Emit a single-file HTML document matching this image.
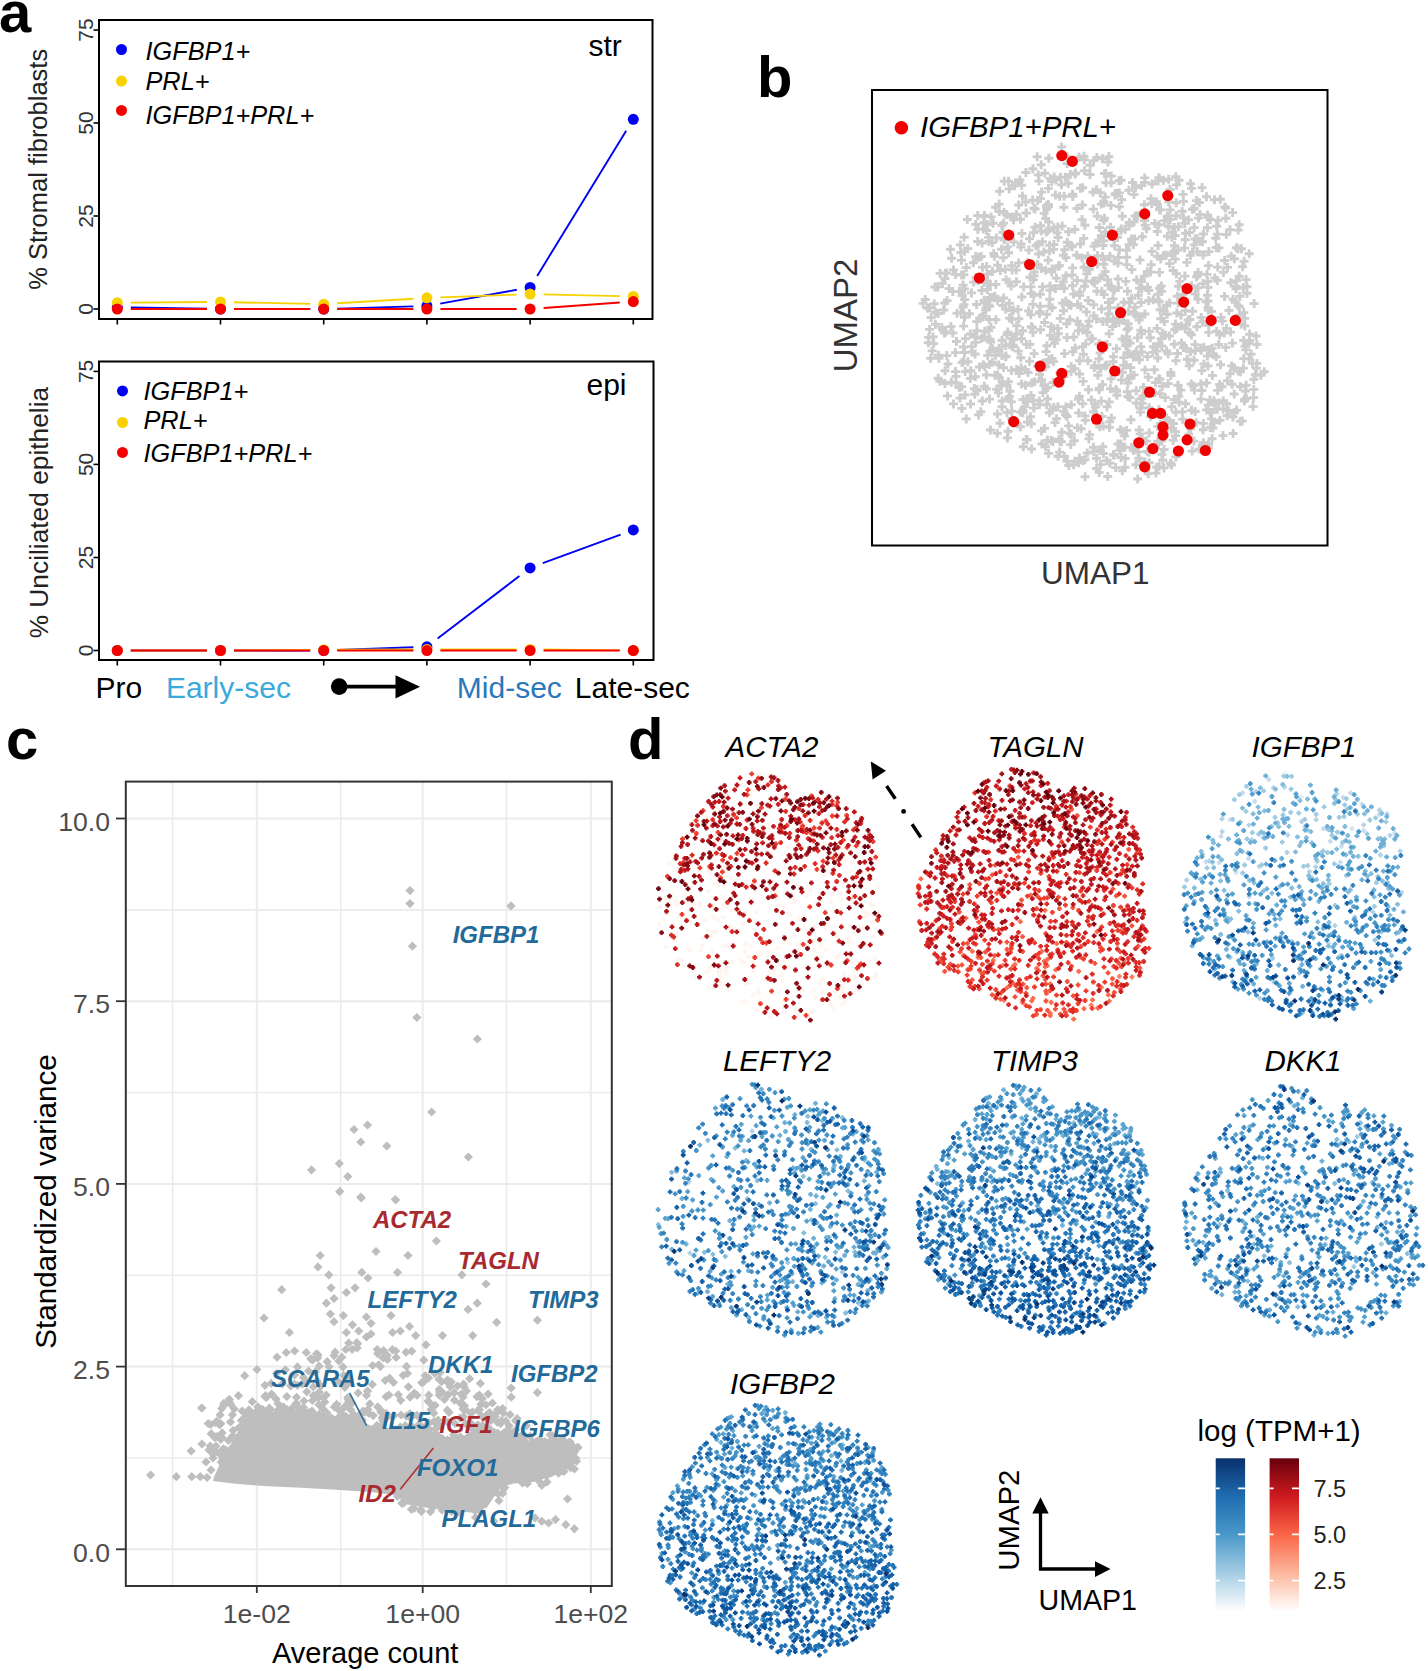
<!DOCTYPE html><html><head><meta charset="utf-8"><style>html,body{margin:0;padding:0;background:#fff;overflow:hidden;}svg{display:block;font-family:"Liberation Sans", sans-serif;}</style></head><body><svg width="1428" height="1671" viewBox="0 0 1428 1671"><rect width="1428" height="1671" fill="#fff"/><text x="-1" y="31.5" font-size="58" font-weight="bold">a</text><path d="M130.8 307.5L207 308.8M234 309L310.2 309M337.2 308.6L413.4 306.4M440.2 303.6L516.8 289.8M537.2 275.9L626.2 130.8" stroke="#0000f5" stroke-width="1.9" fill="none"/><circle cx="117.3" cy="307.3" r="5.5" fill="#0000f5"/><circle cx="220.5" cy="309" r="5.5" fill="#0000f5"/><circle cx="323.7" cy="309" r="5.5" fill="#0000f5"/><circle cx="426.9" cy="306" r="5.5" fill="#0000f5"/><circle cx="530.1" cy="287.4" r="5.5" fill="#0000f5"/><circle cx="633.3" cy="119.3" r="5.5" fill="#0000f5"/><path d="M130.8 302.6L207 302M234 302.2L310.2 303.9M337.2 303.3L413.4 298.7M440.4 297.4L516.6 294.6M543.6 294.4L619.8 296.1" stroke="#f8d200" stroke-width="1.9" fill="none"/><circle cx="117.3" cy="302.7" r="5.5" fill="#f8d200"/><circle cx="220.5" cy="301.9" r="5.5" fill="#f8d200"/><circle cx="323.7" cy="304.2" r="5.5" fill="#f8d200"/><circle cx="426.9" cy="297.8" r="5.5" fill="#f8d200"/><circle cx="530.1" cy="294.1" r="5.5" fill="#f8d200"/><circle cx="633.3" cy="296.4" r="5.5" fill="#f8d200"/><path d="M130.8 309L207 309M234 309L310.2 309M337.2 309L413.4 309M440.4 309L516.6 309M543.6 308L619.8 302.5" stroke="#f50000" stroke-width="1.9" fill="none"/><circle cx="117.3" cy="309" r="5.5" fill="#f50000"/><circle cx="220.5" cy="309" r="5.5" fill="#f50000"/><circle cx="323.7" cy="309" r="5.5" fill="#f50000"/><circle cx="426.9" cy="309" r="5.5" fill="#f50000"/><circle cx="530.1" cy="309" r="5.5" fill="#f50000"/><circle cx="633.3" cy="301.6" r="5.5" fill="#f50000"/><rect x="99" y="20" width="553.5" height="299" fill="none" stroke="#000" stroke-width="2"/><path d="M93.5 309H99" stroke="#000" stroke-width="1.6"/><text transform="translate(93 309) rotate(-90)" text-anchor="middle" font-size="21" fill="#333">0</text><path d="M93.5 216H99" stroke="#000" stroke-width="1.6"/><text transform="translate(93 216) rotate(-90)" text-anchor="middle" font-size="21" fill="#333">25</text><path d="M93.5 123H99" stroke="#000" stroke-width="1.6"/><text transform="translate(93 123) rotate(-90)" text-anchor="middle" font-size="21" fill="#333">50</text><path d="M93.5 30H99" stroke="#000" stroke-width="1.6"/><text transform="translate(93 30) rotate(-90)" text-anchor="middle" font-size="21" fill="#333">75</text><path d="M117.3 319V324.5" stroke="#000" stroke-width="1.6"/><path d="M220.5 319V324.5" stroke="#000" stroke-width="1.6"/><path d="M323.7 319V324.5" stroke="#000" stroke-width="1.6"/><path d="M426.9 319V324.5" stroke="#000" stroke-width="1.6"/><path d="M530.1 319V324.5" stroke="#000" stroke-width="1.6"/><path d="M633.3 319V324.5" stroke="#000" stroke-width="1.6"/><text transform="translate(46.8 169.3) rotate(-90)" text-anchor="middle" font-size="25.5" fill="#222">% Stromal fibroblasts</text><text x="588.5" y="55.8" font-size="30" fill="#000">str</text><circle cx="121.5" cy="49.5" r="5.5" fill="#0000f5"/><text x="145.5" y="60.3" font-size="25.3" font-style="italic" fill="#000">IGFBP1+</text><circle cx="121.5" cy="81.1" r="5.5" fill="#f8d200"/><text x="145.5" y="90.2" font-size="25.3" font-style="italic" fill="#000">PRL+</text><circle cx="121.5" cy="110.4" r="5.5" fill="#f50000"/><text x="145.5" y="123.5" font-size="25.3" font-style="italic" fill="#000">IGFBP1+PRL+</text><path d="M130.8 650.5L207 650.5M234 650.5L310.2 650.5M337.2 650L413.4 647.3M437.6 638.6L519.4 576.1M542.8 563.2L620.6 534.6" stroke="#0000f5" stroke-width="1.9" fill="none"/><circle cx="117.3" cy="650.5" r="5.5" fill="#0000f5"/><circle cx="220.5" cy="650.5" r="5.5" fill="#0000f5"/><circle cx="323.7" cy="650.5" r="5.5" fill="#0000f5"/><circle cx="426.9" cy="646.8" r="5.5" fill="#0000f5"/><circle cx="530.1" cy="567.9" r="5.5" fill="#0000f5"/><circle cx="633.3" cy="529.9" r="5.5" fill="#0000f5"/><path d="M130.8 650.5L207 650.5M234 650.4L310.2 649.9M337.2 649.7L413.4 649.4M440.4 649.4L516.6 649.4M543.6 649.5L619.8 650.4" stroke="#f8d200" stroke-width="1.9" fill="none"/><circle cx="117.3" cy="650.5" r="5.5" fill="#f8d200"/><circle cx="220.5" cy="650.5" r="5.5" fill="#f8d200"/><circle cx="323.7" cy="649.8" r="5.5" fill="#f8d200"/><circle cx="426.9" cy="649.4" r="5.5" fill="#f8d200"/><circle cx="530.1" cy="649.4" r="5.5" fill="#f8d200"/><circle cx="633.3" cy="650.5" r="5.5" fill="#f8d200"/><path d="M130.8 650.5L207 650.5M234 650.5L310.2 650.5M337.2 650.5L413.4 650.5M440.4 650.5L516.6 650.5M543.6 650.5L619.8 650.5" stroke="#f50000" stroke-width="1.9" fill="none"/><circle cx="117.3" cy="650.5" r="5.5" fill="#f50000"/><circle cx="220.5" cy="650.5" r="5.5" fill="#f50000"/><circle cx="323.7" cy="650.5" r="5.5" fill="#f50000"/><circle cx="426.9" cy="650.5" r="5.5" fill="#f50000"/><circle cx="530.1" cy="650.5" r="5.5" fill="#f50000"/><circle cx="633.3" cy="650.5" r="5.5" fill="#f50000"/><rect x="99" y="361.5" width="554.5" height="298.5" fill="none" stroke="#000" stroke-width="2"/><path d="M93.5 650.5H99" stroke="#000" stroke-width="1.6"/><text transform="translate(93 650.5) rotate(-90)" text-anchor="middle" font-size="21" fill="#333">0</text><path d="M93.5 557.5H99" stroke="#000" stroke-width="1.6"/><text transform="translate(93 557.5) rotate(-90)" text-anchor="middle" font-size="21" fill="#333">25</text><path d="M93.5 464.4H99" stroke="#000" stroke-width="1.6"/><text transform="translate(93 464.4) rotate(-90)" text-anchor="middle" font-size="21" fill="#333">50</text><path d="M93.5 371.4H99" stroke="#000" stroke-width="1.6"/><text transform="translate(93 371.4) rotate(-90)" text-anchor="middle" font-size="21" fill="#333">75</text><path d="M117.3 660V665.5" stroke="#000" stroke-width="1.6"/><path d="M220.5 660V665.5" stroke="#000" stroke-width="1.6"/><path d="M323.7 660V665.5" stroke="#000" stroke-width="1.6"/><path d="M426.9 660V665.5" stroke="#000" stroke-width="1.6"/><path d="M530.1 660V665.5" stroke="#000" stroke-width="1.6"/><path d="M633.3 660V665.5" stroke="#000" stroke-width="1.6"/><text transform="translate(47.8 512.6) rotate(-90)" text-anchor="middle" font-size="26.3" fill="#222">% Unciliated epithelia</text><text x="586.5" y="395" font-size="30" fill="#000">epi</text><circle cx="122.5" cy="390.9" r="5.5" fill="#0000f5"/><text x="143.5" y="399.5" font-size="25.3" font-style="italic" fill="#000">IGFBP1+</text><circle cx="122.5" cy="422.5" r="5.5" fill="#f8d200"/><text x="143.5" y="429.3" font-size="25.3" font-style="italic" fill="#000">PRL+</text><circle cx="122.5" cy="452.4" r="5.5" fill="#f50000"/><text x="143.5" y="462" font-size="25.3" font-style="italic" fill="#000">IGFBP1+PRL+</text><text x="95.6" y="697.8" font-size="30" fill="#000">Pro</text><text x="165.9" y="697.8" font-size="30" fill="#3aa9dc">Early-sec</text><text x="456.8" y="697.8" font-size="30" fill="#2b78bd">Mid-sec</text><text x="574.8" y="697.8" font-size="30" fill="#000">Late-sec</text><circle cx="339.2" cy="686.6" r="8.3" fill="#000"/><path d="M339 686.6H397" stroke="#000" stroke-width="3.6"/><path d="M395.5 675.2L420 686.8L395.5 698.5Z" fill="#000"/><text x="757" y="96.5" font-size="58" font-weight="bold">b</text><rect x="872" y="90" width="455.5" height="455.5" fill="none" stroke="#000" stroke-width="2"/><path d="M1073.9 330.9h9m-4.5-4.5v9M1234.9 306.9h9m-4.5-4.5v9M1094.3 344h9m-4.5-4.5v9M978.4 316.2h9m-4.5-4.5v9M1136.1 412.1h9m-4.5-4.5v9M945.8 249.2h9m-4.5-4.5v9M1148.3 352.4h9m-4.5-4.5v9M1101.3 173.5h9m-4.5-4.5v9M978.8 228.9h9m-4.5-4.5v9M929.7 303.7h9m-4.5-4.5v9M1072.9 427.7h9m-4.5-4.5v9M1094.4 359h9m-4.5-4.5v9M1089.8 367.6h9m-4.5-4.5v9M1075.9 244h9m-4.5-4.5v9M1202.2 382.9h9m-4.5-4.5v9M1030.6 227.3h9m-4.5-4.5v9M1021.4 172.5h9m-4.5-4.5v9M1180.4 276.1h9m-4.5-4.5v9M1210.3 278h9m-4.5-4.5v9M1233.6 305.8h9m-4.5-4.5v9M942.3 355.6h9m-4.5-4.5v9M1180.7 239.7h9m-4.5-4.5v9M947.1 258.3h9m-4.5-4.5v9M1249 397.6h9m-4.5-4.5v9M1194.8 202.5h9m-4.5-4.5v9M1109.8 290.3h9m-4.5-4.5v9M982 389h9m-4.5-4.5v9M959.3 361.2h9m-4.5-4.5v9M958.6 285.1h9m-4.5-4.5v9M991.9 238h9m-4.5-4.5v9M1021.8 439.4h9m-4.5-4.5v9M985.8 284.8h9m-4.5-4.5v9M1216.1 364.8h9m-4.5-4.5v9M1185.9 255.4h9m-4.5-4.5v9M952 341.5h9m-4.5-4.5v9M1001.2 345.6h9m-4.5-4.5v9M1045.3 299.2h9m-4.5-4.5v9M1249.6 303.6h9m-4.5-4.5v9M1118.7 431.4h9m-4.5-4.5v9M1228.4 417h9m-4.5-4.5v9M999.6 212.6h9m-4.5-4.5v9M1171.4 456.9h9m-4.5-4.5v9M1221.3 347.4h9m-4.5-4.5v9M1063.7 183.4h9m-4.5-4.5v9M997.8 382.2h9m-4.5-4.5v9M1007.4 418.5h9m-4.5-4.5v9M1122.2 250.2h9m-4.5-4.5v9M979.8 386.3h9m-4.5-4.5v9M1116 429.7h9m-4.5-4.5v9M1128.9 244.6h9m-4.5-4.5v9M1065.8 174.6h9m-4.5-4.5v9M978 267.3h9m-4.5-4.5v9M1112.2 193.2h9m-4.5-4.5v9M1043 440.3h9m-4.5-4.5v9M1252.3 363.4h9m-4.5-4.5v9M1154.4 343.8h9m-4.5-4.5v9M1159.5 467.9h9m-4.5-4.5v9M926.2 358.2h9m-4.5-4.5v9M1084.1 389.7h9m-4.5-4.5v9M946.4 326.5h9m-4.5-4.5v9M1168.7 440.4h9m-4.5-4.5v9M1173.7 385.4h9m-4.5-4.5v9M1187.7 451.1h9m-4.5-4.5v9M1035 374.3h9m-4.5-4.5v9M1061.4 406.9h9m-4.5-4.5v9M1215.1 335h9m-4.5-4.5v9M1132.2 280h9m-4.5-4.5v9M1121.2 345.5h9m-4.5-4.5v9M943.5 364h9m-4.5-4.5v9M1168.6 270.5h9m-4.5-4.5v9M1170.2 329.7h9m-4.5-4.5v9M943 395.9h9m-4.5-4.5v9M929.3 343.6h9m-4.5-4.5v9M1080.5 225.2h9m-4.5-4.5v9M1159 310.8h9m-4.5-4.5v9M1128.6 447.8h9m-4.5-4.5v9M1020.9 369.7h9m-4.5-4.5v9M991.1 207.2h9m-4.5-4.5v9M1229.7 367.7h9m-4.5-4.5v9M1069.8 440.8h9m-4.5-4.5v9M1033.1 366h9m-4.5-4.5v9M982.9 289.5h9m-4.5-4.5v9M1194.6 449.1h9m-4.5-4.5v9M1218.9 272.4h9m-4.5-4.5v9M1114.9 249.9h9m-4.5-4.5v9M964.9 313.8h9m-4.5-4.5v9M1205.7 427.4h9m-4.5-4.5v9M1158.3 460.3h9m-4.5-4.5v9M1014.2 205h9m-4.5-4.5v9M991.4 284.4h9m-4.5-4.5v9M1129.2 312.5h9m-4.5-4.5v9M1026.8 423.8h9m-4.5-4.5v9M1160.8 335.2h9m-4.5-4.5v9M1018.4 412.8h9m-4.5-4.5v9M1074.6 157.3h9m-4.5-4.5v9M1202.9 227.7h9m-4.5-4.5v9M1133.8 295.3h9m-4.5-4.5v9M1134.9 359.8h9m-4.5-4.5v9M1155 209.8h9m-4.5-4.5v9M1077.9 205h9m-4.5-4.5v9M918.6 303.4h9m-4.5-4.5v9M1165.6 209.9h9m-4.5-4.5v9M1014.1 262.9h9m-4.5-4.5v9M1156.6 318.6h9m-4.5-4.5v9M1125.5 397.6h9m-4.5-4.5v9M1053.4 406.8h9m-4.5-4.5v9M1235.9 386.5h9m-4.5-4.5v9M957.7 295.5h9m-4.5-4.5v9M1129.7 450h9m-4.5-4.5v9M1045.8 335.4h9m-4.5-4.5v9M1218.7 408.9h9m-4.5-4.5v9M1235.4 296.4h9m-4.5-4.5v9M1140 220.5h9m-4.5-4.5v9M1163.5 420.6h9m-4.5-4.5v9M1139 387.4h9m-4.5-4.5v9M1102.5 406.9h9m-4.5-4.5v9M1027 449h9m-4.5-4.5v9M1213.2 267.1h9m-4.5-4.5v9M948.3 291.5h9m-4.5-4.5v9M1104.7 401.9h9m-4.5-4.5v9M1085.6 165.2h9m-4.5-4.5v9M1029.3 408.1h9m-4.5-4.5v9M1094.9 388.1h9m-4.5-4.5v9M1207.9 375.5h9m-4.5-4.5v9M1239.3 312.6h9m-4.5-4.5v9M991.4 319.7h9m-4.5-4.5v9M1021 385.2h9m-4.5-4.5v9M1135.3 316.8h9m-4.5-4.5v9M1204.3 332.4h9m-4.5-4.5v9M1029.7 272h9m-4.5-4.5v9M1203.8 447.8h9m-4.5-4.5v9M985.9 430h9m-4.5-4.5v9M1117.8 216.2h9m-4.5-4.5v9M1104.3 313.7h9m-4.5-4.5v9M1113.6 307.8h9m-4.5-4.5v9M1103.7 285.4h9m-4.5-4.5v9M1007.3 310.6h9m-4.5-4.5v9M960.1 289h9m-4.5-4.5v9M1199 442.7h9m-4.5-4.5v9M1083.1 255.9h9m-4.5-4.5v9M985.2 351.2h9m-4.5-4.5v9M982.8 224.4h9m-4.5-4.5v9M1152.8 256.2h9m-4.5-4.5v9M1041.6 351.6h9m-4.5-4.5v9M954.7 387.5h9m-4.5-4.5v9M960 317.2h9m-4.5-4.5v9M1097.3 291.3h9m-4.5-4.5v9M1045.5 285.9h9m-4.5-4.5v9M1099.1 201.7h9m-4.5-4.5v9M991 355.3h9m-4.5-4.5v9M1207.6 348.3h9m-4.5-4.5v9M1212.1 226.2h9m-4.5-4.5v9M1171.4 412.2h9m-4.5-4.5v9M1226.7 256.3h9m-4.5-4.5v9M1002.4 385.4h9m-4.5-4.5v9M1004 181.3h9m-4.5-4.5v9M1203.5 287.4h9m-4.5-4.5v9M1187 188.4h9m-4.5-4.5v9M1055.9 372.6h9m-4.5-4.5v9M1154 444.1h9m-4.5-4.5v9M1090.4 403.9h9m-4.5-4.5v9M1093.4 375.2h9m-4.5-4.5v9M1108.6 319.2h9m-4.5-4.5v9M1110.5 194.9h9m-4.5-4.5v9M979.8 216.9h9m-4.5-4.5v9M1073.9 399.3h9m-4.5-4.5v9M1028.4 304.4h9m-4.5-4.5v9M1092.4 291.2h9m-4.5-4.5v9M1160.4 428.1h9m-4.5-4.5v9M979.6 302.8h9m-4.5-4.5v9M1175.3 281.4h9m-4.5-4.5v9M1092.4 157.5h9m-4.5-4.5v9M1223.8 410.4h9m-4.5-4.5v9M1159.7 430.7h9m-4.5-4.5v9M1136.9 281.6h9m-4.5-4.5v9M1124.1 311.6h9m-4.5-4.5v9M1174.6 402.3h9m-4.5-4.5v9M1198.5 283.6h9m-4.5-4.5v9M1155.9 393.7h9m-4.5-4.5v9M1035.8 306.2h9m-4.5-4.5v9M1137.3 352h9m-4.5-4.5v9M1146.7 264.7h9m-4.5-4.5v9M1145.8 337.8h9m-4.5-4.5v9M1098.4 275.8h9m-4.5-4.5v9M1131.7 390.7h9m-4.5-4.5v9M1004.9 282.2h9m-4.5-4.5v9M1047.3 181.5h9m-4.5-4.5v9M1251.6 336h9m-4.5-4.5v9M1123.5 396.5h9m-4.5-4.5v9M972.1 304.5h9m-4.5-4.5v9M975.2 317.9h9m-4.5-4.5v9M1242.5 286.7h9m-4.5-4.5v9M1101.4 344.7h9m-4.5-4.5v9M1045.1 245.2h9m-4.5-4.5v9M1017 383.9h9m-4.5-4.5v9M972.5 390.9h9m-4.5-4.5v9M1055.5 441.4h9m-4.5-4.5v9M1066.5 305.6h9m-4.5-4.5v9M1095.3 450.5h9m-4.5-4.5v9M1165.2 303.1h9m-4.5-4.5v9M1124.3 190.3h9m-4.5-4.5v9M1095.7 192.7h9m-4.5-4.5v9M1070.1 368.7h9m-4.5-4.5v9M1070.3 229.5h9m-4.5-4.5v9M1113.9 287.6h9m-4.5-4.5v9M1183.6 319.9h9m-4.5-4.5v9M1169.8 227.4h9m-4.5-4.5v9M1186 351.8h9m-4.5-4.5v9M1037.9 241.7h9m-4.5-4.5v9M1156.6 338.8h9m-4.5-4.5v9M1122.7 352.6h9m-4.5-4.5v9M1177.7 211.2h9m-4.5-4.5v9M1006.7 286h9m-4.5-4.5v9M1128 182.5h9m-4.5-4.5v9M1106.7 176h9m-4.5-4.5v9M951 371.6h9m-4.5-4.5v9M1108.9 356.7h9m-4.5-4.5v9M1047.7 307.8h9m-4.5-4.5v9M993.1 265.1h9m-4.5-4.5v9M1169 423.5h9m-4.5-4.5v9M1196.7 350.3h9m-4.5-4.5v9M1179 217.9h9m-4.5-4.5v9M1064 231.8h9m-4.5-4.5v9M1193.6 272.4h9m-4.5-4.5v9M1143.7 473.7h9m-4.5-4.5v9M1028 327.7h9m-4.5-4.5v9M1172.7 451.6h9m-4.5-4.5v9M1067.7 274.9h9m-4.5-4.5v9M1153.6 245.5h9m-4.5-4.5v9M994.2 364.9h9m-4.5-4.5v9M1166.4 375.5h9m-4.5-4.5v9M1017.9 196h9m-4.5-4.5v9M1041.5 388.1h9m-4.5-4.5v9M1043.9 188.4h9m-4.5-4.5v9M1231.6 288.8h9m-4.5-4.5v9M1192.9 251.7h9m-4.5-4.5v9M1028.7 279.7h9m-4.5-4.5v9M1007.2 265.6h9m-4.5-4.5v9M1041.2 270.3h9m-4.5-4.5v9M1051.9 278.1h9m-4.5-4.5v9M984.1 330.8h9m-4.5-4.5v9M1192.4 326.7h9m-4.5-4.5v9M977.8 401h9m-4.5-4.5v9M1221.8 234.5h9m-4.5-4.5v9M926.6 317.6h9m-4.5-4.5v9M1104.7 333.8h9m-4.5-4.5v9M1248.1 363.4h9m-4.5-4.5v9M970.3 394.3h9m-4.5-4.5v9M1142 228.8h9m-4.5-4.5v9M997.7 401h9m-4.5-4.5v9M1096.7 401.1h9m-4.5-4.5v9M1054.9 265.4h9m-4.5-4.5v9M1252 368.2h9m-4.5-4.5v9M1083.5 326.3h9m-4.5-4.5v9M1163.7 383.6h9m-4.5-4.5v9M1232.1 280.6h9m-4.5-4.5v9M1203.5 365.9h9m-4.5-4.5v9M1212.6 409.3h9m-4.5-4.5v9M1204 444.2h9m-4.5-4.5v9M1244.7 358.9h9m-4.5-4.5v9M1098.1 384.6h9m-4.5-4.5v9M1193.5 287.7h9m-4.5-4.5v9M1068.3 196.4h9m-4.5-4.5v9M1044.1 206.8h9m-4.5-4.5v9M957.5 362.6h9m-4.5-4.5v9M1187.9 209.2h9m-4.5-4.5v9M940.2 303h9m-4.5-4.5v9M1118.2 447.7h9m-4.5-4.5v9M979.4 222.8h9m-4.5-4.5v9M1124.8 222.5h9m-4.5-4.5v9M984.3 241.4h9m-4.5-4.5v9M1026.8 326.8h9m-4.5-4.5v9M1203.5 307.6h9m-4.5-4.5v9M1229.9 258.8h9m-4.5-4.5v9M1105.4 463.1h9m-4.5-4.5v9M1193.2 275.3h9m-4.5-4.5v9M1102.3 321.4h9m-4.5-4.5v9M1044.9 412.7h9m-4.5-4.5v9M1162 351h9m-4.5-4.5v9M1029.1 232.6h9m-4.5-4.5v9M1217.9 321.1h9m-4.5-4.5v9M1133.1 479h9m-4.5-4.5v9M1012.1 325.8h9m-4.5-4.5v9M966 404h9m-4.5-4.5v9M1209.6 422.9h9m-4.5-4.5v9M1159.1 180.3h9m-4.5-4.5v9M1083.7 300.5h9m-4.5-4.5v9M1245 340.5h9m-4.5-4.5v9M1211.8 247.5h9m-4.5-4.5v9M1187 285.8h9m-4.5-4.5v9M1203.5 217.3h9m-4.5-4.5v9M1102.7 319.4h9m-4.5-4.5v9M1024.4 250.1h9m-4.5-4.5v9M1078.6 381.4h9m-4.5-4.5v9M951 274.4h9m-4.5-4.5v9M1074.1 462.7h9m-4.5-4.5v9M1199.5 364h9m-4.5-4.5v9M1163.7 226.2h9m-4.5-4.5v9M1194 218.1h9m-4.5-4.5v9M1046.6 326.6h9m-4.5-4.5v9M1023.1 262.2h9m-4.5-4.5v9M1055.4 373.3h9m-4.5-4.5v9M1007.8 216.9h9m-4.5-4.5v9M1170.7 259.1h9m-4.5-4.5v9M1245.1 334.2h9m-4.5-4.5v9M1151.1 382.5h9m-4.5-4.5v9M979.3 282.5h9m-4.5-4.5v9M1204.7 349.8h9m-4.5-4.5v9M1056 177.3h9m-4.5-4.5v9M1231.3 286.5h9m-4.5-4.5v9M1178.2 419.3h9m-4.5-4.5v9M1058.6 153.9h9m-4.5-4.5v9M1056.7 379.2h9m-4.5-4.5v9M1038.3 363.2h9m-4.5-4.5v9M957.1 275h9m-4.5-4.5v9M1091 407h9m-4.5-4.5v9M1199.4 347.3h9m-4.5-4.5v9M1226.1 332.1h9m-4.5-4.5v9M1042.2 314.3h9m-4.5-4.5v9M969.9 388.6h9m-4.5-4.5v9M1160.3 422.2h9m-4.5-4.5v9M1133.2 215.7h9m-4.5-4.5v9M1116.9 379.9h9m-4.5-4.5v9M1044.4 306.1h9m-4.5-4.5v9M1109.4 239h9m-4.5-4.5v9M1196.3 348.3h9m-4.5-4.5v9M1018.8 446.7h9m-4.5-4.5v9M1002.5 334.8h9m-4.5-4.5v9M1203.1 214.9h9m-4.5-4.5v9M1147.4 251.4h9m-4.5-4.5v9M1146.6 391.9h9m-4.5-4.5v9M1050 343.4h9m-4.5-4.5v9M985.2 306.4h9m-4.5-4.5v9M971.5 277.5h9m-4.5-4.5v9M1114.8 206.8h9m-4.5-4.5v9M1096.8 235.7h9m-4.5-4.5v9M1113.8 257.5h9m-4.5-4.5v9M1146.4 198.8h9m-4.5-4.5v9M1244.5 343.3h9m-4.5-4.5v9M1080.1 286.2h9m-4.5-4.5v9M1126.3 375.8h9m-4.5-4.5v9M1174.2 396.3h9m-4.5-4.5v9M1059.7 288.4h9m-4.5-4.5v9M1113.5 444h9m-4.5-4.5v9M1066.2 444.6h9m-4.5-4.5v9M1028.4 168.7h9m-4.5-4.5v9M1169.8 344.2h9m-4.5-4.5v9M1173.4 250.1h9m-4.5-4.5v9M1090.2 281h9m-4.5-4.5v9M933.6 378.3h9m-4.5-4.5v9M1094.8 227.5h9m-4.5-4.5v9M1025.5 277.2h9m-4.5-4.5v9M1144.7 432.9h9m-4.5-4.5v9M1061.1 414.8h9m-4.5-4.5v9M994 392.9h9m-4.5-4.5v9M959.1 326.1h9m-4.5-4.5v9M1003.1 246.9h9m-4.5-4.5v9M1222.7 415.7h9m-4.5-4.5v9M1053.9 266.3h9m-4.5-4.5v9M1024.1 311h9m-4.5-4.5v9M1077.5 219.6h9m-4.5-4.5v9M1228.1 212.6h9m-4.5-4.5v9M1204 265.6h9m-4.5-4.5v9M1167.5 253.7h9m-4.5-4.5v9M1162.7 193.7h9m-4.5-4.5v9M1157.4 454.6h9m-4.5-4.5v9M1071.1 173h9m-4.5-4.5v9M997 249.2h9m-4.5-4.5v9M1162.7 216.3h9m-4.5-4.5v9M1144.6 407.7h9m-4.5-4.5v9M1042.9 362.8h9m-4.5-4.5v9M1227.9 343.1h9m-4.5-4.5v9M1233.7 370.9h9m-4.5-4.5v9M1016.3 357.7h9m-4.5-4.5v9M1072.9 321.3h9m-4.5-4.5v9M1103.4 162.1h9m-4.5-4.5v9M1002.5 412.5h9m-4.5-4.5v9M1173.9 226.8h9m-4.5-4.5v9M1018.2 330.8h9m-4.5-4.5v9M1074.9 396.3h9m-4.5-4.5v9M1053.5 456.3h9m-4.5-4.5v9M1088.8 209.1h9m-4.5-4.5v9M1108.7 361.7h9m-4.5-4.5v9M1041.2 366.7h9m-4.5-4.5v9M1185.4 319.5h9m-4.5-4.5v9M1095.2 426.7h9m-4.5-4.5v9M1156.3 318.8h9m-4.5-4.5v9M1189.7 208.5h9m-4.5-4.5v9M1129.6 221.8h9m-4.5-4.5v9M1066.8 404.8h9m-4.5-4.5v9M1181.1 403.7h9m-4.5-4.5v9M1001.3 309.2h9m-4.5-4.5v9M997.5 340.2h9m-4.5-4.5v9M1089.2 160.6h9m-4.5-4.5v9M1123.4 383h9m-4.5-4.5v9M922.9 308.2h9m-4.5-4.5v9M1069.1 294.1h9m-4.5-4.5v9M1007.2 411.1h9m-4.5-4.5v9M1111.2 321.5h9m-4.5-4.5v9M1189.6 227.6h9m-4.5-4.5v9M974.2 257.3h9m-4.5-4.5v9M1134.7 320.1h9m-4.5-4.5v9M1009.3 339.9h9m-4.5-4.5v9M973.4 229.4h9m-4.5-4.5v9M970.8 376.7h9m-4.5-4.5v9M1202.1 409.9h9m-4.5-4.5v9M937.9 283.4h9m-4.5-4.5v9M1044.2 222.1h9m-4.5-4.5v9M1086.9 399.9h9m-4.5-4.5v9M1049.1 249.4h9m-4.5-4.5v9M1060.7 177.3h9m-4.5-4.5v9M1176.4 390.1h9m-4.5-4.5v9M998.4 232.2h9m-4.5-4.5v9M1106 227.3h9m-4.5-4.5v9M1075 458.1h9m-4.5-4.5v9M1043.6 260.2h9m-4.5-4.5v9M930.4 287h9m-4.5-4.5v9M1037 379.7h9m-4.5-4.5v9M1214.3 344.5h9m-4.5-4.5v9M1220.1 296.4h9m-4.5-4.5v9M1050.5 422.6h9m-4.5-4.5v9M1047.6 410.3h9m-4.5-4.5v9M980.3 331.2h9m-4.5-4.5v9M973.3 215.6h9m-4.5-4.5v9M993.1 300.7h9m-4.5-4.5v9M1026.5 293.6h9m-4.5-4.5v9M1259.7 371.8h9m-4.5-4.5v9M1213.6 220.3h9m-4.5-4.5v9M1049.7 177h9m-4.5-4.5v9M1154.9 272.4h9m-4.5-4.5v9M982.2 230.5h9m-4.5-4.5v9M1162.8 236.2h9m-4.5-4.5v9M1041.9 205.7h9m-4.5-4.5v9M1238.1 266.7h9m-4.5-4.5v9M1028.7 400.2h9m-4.5-4.5v9M1053.3 227h9m-4.5-4.5v9M1026.4 286.9h9m-4.5-4.5v9M1110.7 193.7h9m-4.5-4.5v9M1166.3 372.5h9m-4.5-4.5v9M1106.9 418h9m-4.5-4.5v9M1144.5 452.2h9m-4.5-4.5v9M993.1 375.1h9m-4.5-4.5v9M1140.4 462h9m-4.5-4.5v9M1140.2 177.9h9m-4.5-4.5v9M1061.5 275.7h9m-4.5-4.5v9M940.9 273.2h9m-4.5-4.5v9M1035 313.4h9m-4.5-4.5v9M1057.8 303.1h9m-4.5-4.5v9M975 367h9m-4.5-4.5v9M1038 286.9h9m-4.5-4.5v9M971.1 342.4h9m-4.5-4.5v9M1158.2 333.3h9m-4.5-4.5v9M933.6 313.5h9m-4.5-4.5v9M1119.4 302.3h9m-4.5-4.5v9M1219.7 333.1h9m-4.5-4.5v9M1006.9 370.4h9m-4.5-4.5v9M984.7 304.9h9m-4.5-4.5v9M1131.4 464.8h9m-4.5-4.5v9M1048.5 339.2h9m-4.5-4.5v9M1239.9 401h9m-4.5-4.5v9M1057.1 285.5h9m-4.5-4.5v9M1008.6 422.9h9m-4.5-4.5v9M1025.7 264.9h9m-4.5-4.5v9M1150.3 223.5h9m-4.5-4.5v9M925.1 329.4h9m-4.5-4.5v9M1090.3 365.6h9m-4.5-4.5v9M1105.3 421.7h9m-4.5-4.5v9M1037.4 444h9m-4.5-4.5v9M1027.2 382.9h9m-4.5-4.5v9M1155.3 379.2h9m-4.5-4.5v9M970.6 354h9m-4.5-4.5v9M1082.6 332.5h9m-4.5-4.5v9M1181.8 325h9m-4.5-4.5v9M1029.5 208.2h9m-4.5-4.5v9M1091.9 189.8h9m-4.5-4.5v9M951.3 382.9h9m-4.5-4.5v9M960.2 299.6h9m-4.5-4.5v9M1180.9 310.7h9m-4.5-4.5v9M1005 318.1h9m-4.5-4.5v9M1168 232.2h9m-4.5-4.5v9M1161.6 255.3h9m-4.5-4.5v9M1034.8 400.9h9m-4.5-4.5v9M1108.4 289.3h9m-4.5-4.5v9M1163.6 353.8h9m-4.5-4.5v9M1205.6 412.6h9m-4.5-4.5v9M959.3 274.7h9m-4.5-4.5v9M1120.7 458.5h9m-4.5-4.5v9M1155.1 288.4h9m-4.5-4.5v9M935.3 381.3h9m-4.5-4.5v9M1032.7 156.7h9m-4.5-4.5v9M1105.3 307.9h9m-4.5-4.5v9M1045 250.7h9m-4.5-4.5v9M1191.8 422.8h9m-4.5-4.5v9M1012 281.8h9m-4.5-4.5v9M1192.1 200.6h9m-4.5-4.5v9M1088.4 192.1h9m-4.5-4.5v9M1130.1 238.9h9m-4.5-4.5v9M1041.7 232h9m-4.5-4.5v9M1088.2 281.5h9m-4.5-4.5v9M1192 276.9h9m-4.5-4.5v9M938.3 330.1h9m-4.5-4.5v9M1043.1 399h9m-4.5-4.5v9M1026.3 314.8h9m-4.5-4.5v9M1097.5 416.5h9m-4.5-4.5v9M1190 390.1h9m-4.5-4.5v9M1059.3 411.4h9m-4.5-4.5v9M1203.8 405.1h9m-4.5-4.5v9M1241.6 279.6h9m-4.5-4.5v9M1120.6 229.2h9m-4.5-4.5v9M1047.2 271.9h9m-4.5-4.5v9M1145.9 416.8h9m-4.5-4.5v9M1044.3 359.5h9m-4.5-4.5v9M1171.7 215.8h9m-4.5-4.5v9M1172.1 328.6h9m-4.5-4.5v9M1152.9 204.5h9m-4.5-4.5v9M1058.8 255.3h9m-4.5-4.5v9M1026.5 395.4h9m-4.5-4.5v9M1064.3 465.5h9m-4.5-4.5v9M1012.2 369.4h9m-4.5-4.5v9M1244.7 253.8h9m-4.5-4.5v9M982.1 266.5h9m-4.5-4.5v9M1129.9 444.5h9m-4.5-4.5v9M1211.7 356.7h9m-4.5-4.5v9M1087.9 338.6h9m-4.5-4.5v9M1153.3 294.4h9m-4.5-4.5v9M1143.1 287.1h9m-4.5-4.5v9M1049.3 227.7h9m-4.5-4.5v9M1123.3 340.6h9m-4.5-4.5v9M1098 158.8h9m-4.5-4.5v9M1123 343.4h9m-4.5-4.5v9M1168.6 252h9m-4.5-4.5v9M1057.4 432.3h9m-4.5-4.5v9M1237.7 421h9m-4.5-4.5v9M1196.7 317.5h9m-4.5-4.5v9M1215.2 384.5h9m-4.5-4.5v9M1074.7 324.6h9m-4.5-4.5v9M1188.1 311.3h9m-4.5-4.5v9M1209.5 400.7h9m-4.5-4.5v9M1109.6 455.2h9m-4.5-4.5v9M1215.4 420.3h9m-4.5-4.5v9M1217.4 386.8h9m-4.5-4.5v9M984.7 364.6h9m-4.5-4.5v9M1062.5 156.8h9m-4.5-4.5v9M1034.2 254h9m-4.5-4.5v9M1124.7 378.8h9m-4.5-4.5v9M1154.2 300.9h9m-4.5-4.5v9M1240.5 346.3h9m-4.5-4.5v9M1039.6 213.4h9m-4.5-4.5v9M1256.4 375.3h9m-4.5-4.5v9M1165.1 263.6h9m-4.5-4.5v9M967.4 351.9h9m-4.5-4.5v9M1062.6 416.5h9m-4.5-4.5v9M1061.3 300.9h9m-4.5-4.5v9M1092 458.2h9m-4.5-4.5v9M1022.6 439.7h9m-4.5-4.5v9M1015.9 426.7h9m-4.5-4.5v9M1148.7 299.7h9m-4.5-4.5v9M1234.7 276.2h9m-4.5-4.5v9M1062.8 242.3h9m-4.5-4.5v9M1069.2 464.7h9m-4.5-4.5v9M1023.6 372.5h9m-4.5-4.5v9M1152.8 231.5h9m-4.5-4.5v9M1059.6 196.3h9m-4.5-4.5v9M1225.5 229.8h9m-4.5-4.5v9M1061.6 257.6h9m-4.5-4.5v9M1198.5 429.8h9m-4.5-4.5v9M1124.2 328h9m-4.5-4.5v9M948.9 269.9h9m-4.5-4.5v9M1043.2 387.6h9m-4.5-4.5v9M1079.5 267.3h9m-4.5-4.5v9M1149 346.7h9m-4.5-4.5v9M1049.1 361.6h9m-4.5-4.5v9M987.9 271.5h9m-4.5-4.5v9M1171.3 176.8h9m-4.5-4.5v9M978.8 364.8h9m-4.5-4.5v9M1167.2 406.6h9m-4.5-4.5v9M958.6 307h9m-4.5-4.5v9M957.4 408.4h9m-4.5-4.5v9M960.9 338.7h9m-4.5-4.5v9M1091.2 243.3h9m-4.5-4.5v9M1185.2 232.6h9m-4.5-4.5v9M1062.6 163.6h9m-4.5-4.5v9M988 297.3h9m-4.5-4.5v9M1108.5 299h9m-4.5-4.5v9M1210 199.7h9m-4.5-4.5v9M1060 353.6h9m-4.5-4.5v9M974.1 414.9h9m-4.5-4.5v9M972.3 321.6h9m-4.5-4.5v9M1134.8 430h9m-4.5-4.5v9M933.3 286.9h9m-4.5-4.5v9M1141.9 441.1h9m-4.5-4.5v9M1089 447.3h9m-4.5-4.5v9M1170.6 235.5h9m-4.5-4.5v9M1045.4 290.1h9m-4.5-4.5v9M937.2 327.4h9m-4.5-4.5v9M1103 279.8h9m-4.5-4.5v9M1173.6 303.1h9m-4.5-4.5v9M1120.5 467.2h9m-4.5-4.5v9M1042.4 345.8h9m-4.5-4.5v9M1125.7 343.1h9m-4.5-4.5v9M1000.2 238.6h9m-4.5-4.5v9M1212.8 280.4h9m-4.5-4.5v9M1014.6 373.6h9m-4.5-4.5v9M1198.6 255h9m-4.5-4.5v9M1026 416.8h9m-4.5-4.5v9M1189.5 360.3h9m-4.5-4.5v9M933.8 355.2h9m-4.5-4.5v9M1108.9 454.4h9m-4.5-4.5v9M1240 399.6h9m-4.5-4.5v9M1174 286.3h9m-4.5-4.5v9M1151.4 473.1h9m-4.5-4.5v9M1190.6 294h9m-4.5-4.5v9M1171.8 273.8h9m-4.5-4.5v9M1075.4 291.9h9m-4.5-4.5v9M956.4 252.5h9m-4.5-4.5v9M1144.7 331.4h9m-4.5-4.5v9M1098.7 426.1h9m-4.5-4.5v9M1079.8 159.7h9m-4.5-4.5v9M976.9 338.2h9m-4.5-4.5v9M968.9 262.7h9m-4.5-4.5v9M1118.7 320.6h9m-4.5-4.5v9M1051.9 339.9h9m-4.5-4.5v9M1154.4 224.8h9m-4.5-4.5v9M1005.6 391.3h9m-4.5-4.5v9M1117 229.1h9m-4.5-4.5v9M1068.4 351.8h9m-4.5-4.5v9M1111.2 467.6h9m-4.5-4.5v9M1228.6 299.2h9m-4.5-4.5v9M1174.5 180.2h9m-4.5-4.5v9M1022.8 422.1h9m-4.5-4.5v9M1033.1 200.4h9m-4.5-4.5v9M1184 219.9h9m-4.5-4.5v9M986.5 327.3h9m-4.5-4.5v9M1177 343h9m-4.5-4.5v9M1241.6 385.2h9m-4.5-4.5v9M1167.4 237.3h9m-4.5-4.5v9M1100.7 231.9h9m-4.5-4.5v9M1017.4 233.5h9m-4.5-4.5v9M959.4 304.7h9m-4.5-4.5v9M1009.3 241.9h9m-4.5-4.5v9M1014.3 318.7h9m-4.5-4.5v9M1215.8 199.2h9m-4.5-4.5v9M1208.4 428h9m-4.5-4.5v9M1122.5 329.6h9m-4.5-4.5v9M1171 324.1h9m-4.5-4.5v9M1042.2 404.8h9m-4.5-4.5v9M999.1 298h9m-4.5-4.5v9M1240.1 318.4h9m-4.5-4.5v9M1113.5 263.1h9m-4.5-4.5v9M1114.9 192.9h9m-4.5-4.5v9M928.5 336.9h9m-4.5-4.5v9M1250.8 374.8h9m-4.5-4.5v9M1209.9 402.9h9m-4.5-4.5v9M1100 173.4h9m-4.5-4.5v9M1096.8 204.1h9m-4.5-4.5v9M1099.3 264.3h9m-4.5-4.5v9M1092.8 216.1h9m-4.5-4.5v9M1156.8 286h9m-4.5-4.5v9M1085.5 174.5h9m-4.5-4.5v9M963.3 248.6h9m-4.5-4.5v9M1117.9 372.4h9m-4.5-4.5v9M1129.4 354.5h9m-4.5-4.5v9M1096.1 464.6h9m-4.5-4.5v9M1095.1 343.8h9m-4.5-4.5v9M1177.9 411.7h9m-4.5-4.5v9M1203.2 281.5h9m-4.5-4.5v9M1033.4 265.1h9m-4.5-4.5v9M1098 256.4h9m-4.5-4.5v9M1004.8 303.3h9m-4.5-4.5v9M999 367.6h9m-4.5-4.5v9M1007.5 319.4h9m-4.5-4.5v9M1002.9 437.9h9m-4.5-4.5v9M1001.9 214.5h9m-4.5-4.5v9M1050.9 195.1h9m-4.5-4.5v9M1049.4 244.5h9m-4.5-4.5v9M1122.8 391.7h9m-4.5-4.5v9M1080.8 420.3h9m-4.5-4.5v9M960.7 371.6h9m-4.5-4.5v9M1036.7 164.8h9m-4.5-4.5v9M1022.1 213.1h9m-4.5-4.5v9M1176.9 325.9h9m-4.5-4.5v9M1022.2 399h9m-4.5-4.5v9M1235 315.1h9m-4.5-4.5v9M971.2 256.6h9m-4.5-4.5v9M1110.1 245.8h9m-4.5-4.5v9M1078.1 346.7h9m-4.5-4.5v9M1203.5 300.9h9m-4.5-4.5v9M971.7 389.9h9m-4.5-4.5v9M992.9 414h9m-4.5-4.5v9M1127.4 269.6h9m-4.5-4.5v9M1078.8 354.3h9m-4.5-4.5v9M1062.2 323.7h9m-4.5-4.5v9M1077.6 258h9m-4.5-4.5v9M1233.7 230.1h9m-4.5-4.5v9M1094.7 472.4h9m-4.5-4.5v9M1117.1 199.6h9m-4.5-4.5v9M951.5 376.4h9m-4.5-4.5v9M1036.1 329.7h9m-4.5-4.5v9M1089.2 451.6h9m-4.5-4.5v9M1095.3 277.9h9m-4.5-4.5v9M1008.7 345.1h9m-4.5-4.5v9M1136.6 302.5h9m-4.5-4.5v9M952.5 313.3h9m-4.5-4.5v9M1083.4 360.8h9m-4.5-4.5v9M1102.1 460.7h9m-4.5-4.5v9M1082 311.9h9m-4.5-4.5v9M1012.6 423.6h9m-4.5-4.5v9M1092.9 263.9h9m-4.5-4.5v9M986.6 216.9h9m-4.5-4.5v9M1154.5 409.8h9m-4.5-4.5v9M1162.1 418.2h9m-4.5-4.5v9M1239.3 358.6h9m-4.5-4.5v9M940.6 370.8h9m-4.5-4.5v9M1214.4 247.9h9m-4.5-4.5v9M981.9 375h9m-4.5-4.5v9M1131 187.5h9m-4.5-4.5v9M1214.3 403h9m-4.5-4.5v9M1184.3 434.1h9m-4.5-4.5v9M1116.6 457.5h9m-4.5-4.5v9M1140.4 314h9m-4.5-4.5v9M1047.7 269h9m-4.5-4.5v9M1137.7 403.3h9m-4.5-4.5v9M1025 238.7h9m-4.5-4.5v9M983.2 355.4h9m-4.5-4.5v9M1231.9 247.8h9m-4.5-4.5v9M1241.3 349.9h9m-4.5-4.5v9M1248.5 406.6h9m-4.5-4.5v9M1031.5 245.7h9m-4.5-4.5v9M1097.1 309h9m-4.5-4.5v9M1103.9 302.5h9m-4.5-4.5v9M985.4 339.3h9m-4.5-4.5v9M998.7 257.8h9m-4.5-4.5v9M1040.1 322.5h9m-4.5-4.5v9M998.1 305.5h9m-4.5-4.5v9M1066.5 371.4h9m-4.5-4.5v9M1180.8 328.7h9m-4.5-4.5v9M1134.5 458.2h9m-4.5-4.5v9M972.4 330.7h9m-4.5-4.5v9M1182.7 359.2h9m-4.5-4.5v9M1154.8 301.9h9m-4.5-4.5v9M1080.3 459.7h9m-4.5-4.5v9M1157.4 291.4h9m-4.5-4.5v9M1111.5 389.6h9m-4.5-4.5v9M1152 351.1h9m-4.5-4.5v9M1079.5 156.2h9m-4.5-4.5v9M940.4 278.6h9m-4.5-4.5v9M1078.1 187.7h9m-4.5-4.5v9M1086.3 339.2h9m-4.5-4.5v9M960.1 251.3h9m-4.5-4.5v9M992.7 433.2h9m-4.5-4.5v9M1089.9 283.1h9m-4.5-4.5v9M1054.7 439.3h9m-4.5-4.5v9M1072.2 255.3h9m-4.5-4.5v9M1023 401.5h9m-4.5-4.5v9M1076.3 306.7h9m-4.5-4.5v9M1048.4 441.6h9m-4.5-4.5v9M1169.9 245.7h9m-4.5-4.5v9M1166.1 463.2h9m-4.5-4.5v9M1140.5 369.9h9m-4.5-4.5v9M1066.7 366.4h9m-4.5-4.5v9M1103.2 476.5h9m-4.5-4.5v9M1037.1 381h9m-4.5-4.5v9M1181 233.2h9m-4.5-4.5v9M1124.7 225.7h9m-4.5-4.5v9M939.9 333.1h9m-4.5-4.5v9M1198.9 423.4h9m-4.5-4.5v9M1160.7 397.5h9m-4.5-4.5v9M1003.8 381.7h9m-4.5-4.5v9M1227.1 365.9h9m-4.5-4.5v9M1018.3 410.5h9m-4.5-4.5v9M1127.1 298.3h9m-4.5-4.5v9M1202.4 274.4h9m-4.5-4.5v9M1007.6 269.9h9m-4.5-4.5v9M1104.4 156.6h9m-4.5-4.5v9M1009.2 310.1h9m-4.5-4.5v9M990.4 375.3h9m-4.5-4.5v9M1156.2 258.9h9m-4.5-4.5v9M1221.3 218.3h9m-4.5-4.5v9M1074.2 412.9h9m-4.5-4.5v9M1112 348.8h9m-4.5-4.5v9M994.3 351.1h9m-4.5-4.5v9M1035.7 294.3h9m-4.5-4.5v9M1235.9 371.7h9m-4.5-4.5v9M1160.1 220.6h9m-4.5-4.5v9M1218.5 435.6h9m-4.5-4.5v9M995.8 270.5h9m-4.5-4.5v9M996.8 385.8h9m-4.5-4.5v9M1102.5 344.5h9m-4.5-4.5v9M1122.1 430.4h9m-4.5-4.5v9M1143.8 377.2h9m-4.5-4.5v9M1011.8 334h9m-4.5-4.5v9M1021.9 344.4h9m-4.5-4.5v9M1010.2 185.7h9m-4.5-4.5v9M1093 255.6h9m-4.5-4.5v9M1218.7 400.8h9m-4.5-4.5v9M1058.7 281.9h9m-4.5-4.5v9M1089.2 304.7h9m-4.5-4.5v9M1098.3 321.6h9m-4.5-4.5v9M1189.4 441.1h9m-4.5-4.5v9M1190.8 350.6h9m-4.5-4.5v9M1021.5 212.9h9m-4.5-4.5v9M1154.3 378.7h9m-4.5-4.5v9M1172.8 296.3h9m-4.5-4.5v9M1053.3 328.4h9m-4.5-4.5v9M1235.9 421.4h9m-4.5-4.5v9M1136.9 185.6h9m-4.5-4.5v9M1122.1 336.8h9m-4.5-4.5v9M979.6 300.2h9m-4.5-4.5v9M1225.6 373.7h9m-4.5-4.5v9M1099.8 259.5h9m-4.5-4.5v9M1119.2 357.6h9m-4.5-4.5v9M1106.6 182.8h9m-4.5-4.5v9M1137.8 236.7h9m-4.5-4.5v9M1196.3 384.1h9m-4.5-4.5v9M1113.5 279h9m-4.5-4.5v9M1198.9 234h9m-4.5-4.5v9M1092.1 468.5h9m-4.5-4.5v9M999.5 239.8h9m-4.5-4.5v9M1162.7 314.2h9m-4.5-4.5v9M981.3 310h9m-4.5-4.5v9M1116.2 230.8h9m-4.5-4.5v9M1076.6 428.8h9m-4.5-4.5v9M955.8 244.9h9m-4.5-4.5v9M1100.7 271.6h9m-4.5-4.5v9M965.8 334h9m-4.5-4.5v9M1130.6 215.9h9m-4.5-4.5v9M1049 328.8h9m-4.5-4.5v9M1048.7 382.5h9m-4.5-4.5v9M1016.3 247.1h9m-4.5-4.5v9M1159.5 449.5h9m-4.5-4.5v9M1171.1 431.6h9m-4.5-4.5v9M1116.4 443.9h9m-4.5-4.5v9M969.2 282.1h9m-4.5-4.5v9M1029.6 353.6h9m-4.5-4.5v9M985.2 297.4h9m-4.5-4.5v9M1011.7 270.1h9m-4.5-4.5v9M1156.1 209.9h9m-4.5-4.5v9M1205.7 219.5h9m-4.5-4.5v9M1109.6 261.1h9m-4.5-4.5v9M1060.2 249.8h9m-4.5-4.5v9M1151.9 201.8h9m-4.5-4.5v9M1059.3 207.3h9m-4.5-4.5v9M1152.2 467.3h9m-4.5-4.5v9M1197.3 370.6h9m-4.5-4.5v9M1104.9 427.4h9m-4.5-4.5v9M1126.4 419.8h9m-4.5-4.5v9M1037.1 192.1h9m-4.5-4.5v9M1222 328.4h9m-4.5-4.5v9M1020.2 406.8h9m-4.5-4.5v9M1005.6 344.8h9m-4.5-4.5v9M1092 318.9h9m-4.5-4.5v9M1129.6 374.9h9m-4.5-4.5v9M1017.3 297h9m-4.5-4.5v9M1089.1 411.8h9m-4.5-4.5v9M1055.1 452.1h9m-4.5-4.5v9M1081.3 281h9m-4.5-4.5v9M967 292.9h9m-4.5-4.5v9M1066.7 245.8h9m-4.5-4.5v9M1224.5 310.5h9m-4.5-4.5v9M1239.6 261.2h9m-4.5-4.5v9M1144.2 300.7h9m-4.5-4.5v9M1232.1 410.1h9m-4.5-4.5v9M987.8 362.2h9m-4.5-4.5v9M930.8 312.3h9m-4.5-4.5v9M1003.4 332.1h9m-4.5-4.5v9M1028.2 200.1h9m-4.5-4.5v9M1169.6 399.6h9m-4.5-4.5v9M1157.8 386.3h9m-4.5-4.5v9M1075.9 188.3h9m-4.5-4.5v9M1203.8 310.1h9m-4.5-4.5v9M1142.7 271.7h9m-4.5-4.5v9M1252.4 344.5h9m-4.5-4.5v9M965.8 378.4h9m-4.5-4.5v9M1124.6 353.5h9m-4.5-4.5v9M1181.9 348.6h9m-4.5-4.5v9M1036.9 268.4h9m-4.5-4.5v9M1153.3 426.4h9m-4.5-4.5v9M1047.5 358.4h9m-4.5-4.5v9M1004.2 252.7h9m-4.5-4.5v9M1233.5 248.7h9m-4.5-4.5v9M1004 398.6h9m-4.5-4.5v9M987.7 242.6h9m-4.5-4.5v9M1135.7 408.2h9m-4.5-4.5v9M1030.5 209.1h9m-4.5-4.5v9M1190.5 344.6h9m-4.5-4.5v9M920.7 299.5h9m-4.5-4.5v9M1122.1 257.3h9m-4.5-4.5v9M931.5 287.1h9m-4.5-4.5v9M1044.1 453.4h9m-4.5-4.5v9M961.8 419h9m-4.5-4.5v9M948.3 333h9m-4.5-4.5v9M1055.1 196.3h9m-4.5-4.5v9M1078.3 403.7h9m-4.5-4.5v9M1147.1 203.4h9m-4.5-4.5v9M1187 424.4h9m-4.5-4.5v9M1073 304.5h9m-4.5-4.5v9M1113 237.4h9m-4.5-4.5v9M1099.9 218.2h9m-4.5-4.5v9M1147.5 184h9m-4.5-4.5v9M961.8 267.6h9m-4.5-4.5v9M1075 374h9m-4.5-4.5v9M935.6 273.4h9m-4.5-4.5v9M1044.3 158.3h9m-4.5-4.5v9M944.5 288.6h9m-4.5-4.5v9M967.2 346.6h9m-4.5-4.5v9M989.2 253.4h9m-4.5-4.5v9M1192.7 238.8h9m-4.5-4.5v9M1197.6 187.6h9m-4.5-4.5v9M1019.2 286.9h9m-4.5-4.5v9M1239.2 340.5h9m-4.5-4.5v9M1036.1 225.7h9m-4.5-4.5v9M1053.9 333.8h9m-4.5-4.5v9M1082.3 273.9h9m-4.5-4.5v9M1016.7 243.9h9m-4.5-4.5v9M1223 267.4h9m-4.5-4.5v9M1185.6 332.8h9m-4.5-4.5v9M1172.3 313h9m-4.5-4.5v9M1223 380.7h9m-4.5-4.5v9M1173 353.5h9m-4.5-4.5v9M1120.3 447.2h9m-4.5-4.5v9M939.2 310h9m-4.5-4.5v9M970.5 336.9h9m-4.5-4.5v9M1171.1 435.6h9m-4.5-4.5v9M946.8 382.2h9m-4.5-4.5v9M1236.7 324.2h9m-4.5-4.5v9M925.1 307.8h9m-4.5-4.5v9M1034.5 181.1h9m-4.5-4.5v9M957 260.2h9m-4.5-4.5v9M1070.7 348h9m-4.5-4.5v9M1075.1 360.7h9m-4.5-4.5v9M1122.3 264.6h9m-4.5-4.5v9M992.2 389.3h9m-4.5-4.5v9M999.1 223.1h9m-4.5-4.5v9M1094.2 241.6h9m-4.5-4.5v9M1096.2 368.4h9m-4.5-4.5v9M1025 361.2h9m-4.5-4.5v9M988.6 223.2h9m-4.5-4.5v9M1166.7 428.9h9m-4.5-4.5v9M940.4 383.5h9m-4.5-4.5v9M1084.4 438.9h9m-4.5-4.5v9M1149.8 369.8h9m-4.5-4.5v9M1193.5 299.4h9m-4.5-4.5v9M990.4 296.3h9m-4.5-4.5v9M1152.5 328.4h9m-4.5-4.5v9M997.4 225.5h9m-4.5-4.5v9M1059.3 376.5h9m-4.5-4.5v9M1033.8 174.9h9m-4.5-4.5v9M1128.8 357.1h9m-4.5-4.5v9M1202.9 356.1h9m-4.5-4.5v9M1226.3 282.7h9m-4.5-4.5v9M1053.6 237.5h9m-4.5-4.5v9M1154.8 178h9m-4.5-4.5v9M959 347h9m-4.5-4.5v9M1013.5 309.6h9m-4.5-4.5v9M1033.7 244.3h9m-4.5-4.5v9M1196.5 399.1h9m-4.5-4.5v9M1157.3 345.9h9m-4.5-4.5v9M1213.1 390.4h9m-4.5-4.5v9M1131.7 351.7h9m-4.5-4.5v9M1009 219.7h9m-4.5-4.5v9M1025.4 344.4h9m-4.5-4.5v9M1159.8 321.5h9m-4.5-4.5v9M1098.9 453.5h9m-4.5-4.5v9M1099 240.8h9m-4.5-4.5v9M1035 404.5h9m-4.5-4.5v9M1101.5 182.8h9m-4.5-4.5v9M1156.1 424.5h9m-4.5-4.5v9M1041.1 446.7h9m-4.5-4.5v9M1040.4 173.2h9m-4.5-4.5v9M1140.3 182.4h9m-4.5-4.5v9M1001.6 279.8h9m-4.5-4.5v9M1108.2 326.6h9m-4.5-4.5v9M981.6 307.9h9m-4.5-4.5v9M1207.6 438.8h9m-4.5-4.5v9M1125.1 303.1h9m-4.5-4.5v9M1082.8 453.1h9m-4.5-4.5v9M1206.9 418.9h9m-4.5-4.5v9M1066.8 434.2h9m-4.5-4.5v9M1007.9 346.8h9m-4.5-4.5v9M1197.3 390.5h9m-4.5-4.5v9M1186.9 334.9h9m-4.5-4.5v9M1070.4 174h9m-4.5-4.5v9M1212.1 331.3h9m-4.5-4.5v9M973.2 241.5h9m-4.5-4.5v9M1106.8 286.1h9m-4.5-4.5v9M924.2 337.4h9m-4.5-4.5v9M1001 356.8h9m-4.5-4.5v9M1229.7 394h9m-4.5-4.5v9M1013.8 351.1h9m-4.5-4.5v9M1018.6 399.5h9m-4.5-4.5v9M1153.3 441.4h9m-4.5-4.5v9M949 403.9h9m-4.5-4.5v9M1128.7 450.2h9m-4.5-4.5v9M1132.9 337.9h9m-4.5-4.5v9M1029.7 275.9h9m-4.5-4.5v9M1137.7 438.7h9m-4.5-4.5v9M1165.7 219.4h9m-4.5-4.5v9M1017 338.7h9m-4.5-4.5v9M1099.6 294.6h9m-4.5-4.5v9M976.3 411.7h9m-4.5-4.5v9M1015.9 219.3h9m-4.5-4.5v9M1099.5 203h9m-4.5-4.5v9M1136.4 346.6h9m-4.5-4.5v9M1130.7 307.4h9m-4.5-4.5v9M1124.5 244.7h9m-4.5-4.5v9M1117.8 470.7h9m-4.5-4.5v9M1180 248.1h9m-4.5-4.5v9M1173.3 385.2h9m-4.5-4.5v9M1051.6 179.9h9m-4.5-4.5v9M923.8 342.7h9m-4.5-4.5v9M1136.4 330.3h9m-4.5-4.5v9M977.9 316.9h9m-4.5-4.5v9M1043.8 204.4h9m-4.5-4.5v9M1221.2 208.1h9m-4.5-4.5v9M1078.3 329.9h9m-4.5-4.5v9M1127 239.1h9m-4.5-4.5v9M934.4 358.4h9m-4.5-4.5v9M1089.7 246.4h9m-4.5-4.5v9M971.3 224.4h9m-4.5-4.5v9M1068 285.8h9m-4.5-4.5v9M1190.7 411.5h9m-4.5-4.5v9M1003.6 431.3h9m-4.5-4.5v9M1072.7 280.5h9m-4.5-4.5v9M1114.5 322.4h9m-4.5-4.5v9M1240.9 391h9m-4.5-4.5v9M1198 241.8h9m-4.5-4.5v9M1000.8 269.2h9m-4.5-4.5v9M1230.6 302.2h9m-4.5-4.5v9M1196 241.2h9m-4.5-4.5v9M1116.6 180.3h9m-4.5-4.5v9M984.2 237.4h9m-4.5-4.5v9M1178.2 294.8h9m-4.5-4.5v9M1186 183.8h9m-4.5-4.5v9M1176.4 314.9h9m-4.5-4.5v9M1057 184.8h9m-4.5-4.5v9M1142.9 451.5h9m-4.5-4.5v9M1049.2 407.3h9m-4.5-4.5v9M1100.7 197.1h9m-4.5-4.5v9M1052.7 232.9h9m-4.5-4.5v9M1122.9 291.2h9m-4.5-4.5v9M956.6 312.8h9m-4.5-4.5v9M1171.7 202.8h9m-4.5-4.5v9M995.2 191.3h9m-4.5-4.5v9M997.5 406.7h9m-4.5-4.5v9M1180.3 223.4h9m-4.5-4.5v9M1123.7 323.8h9m-4.5-4.5v9M984.7 319.5h9m-4.5-4.5v9M1137 333.7h9m-4.5-4.5v9M1137.3 288.7h9m-4.5-4.5v9M1204.2 325.4h9m-4.5-4.5v9M1004.8 188.9h9m-4.5-4.5v9M1157.3 440.7h9m-4.5-4.5v9M1136.7 398.8h9m-4.5-4.5v9M1167.1 465h9m-4.5-4.5v9M1190.6 239h9m-4.5-4.5v9M1238.9 368.1h9m-4.5-4.5v9M1092.2 417h9m-4.5-4.5v9M1016.7 367.8h9m-4.5-4.5v9M959.6 237.3h9m-4.5-4.5v9M1060 456.5h9m-4.5-4.5v9M1164.9 336h9m-4.5-4.5v9M1220.4 206.9h9m-4.5-4.5v9M985 399.1h9m-4.5-4.5v9M1135.5 433.9h9m-4.5-4.5v9M1105.6 236.6h9m-4.5-4.5v9M1094.6 389.8h9m-4.5-4.5v9M1056.9 441.7h9m-4.5-4.5v9M1126.2 367.6h9m-4.5-4.5v9M1036.9 430.9h9m-4.5-4.5v9M1033 264.5h9m-4.5-4.5v9M973.5 280.5h9m-4.5-4.5v9M1039.5 385.6h9m-4.5-4.5v9M1238.7 287.7h9m-4.5-4.5v9M1208.9 354.7h9m-4.5-4.5v9M966.3 370.7h9m-4.5-4.5v9M1062.5 461.3h9m-4.5-4.5v9M1036.7 231.1h9m-4.5-4.5v9M1100.8 365.9h9m-4.5-4.5v9M1030.2 381.8h9m-4.5-4.5v9M1153.6 181.1h9m-4.5-4.5v9M1017.2 185.3h9m-4.5-4.5v9M1178.9 201.4h9m-4.5-4.5v9M1052 418.7h9m-4.5-4.5v9M954.9 291.4h9m-4.5-4.5v9M1105.9 388.8h9m-4.5-4.5v9M955.4 398.1h9m-4.5-4.5v9M1240.3 325.9h9m-4.5-4.5v9M1065.4 319.7h9m-4.5-4.5v9M1164.3 201.9h9m-4.5-4.5v9M1079.3 238.4h9m-4.5-4.5v9M1112.1 391.2h9m-4.5-4.5v9M1216.5 317.4h9m-4.5-4.5v9M1154.3 177.8h9m-4.5-4.5v9M927.6 350.9h9m-4.5-4.5v9M1072.5 208.5h9m-4.5-4.5v9M1011.9 214.5h9m-4.5-4.5v9M1064.1 304.5h9m-4.5-4.5v9M1178.9 347.6h9m-4.5-4.5v9M960.6 394.9h9m-4.5-4.5v9M942 273h9m-4.5-4.5v9M1172.1 184.9h9m-4.5-4.5v9M976.8 256.5h9m-4.5-4.5v9M972.4 389.5h9m-4.5-4.5v9M1114.5 180.8h9m-4.5-4.5v9M1171.4 360.8h9m-4.5-4.5v9M1075.1 295.2h9m-4.5-4.5v9M1220.2 260.5h9m-4.5-4.5v9M1144.3 290.5h9m-4.5-4.5v9M1105.5 256.3h9m-4.5-4.5v9M1016.2 412.1h9m-4.5-4.5v9M941.3 332h9m-4.5-4.5v9M1098.5 245.5h9m-4.5-4.5v9M994.6 204.1h9m-4.5-4.5v9M1085 269.3h9m-4.5-4.5v9M1114.3 371.4h9m-4.5-4.5v9M1004.9 396.4h9m-4.5-4.5v9M986.2 342h9m-4.5-4.5v9M1098.3 446.8h9m-4.5-4.5v9M1139.8 276.1h9m-4.5-4.5v9M1230 412.5h9m-4.5-4.5v9M1035.6 370.3h9m-4.5-4.5v9M1067.7 246.7h9m-4.5-4.5v9M1178.6 194.4h9m-4.5-4.5v9M994.6 348.3h9m-4.5-4.5v9M1121.3 281.4h9m-4.5-4.5v9M1035.9 198.6h9m-4.5-4.5v9M1099.2 220.6h9m-4.5-4.5v9M1202.9 295.3h9m-4.5-4.5v9M977.6 243.1h9m-4.5-4.5v9M1234.7 224.8h9m-4.5-4.5v9M979.9 215.5h9m-4.5-4.5v9M962.8 219.5h9m-4.5-4.5v9M1207.2 412.4h9m-4.5-4.5v9M1130.9 354h9m-4.5-4.5v9M1246.6 354.1h9m-4.5-4.5v9M1039.3 252.1h9m-4.5-4.5v9M1182.4 262.4h9m-4.5-4.5v9M977.3 290.5h9m-4.5-4.5v9M957.1 386.7h9m-4.5-4.5v9M1227.6 384.3h9m-4.5-4.5v9M1150.3 392.8h9m-4.5-4.5v9M1121.8 365.1h9m-4.5-4.5v9M1236.9 248.8h9m-4.5-4.5v9M988.2 348.8h9m-4.5-4.5v9M1154.6 466.6h9m-4.5-4.5v9M950.9 352.6h9m-4.5-4.5v9M1011 182.7h9m-4.5-4.5v9M1151.4 414.2h9m-4.5-4.5v9M1035.4 311.7h9m-4.5-4.5v9M1144.7 462.7h9m-4.5-4.5v9M1133.6 451.9h9m-4.5-4.5v9M960 352.5h9m-4.5-4.5v9M1040.1 428.4h9m-4.5-4.5v9M994.6 377.5h9m-4.5-4.5v9M1165.5 189.5h9m-4.5-4.5v9M1102.2 364.9h9m-4.5-4.5v9M1041.2 218.5h9m-4.5-4.5v9M994.8 211.5h9m-4.5-4.5v9M1064.1 425.9h9m-4.5-4.5v9M1081.2 344.1h9m-4.5-4.5v9M1164.2 179.2h9m-4.5-4.5v9M989.9 256.2h9m-4.5-4.5v9M1140.7 225.2h9m-4.5-4.5v9M1085.2 434.7h9m-4.5-4.5v9M1084.5 321.2h9m-4.5-4.5v9M1057.1 146.9h9m-4.5-4.5v9M1080.1 170.8h9m-4.5-4.5v9M1006.9 401.9h9m-4.5-4.5v9M1015.4 180h9m-4.5-4.5v9M1062.4 337.6h9m-4.5-4.5v9M1112.4 395.3h9m-4.5-4.5v9M1106.4 205.4h9m-4.5-4.5v9M1197.8 445.3h9m-4.5-4.5v9M1186.8 384h9m-4.5-4.5v9M1188.9 385.9h9m-4.5-4.5v9M1078.5 460.4h9m-4.5-4.5v9M1136.6 439.6h9m-4.5-4.5v9M982.5 281h9m-4.5-4.5v9M1228.6 433.5h9m-4.5-4.5v9M1249.3 389.4h9m-4.5-4.5v9M1059 310.8h9m-4.5-4.5v9M1043.2 230.8h9m-4.5-4.5v9M1135 288.1h9m-4.5-4.5v9M1089.4 315.7h9m-4.5-4.5v9M1188 252h9m-4.5-4.5v9M1029.4 295.3h9m-4.5-4.5v9M1159 255.6h9m-4.5-4.5v9M1028.5 332.4h9m-4.5-4.5v9M930.9 324.3h9m-4.5-4.5v9M1212.9 234.1h9m-4.5-4.5v9M999.7 181.3h9m-4.5-4.5v9M1222.2 403.8h9m-4.5-4.5v9M1120.1 436.1h9m-4.5-4.5v9M1211.2 238.3h9m-4.5-4.5v9M1135.5 259.9h9m-4.5-4.5v9M997.4 355.6h9m-4.5-4.5v9M1142.9 356.6h9m-4.5-4.5v9M1080.4 415.9h9m-4.5-4.5v9M1189.7 244.9h9m-4.5-4.5v9M1155.5 309.8h9m-4.5-4.5v9M1184.8 365.7h9m-4.5-4.5v9M963.4 361.8h9m-4.5-4.5v9M1204.4 251.6h9m-4.5-4.5v9M1187 410.3h9m-4.5-4.5v9M1115.2 450.1h9m-4.5-4.5v9M1065.1 433.4h9m-4.5-4.5v9M1162.1 305.2h9m-4.5-4.5v9M1242.4 293.3h9m-4.5-4.5v9M1198.1 322h9m-4.5-4.5v9M1202 196.7h9m-4.5-4.5v9M1195.5 214.5h9m-4.5-4.5v9M1205.5 399.9h9m-4.5-4.5v9M995.4 423.2h9m-4.5-4.5v9M1057.7 226.1h9m-4.5-4.5v9M1207.2 311.4h9m-4.5-4.5v9M942.6 300.6h9m-4.5-4.5v9M1106.6 378.9h9m-4.5-4.5v9M1055.8 318.4h9m-4.5-4.5v9M1046.8 440.4h9m-4.5-4.5v9M1249.3 379.4h9m-4.5-4.5v9M1038.4 392.6h9m-4.5-4.5v9M1095.6 352.9h9m-4.5-4.5v9M1153.2 358h9m-4.5-4.5v9M979.7 337.2h9m-4.5-4.5v9M1070.3 461.3h9m-4.5-4.5v9M1186.2 428.8h9m-4.5-4.5v9M1045.8 178.7h9m-4.5-4.5v9M1080.6 476.8h9m-4.5-4.5v9M980.3 366.6h9m-4.5-4.5v9M1152.6 346.7h9m-4.5-4.5v9M1007.7 338.6h9m-4.5-4.5v9M1241.8 398.5h9m-4.5-4.5v9M1129.7 314h9m-4.5-4.5v9M983 274.3h9m-4.5-4.5v9M1119.2 365.2h9m-4.5-4.5v9M1068.1 267.9h9m-4.5-4.5v9M1021.3 202.1h9m-4.5-4.5v9M1145.9 271.9h9m-4.5-4.5v9M1140 204.7h9m-4.5-4.5v9M1138.3 396.2h9m-4.5-4.5v9M1050.9 288.6h9m-4.5-4.5v9M1042.3 208.5h9m-4.5-4.5v9M1131.7 403h9m-4.5-4.5v9M1201.5 301.8h9m-4.5-4.5v9M1001.5 356.1h9m-4.5-4.5v9M1069.2 337.1h9m-4.5-4.5v9M1117.6 339.1h9m-4.5-4.5v9M1129.5 194.5h9m-4.5-4.5v9M1068.1 194.3h9m-4.5-4.5v9M1146.1 272h9m-4.5-4.5v9" stroke="#cdcdcd" stroke-width="2.9" fill="none"/><circle cx="1061.8" cy="155.6" r="5.6" fill="#f00000"/><circle cx="1072.4" cy="161.4" r="5.6" fill="#f00000"/><circle cx="1167.8" cy="195.6" r="5.6" fill="#f00000"/><circle cx="1144.7" cy="213.9" r="5.6" fill="#f00000"/><circle cx="1008.8" cy="235.1" r="5.6" fill="#f00000"/><circle cx="1112.4" cy="235.1" r="5.6" fill="#f00000"/><circle cx="1029.6" cy="264.5" r="5.6" fill="#f00000"/><circle cx="1091.7" cy="261.6" r="5.6" fill="#f00000"/><circle cx="979.4" cy="278" r="5.6" fill="#f00000"/><circle cx="1187.1" cy="288.6" r="5.6" fill="#f00000"/><circle cx="1183.7" cy="302.1" r="5.6" fill="#f00000"/><circle cx="1120.6" cy="312.7" r="5.6" fill="#f00000"/><circle cx="1211.2" cy="320.4" r="5.6" fill="#f00000"/><circle cx="1235.3" cy="320.4" r="5.6" fill="#f00000"/><circle cx="1102.3" cy="346.9" r="5.6" fill="#f00000"/><circle cx="1040.2" cy="366.2" r="5.6" fill="#f00000"/><circle cx="1061.8" cy="373.4" r="5.6" fill="#f00000"/><circle cx="1058.9" cy="382.1" r="5.6" fill="#f00000"/><circle cx="1114.8" cy="371" r="5.6" fill="#f00000"/><circle cx="1149.5" cy="392.2" r="5.6" fill="#f00000"/><circle cx="1152.4" cy="413.4" r="5.6" fill="#f00000"/><circle cx="1160.6" cy="413.4" r="5.6" fill="#f00000"/><circle cx="1163" cy="426.9" r="5.6" fill="#f00000"/><circle cx="1190" cy="424" r="5.6" fill="#f00000"/><circle cx="1163" cy="435.1" r="5.6" fill="#f00000"/><circle cx="1013.7" cy="421.6" r="5.6" fill="#f00000"/><circle cx="1096.5" cy="419.2" r="5.6" fill="#f00000"/><circle cx="1138.9" cy="442.8" r="5.6" fill="#f00000"/><circle cx="1152.9" cy="448.6" r="5.6" fill="#f00000"/><circle cx="1187.1" cy="439.9" r="5.6" fill="#f00000"/><circle cx="1178.4" cy="451" r="5.6" fill="#f00000"/><circle cx="1205.4" cy="450.5" r="5.6" fill="#f00000"/><circle cx="1144.7" cy="466.9" r="5.6" fill="#f00000"/><circle cx="901.4" cy="127.7" r="6.8" fill="#f00000"/><text x="920" y="136.7" font-size="29.4" font-style="italic" fill="#000">IGFBP1+PRL+</text><text transform="translate(857 315.4) rotate(-90)" text-anchor="middle" font-size="33" fill="#333">UMAP2</text><text x="1095.3" y="584.4" text-anchor="middle" font-size="31.5" fill="#333">UMAP1</text><text x="6" y="759" font-size="58" font-weight="bold">c</text><path d="M172.6 781.6V1586" stroke="#ebebeb" stroke-width="1.6"/><path d="M340.7 781.6V1586" stroke="#ebebeb" stroke-width="1.6"/><path d="M506.5 781.6V1586" stroke="#ebebeb" stroke-width="1.6"/><path d="M125.8 1458H611.8" stroke="#ebebeb" stroke-width="1.6"/><path d="M125.8 1275.2H611.8" stroke="#ebebeb" stroke-width="1.6"/><path d="M125.8 1092.5H611.8" stroke="#ebebeb" stroke-width="1.6"/><path d="M125.8 909.9H611.8" stroke="#ebebeb" stroke-width="1.6"/><path d="M256.8 781.6V1586" stroke="#ebebeb" stroke-width="2"/><path d="M422.7 781.6V1586" stroke="#ebebeb" stroke-width="2"/><path d="M590.8 781.6V1586" stroke="#ebebeb" stroke-width="2"/><path d="M125.8 1549.3H611.8" stroke="#ebebeb" stroke-width="2"/><path d="M125.8 1366.6H611.8" stroke="#ebebeb" stroke-width="2"/><path d="M125.8 1183.9H611.8" stroke="#ebebeb" stroke-width="2"/><path d="M125.8 1001.2H611.8" stroke="#ebebeb" stroke-width="2"/><path d="M125.8 818.5H611.8" stroke="#ebebeb" stroke-width="2"/><path d="M213 1481L233 1483.5L267.3 1486.3L301.6 1487.7L335.9 1489.7L370.2 1492.1L397.7 1495.6L404.5 1504.1L425.1 1507.6L456 1511L473.2 1512.7L486.9 1507.6L493.8 1497.3L500.6 1487L514.4 1483.5L535 1481.8L555.5 1475L574 1466.4L575 1452.7L562.4 1447.5L541.8 1447.5L521.2 1444.1L500.6 1435.5L490.3 1432.1L466.3 1435.5L438.9 1437.2L428.6 1428.6L390.8 1428.6L370.2 1425.2L349.6 1418.3L322.2 1414.9L284.4 1411.5L255 1411L245 1420L236 1435L226 1452L218 1468L214 1477Z" fill="#bebebe"/><path d="M410 886l4.6 4.6-4.6 4.6-4.6-4.6zM410 899l4.6 4.6-4.6 4.6-4.6-4.6zM511 901.3l4.6 4.6-4.6 4.6-4.6-4.6zM412.4 941.6l4.6 4.6-4.6 4.6-4.6-4.6zM416.9 1012.9l4.6 4.6-4.6 4.6-4.6-4.6zM477.4 1034.4l4.6 4.6-4.6 4.6-4.6-4.6zM431.6 1107.4l4.6 4.6-4.6 4.6-4.6-4.6zM354 1124.9l4.6 4.6-4.6 4.6-4.6-4.6zM367.5 1120.4l4.6 4.6-4.6 4.6-4.6-4.6zM360.8 1137.4l4.6 4.6-4.6 4.6-4.6-4.6zM386.8 1141.4l4.6 4.6-4.6 4.6-4.6-4.6zM468.4 1152.4l4.6 4.6-4.6 4.6-4.6-4.6zM311.5 1165.3l4.6 4.6-4.6 4.6-4.6-4.6zM339.3 1159l4.6 4.6-4.6 4.6-4.6-4.6zM347.8 1172l4.6 4.6-4.6 4.6-4.6-4.6zM339.8 1186.8l4.6 4.6-4.6 4.6-4.6-4.6zM360.8 1192.4l4.6 4.6-4.6 4.6-4.6-4.6zM395.3 1194.9l4.6 4.6-4.6 4.6-4.6-4.6zM339.6 1187.1l4.6 4.6-4.6 4.6-4.6-4.6zM361.2 1193.3l4.6 4.6-4.6 4.6-4.6-4.6zM395.7 1195.4l4.6 4.6-4.6 4.6-4.6-4.6zM436.4 1236.4l4.6 4.6-4.6 4.6-4.6-4.6zM376 1246.9l4.6 4.6-4.6 4.6-4.6-4.6zM408 1250.9l4.6 4.6-4.6 4.6-4.6-4.6zM320.2 1250.9l4.6 4.6-4.6 4.6-4.6-4.6zM318 1262.3l4.6 4.6-4.6 4.6-4.6-4.6zM328.8 1270.3l4.6 4.6-4.6 4.6-4.6-4.6zM361.8 1267.8l4.6 4.6-4.6 4.6-4.6-4.6zM368 1273.4l4.6 4.6-4.6 4.6-4.6-4.6zM397.5 1267.8l4.6 4.6-4.6 4.6-4.6-4.6zM461.9 1270.3l4.6 4.6-4.6 4.6-4.6-4.6zM486 1279.4l4.6 4.6-4.6 4.6-4.6-4.6zM281.7 1285.1l4.6 4.6-4.6 4.6-4.6-4.6zM331 1283.2l4.6 4.6-4.6 4.6-4.6-4.6zM346.4 1287.9l4.6 4.6-4.6 4.6-4.6-4.6zM355 1283.2l4.6 4.6-4.6 4.6-4.6-4.6zM334 1294l4.6 4.6-4.6 4.6-4.6-4.6zM326.4 1298.6l4.6 4.6-4.6 4.6-4.6-4.6zM468 1304.8l4.6 4.6-4.6 4.6-4.6-4.6zM477.3 1298.6l4.6 4.6-4.6 4.6-4.6-4.6zM496.7 1317.7l4.6 4.6-4.6 4.6-4.6-4.6zM537.4 1315.6l4.6 4.6-4.6 4.6-4.6-4.6zM264 1313.4l4.6 4.6-4.6 4.6-4.6-4.6zM330.4 1309.4l4.6 4.6-4.6 4.6-4.6-4.6zM334 1317.1l4.6 4.6-4.6 4.6-4.6-4.6zM343.3 1311l4.6 4.6-4.6 4.6-4.6-4.6zM366.4 1312.4l4.6 4.6-4.6 4.6-4.6-4.6zM371 1318.7l4.6 4.6-4.6 4.6-4.6-4.6zM391 1311l4.6 4.6-4.6 4.6-4.6-4.6zM352.5 1320.2l4.6 4.6-4.6 4.6-4.6-4.6zM346.4 1327.9l4.6 4.6-4.6 4.6-4.6-4.6zM358.7 1326.4l4.6 4.6-4.6 4.6-4.6-4.6zM366.4 1332.4l4.6 4.6-4.6 4.6-4.6-4.6zM371 1329.4l4.6 4.6-4.6 4.6-4.6-4.6zM392.6 1327.9l4.6 4.6-4.6 4.6-4.6-4.6zM400.3 1326.4l4.6 4.6-4.6 4.6-4.6-4.6zM409.5 1321.8l4.6 4.6-4.6 4.6-4.6-4.6zM415.7 1331l4.6 4.6-4.6 4.6-4.6-4.6zM442.5 1331l4.6 4.6-4.6 4.6-4.6-4.6zM472.7 1331l4.6 4.6-4.6 4.6-4.6-4.6zM425.9 1340.2l4.6 4.6-4.6 4.6-4.6-4.6zM289.4 1327.9l4.6 4.6-4.6 4.6-4.6-4.6zM357.2 1343.3l4.6 4.6-4.6 4.6-4.6-4.6zM377.2 1344.9l4.6 4.6-4.6 4.6-4.6-4.6zM395.7 1346.4l4.6 4.6-4.6 4.6-4.6-4.6zM277 1352.6l4.6 4.6-4.6 4.6-4.6-4.6zM286.3 1347.9l4.6 4.6-4.6 4.6-4.6-4.6zM294.6 1346.4l4.6 4.6-4.6 4.6-4.6-4.6zM306.3 1347.9l4.6 4.6-4.6 4.6-4.6-4.6zM334 1351l4.6 4.6-4.6 4.6-4.6-4.6zM341.8 1352.6l4.6 4.6-4.6 4.6-4.6-4.6zM378.7 1360.3l4.6 4.6-4.6 4.6-4.6-4.6zM406.5 1361.8l4.6 4.6-4.6 4.6-4.6-4.6zM244.7 1371.1l4.6 4.6-4.6 4.6-4.6-4.6zM257 1364.9l4.6 4.6-4.6 4.6-4.6-4.6zM469.6 1374.1l4.6 4.6-4.6 4.6-4.6-4.6zM480.4 1378.8l4.6 4.6-4.6 4.6-4.6-4.6zM511.2 1383.4l4.6 4.6-4.6 4.6-4.6-4.6zM537.4 1388l4.6 4.6-4.6 4.6-4.6-4.6zM454.2 1388l4.6 4.6-4.6 4.6-4.6-4.6zM466.5 1386.4l4.6 4.6-4.6 4.6-4.6-4.6zM488.1 1389.5l4.6 4.6-4.6 4.6-4.6-4.6zM511.2 1392.6l4.6 4.6-4.6 4.6-4.6-4.6zM201.6 1403.4l4.6 4.6-4.6 4.6-4.6-4.6zM229.3 1397.2l4.6 4.6-4.6 4.6-4.6-4.6zM238.5 1391.1l4.6 4.6-4.6 4.6-4.6-4.6zM150.6 1470.4l4.6 4.6-4.6 4.6-4.6-4.6zM176.3 1472.1l4.6 4.6-4.6 4.6-4.6-4.6zM191.8 1472.1l4.6 4.6-4.6 4.6-4.6-4.6zM200.3 1472.1l4.6 4.6-4.6 4.6-4.6-4.6zM207 1472.9l4.6 4.6-4.6 4.6-4.6-4.6zM211 1465.4l4.6 4.6-4.6 4.6-4.6-4.6zM206 1457.4l4.6 4.6-4.6 4.6-4.6-4.6zM213 1453.4l4.6 4.6-4.6 4.6-4.6-4.6zM209 1445.4l4.6 4.6-4.6 4.6-4.6-4.6zM216 1441.4l4.6 4.6-4.6 4.6-4.6-4.6zM191.1 1446.4l4.6 4.6-4.6 4.6-4.6-4.6zM202 1439.4l4.6 4.6-4.6 4.6-4.6-4.6zM208.2 1418.9l4.6 4.6-4.6 4.6-4.6-4.6zM202 1403.4l4.6 4.6-4.6 4.6-4.6-4.6zM220 1410.4l4.6 4.6-4.6 4.6-4.6-4.6zM541.8 1480.7l4.6 4.6-4.6 4.6-4.6-4.6zM567.5 1494.4l4.6 4.6-4.6 4.6-4.6-4.6zM541.8 1516.7l4.6 4.6-4.6 4.6-4.6-4.6zM555.5 1515l4.6 4.6-4.6 4.6-4.6-4.6zM565.8 1520.1l4.6 4.6-4.6 4.6-4.6-4.6zM574.4 1524.2l4.6 4.6-4.6 4.6-4.6-4.6zM548.7 1518.4l4.6 4.6-4.6 4.6-4.6-4.6zM535 1513.3l4.6 4.6-4.6 4.6-4.6-4.6zM498.9 1496.1l4.6 4.6-4.6 4.6-4.6-4.6zM493.8 1516.7l4.6 4.6-4.6 4.6-4.6-4.6zM411.4 1504.7l4.6 4.6-4.6 4.6-4.6-4.6zM439.2 1390.5l4.6 4.6-4.6 4.6-4.6-4.6zM502.6 1403.9l4.6 4.6-4.6 4.6-4.6-4.6zM482.3 1393.9l4.6 4.6-4.6 4.6-4.6-4.6zM220.7 1434.9l4.6 4.6-4.6 4.6-4.6-4.6zM557.2 1438.2l4.6 4.6-4.6 4.6-4.6-4.6zM541.5 1444.3l4.6 4.6-4.6 4.6-4.6-4.6zM382.6 1415.5l4.6 4.6-4.6 4.6-4.6-4.6zM410.1 1392.6l4.6 4.6-4.6 4.6-4.6-4.6zM214.8 1446l4.6 4.6-4.6 4.6-4.6-4.6zM312.8 1355.3l4.6 4.6-4.6 4.6-4.6-4.6zM491.8 1428.1l4.6 4.6-4.6 4.6-4.6-4.6zM503.4 1432.7l4.6 4.6-4.6 4.6-4.6-4.6zM437.2 1430.6l4.6 4.6-4.6 4.6-4.6-4.6zM210.7 1419.9l4.6 4.6-4.6 4.6-4.6-4.6zM287.1 1404.9l4.6 4.6-4.6 4.6-4.6-4.6zM571.5 1440.2l4.6 4.6-4.6 4.6-4.6-4.6zM316.5 1349.3l4.6 4.6-4.6 4.6-4.6-4.6zM408.4 1382.2l4.6 4.6-4.6 4.6-4.6-4.6zM285.4 1365.2l4.6 4.6-4.6 4.6-4.6-4.6zM464.2 1382.3l4.6 4.6-4.6 4.6-4.6-4.6zM538.9 1441.7l4.6 4.6-4.6 4.6-4.6-4.6zM342.9 1410.5l4.6 4.6-4.6 4.6-4.6-4.6zM263.6 1408.1l4.6 4.6-4.6 4.6-4.6-4.6zM320.9 1381.5l4.6 4.6-4.6 4.6-4.6-4.6zM211.2 1429.1l4.6 4.6-4.6 4.6-4.6-4.6zM334.3 1402.3l4.6 4.6-4.6 4.6-4.6-4.6zM511.2 1428.1l4.6 4.6-4.6 4.6-4.6-4.6zM326.2 1390.5l4.6 4.6-4.6 4.6-4.6-4.6zM469.3 1432l4.6 4.6-4.6 4.6-4.6-4.6zM568.8 1447.5l4.6 4.6-4.6 4.6-4.6-4.6zM485.9 1400.2l4.6 4.6-4.6 4.6-4.6-4.6zM216.6 1416.8l4.6 4.6-4.6 4.6-4.6-4.6zM344.8 1382.7l4.6 4.6-4.6 4.6-4.6-4.6zM213.3 1449.8l4.6 4.6-4.6 4.6-4.6-4.6zM276.6 1368.7l4.6 4.6-4.6 4.6-4.6-4.6zM282.3 1379.2l4.6 4.6-4.6 4.6-4.6-4.6zM552.1 1431.1l4.6 4.6-4.6 4.6-4.6-4.6zM336.7 1399.7l4.6 4.6-4.6 4.6-4.6-4.6zM403.1 1370.7l4.6 4.6-4.6 4.6-4.6-4.6zM249.8 1406.1l4.6 4.6-4.6 4.6-4.6-4.6zM503.4 1408.4l4.6 4.6-4.6 4.6-4.6-4.6zM223.5 1401.2l4.6 4.6-4.6 4.6-4.6-4.6zM243.6 1438.2l4.6 4.6-4.6 4.6-4.6-4.6zM434.8 1368.9l4.6 4.6-4.6 4.6-4.6-4.6zM335.1 1347.6l4.6 4.6-4.6 4.6-4.6-4.6zM410.6 1413.4l4.6 4.6-4.6 4.6-4.6-4.6zM326.6 1408.3l4.6 4.6-4.6 4.6-4.6-4.6zM238.8 1447.1l4.6 4.6-4.6 4.6-4.6-4.6zM463.6 1379.5l4.6 4.6-4.6 4.6-4.6-4.6zM269.4 1408.3l4.6 4.6-4.6 4.6-4.6-4.6zM573.1 1445.5l4.6 4.6-4.6 4.6-4.6-4.6zM359.4 1410.6l4.6 4.6-4.6 4.6-4.6-4.6zM428.6 1373.3l4.6 4.6-4.6 4.6-4.6-4.6zM377.7 1402.2l4.6 4.6-4.6 4.6-4.6-4.6zM230.5 1399.5l4.6 4.6-4.6 4.6-4.6-4.6zM222 1433.1l4.6 4.6-4.6 4.6-4.6-4.6zM518.5 1439.3l4.6 4.6-4.6 4.6-4.6-4.6zM479.3 1390.5l4.6 4.6-4.6 4.6-4.6-4.6zM442 1387.5l4.6 4.6-4.6 4.6-4.6-4.6zM249.2 1431.7l4.6 4.6-4.6 4.6-4.6-4.6zM264.9 1380.7l4.6 4.6-4.6 4.6-4.6-4.6zM318.5 1392.9l4.6 4.6-4.6 4.6-4.6-4.6zM577.7 1443.3l4.6 4.6-4.6 4.6-4.6-4.6zM569.2 1444.7l4.6 4.6-4.6 4.6-4.6-4.6zM389.6 1373.6l4.6 4.6-4.6 4.6-4.6-4.6zM386.3 1413.3l4.6 4.6-4.6 4.6-4.6-4.6zM358.6 1414.9l4.6 4.6-4.6 4.6-4.6-4.6zM348.7 1338.4l4.6 4.6-4.6 4.6-4.6-4.6zM563.2 1439.9l4.6 4.6-4.6 4.6-4.6-4.6zM393.8 1410.9l4.6 4.6-4.6 4.6-4.6-4.6zM242.8 1441.8l4.6 4.6-4.6 4.6-4.6-4.6zM497.8 1405l4.6 4.6-4.6 4.6-4.6-4.6zM343 1362.4l4.6 4.6-4.6 4.6-4.6-4.6zM495.2 1411.8l4.6 4.6-4.6 4.6-4.6-4.6zM454.4 1395.6l4.6 4.6-4.6 4.6-4.6-4.6zM343.7 1370.8l4.6 4.6-4.6 4.6-4.6-4.6zM313.4 1391.1l4.6 4.6-4.6 4.6-4.6-4.6zM493.3 1411l4.6 4.6-4.6 4.6-4.6-4.6zM318.1 1350.3l4.6 4.6-4.6 4.6-4.6-4.6zM449.1 1407.8l4.6 4.6-4.6 4.6-4.6-4.6zM214.3 1432.6l4.6 4.6-4.6 4.6-4.6-4.6zM302.3 1379.3l4.6 4.6-4.6 4.6-4.6-4.6zM380.4 1362l4.6 4.6-4.6 4.6-4.6-4.6zM448.3 1390.1l4.6 4.6-4.6 4.6-4.6-4.6zM338 1376.7l4.6 4.6-4.6 4.6-4.6-4.6zM481.5 1399.4l4.6 4.6-4.6 4.6-4.6-4.6zM338.8 1356.4l4.6 4.6-4.6 4.6-4.6-4.6zM530.1 1431.7l4.6 4.6-4.6 4.6-4.6-4.6zM569.2 1437.7l4.6 4.6-4.6 4.6-4.6-4.6zM400.7 1395.7l4.6 4.6-4.6 4.6-4.6-4.6zM271.2 1378.7l4.6 4.6-4.6 4.6-4.6-4.6zM555 1440.6l4.6 4.6-4.6 4.6-4.6-4.6zM464.4 1401.5l4.6 4.6-4.6 4.6-4.6-4.6zM478.8 1428.5l4.6 4.6-4.6 4.6-4.6-4.6zM497.2 1417.5l4.6 4.6-4.6 4.6-4.6-4.6zM454.9 1418.9l4.6 4.6-4.6 4.6-4.6-4.6zM439.5 1387.4l4.6 4.6-4.6 4.6-4.6-4.6zM444.4 1394.9l4.6 4.6-4.6 4.6-4.6-4.6zM220.2 1447.4l4.6 4.6-4.6 4.6-4.6-4.6zM372.3 1379.8l4.6 4.6-4.6 4.6-4.6-4.6zM290.6 1381.2l4.6 4.6-4.6 4.6-4.6-4.6zM442.2 1434l4.6 4.6-4.6 4.6-4.6-4.6zM383.5 1416.8l4.6 4.6-4.6 4.6-4.6-4.6zM229.9 1447.8l4.6 4.6-4.6 4.6-4.6-4.6zM326.8 1408.2l4.6 4.6-4.6 4.6-4.6-4.6zM281.2 1408.6l4.6 4.6-4.6 4.6-4.6-4.6zM381.2 1406.1l4.6 4.6-4.6 4.6-4.6-4.6zM435.1 1400.7l4.6 4.6-4.6 4.6-4.6-4.6zM297.5 1362.3l4.6 4.6-4.6 4.6-4.6-4.6zM210.2 1441.4l4.6 4.6-4.6 4.6-4.6-4.6zM312.5 1395.9l4.6 4.6-4.6 4.6-4.6-4.6zM252.3 1397.1l4.6 4.6-4.6 4.6-4.6-4.6zM347.6 1415.1l4.6 4.6-4.6 4.6-4.6-4.6zM435.8 1430.4l4.6 4.6-4.6 4.6-4.6-4.6zM410.6 1411.6l4.6 4.6-4.6 4.6-4.6-4.6zM423.8 1355.5l4.6 4.6-4.6 4.6-4.6-4.6zM511.2 1429.9l4.6 4.6-4.6 4.6-4.6-4.6zM509.2 1421.3l4.6 4.6-4.6 4.6-4.6-4.6zM346 1411.8l4.6 4.6-4.6 4.6-4.6-4.6zM429.3 1398l4.6 4.6-4.6 4.6-4.6-4.6zM562.3 1434.1l4.6 4.6-4.6 4.6-4.6-4.6zM434 1417.1l4.6 4.6-4.6 4.6-4.6-4.6zM538.8 1444.4l4.6 4.6-4.6 4.6-4.6-4.6zM249.7 1422l4.6 4.6-4.6 4.6-4.6-4.6zM436.4 1429.4l4.6 4.6-4.6 4.6-4.6-4.6zM441.6 1377l4.6 4.6-4.6 4.6-4.6-4.6zM348.3 1395l4.6 4.6-4.6 4.6-4.6-4.6zM293.3 1402.3l4.6 4.6-4.6 4.6-4.6-4.6zM567.9 1444.9l4.6 4.6-4.6 4.6-4.6-4.6zM563.7 1435.8l4.6 4.6-4.6 4.6-4.6-4.6zM429.3 1418.3l4.6 4.6-4.6 4.6-4.6-4.6zM571 1445l4.6 4.6-4.6 4.6-4.6-4.6zM362.9 1406.6l4.6 4.6-4.6 4.6-4.6-4.6zM572.2 1445.6l4.6 4.6-4.6 4.6-4.6-4.6zM315.4 1391.5l4.6 4.6-4.6 4.6-4.6-4.6zM254.9 1416.2l4.6 4.6-4.6 4.6-4.6-4.6zM373.2 1411l4.6 4.6-4.6 4.6-4.6-4.6zM497.7 1406.9l4.6 4.6-4.6 4.6-4.6-4.6zM214.9 1432.8l4.6 4.6-4.6 4.6-4.6-4.6zM310.8 1354.2l4.6 4.6-4.6 4.6-4.6-4.6zM497.7 1428.4l4.6 4.6-4.6 4.6-4.6-4.6zM308.5 1407.9l4.6 4.6-4.6 4.6-4.6-4.6zM573.9 1448.2l4.6 4.6-4.6 4.6-4.6-4.6zM433.8 1408.6l4.6 4.6-4.6 4.6-4.6-4.6zM447.3 1405.6l4.6 4.6-4.6 4.6-4.6-4.6zM483.6 1429.1l4.6 4.6-4.6 4.6-4.6-4.6zM489.8 1424.3l4.6 4.6-4.6 4.6-4.6-4.6zM406.3 1411.6l4.6 4.6-4.6 4.6-4.6-4.6zM319.2 1387.4l4.6 4.6-4.6 4.6-4.6-4.6zM380.9 1407.5l4.6 4.6-4.6 4.6-4.6-4.6zM484.2 1412.9l4.6 4.6-4.6 4.6-4.6-4.6zM223.4 1444.2l4.6 4.6-4.6 4.6-4.6-4.6zM377.7 1349l4.6 4.6-4.6 4.6-4.6-4.6zM536.8 1436.7l4.6 4.6-4.6 4.6-4.6-4.6zM215.4 1418l4.6 4.6-4.6 4.6-4.6-4.6zM367.4 1386.4l4.6 4.6-4.6 4.6-4.6-4.6zM470.6 1408.5l4.6 4.6-4.6 4.6-4.6-4.6zM387.3 1350.9l4.6 4.6-4.6 4.6-4.6-4.6zM351.9 1398.6l4.6 4.6-4.6 4.6-4.6-4.6zM523.5 1440.1l4.6 4.6-4.6 4.6-4.6-4.6zM319.1 1361.6l4.6 4.6-4.6 4.6-4.6-4.6zM234.3 1404.4l4.6 4.6-4.6 4.6-4.6-4.6zM465.6 1419.1l4.6 4.6-4.6 4.6-4.6-4.6zM315.4 1367.3l4.6 4.6-4.6 4.6-4.6-4.6zM545.1 1444.1l4.6 4.6-4.6 4.6-4.6-4.6zM386.1 1392.1l4.6 4.6-4.6 4.6-4.6-4.6zM393.1 1411.4l4.6 4.6-4.6 4.6-4.6-4.6zM266.5 1392.7l4.6 4.6-4.6 4.6-4.6-4.6zM508.8 1435.9l4.6 4.6-4.6 4.6-4.6-4.6zM294.6 1370.3l4.6 4.6-4.6 4.6-4.6-4.6zM501.4 1416.1l4.6 4.6-4.6 4.6-4.6-4.6zM219.4 1420l4.6 4.6-4.6 4.6-4.6-4.6zM570.2 1437.5l4.6 4.6-4.6 4.6-4.6-4.6zM468.1 1432.2l4.6 4.6-4.6 4.6-4.6-4.6zM519.9 1438.6l4.6 4.6-4.6 4.6-4.6-4.6zM447.6 1375.2l4.6 4.6-4.6 4.6-4.6-4.6zM472.2 1430.1l4.6 4.6-4.6 4.6-4.6-4.6zM317.6 1353.3l4.6 4.6-4.6 4.6-4.6-4.6zM265.1 1392l4.6 4.6-4.6 4.6-4.6-4.6zM362.3 1415.4l4.6 4.6-4.6 4.6-4.6-4.6zM439 1434.1l4.6 4.6-4.6 4.6-4.6-4.6zM249.8 1435.3l4.6 4.6-4.6 4.6-4.6-4.6zM236.5 1449.5l4.6 4.6-4.6 4.6-4.6-4.6zM421.7 1378.1l4.6 4.6-4.6 4.6-4.6-4.6zM533.3 1442.7l4.6 4.6-4.6 4.6-4.6-4.6zM368.9 1408.7l4.6 4.6-4.6 4.6-4.6-4.6zM430.9 1405.1l4.6 4.6-4.6 4.6-4.6-4.6zM555.4 1442l4.6 4.6-4.6 4.6-4.6-4.6zM230.5 1417.4l4.6 4.6-4.6 4.6-4.6-4.6zM265.6 1390.9l4.6 4.6-4.6 4.6-4.6-4.6zM396.2 1352.9l4.6 4.6-4.6 4.6-4.6-4.6zM414.2 1388.6l4.6 4.6-4.6 4.6-4.6-4.6zM306.9 1387.2l4.6 4.6-4.6 4.6-4.6-4.6zM303.5 1372.9l4.6 4.6-4.6 4.6-4.6-4.6zM400.3 1422.6l4.6 4.6-4.6 4.6-4.6-4.6zM296.3 1398.6l4.6 4.6-4.6 4.6-4.6-4.6zM481.1 1428.1l4.6 4.6-4.6 4.6-4.6-4.6zM472.5 1407.4l4.6 4.6-4.6 4.6-4.6-4.6zM241.4 1415.8l4.6 4.6-4.6 4.6-4.6-4.6zM243.6 1447.7l4.6 4.6-4.6 4.6-4.6-4.6zM428.6 1418.8l4.6 4.6-4.6 4.6-4.6-4.6zM532.7 1437.2l4.6 4.6-4.6 4.6-4.6-4.6zM329 1362.2l4.6 4.6-4.6 4.6-4.6-4.6zM220.8 1419.2l4.6 4.6-4.6 4.6-4.6-4.6zM229.7 1447.3l4.6 4.6-4.6 4.6-4.6-4.6zM560.4 1438.2l4.6 4.6-4.6 4.6-4.6-4.6zM292.1 1407.9l4.6 4.6-4.6 4.6-4.6-4.6zM568 1441.6l4.6 4.6-4.6 4.6-4.6-4.6zM512 1436.4l4.6 4.6-4.6 4.6-4.6-4.6zM439.9 1421.1l4.6 4.6-4.6 4.6-4.6-4.6zM296.5 1400.4l4.6 4.6-4.6 4.6-4.6-4.6zM435.9 1418.8l4.6 4.6-4.6 4.6-4.6-4.6zM352 1413.2l4.6 4.6-4.6 4.6-4.6-4.6zM515.8 1425.2l4.6 4.6-4.6 4.6-4.6-4.6zM506.1 1426.8l4.6 4.6-4.6 4.6-4.6-4.6zM523.4 1433.2l4.6 4.6-4.6 4.6-4.6-4.6zM428.1 1396.5l4.6 4.6-4.6 4.6-4.6-4.6zM482.4 1421.1l4.6 4.6-4.6 4.6-4.6-4.6zM245.7 1449.8l4.6 4.6-4.6 4.6-4.6-4.6zM284.5 1408.6l4.6 4.6-4.6 4.6-4.6-4.6zM537.2 1438.2l4.6 4.6-4.6 4.6-4.6-4.6zM489.8 1429.6l4.6 4.6-4.6 4.6-4.6-4.6zM383 1353.2l4.6 4.6-4.6 4.6-4.6-4.6zM438 1415.4l4.6 4.6-4.6 4.6-4.6-4.6zM381.3 1422.3l4.6 4.6-4.6 4.6-4.6-4.6zM266.9 1406.6l4.6 4.6-4.6 4.6-4.6-4.6zM347.9 1398.4l4.6 4.6-4.6 4.6-4.6-4.6zM534 1442.6l4.6 4.6-4.6 4.6-4.6-4.6zM303.5 1402.9l4.6 4.6-4.6 4.6-4.6-4.6zM269.4 1403.4l4.6 4.6-4.6 4.6-4.6-4.6zM296.5 1392.7l4.6 4.6-4.6 4.6-4.6-4.6zM221.8 1403.9l4.6 4.6-4.6 4.6-4.6-4.6zM345.8 1344.9l4.6 4.6-4.6 4.6-4.6-4.6zM463.1 1404.3l4.6 4.6-4.6 4.6-4.6-4.6zM383.6 1346l4.6 4.6-4.6 4.6-4.6-4.6zM253.4 1412.4l4.6 4.6-4.6 4.6-4.6-4.6zM317.1 1376.2l4.6 4.6-4.6 4.6-4.6-4.6zM478.4 1428.7l4.6 4.6-4.6 4.6-4.6-4.6zM284 1408.8l4.6 4.6-4.6 4.6-4.6-4.6zM294.8 1408.9l4.6 4.6-4.6 4.6-4.6-4.6zM357.6 1339.2l4.6 4.6-4.6 4.6-4.6-4.6zM344 1403l4.6 4.6-4.6 4.6-4.6-4.6zM382.2 1413.1l4.6 4.6-4.6 4.6-4.6-4.6zM479.5 1405.2l4.6 4.6-4.6 4.6-4.6-4.6zM270.1 1404.6l4.6 4.6-4.6 4.6-4.6-4.6zM457.4 1381.4l4.6 4.6-4.6 4.6-4.6-4.6zM447.7 1417.5l4.6 4.6-4.6 4.6-4.6-4.6zM569 1447.6l4.6 4.6-4.6 4.6-4.6-4.6zM232.4 1410.2l4.6 4.6-4.6 4.6-4.6-4.6zM360.9 1418.9l4.6 4.6-4.6 4.6-4.6-4.6zM411.8 1346.6l4.6 4.6-4.6 4.6-4.6-4.6zM401 1410.4l4.6 4.6-4.6 4.6-4.6-4.6zM244.5 1449.1l4.6 4.6-4.6 4.6-4.6-4.6zM540.8 1438.7l4.6 4.6-4.6 4.6-4.6-4.6zM554.4 1444.8l4.6 4.6-4.6 4.6-4.6-4.6zM299.6 1409.8l4.6 4.6-4.6 4.6-4.6-4.6zM356.2 1417l4.6 4.6-4.6 4.6-4.6-4.6zM304 1396.4l4.6 4.6-4.6 4.6-4.6-4.6zM322.6 1411.7l4.6 4.6-4.6 4.6-4.6-4.6zM223.8 1398.8l4.6 4.6-4.6 4.6-4.6-4.6zM276 1394.3l4.6 4.6-4.6 4.6-4.6-4.6zM358.1 1388.4l4.6 4.6-4.6 4.6-4.6-4.6zM241 1439.9l4.6 4.6-4.6 4.6-4.6-4.6zM249.7 1423.9l4.6 4.6-4.6 4.6-4.6-4.6zM549 1437.8l4.6 4.6-4.6 4.6-4.6-4.6zM525.3 1440.2l4.6 4.6-4.6 4.6-4.6-4.6zM216.4 1432l4.6 4.6-4.6 4.6-4.6-4.6zM389 1390.4l4.6 4.6-4.6 4.6-4.6-4.6zM348.6 1378.5l4.6 4.6-4.6 4.6-4.6-4.6zM477 1392.1l4.6 4.6-4.6 4.6-4.6-4.6zM323.2 1393l4.6 4.6-4.6 4.6-4.6-4.6zM514.1 1435.9l4.6 4.6-4.6 4.6-4.6-4.6zM252.6 1439l4.6 4.6-4.6 4.6-4.6-4.6zM242.2 1406.5l4.6 4.6-4.6 4.6-4.6-4.6zM511.6 1432.8l4.6 4.6-4.6 4.6-4.6-4.6zM257.8 1407.9l4.6 4.6-4.6 4.6-4.6-4.6zM300.1 1409.2l4.6 4.6-4.6 4.6-4.6-4.6zM367.7 1386.4l4.6 4.6-4.6 4.6-4.6-4.6zM300.3 1409.7l4.6 4.6-4.6 4.6-4.6-4.6zM467.8 1432.3l4.6 4.6-4.6 4.6-4.6-4.6zM283.5 1402.5l4.6 4.6-4.6 4.6-4.6-4.6zM347.5 1413.5l4.6 4.6-4.6 4.6-4.6-4.6zM364.8 1407.5l4.6 4.6-4.6 4.6-4.6-4.6zM486.9 1414.9l4.6 4.6-4.6 4.6-4.6-4.6zM539.8 1435l4.6 4.6-4.6 4.6-4.6-4.6zM489.6 1414.6l4.6 4.6-4.6 4.6-4.6-4.6zM372.7 1360.9l4.6 4.6-4.6 4.6-4.6-4.6zM451.2 1377.3l4.6 4.6-4.6 4.6-4.6-4.6zM477.9 1405.8l4.6 4.6-4.6 4.6-4.6-4.6zM308.5 1366.4l4.6 4.6-4.6 4.6-4.6-4.6zM350.7 1413l4.6 4.6-4.6 4.6-4.6-4.6zM234.3 1446.6l4.6 4.6-4.6 4.6-4.6-4.6zM306.6 1378.1l4.6 4.6-4.6 4.6-4.6-4.6zM315.1 1410.9l4.6 4.6-4.6 4.6-4.6-4.6zM491.1 1415.7l4.6 4.6-4.6 4.6-4.6-4.6zM220.1 1449.7l4.6 4.6-4.6 4.6-4.6-4.6zM257.9 1402.2l4.6 4.6-4.6 4.6-4.6-4.6zM526.4 1421.4l4.6 4.6-4.6 4.6-4.6-4.6zM435.2 1424.7l4.6 4.6-4.6 4.6-4.6-4.6zM367.8 1405l4.6 4.6-4.6 4.6-4.6-4.6zM331.6 1413.4l4.6 4.6-4.6 4.6-4.6-4.6zM425.1 1371.1l4.6 4.6-4.6 4.6-4.6-4.6zM477.5 1430.3l4.6 4.6-4.6 4.6-4.6-4.6zM405.2 1421.1l4.6 4.6-4.6 4.6-4.6-4.6zM471.1 1418.7l4.6 4.6-4.6 4.6-4.6-4.6zM555.4 1435.2l4.6 4.6-4.6 4.6-4.6-4.6zM253.5 1438.7l4.6 4.6-4.6 4.6-4.6-4.6zM546.7 1440l4.6 4.6-4.6 4.6-4.6-4.6zM369.8 1399.3l4.6 4.6-4.6 4.6-4.6-4.6zM492.4 1398.4l4.6 4.6-4.6 4.6-4.6-4.6zM406 1347.6l4.6 4.6-4.6 4.6-4.6-4.6zM429.3 1424.7l4.6 4.6-4.6 4.6-4.6-4.6zM509.6 1429.1l4.6 4.6-4.6 4.6-4.6-4.6zM229.3 1394.7l4.6 4.6-4.6 4.6-4.6-4.6zM222.1 1428.3l4.6 4.6-4.6 4.6-4.6-4.6zM387.4 1354.8l4.6 4.6-4.6 4.6-4.6-4.6zM354.5 1410.4l4.6 4.6-4.6 4.6-4.6-4.6zM312 1406.4l4.6 4.6-4.6 4.6-4.6-4.6zM417 1410.7l4.6 4.6-4.6 4.6-4.6-4.6zM486.4 1426.1l4.6 4.6-4.6 4.6-4.6-4.6zM339.5 1406.2l4.6 4.6-4.6 4.6-4.6-4.6zM571.5 1440.7l4.6 4.6-4.6 4.6-4.6-4.6zM522.7 1430.1l4.6 4.6-4.6 4.6-4.6-4.6zM357.5 1414.7l4.6 4.6-4.6 4.6-4.6-4.6zM516.1 1430.4l4.6 4.6-4.6 4.6-4.6-4.6zM223.9 1447l4.6 4.6-4.6 4.6-4.6-4.6zM246.3 1410.1l4.6 4.6-4.6 4.6-4.6-4.6zM541.3 1443.4l4.6 4.6-4.6 4.6-4.6-4.6zM503.3 1428.7l4.6 4.6-4.6 4.6-4.6-4.6zM461.3 1389.6l4.6 4.6-4.6 4.6-4.6-4.6zM439.3 1384.8l4.6 4.6-4.6 4.6-4.6-4.6zM348.5 1415.5l4.6 4.6-4.6 4.6-4.6-4.6zM398.3 1390.1l4.6 4.6-4.6 4.6-4.6-4.6zM278 1399.1l4.6 4.6-4.6 4.6-4.6-4.6zM326.7 1412.6l4.6 4.6-4.6 4.6-4.6-4.6zM324.8 1397.4l4.6 4.6-4.6 4.6-4.6-4.6zM385.2 1375.9l4.6 4.6-4.6 4.6-4.6-4.6zM356.9 1338.1l4.6 4.6-4.6 4.6-4.6-4.6zM510.1 1410.1l4.6 4.6-4.6 4.6-4.6-4.6zM465 1405l4.6 4.6-4.6 4.6-4.6-4.6zM407.5 1368.8l4.6 4.6-4.6 4.6-4.6-4.6zM343.5 1381.4l4.6 4.6-4.6 4.6-4.6-4.6zM460 1413.5l4.6 4.6-4.6 4.6-4.6-4.6zM314.6 1410.5l4.6 4.6-4.6 4.6-4.6-4.6zM242.1 1437.5l4.6 4.6-4.6 4.6-4.6-4.6zM423.6 1377.3l4.6 4.6-4.6 4.6-4.6-4.6zM472.9 1424.7l4.6 4.6-4.6 4.6-4.6-4.6zM551.9 1443l4.6 4.6-4.6 4.6-4.6-4.6zM473.5 1431.2l4.6 4.6-4.6 4.6-4.6-4.6zM487.2 1409.8l4.6 4.6-4.6 4.6-4.6-4.6zM562.1 1435.3l4.6 4.6-4.6 4.6-4.6-4.6zM463.1 1392.3l4.6 4.6-4.6 4.6-4.6-4.6zM481.8 1411.5l4.6 4.6-4.6 4.6-4.6-4.6zM286.8 1392l4.6 4.6-4.6 4.6-4.6-4.6zM539.8 1442.7l4.6 4.6-4.6 4.6-4.6-4.6zM568.7 1443.4l4.6 4.6-4.6 4.6-4.6-4.6zM354.8 1417.4l4.6 4.6-4.6 4.6-4.6-4.6zM353.6 1411.9l4.6 4.6-4.6 4.6-4.6-4.6zM450.3 1382.1l4.6 4.6-4.6 4.6-4.6-4.6zM544.9 1436.9l4.6 4.6-4.6 4.6-4.6-4.6zM352.3 1414.3l4.6 4.6-4.6 4.6-4.6-4.6zM463.5 1412.1l4.6 4.6-4.6 4.6-4.6-4.6zM473.2 1422l4.6 4.6-4.6 4.6-4.6-4.6zM536.3 1442.4l4.6 4.6-4.6 4.6-4.6-4.6zM322.5 1403.9l4.6 4.6-4.6 4.6-4.6-4.6zM439 1374.6l4.6 4.6-4.6 4.6-4.6-4.6zM271.6 1389.4l4.6 4.6-4.6 4.6-4.6-4.6zM492.1 1426.8l4.6 4.6-4.6 4.6-4.6-4.6zM233.1 1426l4.6 4.6-4.6 4.6-4.6-4.6zM515.5 1416.1l4.6 4.6-4.6 4.6-4.6-4.6zM477.9 1420.2l4.6 4.6-4.6 4.6-4.6-4.6zM366.5 1390.7l4.6 4.6-4.6 4.6-4.6-4.6zM542.9 1442.2l4.6 4.6-4.6 4.6-4.6-4.6zM313.3 1382.4l4.6 4.6-4.6 4.6-4.6-4.6zM565.7 1445.5l4.6 4.6-4.6 4.6-4.6-4.6zM221.2 1448.5l4.6 4.6-4.6 4.6-4.6-4.6zM417 1390.6l4.6 4.6-4.6 4.6-4.6-4.6zM277.7 1405.7l4.6 4.6-4.6 4.6-4.6-4.6zM428.8 1390.6l4.6 4.6-4.6 4.6-4.6-4.6zM464 1400.7l4.6 4.6-4.6 4.6-4.6-4.6zM232.6 1431.4l4.6 4.6-4.6 4.6-4.6-4.6zM517.1 1414l4.6 4.6-4.6 4.6-4.6-4.6zM327.2 1357.1l4.6 4.6-4.6 4.6-4.6-4.6zM447.4 1377.6l4.6 4.6-4.6 4.6-4.6-4.6zM294.3 1379.4l4.6 4.6-4.6 4.6-4.6-4.6zM519.4 1432.5l4.6 4.6-4.6 4.6-4.6-4.6zM247.1 1445.2l4.6 4.6-4.6 4.6-4.6-4.6zM267.6 1407.8l4.6 4.6-4.6 4.6-4.6-4.6zM265.9 1391.6l4.6 4.6-4.6 4.6-4.6-4.6zM248.6 1405.6l4.6 4.6-4.6 4.6-4.6-4.6zM480.9 1399.8l4.6 4.6-4.6 4.6-4.6-4.6zM505.8 1416.4l4.6 4.6-4.6 4.6-4.6-4.6zM550.1 1430.2l4.6 4.6-4.6 4.6-4.6-4.6zM440 1368l4.6 4.6-4.6 4.6-4.6-4.6zM248 1448.3l4.6 4.6-4.6 4.6-4.6-4.6zM233.7 1445.3l4.6 4.6-4.6 4.6-4.6-4.6zM347.8 1392.9l4.6 4.6-4.6 4.6-4.6-4.6zM460.4 1398.7l4.6 4.6-4.6 4.6-4.6-4.6zM240.8 1434.9l4.6 4.6-4.6 4.6-4.6-4.6zM410 1409.1l4.6 4.6-4.6 4.6-4.6-4.6zM253.3 1418.7l4.6 4.6-4.6 4.6-4.6-4.6zM347.8 1372.8l4.6 4.6-4.6 4.6-4.6-4.6zM392.3 1345.1l4.6 4.6-4.6 4.6-4.6-4.6zM557.8 1444.7l4.6 4.6-4.6 4.6-4.6-4.6zM489.6 1408l4.6 4.6-4.6 4.6-4.6-4.6zM318.9 1409.8l4.6 4.6-4.6 4.6-4.6-4.6zM386.3 1408.8l4.6 4.6-4.6 4.6-4.6-4.6zM481.3 1393.6l4.6 4.6-4.6 4.6-4.6-4.6zM350.6 1405l4.6 4.6-4.6 4.6-4.6-4.6zM393.5 1377.9l4.6 4.6-4.6 4.6-4.6-4.6zM500.4 1419.1l4.6 4.6-4.6 4.6-4.6-4.6zM318.9 1400.1l4.6 4.6-4.6 4.6-4.6-4.6zM522.1 1432.7l4.6 4.6-4.6 4.6-4.6-4.6zM228.5 1435.9l4.6 4.6-4.6 4.6-4.6-4.6zM297.5 1380.7l4.6 4.6-4.6 4.6-4.6-4.6zM237 1442.3l4.6 4.6-4.6 4.6-4.6-4.6zM245.3 1429.4l4.6 4.6-4.6 4.6-4.6-4.6zM572.3 1445.1l4.6 4.6-4.6 4.6-4.6-4.6zM352.2 1344.7l4.6 4.6-4.6 4.6-4.6-4.6zM243.8 1437.3l4.6 4.6-4.6 4.6-4.6-4.6zM503.6 1484.5l4.6 4.6-4.6 4.6-4.6-4.6zM498.1 1489.2l4.6 4.6-4.6 4.6-4.6-4.6zM504.7 1482.8l4.6 4.6-4.6 4.6-4.6-4.6zM502.7 1488.8l4.6 4.6-4.6 4.6-4.6-4.6zM522.5 1478.3l4.6 4.6-4.6 4.6-4.6-4.6zM523.8 1477.4l4.6 4.6-4.6 4.6-4.6-4.6zM527.2 1478.9l4.6 4.6-4.6 4.6-4.6-4.6zM527.4 1478.9l4.6 4.6-4.6 4.6-4.6-4.6zM551.3 1468.3l4.6 4.6-4.6 4.6-4.6-4.6zM540 1477.6l4.6 4.6-4.6 4.6-4.6-4.6zM546.8 1471.1l4.6 4.6-4.6 4.6-4.6-4.6zM547 1477.4l4.6 4.6-4.6 4.6-4.6-4.6zM570.6 1463l4.6 4.6-4.6 4.6-4.6-4.6zM564 1466.8l4.6 4.6-4.6 4.6-4.6-4.6zM574.4 1464.4l4.6 4.6-4.6 4.6-4.6-4.6zM558.5 1468.5l4.6 4.6-4.6 4.6-4.6-4.6zM575.8 1453.7l4.6 4.6-4.6 4.6-4.6-4.6zM576.6 1456.6l4.6 4.6-4.6 4.6-4.6-4.6zM564.9 1442.3l4.6 4.6-4.6 4.6-4.6-4.6zM577.8 1442.4l4.6 4.6-4.6 4.6-4.6-4.6zM551.3 1444.3l4.6 4.6-4.6 4.6-4.6-4.6zM544 1442.7l4.6 4.6-4.6 4.6-4.6-4.6zM556.8 1443.7l4.6 4.6-4.6 4.6-4.6-4.6zM543.9 1446l4.6 4.6-4.6 4.6-4.6-4.6zM531.9 1441.6l4.6 4.6-4.6 4.6-4.6-4.6zM528.4 1441.2l4.6 4.6-4.6 4.6-4.6-4.6zM526.8 1442.4l4.6 4.6-4.6 4.6-4.6-4.6zM526.3 1438.1l4.6 4.6-4.6 4.6-4.6-4.6zM514.5 1436.6l4.6 4.6-4.6 4.6-4.6-4.6zM509.8 1433.5l4.6 4.6-4.6 4.6-4.6-4.6zM511.2 1435.1l4.6 4.6-4.6 4.6-4.6-4.6zM502.7 1434.3l4.6 4.6-4.6 4.6-4.6-4.6zM494.5 1428l4.6 4.6-4.6 4.6-4.6-4.6zM497.8 1429.8l4.6 4.6-4.6 4.6-4.6-4.6zM484.1 1429l4.6 4.6-4.6 4.6-4.6-4.6zM476.3 1424.3l4.6 4.6-4.6 4.6-4.6-4.6zM477.5 1428l4.6 4.6-4.6 4.6-4.6-4.6zM474.9 1428.4l4.6 4.6-4.6 4.6-4.6-4.6zM460.9 1436.4l4.6 4.6-4.6 4.6-4.6-4.6zM460.3 1432.3l4.6 4.6-4.6 4.6-4.6-4.6zM447.5 1435.5l4.6 4.6-4.6 4.6-4.6-4.6zM453.6 1429.9l4.6 4.6-4.6 4.6-4.6-4.6zM460.8 1433.5l4.6 4.6-4.6 4.6-4.6-4.6zM433.8 1430.4l4.6 4.6-4.6 4.6-4.6-4.6zM440.2 1433.3l4.6 4.6-4.6 4.6-4.6-4.6zM425.1 1423.6l4.6 4.6-4.6 4.6-4.6-4.6zM419 1420l4.6 4.6-4.6 4.6-4.6-4.6zM420.4 1420.9l4.6 4.6-4.6 4.6-4.6-4.6zM412.6 1422.6l4.6 4.6-4.6 4.6-4.6-4.6zM420.6 1422.1l4.6 4.6-4.6 4.6-4.6-4.6zM395.3 1425.2l4.6 4.6-4.6 4.6-4.6-4.6zM426.4 1420.8l4.6 4.6-4.6 4.6-4.6-4.6zM395.1 1425.2l4.6 4.6-4.6 4.6-4.6-4.6zM381.1 1421.8l4.6 4.6-4.6 4.6-4.6-4.6zM381.6 1424.7l4.6 4.6-4.6 4.6-4.6-4.6zM376.9 1420.8l4.6 4.6-4.6 4.6-4.6-4.6zM351.3 1414.6l4.6 4.6-4.6 4.6-4.6-4.6zM356.9 1416.4l4.6 4.6-4.6 4.6-4.6-4.6zM357.6 1413.2l4.6 4.6-4.6 4.6-4.6-4.6zM358.6 1417.1l4.6 4.6-4.6 4.6-4.6-4.6zM329.5 1413.7l4.6 4.6-4.6 4.6-4.6-4.6zM342.5 1413l4.6 4.6-4.6 4.6-4.6-4.6zM323.5 1410.6l4.6 4.6-4.6 4.6-4.6-4.6zM337.8 1413.6l4.6 4.6-4.6 4.6-4.6-4.6zM344 1412.2l4.6 4.6-4.6 4.6-4.6-4.6zM318.3 1410.8l4.6 4.6-4.6 4.6-4.6-4.6zM303.5 1406.3l4.6 4.6-4.6 4.6-4.6-4.6zM317.5 1411.9l4.6 4.6-4.6 4.6-4.6-4.6zM293.1 1409l4.6 4.6-4.6 4.6-4.6-4.6zM288.9 1408.8l4.6 4.6-4.6 4.6-4.6-4.6zM298.3 1407.4l4.6 4.6-4.6 4.6-4.6-4.6zM299.8 1406.2l4.6 4.6-4.6 4.6-4.6-4.6zM262.4 1404.7l4.6 4.6-4.6 4.6-4.6-4.6zM281.1 1409.2l4.6 4.6-4.6 4.6-4.6-4.6zM257.9 1410l4.6 4.6-4.6 4.6-4.6-4.6zM266.8 1406.2l4.6 4.6-4.6 4.6-4.6-4.6zM261.2 1407.5l4.6 4.6-4.6 4.6-4.6-4.6zM250.5 1409.3l4.6 4.6-4.6 4.6-4.6-4.6zM256.9 1406.4l4.6 4.6-4.6 4.6-4.6-4.6zM239 1423l4.6 4.6-4.6 4.6-4.6-4.6zM240.8 1422.5l4.6 4.6-4.6 4.6-4.6-4.6zM243.9 1413.9l4.6 4.6-4.6 4.6-4.6-4.6zM229.3 1446l4.6 4.6-4.6 4.6-4.6-4.6zM238.3 1431.9l4.6 4.6-4.6 4.6-4.6-4.6zM225.9 1445.6l4.6 4.6-4.6 4.6-4.6-4.6zM222.8 1454.6l4.6 4.6-4.6 4.6-4.6-4.6zM221.2 1457.6l4.6 4.6-4.6 4.6-4.6-4.6zM227.4 1453.1l4.6 4.6-4.6 4.6-4.6-4.6zM219.6 1470.2l4.6 4.6-4.6 4.6-4.6-4.6zM397.5 1491.7l4.6 4.6-4.6 4.6-4.6-4.6zM401.8 1498.7l4.6 4.6-4.6 4.6-4.6-4.6zM403.7 1498.3l4.6 4.6-4.6 4.6-4.6-4.6zM414.1 1503.9l4.6 4.6-4.6 4.6-4.6-4.6zM420.8 1505.1l4.6 4.6-4.6 4.6-4.6-4.6zM421.3 1506.8l4.6 4.6-4.6 4.6-4.6-4.6zM442 1505.4l4.6 4.6-4.6 4.6-4.6-4.6zM451.5 1506.8l4.6 4.6-4.6 4.6-4.6-4.6zM450.8 1504.8l4.6 4.6-4.6 4.6-4.6-4.6zM433.8 1502l4.6 4.6-4.6 4.6-4.6-4.6zM439.8 1501.2l4.6 4.6-4.6 4.6-4.6-4.6zM430.4 1507.1l4.6 4.6-4.6 4.6-4.6-4.6zM475.5 1512.8l4.6 4.6-4.6 4.6-4.6-4.6zM458.8 1507.6l4.6 4.6-4.6 4.6-4.6-4.6zM460.1 1503.8l4.6 4.6-4.6 4.6-4.6-4.6zM475.1 1506.1l4.6 4.6-4.6 4.6-4.6-4.6zM481.1 1507.5l4.6 4.6-4.6 4.6-4.6-4.6z" fill="#bebebe"/><path d="M349.6 1392.9L366.6 1425.6" stroke="#2a6f97" stroke-width="1.6"/><path d="M400.3 1489.3L433.4 1448" stroke="#b03030" stroke-width="1.6"/><text x="372.9" y="1228.2" font-size="24" font-weight="bold" font-style="italic" fill="#a82a30">ACTA2</text><text x="458" y="1268.6" font-size="24" font-weight="bold" font-style="italic" fill="#a82a30">TAGLN</text><text x="367.5" y="1307.6" font-size="24" font-weight="bold" font-style="italic" fill="#236a98">LEFTY2</text><text x="528" y="1307.6" font-size="24" font-weight="bold" font-style="italic" fill="#236a98">TIMP3</text><text x="428" y="1373" font-size="24" font-weight="bold" font-style="italic" fill="#236a98">DKK1</text><text x="511" y="1381.6" font-size="24" font-weight="bold" font-style="italic" fill="#236a98">IGFBP2</text><text x="271" y="1387.4" font-size="24" font-weight="bold" font-style="italic" fill="#236a98">SCARA5</text><text x="381.9" y="1429.1" font-size="24" font-weight="bold" font-style="italic" fill="#236a98">IL15</text><text x="439.3" y="1433.1" font-size="24" font-weight="bold" font-style="italic" fill="#a82a30">IGF1</text><text x="513.2" y="1436.7" font-size="24" font-weight="bold" font-style="italic" fill="#236a98">IGFBP6</text><text x="416.9" y="1475.7" font-size="24" font-weight="bold" font-style="italic" fill="#236a98">FOXO1</text><text x="358.6" y="1501.7" font-size="24" font-weight="bold" font-style="italic" fill="#a82a30">ID2</text><text x="441.5" y="1527.2" font-size="24" font-weight="bold" font-style="italic" fill="#236a98">PLAGL1</text><text x="452.7" y="943.4" font-size="24" font-weight="bold" font-style="italic" fill="#236a98">IGFBP1</text><rect x="125.8" y="781.6" width="485.99999999999994" height="804.4" fill="none" stroke="#333" stroke-width="2"/><path d="M116 1549.3H125.8" stroke="#333" stroke-width="1.8"/><text x="110" y="1561.5" text-anchor="end" font-size="26.6" fill="#4d4d4d">0.0</text><path d="M116 1366.6H125.8" stroke="#333" stroke-width="1.8"/><text x="110" y="1378.8" text-anchor="end" font-size="26.6" fill="#4d4d4d">2.5</text><path d="M116 1183.9H125.8" stroke="#333" stroke-width="1.8"/><text x="110" y="1196.1" text-anchor="end" font-size="26.6" fill="#4d4d4d">5.0</text><path d="M116 1001.2H125.8" stroke="#333" stroke-width="1.8"/><text x="110" y="1013.4" text-anchor="end" font-size="26.6" fill="#4d4d4d">7.5</text><path d="M116 818.5H125.8" stroke="#333" stroke-width="1.8"/><text x="110" y="830.7" text-anchor="end" font-size="26.6" fill="#4d4d4d">10.0</text><path d="M256.8 1586V1593" stroke="#333" stroke-width="1.8"/><text x="256.8" y="1623.4" text-anchor="middle" font-size="26.6" fill="#4d4d4d">1e-02</text><path d="M422.7 1586V1593" stroke="#333" stroke-width="1.8"/><text x="422.7" y="1623.4" text-anchor="middle" font-size="26.6" fill="#4d4d4d">1e+00</text><path d="M590.8 1586V1593" stroke="#333" stroke-width="1.8"/><text x="590.8" y="1623.4" text-anchor="middle" font-size="26.6" fill="#4d4d4d">1e+02</text><text x="365.2" y="1663.2" text-anchor="middle" font-size="29" fill="#000">Average count</text><text transform="translate(55.7 1201.5) rotate(-90)" text-anchor="middle" font-size="29.6" fill="#000">Standardized variance</text><text x="628" y="759" font-size="58" font-weight="bold">d</text><text x="772" y="756.5" text-anchor="middle" font-size="29.5" font-style="italic" fill="#000">ACTA2</text><path d="M721 945.4h4.8m-2.4-2.4v4.8M822.1 863.3h4.8m-2.4-2.4v4.8M726.2 989.6h4.8m-2.4-2.4v4.8M718.7 978.3h4.8m-2.4-2.4v4.8M781.6 906.3h4.8m-2.4-2.4v4.8M758.6 841.3h4.8m-2.4-2.4v4.8M704.5 971.3h4.8m-2.4-2.4v4.8M757.8 782.4h4.8m-2.4-2.4v4.8M819.1 1001.7h4.8m-2.4-2.4v4.8M862.5 916.6h4.8m-2.4-2.4v4.8M795.2 950.5h4.8m-2.4-2.4v4.8M720.9 905.2h4.8m-2.4-2.4v4.8M743.9 912h4.8m-2.4-2.4v4.8M866.1 961h4.8m-2.4-2.4v4.8M796.5 1016.9h4.8m-2.4-2.4v4.8M837.5 954h4.8m-2.4-2.4v4.8M828.9 901.6h4.8m-2.4-2.4v4.8M844.7 802.7h4.8m-2.4-2.4v4.8M711.2 987.8h4.8m-2.4-2.4v4.8M712.3 883.9h4.8m-2.4-2.4v4.8M811.2 990.3h4.8m-2.4-2.4v4.8M796 944.1h4.8m-2.4-2.4v4.8M852.7 977.8h4.8m-2.4-2.4v4.8M666.8 863.9h4.8m-2.4-2.4v4.8M854.5 986.5h4.8m-2.4-2.4v4.8M829 931.2h4.8m-2.4-2.4v4.8M728.3 877.6h4.8m-2.4-2.4v4.8M766.8 972.4h4.8m-2.4-2.4v4.8M750.3 899.6h4.8m-2.4-2.4v4.8M720.7 917.4h4.8m-2.4-2.4v4.8M742.6 951.2h4.8m-2.4-2.4v4.8M691.6 903.9h4.8m-2.4-2.4v4.8M812.7 926.5h4.8m-2.4-2.4v4.8M674.1 870.1h4.8m-2.4-2.4v4.8M839.5 987.7h4.8m-2.4-2.4v4.8M870 922.5h4.8m-2.4-2.4v4.8M717.2 974h4.8m-2.4-2.4v4.8M690.1 858.3h4.8m-2.4-2.4v4.8M707.9 874.3h4.8m-2.4-2.4v4.8M790.2 895.8h4.8m-2.4-2.4v4.8M670.1 895.1h4.8m-2.4-2.4v4.8M857.1 926.8h4.8m-2.4-2.4v4.8M771.6 974.4h4.8m-2.4-2.4v4.8M788 951.8h4.8m-2.4-2.4v4.8M786.2 966.7h4.8m-2.4-2.4v4.8M855 928.2h4.8m-2.4-2.4v4.8M689.1 886.7h4.8m-2.4-2.4v4.8M718.9 840.7h4.8m-2.4-2.4v4.8M793.1 1010.2h4.8m-2.4-2.4v4.8M757.3 775.3h4.8m-2.4-2.4v4.8M837.6 997.5h4.8m-2.4-2.4v4.8M769.9 891.9h4.8m-2.4-2.4v4.8M820.8 875.9h4.8m-2.4-2.4v4.8M795.6 885.2h4.8m-2.4-2.4v4.8M750.1 960.6h4.8m-2.4-2.4v4.8M819.8 956.8h4.8m-2.4-2.4v4.8M675.2 959.1h4.8m-2.4-2.4v4.8M783.3 941.9h4.8m-2.4-2.4v4.8M713.7 931.6h4.8m-2.4-2.4v4.8M758.3 1001.1h4.8m-2.4-2.4v4.8M856 945.6h4.8m-2.4-2.4v4.8M674.7 905.1h4.8m-2.4-2.4v4.8M697 903.7h4.8m-2.4-2.4v4.8M772.1 802.5h4.8m-2.4-2.4v4.8M815 964.9h4.8m-2.4-2.4v4.8M787.2 944.1h4.8m-2.4-2.4v4.8M820.1 979.1h4.8m-2.4-2.4v4.8M870.1 905.8h4.8m-2.4-2.4v4.8M792.6 954h4.8m-2.4-2.4v4.8M702.5 920.4h4.8m-2.4-2.4v4.8M710.6 906.2h4.8m-2.4-2.4v4.8M728.5 910.8h4.8m-2.4-2.4v4.8M780.9 1002.3h4.8m-2.4-2.4v4.8M833 865.2h4.8m-2.4-2.4v4.8M801.3 915.3h4.8m-2.4-2.4v4.8M698.2 950.6h4.8m-2.4-2.4v4.8M721.2 898.1h4.8m-2.4-2.4v4.8M719.3 985.1h4.8m-2.4-2.4v4.8M721.5 867.1h4.8m-2.4-2.4v4.8M715.1 919.8h4.8m-2.4-2.4v4.8M718.7 873.9h4.8m-2.4-2.4v4.8M685.4 901.6h4.8m-2.4-2.4v4.8M747.5 791.1h4.8m-2.4-2.4v4.8M802.7 946.4h4.8m-2.4-2.4v4.8M821.7 843.7h4.8m-2.4-2.4v4.8M765.8 829h4.8m-2.4-2.4v4.8M840.1 882.5h4.8m-2.4-2.4v4.8M853.2 970.9h4.8m-2.4-2.4v4.8M774 893.2h4.8m-2.4-2.4v4.8M679.3 960.1h4.8m-2.4-2.4v4.8M824.2 830.4h4.8m-2.4-2.4v4.8M782.4 1011.5h4.8m-2.4-2.4v4.8M876 913.2h4.8m-2.4-2.4v4.8M691 972h4.8m-2.4-2.4v4.8M803.3 895.8h4.8m-2.4-2.4v4.8M687.1 921.7h4.8m-2.4-2.4v4.8M851.9 816.3h4.8m-2.4-2.4v4.8M726.6 961.5h4.8m-2.4-2.4v4.8M839.6 1004.6h4.8m-2.4-2.4v4.8M875.5 886.5h4.8m-2.4-2.4v4.8M688 950.9h4.8m-2.4-2.4v4.8M823.5 849h4.8m-2.4-2.4v4.8M850.2 862.3h4.8m-2.4-2.4v4.8M764 849.3h4.8m-2.4-2.4v4.8M847.4 941.3h4.8m-2.4-2.4v4.8M657.8 907.2h4.8m-2.4-2.4v4.8M721.3 794.2h4.8m-2.4-2.4v4.8M813.8 998.2h4.8m-2.4-2.4v4.8M834.7 957.5h4.8m-2.4-2.4v4.8M663.8 947.1h4.8m-2.4-2.4v4.8M712 852.2h4.8m-2.4-2.4v4.8M725.2 907h4.8m-2.4-2.4v4.8M725.7 967.3h4.8m-2.4-2.4v4.8M833.6 932.1h4.8m-2.4-2.4v4.8M842.7 1002.3h4.8m-2.4-2.4v4.8M854.9 882.6h4.8m-2.4-2.4v4.8M756.1 992.8h4.8m-2.4-2.4v4.8M767.6 853.5h4.8m-2.4-2.4v4.8M723.7 973.7h4.8m-2.4-2.4v4.8M811.1 941.8h4.8m-2.4-2.4v4.8M745.1 978.5h4.8m-2.4-2.4v4.8M723.3 969.3h4.8m-2.4-2.4v4.8M766.5 824h4.8m-2.4-2.4v4.8M811.5 950.1h4.8m-2.4-2.4v4.8M808.3 890.3h4.8m-2.4-2.4v4.8M727.9 929.5h4.8m-2.4-2.4v4.8M817.6 983.7h4.8m-2.4-2.4v4.8M765.4 956.2h4.8m-2.4-2.4v4.8M775.9 906.2h4.8m-2.4-2.4v4.8M772.9 899.2h4.8m-2.4-2.4v4.8M776.3 964.7h4.8m-2.4-2.4v4.8M808.9 850.9h4.8m-2.4-2.4v4.8M715.8 886.3h4.8m-2.4-2.4v4.8M667.4 898.5h4.8m-2.4-2.4v4.8M827.2 918.5h4.8m-2.4-2.4v4.8M810.6 1011.7h4.8m-2.4-2.4v4.8M738.2 865.7h4.8m-2.4-2.4v4.8M740.8 962.1h4.8m-2.4-2.4v4.8M706.7 868.8h4.8m-2.4-2.4v4.8M783.1 893h4.8m-2.4-2.4v4.8M771.8 970h4.8m-2.4-2.4v4.8M707.5 967.8h4.8m-2.4-2.4v4.8M826.4 1001h4.8m-2.4-2.4v4.8M834.8 937.2h4.8m-2.4-2.4v4.8M801 928.4h4.8m-2.4-2.4v4.8M853.9 933.2h4.8m-2.4-2.4v4.8M758 953.3h4.8m-2.4-2.4v4.8M806.1 937.2h4.8m-2.4-2.4v4.8M678.9 916.7h4.8m-2.4-2.4v4.8M714.4 810h4.8m-2.4-2.4v4.8M729.2 962h4.8m-2.4-2.4v4.8M742.6 944h4.8m-2.4-2.4v4.8M841.5 974.4h4.8m-2.4-2.4v4.8M697.2 872h4.8m-2.4-2.4v4.8M715.9 971.6h4.8m-2.4-2.4v4.8M862.8 872.7h4.8m-2.4-2.4v4.8M755.1 805.6h4.8m-2.4-2.4v4.8M818.7 946h4.8m-2.4-2.4v4.8M782.4 870h4.8m-2.4-2.4v4.8M797.1 919h4.8m-2.4-2.4v4.8M849.6 898.4h4.8m-2.4-2.4v4.8M862.6 912.1h4.8m-2.4-2.4v4.8M787.1 914.6h4.8m-2.4-2.4v4.8M813.6 902.4h4.8m-2.4-2.4v4.8M872.4 958.7h4.8m-2.4-2.4v4.8M658.3 881.6h4.8m-2.4-2.4v4.8M680.7 965.2h4.8m-2.4-2.4v4.8M711.1 916.9h4.8m-2.4-2.4v4.8M839.4 899.4h4.8m-2.4-2.4v4.8M738.4 960.6h4.8m-2.4-2.4v4.8M840.4 852.4h4.8m-2.4-2.4v4.8M832.8 991.8h4.8m-2.4-2.4v4.8M719.3 969.8h4.8m-2.4-2.4v4.8M830.8 892.9h4.8m-2.4-2.4v4.8M709.9 951.2h4.8m-2.4-2.4v4.8M807.1 1012.9h4.8m-2.4-2.4v4.8M676.8 915.7h4.8m-2.4-2.4v4.8M724.9 946h4.8m-2.4-2.4v4.8M673.3 901h4.8m-2.4-2.4v4.8M755.6 952.3h4.8m-2.4-2.4v4.8M750.4 970.5h4.8m-2.4-2.4v4.8M742.6 983.7h4.8m-2.4-2.4v4.8M831.5 1009.1h4.8m-2.4-2.4v4.8M737.7 855.1h4.8m-2.4-2.4v4.8M662.8 898.7h4.8m-2.4-2.4v4.8M859.6 815.8h4.8m-2.4-2.4v4.8M746 983.2h4.8m-2.4-2.4v4.8M795 1015.2h4.8m-2.4-2.4v4.8M817.9 942.9h4.8m-2.4-2.4v4.8M743.6 1001.9h4.8m-2.4-2.4v4.8M666 902.8h4.8m-2.4-2.4v4.8M841 991.6h4.8m-2.4-2.4v4.8M774.1 965.9h4.8m-2.4-2.4v4.8M791.9 935h4.8m-2.4-2.4v4.8M825.9 855.2h4.8m-2.4-2.4v4.8M823.8 871h4.8m-2.4-2.4v4.8M779.4 974h4.8m-2.4-2.4v4.8M811.5 819.1h4.8m-2.4-2.4v4.8M792.7 812.7h4.8m-2.4-2.4v4.8M849.6 962.3h4.8m-2.4-2.4v4.8M656.9 923.8h4.8m-2.4-2.4v4.8M870.7 936.2h4.8m-2.4-2.4v4.8M674.9 933.7h4.8m-2.4-2.4v4.8M768.4 1016.8h4.8m-2.4-2.4v4.8M747.7 945.2h4.8m-2.4-2.4v4.8M664.4 913.9h4.8m-2.4-2.4v4.8M753.8 912.3h4.8m-2.4-2.4v4.8M868.1 904.4h4.8m-2.4-2.4v4.8M776.1 912.4h4.8m-2.4-2.4v4.8M873.2 974h4.8m-2.4-2.4v4.8M786.1 847.2h4.8m-2.4-2.4v4.8M803.9 931.6h4.8m-2.4-2.4v4.8M739.7 1001.6h4.8m-2.4-2.4v4.8M682.8 893.9h4.8m-2.4-2.4v4.8M710.2 932.3h4.8m-2.4-2.4v4.8M748.4 794.3h4.8m-2.4-2.4v4.8M750.5 995.1h4.8m-2.4-2.4v4.8M699.9 945.5h4.8m-2.4-2.4v4.8M791.1 902.9h4.8m-2.4-2.4v4.8M687.1 834.1h4.8m-2.4-2.4v4.8M831.1 846.8h4.8m-2.4-2.4v4.8M697.9 906.7h4.8m-2.4-2.4v4.8M847.1 977.7h4.8m-2.4-2.4v4.8M866.3 914.1h4.8m-2.4-2.4v4.8M700.6 938h4.8m-2.4-2.4v4.8M796.4 952.9h4.8m-2.4-2.4v4.8M706.9 871.2h4.8m-2.4-2.4v4.8M780.7 935.7h4.8m-2.4-2.4v4.8M853.3 840.4h4.8m-2.4-2.4v4.8M874.5 860.9h4.8m-2.4-2.4v4.8M837.9 892.8h4.8m-2.4-2.4v4.8M740.8 923.3h4.8m-2.4-2.4v4.8M685.7 948.8h4.8m-2.4-2.4v4.8M661 919.1h4.8m-2.4-2.4v4.8M705.1 930.2h4.8m-2.4-2.4v4.8M814.2 852.7h4.8m-2.4-2.4v4.8M820 992.3h4.8m-2.4-2.4v4.8M746.3 956.9h4.8m-2.4-2.4v4.8M861.1 927h4.8m-2.4-2.4v4.8M818.6 800.6h4.8m-2.4-2.4v4.8M856.3 847.5h4.8m-2.4-2.4v4.8M671.5 940.8h4.8m-2.4-2.4v4.8M766.6 951.6h4.8m-2.4-2.4v4.8M694.1 977.8h4.8m-2.4-2.4v4.8M761.9 979.9h4.8m-2.4-2.4v4.8M745.8 804.5h4.8m-2.4-2.4v4.8M775.6 948.2h4.8m-2.4-2.4v4.8M782.3 961.1h4.8m-2.4-2.4v4.8M727.7 926.3h4.8m-2.4-2.4v4.8M780.1 980.8h4.8m-2.4-2.4v4.8M793 899.7h4.8m-2.4-2.4v4.8M828.6 1004.8h4.8m-2.4-2.4v4.8M706.5 987.9h4.8m-2.4-2.4v4.8M767.2 944h4.8m-2.4-2.4v4.8M800.7 990.3h4.8m-2.4-2.4v4.8M848.7 871.7h4.8m-2.4-2.4v4.8M704 816.7h4.8m-2.4-2.4v4.8M823.3 927.2h4.8m-2.4-2.4v4.8M849.3 927.9h4.8m-2.4-2.4v4.8M823.9 950.2h4.8m-2.4-2.4v4.8M706.3 891.2h4.8m-2.4-2.4v4.8M763.7 778.3h4.8m-2.4-2.4v4.8M752.2 920.3h4.8m-2.4-2.4v4.8M781 796h4.8m-2.4-2.4v4.8M853.7 990.2h4.8m-2.4-2.4v4.8M753.5 891.3h4.8m-2.4-2.4v4.8M872.3 977h4.8m-2.4-2.4v4.8M859.9 966.5h4.8m-2.4-2.4v4.8M846.7 937.9h4.8m-2.4-2.4v4.8M716.9 982.1h4.8m-2.4-2.4v4.8M842.7 860.1h4.8m-2.4-2.4v4.8M754.5 1010.4h4.8m-2.4-2.4v4.8M756 989.9h4.8m-2.4-2.4v4.8" stroke="#fff5f0" stroke-width="2.3" fill="none"/><path d="M769.2 991.1h4.8m-2.4-2.4v4.8M715.6 832.4h4.8m-2.4-2.4v4.8M700.7 810.6h4.8m-2.4-2.4v4.8M809.1 795.8h4.8m-2.4-2.4v4.8M720 871.9h4.8m-2.4-2.4v4.8M835 988.7h4.8m-2.4-2.4v4.8M773.4 844h4.8m-2.4-2.4v4.8M752.4 957.5h4.8m-2.4-2.4v4.8M718.2 877.9h4.8m-2.4-2.4v4.8M807.4 906.8h4.8m-2.4-2.4v4.8M809.5 833.9h4.8m-2.4-2.4v4.8M803.6 1015.3h4.8m-2.4-2.4v4.8M736.4 839.9h4.8m-2.4-2.4v4.8M693.7 820.6h4.8m-2.4-2.4v4.8M755.9 778.1h4.8m-2.4-2.4v4.8M783.7 999.4h4.8m-2.4-2.4v4.8M800.8 944.4h4.8m-2.4-2.4v4.8M764 943h4.8m-2.4-2.4v4.8M776.8 828.5h4.8m-2.4-2.4v4.8M679.6 914.3h4.8m-2.4-2.4v4.8M707.3 866.5h4.8m-2.4-2.4v4.8M680.1 838.9h4.8m-2.4-2.4v4.8M720.3 860.2h4.8m-2.4-2.4v4.8M758 1003.6h4.8m-2.4-2.4v4.8M734.2 817.9h4.8m-2.4-2.4v4.8M844.3 815.5h4.8m-2.4-2.4v4.8M854.8 968.2h4.8m-2.4-2.4v4.8M728.1 857.7h4.8m-2.4-2.4v4.8M829.9 816h4.8m-2.4-2.4v4.8M823.4 820.8h4.8m-2.4-2.4v4.8M853.2 828.2h4.8m-2.4-2.4v4.8M820.7 861.2h4.8m-2.4-2.4v4.8M772.7 895.8h4.8m-2.4-2.4v4.8M873.3 857.2h4.8m-2.4-2.4v4.8M804.1 832.7h4.8m-2.4-2.4v4.8M697.5 867.8h4.8m-2.4-2.4v4.8M840.9 840.1h4.8m-2.4-2.4v4.8M875.2 920h4.8m-2.4-2.4v4.8M784.6 825.5h4.8m-2.4-2.4v4.8M749.3 773.8h4.8m-2.4-2.4v4.8M752 881h4.8m-2.4-2.4v4.8M811.7 828h4.8m-2.4-2.4v4.8M828.7 965h4.8m-2.4-2.4v4.8M744.6 794.8h4.8m-2.4-2.4v4.8M783.2 799h4.8m-2.4-2.4v4.8M745.5 789.8h4.8m-2.4-2.4v4.8M800.2 825.9h4.8m-2.4-2.4v4.8M853.8 845.9h4.8m-2.4-2.4v4.8M665 876.3h4.8m-2.4-2.4v4.8M759 807.7h4.8m-2.4-2.4v4.8M835.3 802.4h4.8m-2.4-2.4v4.8M858.4 963.9h4.8m-2.4-2.4v4.8M693.9 833.5h4.8m-2.4-2.4v4.8M870.6 841.5h4.8m-2.4-2.4v4.8M814.5 869.4h4.8m-2.4-2.4v4.8M799.5 828h4.8m-2.4-2.4v4.8M830.5 858.1h4.8m-2.4-2.4v4.8M680.9 862.7h4.8m-2.4-2.4v4.8M844.6 847.4h4.8m-2.4-2.4v4.8M822.8 912.6h4.8m-2.4-2.4v4.8M706.1 956.6h4.8m-2.4-2.4v4.8M734.6 853.4h4.8m-2.4-2.4v4.8M844.9 960.6h4.8m-2.4-2.4v4.8" stroke="#ef3b2c" stroke-width="2.3" fill="none"/><path d="M675 964.7h4.8m-2.4-2.4v4.8M729.6 931.7h4.8m-2.4-2.4v4.8M812.7 863.7h4.8m-2.4-2.4v4.8M796.4 808.7h4.8m-2.4-2.4v4.8M791.6 874h4.8m-2.4-2.4v4.8M819.5 823h4.8m-2.4-2.4v4.8M834.4 829.3h4.8m-2.4-2.4v4.8M842.2 821.8h4.8m-2.4-2.4v4.8M720.9 806.3h4.8m-2.4-2.4v4.8M761.4 929.3h4.8m-2.4-2.4v4.8M834.4 805.9h4.8m-2.4-2.4v4.8M838.4 912.9h4.8m-2.4-2.4v4.8M725.1 902.3h4.8m-2.4-2.4v4.8M728.4 866.4h4.8m-2.4-2.4v4.8M772.6 870.9h4.8m-2.4-2.4v4.8M768.2 979.5h4.8m-2.4-2.4v4.8M744.7 820h4.8m-2.4-2.4v4.8M845.8 980.2h4.8m-2.4-2.4v4.8M836.6 941.2h4.8m-2.4-2.4v4.8M830.5 873.3h4.8m-2.4-2.4v4.8M778.3 842.6h4.8m-2.4-2.4v4.8M851.2 829.8h4.8m-2.4-2.4v4.8M798.3 954.5h4.8m-2.4-2.4v4.8M783.3 811.3h4.8m-2.4-2.4v4.8M856.5 966.4h4.8m-2.4-2.4v4.8M689.7 855.1h4.8m-2.4-2.4v4.8M778.9 827.4h4.8m-2.4-2.4v4.8M852.5 896.4h4.8m-2.4-2.4v4.8M829.7 801.2h4.8m-2.4-2.4v4.8M834.3 881.5h4.8m-2.4-2.4v4.8M837 875.4h4.8m-2.4-2.4v4.8M853.9 876.8h4.8m-2.4-2.4v4.8M827.1 994.7h4.8m-2.4-2.4v4.8M797.8 821.9h4.8m-2.4-2.4v4.8M760.3 942.7h4.8m-2.4-2.4v4.8M829.3 837.6h4.8m-2.4-2.4v4.8M794 840.2h4.8m-2.4-2.4v4.8M743.8 887.1h4.8m-2.4-2.4v4.8M695.2 825.3h4.8m-2.4-2.4v4.8M802.3 866.4h4.8m-2.4-2.4v4.8M817.2 828.2h4.8m-2.4-2.4v4.8M829.8 804.4h4.8m-2.4-2.4v4.8M757.9 938.6h4.8m-2.4-2.4v4.8M800.8 831.7h4.8m-2.4-2.4v4.8M787.4 833.3h4.8m-2.4-2.4v4.8M815.6 799.4h4.8m-2.4-2.4v4.8M765.5 784.9h4.8m-2.4-2.4v4.8M731.2 814.5h4.8m-2.4-2.4v4.8M719.7 854.5h4.8m-2.4-2.4v4.8M779.5 832h4.8m-2.4-2.4v4.8M707.6 905.6h4.8m-2.4-2.4v4.8M811.2 840.8h4.8m-2.4-2.4v4.8M815.6 850.8h4.8m-2.4-2.4v4.8M858.4 823.6h4.8m-2.4-2.4v4.8M791.8 1017.4h4.8m-2.4-2.4v4.8M677.7 863.6h4.8m-2.4-2.4v4.8M802.7 815.5h4.8m-2.4-2.4v4.8M769.1 781.5h4.8m-2.4-2.4v4.8M671.3 937h4.8m-2.4-2.4v4.8M763.7 863h4.8m-2.4-2.4v4.8M714 853.2h4.8m-2.4-2.4v4.8M807.7 820.4h4.8m-2.4-2.4v4.8M825.4 824.1h4.8m-2.4-2.4v4.8M792.8 867.4h4.8m-2.4-2.4v4.8M710.3 819.7h4.8m-2.4-2.4v4.8M865 978.5h4.8m-2.4-2.4v4.8M669 935.2h4.8m-2.4-2.4v4.8M805.8 838.7h4.8m-2.4-2.4v4.8" stroke="#dd2a24" stroke-width="2.3" fill="none"/><path d="M732.2 789.8h4.8m-2.4-2.4v4.8M824.8 882.3h4.8m-2.4-2.4v4.8M806.9 933.3h4.8m-2.4-2.4v4.8M841.9 979.7h4.8m-2.4-2.4v4.8M771.9 1011.5h4.8m-2.4-2.4v4.8M820.2 999.6h4.8m-2.4-2.4v4.8M760.2 842.8h4.8m-2.4-2.4v4.8M867.4 878.5h4.8m-2.4-2.4v4.8M857.9 882.2h4.8m-2.4-2.4v4.8M672.9 948.6h4.8m-2.4-2.4v4.8M711.6 844.8h4.8m-2.4-2.4v4.8M682.3 870.3h4.8m-2.4-2.4v4.8M716.7 801.5h4.8m-2.4-2.4v4.8M820.3 866.6h4.8m-2.4-2.4v4.8M709 864.8h4.8m-2.4-2.4v4.8M737.6 777.8h4.8m-2.4-2.4v4.8M816.5 813.6h4.8m-2.4-2.4v4.8M820 837.3h4.8m-2.4-2.4v4.8M835.5 835.7h4.8m-2.4-2.4v4.8M750.7 828.4h4.8m-2.4-2.4v4.8M817 806.8h4.8m-2.4-2.4v4.8M754 934.5h4.8m-2.4-2.4v4.8M792.3 819.6h4.8m-2.4-2.4v4.8M836.3 859.8h4.8m-2.4-2.4v4.8M838.3 842.5h4.8m-2.4-2.4v4.8M838.9 926.8h4.8m-2.4-2.4v4.8M740.4 835.3h4.8m-2.4-2.4v4.8M782.5 787.2h4.8m-2.4-2.4v4.8M730.5 835.9h4.8m-2.4-2.4v4.8M844.9 818.8h4.8m-2.4-2.4v4.8M771.1 826.3h4.8m-2.4-2.4v4.8M725.7 798.2h4.8m-2.4-2.4v4.8M799.6 891.9h4.8m-2.4-2.4v4.8M798.7 848.7h4.8m-2.4-2.4v4.8M857.5 917.3h4.8m-2.4-2.4v4.8M739.9 854.9h4.8m-2.4-2.4v4.8M836.8 864.6h4.8m-2.4-2.4v4.8M710.3 825.6h4.8m-2.4-2.4v4.8M725 815.7h4.8m-2.4-2.4v4.8M779.3 819.5h4.8m-2.4-2.4v4.8M749.7 863.2h4.8m-2.4-2.4v4.8M867.3 834.8h4.8m-2.4-2.4v4.8M743.5 828.5h4.8m-2.4-2.4v4.8M750.7 966.2h4.8m-2.4-2.4v4.8M775.9 804.3h4.8m-2.4-2.4v4.8M747 920.6h4.8m-2.4-2.4v4.8M852.6 837.1h4.8m-2.4-2.4v4.8M865.5 869.1h4.8m-2.4-2.4v4.8" stroke="#cb181d" stroke-width="2.3" fill="none"/><path d="M816.9 965.8h4.8m-2.4-2.4v4.8M682.3 858.3h4.8m-2.4-2.4v4.8M739.7 884.4h4.8m-2.4-2.4v4.8M807.6 941.5h4.8m-2.4-2.4v4.8M832.4 888.8h4.8m-2.4-2.4v4.8M698.8 812.4h4.8m-2.4-2.4v4.8M765.2 805.1h4.8m-2.4-2.4v4.8M684.1 920.6h4.8m-2.4-2.4v4.8M710.4 807h4.8m-2.4-2.4v4.8M756.4 788.9h4.8m-2.4-2.4v4.8M688.5 897.5h4.8m-2.4-2.4v4.8M834.6 816h4.8m-2.4-2.4v4.8M696.8 876.3h4.8m-2.4-2.4v4.8M708.7 855.4h4.8m-2.4-2.4v4.8M786.9 837.5h4.8m-2.4-2.4v4.8M731.3 893.2h4.8m-2.4-2.4v4.8M833.4 855h4.8m-2.4-2.4v4.8M755.7 923.8h4.8m-2.4-2.4v4.8M715.5 839.1h4.8m-2.4-2.4v4.8M764.7 1008h4.8m-2.4-2.4v4.8M751.1 831.3h4.8m-2.4-2.4v4.8M774.5 1013.8h4.8m-2.4-2.4v4.8M678.7 869.4h4.8m-2.4-2.4v4.8M842 996.1h4.8m-2.4-2.4v4.8M859.3 818.5h4.8m-2.4-2.4v4.8M714.9 956.1h4.8m-2.4-2.4v4.8M810.1 797.8h4.8m-2.4-2.4v4.8M759.2 854.2h4.8m-2.4-2.4v4.8M708.4 836.5h4.8m-2.4-2.4v4.8M717.2 816.8h4.8m-2.4-2.4v4.8M827.2 983.5h4.8m-2.4-2.4v4.8M853.6 903h4.8m-2.4-2.4v4.8M709.2 868.2h4.8m-2.4-2.4v4.8M689.5 824.7h4.8m-2.4-2.4v4.8M879 933.4h4.8m-2.4-2.4v4.8M746.9 862.3h4.8m-2.4-2.4v4.8M809 882.8h4.8m-2.4-2.4v4.8M687.7 861.8h4.8m-2.4-2.4v4.8M867.3 840.7h4.8m-2.4-2.4v4.8M791 1003.1h4.8m-2.4-2.4v4.8M831.2 870.1h4.8m-2.4-2.4v4.8M753.3 781.6h4.8m-2.4-2.4v4.8M788.4 816.2h4.8m-2.4-2.4v4.8M870.3 868.8h4.8m-2.4-2.4v4.8M706.2 801.5h4.8m-2.4-2.4v4.8M721.8 855.5h4.8m-2.4-2.4v4.8M798.8 830.5h4.8m-2.4-2.4v4.8M685.5 869.2h4.8m-2.4-2.4v4.8M717.8 821.5h4.8m-2.4-2.4v4.8M850.3 878h4.8m-2.4-2.4v4.8M859.1 975.7h4.8m-2.4-2.4v4.8M693.3 861.3h4.8m-2.4-2.4v4.8M717.2 848.7h4.8m-2.4-2.4v4.8M790.1 923.3h4.8m-2.4-2.4v4.8M846.5 898.3h4.8m-2.4-2.4v4.8M851.9 811.9h4.8m-2.4-2.4v4.8M796.3 845.1h4.8m-2.4-2.4v4.8M845.9 845.3h4.8m-2.4-2.4v4.8M754.2 854h4.8m-2.4-2.4v4.8M800.8 804.7h4.8m-2.4-2.4v4.8M771.9 847.3h4.8m-2.4-2.4v4.8M685.2 844.5h4.8m-2.4-2.4v4.8M853.8 822.6h4.8m-2.4-2.4v4.8M755.4 831.5h4.8m-2.4-2.4v4.8M737.3 913.2h4.8m-2.4-2.4v4.8M730.8 946h4.8m-2.4-2.4v4.8M806.7 805.2h4.8m-2.4-2.4v4.8M855.7 842.3h4.8m-2.4-2.4v4.8M723.6 927.1h4.8m-2.4-2.4v4.8M869.4 851.5h4.8m-2.4-2.4v4.8M727.9 823.4h4.8m-2.4-2.4v4.8M715 825.8h4.8m-2.4-2.4v4.8M847.7 993.7h4.8m-2.4-2.4v4.8M754.8 820.8h4.8m-2.4-2.4v4.8M734.4 931.8h4.8m-2.4-2.4v4.8M813.6 848.1h4.8m-2.4-2.4v4.8M862.3 862h4.8m-2.4-2.4v4.8M734.5 824h4.8m-2.4-2.4v4.8M793.1 970h4.8m-2.4-2.4v4.8M749.9 886.2h4.8m-2.4-2.4v4.8M734.6 785h4.8m-2.4-2.4v4.8M778.1 787.8h4.8m-2.4-2.4v4.8M782.1 967.4h4.8m-2.4-2.4v4.8M761 828.1h4.8m-2.4-2.4v4.8M723 791.1h4.8m-2.4-2.4v4.8M742.8 849.4h4.8m-2.4-2.4v4.8M714.4 980.4h4.8m-2.4-2.4v4.8M843 880.2h4.8m-2.4-2.4v4.8M741 915.2h4.8m-2.4-2.4v4.8M712.5 802.2h4.8m-2.4-2.4v4.8M769.4 835.6h4.8m-2.4-2.4v4.8M704.4 936.4h4.8m-2.4-2.4v4.8M761.1 833.7h4.8m-2.4-2.4v4.8M767.5 806.2h4.8m-2.4-2.4v4.8M804.3 829.5h4.8m-2.4-2.4v4.8M784.6 956.7h4.8m-2.4-2.4v4.8M830.8 933.6h4.8m-2.4-2.4v4.8M765.6 978.2h4.8m-2.4-2.4v4.8M769.6 838.6h4.8m-2.4-2.4v4.8M669.6 926.9h4.8m-2.4-2.4v4.8M768.6 798.8h4.8m-2.4-2.4v4.8M775.6 780.5h4.8m-2.4-2.4v4.8M765.5 962h4.8m-2.4-2.4v4.8M780 912.6h4.8m-2.4-2.4v4.8M824 799.2h4.8m-2.4-2.4v4.8M734.5 909.2h4.8m-2.4-2.4v4.8M678 871.9h4.8m-2.4-2.4v4.8M867.8 859.4h4.8m-2.4-2.4v4.8M694.8 924.5h4.8m-2.4-2.4v4.8M776.2 785.8h4.8m-2.4-2.4v4.8M782.1 827.4h4.8m-2.4-2.4v4.8M839.7 855h4.8m-2.4-2.4v4.8M762.5 1012.3h4.8m-2.4-2.4v4.8M704.5 821.1h4.8m-2.4-2.4v4.8M867.8 944.8h4.8m-2.4-2.4v4.8M835.6 847.3h4.8m-2.4-2.4v4.8" stroke="#b81419" stroke-width="2.3" fill="none"/><path d="M703.9 828.2h4.8m-2.4-2.4v4.8M807.9 840h4.8m-2.4-2.4v4.8M692.4 882.3h4.8m-2.4-2.4v4.8M824.8 963h4.8m-2.4-2.4v4.8M690.1 830.4h4.8m-2.4-2.4v4.8M858.4 946.3h4.8m-2.4-2.4v4.8M723.6 841.4h4.8m-2.4-2.4v4.8M726.6 843.4h4.8m-2.4-2.4v4.8M816.2 904.6h4.8m-2.4-2.4v4.8M673.6 858.3h4.8m-2.4-2.4v4.8M679.9 902.7h4.8m-2.4-2.4v4.8M759.4 803.6h4.8m-2.4-2.4v4.8M821.3 923.3h4.8m-2.4-2.4v4.8M722.2 785.7h4.8m-2.4-2.4v4.8M713.3 985.7h4.8m-2.4-2.4v4.8M765.1 853.9h4.8m-2.4-2.4v4.8M766.6 837.9h4.8m-2.4-2.4v4.8M862.3 895.6h4.8m-2.4-2.4v4.8M876.4 916.3h4.8m-2.4-2.4v4.8M737.8 804h4.8m-2.4-2.4v4.8M846.2 886.4h4.8m-2.4-2.4v4.8M824.9 862.8h4.8m-2.4-2.4v4.8M843.3 962.6h4.8m-2.4-2.4v4.8M771.7 777.7h4.8m-2.4-2.4v4.8M805.6 977.2h4.8m-2.4-2.4v4.8M817.2 898.2h4.8m-2.4-2.4v4.8M767 941.6h4.8m-2.4-2.4v4.8M732.8 884.1h4.8m-2.4-2.4v4.8M736 874.4h4.8m-2.4-2.4v4.8M762.6 814.2h4.8m-2.4-2.4v4.8M695.2 862.9h4.8m-2.4-2.4v4.8M770.9 957.3h4.8m-2.4-2.4v4.8M767.6 881.8h4.8m-2.4-2.4v4.8M777.1 831.9h4.8m-2.4-2.4v4.8M755.3 834.6h4.8m-2.4-2.4v4.8M706.1 841h4.8m-2.4-2.4v4.8M709 804.3h4.8m-2.4-2.4v4.8M817.2 939.7h4.8m-2.4-2.4v4.8M804.1 854.3h4.8m-2.4-2.4v4.8M793.4 849.3h4.8m-2.4-2.4v4.8M716 965.8h4.8m-2.4-2.4v4.8M750.7 813.8h4.8m-2.4-2.4v4.8M741.7 794.3h4.8m-2.4-2.4v4.8M778.2 824.9h4.8m-2.4-2.4v4.8M739.2 838.6h4.8m-2.4-2.4v4.8M796.4 818.8h4.8m-2.4-2.4v4.8M869.4 837.2h4.8m-2.4-2.4v4.8M723.5 962.9h4.8m-2.4-2.4v4.8M812.4 801.8h4.8m-2.4-2.4v4.8M857.8 898.6h4.8m-2.4-2.4v4.8M757.7 832.7h4.8m-2.4-2.4v4.8M742.4 979.5h4.8m-2.4-2.4v4.8M800.4 810.8h4.8m-2.4-2.4v4.8M795.3 836.7h4.8m-2.4-2.4v4.8M771.3 888.3h4.8m-2.4-2.4v4.8M811.4 849.1h4.8m-2.4-2.4v4.8M691.7 916.4h4.8m-2.4-2.4v4.8M795.4 830.5h4.8m-2.4-2.4v4.8M787.9 868.4h4.8m-2.4-2.4v4.8M867.3 876.2h4.8m-2.4-2.4v4.8M848.2 852.8h4.8m-2.4-2.4v4.8M730.1 809.1h4.8m-2.4-2.4v4.8M768.8 776.8h4.8m-2.4-2.4v4.8M843.7 953.8h4.8m-2.4-2.4v4.8M680 842.7h4.8m-2.4-2.4v4.8M819.8 810.6h4.8m-2.4-2.4v4.8M684.7 858.4h4.8m-2.4-2.4v4.8M763.9 889.6h4.8m-2.4-2.4v4.8M700.2 840.7h4.8m-2.4-2.4v4.8M786.7 855.4h4.8m-2.4-2.4v4.8M732.7 895.6h4.8m-2.4-2.4v4.8M664.1 911.3h4.8m-2.4-2.4v4.8M783.7 1006.4h4.8m-2.4-2.4v4.8M865 838.4h4.8m-2.4-2.4v4.8M784.3 794.4h4.8m-2.4-2.4v4.8M725.1 863.2h4.8m-2.4-2.4v4.8M857.4 862.5h4.8m-2.4-2.4v4.8M855.8 872.8h4.8m-2.4-2.4v4.8M770.2 896.5h4.8m-2.4-2.4v4.8M858.4 821h4.8m-2.4-2.4v4.8M820.6 893.5h4.8m-2.4-2.4v4.8M843.8 808.7h4.8m-2.4-2.4v4.8M699.1 880.1h4.8m-2.4-2.4v4.8M736.5 812.6h4.8m-2.4-2.4v4.8M701.1 854.3h4.8m-2.4-2.4v4.8M783.8 860.8h4.8m-2.4-2.4v4.8M785.2 893.8h4.8m-2.4-2.4v4.8M692.8 838.2h4.8m-2.4-2.4v4.8M749.1 851.5h4.8m-2.4-2.4v4.8M748.7 902.1h4.8m-2.4-2.4v4.8M681.1 865h4.8m-2.4-2.4v4.8M697.1 977.2h4.8m-2.4-2.4v4.8M754.3 843.8h4.8m-2.4-2.4v4.8M737.3 824.3h4.8m-2.4-2.4v4.8M689.4 909.6h4.8m-2.4-2.4v4.8M862.5 837.1h4.8m-2.4-2.4v4.8M673.9 855.9h4.8m-2.4-2.4v4.8M814.4 959h4.8m-2.4-2.4v4.8M860.8 943.5h4.8m-2.4-2.4v4.8M861.5 964.9h4.8m-2.4-2.4v4.8M774 910.4h4.8m-2.4-2.4v4.8M835.1 798.2h4.8m-2.4-2.4v4.8M713.5 898.6h4.8m-2.4-2.4v4.8M760 820.4h4.8m-2.4-2.4v4.8M730.1 844.4h4.8m-2.4-2.4v4.8M870.2 892.5h4.8m-2.4-2.4v4.8M834.5 911.5h4.8m-2.4-2.4v4.8M699.3 858.1h4.8m-2.4-2.4v4.8M685.7 898.9h4.8m-2.4-2.4v4.8M720.9 826.9h4.8m-2.4-2.4v4.8M876.5 963.2h4.8m-2.4-2.4v4.8M766.1 845.7h4.8m-2.4-2.4v4.8M793.1 854.6h4.8m-2.4-2.4v4.8M775.9 789.5h4.8m-2.4-2.4v4.8M846.3 891.6h4.8m-2.4-2.4v4.8M765.9 897.6h4.8m-2.4-2.4v4.8M773.8 885.1h4.8m-2.4-2.4v4.8M783 833.4h4.8m-2.4-2.4v4.8M825.2 886.9h4.8m-2.4-2.4v4.8M784.6 882.1h4.8m-2.4-2.4v4.8M828.5 828.2h4.8m-2.4-2.4v4.8M828.3 844.7h4.8m-2.4-2.4v4.8M848.4 954h4.8m-2.4-2.4v4.8M678.7 846.4h4.8m-2.4-2.4v4.8M721.7 802.1h4.8m-2.4-2.4v4.8M817.4 803h4.8m-2.4-2.4v4.8" stroke="#a50f15" stroke-width="2.3" fill="none"/><path d="M788.3 821.5h4.8m-2.4-2.4v4.8M857.6 871.3h4.8m-2.4-2.4v4.8M712.1 823.9h4.8m-2.4-2.4v4.8M823.6 832.9h4.8m-2.4-2.4v4.8M838.2 857.4h4.8m-2.4-2.4v4.8M822.5 809.6h4.8m-2.4-2.4v4.8M665.4 905.1h4.8m-2.4-2.4v4.8M814.8 844.2h4.8m-2.4-2.4v4.8M785 991.8h4.8m-2.4-2.4v4.8M724.8 808h4.8m-2.4-2.4v4.8M778.5 810.9h4.8m-2.4-2.4v4.8M852.8 856.6h4.8m-2.4-2.4v4.8M701.6 821.4h4.8m-2.4-2.4v4.8M779.6 800.9h4.8m-2.4-2.4v4.8M749.7 824.4h4.8m-2.4-2.4v4.8M839.5 835.7h4.8m-2.4-2.4v4.8M818.1 835.4h4.8m-2.4-2.4v4.8M840.3 943.2h4.8m-2.4-2.4v4.8M796.6 988h4.8m-2.4-2.4v4.8M761.4 787.5h4.8m-2.4-2.4v4.8M727.9 899.6h4.8m-2.4-2.4v4.8M798.7 856.4h4.8m-2.4-2.4v4.8M794.9 857.7h4.8m-2.4-2.4v4.8M806 812.9h4.8m-2.4-2.4v4.8M684.3 863.7h4.8m-2.4-2.4v4.8M679.3 928.2h4.8m-2.4-2.4v4.8M836.2 808.7h4.8m-2.4-2.4v4.8M782.1 938h4.8m-2.4-2.4v4.8M707.2 852.9h4.8m-2.4-2.4v4.8M711.8 965h4.8m-2.4-2.4v4.8M691.9 875.9h4.8m-2.4-2.4v4.8M769.1 967.2h4.8m-2.4-2.4v4.8M746.8 782.5h4.8m-2.4-2.4v4.8M672.3 880.7h4.8m-2.4-2.4v4.8M718.3 788.2h4.8m-2.4-2.4v4.8M716.5 866.7h4.8m-2.4-2.4v4.8M812 834h4.8m-2.4-2.4v4.8M798.3 799.5h4.8m-2.4-2.4v4.8M685.1 865.9h4.8m-2.4-2.4v4.8M687.3 965.8h4.8m-2.4-2.4v4.8M729.1 819.9h4.8m-2.4-2.4v4.8M798.4 1010.3h4.8m-2.4-2.4v4.8M850.6 840.6h4.8m-2.4-2.4v4.8M818.9 792.4h4.8m-2.4-2.4v4.8M832.6 844.1h4.8m-2.4-2.4v4.8M788.3 803h4.8m-2.4-2.4v4.8M759.7 885.8h4.8m-2.4-2.4v4.8M824.9 806.7h4.8m-2.4-2.4v4.8M707.1 857.4h4.8m-2.4-2.4v4.8M821.4 802.6h4.8m-2.4-2.4v4.8M657.1 899.1h4.8m-2.4-2.4v4.8M854.9 830.1h4.8m-2.4-2.4v4.8M865.8 846.7h4.8m-2.4-2.4v4.8M754.9 786.4h4.8m-2.4-2.4v4.8M695.1 815.9h4.8m-2.4-2.4v4.8M711.3 796.6h4.8m-2.4-2.4v4.8M717.8 794.6h4.8m-2.4-2.4v4.8M818.9 923.6h4.8m-2.4-2.4v4.8M795.5 929.7h4.8m-2.4-2.4v4.8M714.6 874.6h4.8m-2.4-2.4v4.8M825.7 857.9h4.8m-2.4-2.4v4.8M864.9 928h4.8m-2.4-2.4v4.8M798.3 804.9h4.8m-2.4-2.4v4.8M805.1 948.5h4.8m-2.4-2.4v4.8M725.7 985.1h4.8m-2.4-2.4v4.8M824.5 999.7h4.8m-2.4-2.4v4.8M821.1 847.8h4.8m-2.4-2.4v4.8M776.1 873.1h4.8m-2.4-2.4v4.8M798.8 888.6h4.8m-2.4-2.4v4.8M752.2 887.8h4.8m-2.4-2.4v4.8M806.5 798.6h4.8m-2.4-2.4v4.8M698.2 889.1h4.8m-2.4-2.4v4.8M682.8 884.7h4.8m-2.4-2.4v4.8M659.2 932.6h4.8m-2.4-2.4v4.8M735.7 834.8h4.8m-2.4-2.4v4.8M753.8 860.1h4.8m-2.4-2.4v4.8M712.3 814h4.8m-2.4-2.4v4.8M761.1 881.6h4.8m-2.4-2.4v4.8M754.9 868.9h4.8m-2.4-2.4v4.8M726.3 868.3h4.8m-2.4-2.4v4.8M714.4 794.9h4.8m-2.4-2.4v4.8M773.4 798.7h4.8m-2.4-2.4v4.8M722.7 820.1h4.8m-2.4-2.4v4.8M690.4 967.5h4.8m-2.4-2.4v4.8M788 873.8h4.8m-2.4-2.4v4.8M740.3 812.3h4.8m-2.4-2.4v4.8M667.1 896.1h4.8m-2.4-2.4v4.8M792.4 951.6h4.8m-2.4-2.4v4.8M768 856.6h4.8m-2.4-2.4v4.8M736.6 885.7h4.8m-2.4-2.4v4.8M787.6 857.5h4.8m-2.4-2.4v4.8M790.9 809.6h4.8m-2.4-2.4v4.8M759.2 778.3h4.8m-2.4-2.4v4.8M667.3 878.6h4.8m-2.4-2.4v4.8M718.2 834.8h4.8m-2.4-2.4v4.8M786.9 800.9h4.8m-2.4-2.4v4.8M737.6 849.7h4.8m-2.4-2.4v4.8M786.7 955.8h4.8m-2.4-2.4v4.8M835.5 985.5h4.8m-2.4-2.4v4.8M759.7 836.7h4.8m-2.4-2.4v4.8M733.7 859.7h4.8m-2.4-2.4v4.8M772 980.4h4.8m-2.4-2.4v4.8M808 1020.1h4.8m-2.4-2.4v4.8M794.8 823h4.8m-2.4-2.4v4.8M721.1 811.5h4.8m-2.4-2.4v4.8M807.6 830.2h4.8m-2.4-2.4v4.8M772.9 924.3h4.8m-2.4-2.4v4.8M832.1 849h4.8m-2.4-2.4v4.8M826.7 852.7h4.8m-2.4-2.4v4.8M846.8 907.9h4.8m-2.4-2.4v4.8M792.5 807.2h4.8m-2.4-2.4v4.8M855.4 824.4h4.8m-2.4-2.4v4.8M807.4 848.5h4.8m-2.4-2.4v4.8M755 816.7h4.8m-2.4-2.4v4.8M843.9 830.8h4.8m-2.4-2.4v4.8M806.1 851.7h4.8m-2.4-2.4v4.8M796.6 996.4h4.8m-2.4-2.4v4.8M724.2 834.3h4.8m-2.4-2.4v4.8M794.2 983.4h4.8m-2.4-2.4v4.8M734.8 903.4h4.8m-2.4-2.4v4.8M805.7 968.1h4.8m-2.4-2.4v4.8M814.7 835h4.8m-2.4-2.4v4.8M865.7 830.4h4.8m-2.4-2.4v4.8M855.9 930.7h4.8m-2.4-2.4v4.8M713.8 909.4h4.8m-2.4-2.4v4.8M756.1 811.2h4.8m-2.4-2.4v4.8M798.2 869.3h4.8m-2.4-2.4v4.8" stroke="#860811" stroke-width="2.3" fill="none"/><path d="M753.5 848.8h4.8m-2.4-2.4v4.8M656.1 888.6h4.8m-2.4-2.4v4.8M861.8 852.5h4.8m-2.4-2.4v4.8M839.6 832.4h4.8m-2.4-2.4v4.8M858.3 886h4.8m-2.4-2.4v4.8M825.1 918.5h4.8m-2.4-2.4v4.8M722.3 844.2h4.8m-2.4-2.4v4.8M679.5 881.5h4.8m-2.4-2.4v4.8M811.7 811.2h4.8m-2.4-2.4v4.8M795 801.7h4.8m-2.4-2.4v4.8M735.9 867.4h4.8m-2.4-2.4v4.8M826.6 796.6h4.8m-2.4-2.4v4.8M743.9 861h4.8m-2.4-2.4v4.8M868.8 863.1h4.8m-2.4-2.4v4.8M717.9 813.1h4.8m-2.4-2.4v4.8M789.1 819h4.8m-2.4-2.4v4.8M825.8 848.9h4.8m-2.4-2.4v4.8M802.9 798.4h4.8m-2.4-2.4v4.8M859.8 879.1h4.8m-2.4-2.4v4.8M826.7 805.6h4.8m-2.4-2.4v4.8M851.6 885.9h4.8m-2.4-2.4v4.8M820.9 870.6h4.8m-2.4-2.4v4.8M877.7 931.6h4.8m-2.4-2.4v4.8M769.7 843.2h4.8m-2.4-2.4v4.8M742.6 867h4.8m-2.4-2.4v4.8M747 819.2h4.8m-2.4-2.4v4.8M748.1 803.4h4.8m-2.4-2.4v4.8M721.5 881.9h4.8m-2.4-2.4v4.8M788 895.8h4.8m-2.4-2.4v4.8M708.7 843.5h4.8m-2.4-2.4v4.8M734.5 838.9h4.8m-2.4-2.4v4.8M794 956.2h4.8m-2.4-2.4v4.8M744.8 838.3h4.8m-2.4-2.4v4.8M773.9 960.5h4.8m-2.4-2.4v4.8M801.7 919.5h4.8m-2.4-2.4v4.8M689.4 900h4.8m-2.4-2.4v4.8M791 887.4h4.8m-2.4-2.4v4.8M725.3 826h4.8m-2.4-2.4v4.8M832 862.5h4.8m-2.4-2.4v4.8M809.8 929.8h4.8m-2.4-2.4v4.8M862.4 846.6h4.8m-2.4-2.4v4.8M872.4 913.2h4.8m-2.4-2.4v4.8M744.9 841.1h4.8m-2.4-2.4v4.8M856.9 986.9h4.8m-2.4-2.4v4.8M701.6 824.7h4.8m-2.4-2.4v4.8M858.7 905.9h4.8m-2.4-2.4v4.8M755.5 866.7h4.8m-2.4-2.4v4.8M717.8 880.3h4.8m-2.4-2.4v4.8M685.6 888.8h4.8m-2.4-2.4v4.8M851.7 927.4h4.8m-2.4-2.4v4.8M810.9 803.4h4.8m-2.4-2.4v4.8M684.7 837.1h4.8m-2.4-2.4v4.8M719.7 796.9h4.8m-2.4-2.4v4.8" stroke="#67000d" stroke-width="2.3" fill="none"/><text x="1035.5" y="756.5" text-anchor="middle" font-size="29.5" font-style="italic" fill="#000">TAGLN</text><path d="M1117 976.3h4.8m-2.4-2.4v4.8M978.6 972.4h4.8m-2.4-2.4v4.8M1088.7 1005.1h4.8m-2.4-2.4v4.8M1000.3 965.4h4.8m-2.4-2.4v4.8M1001.6 1000.4h4.8m-2.4-2.4v4.8M1122.9 962.2h4.8m-2.4-2.4v4.8M1012.8 964.5h4.8m-2.4-2.4v4.8M1129.6 977h4.8m-2.4-2.4v4.8" stroke="#fc7e5e" stroke-width="2.3" fill="none"/><path d="M1081.5 1008.6h4.8m-2.4-2.4v4.8M969.9 951.3h4.8m-2.4-2.4v4.8M1029.3 1000.8h4.8m-2.4-2.4v4.8M1098.9 987.3h4.8m-2.4-2.4v4.8M1017.9 921.6h4.8m-2.4-2.4v4.8M1054.3 943.6h4.8m-2.4-2.4v4.8M1106 994.8h4.8m-2.4-2.4v4.8M1039.3 951.3h4.8m-2.4-2.4v4.8M963.5 918.1h4.8m-2.4-2.4v4.8M1042.8 966.9h4.8m-2.4-2.4v4.8M1106.8 1001.1h4.8m-2.4-2.4v4.8M1041.9 961.1h4.8m-2.4-2.4v4.8M975.6 957.3h4.8m-2.4-2.4v4.8M1004.4 987.9h4.8m-2.4-2.4v4.8M1034.3 968.4h4.8m-2.4-2.4v4.8M1090.1 999.8h4.8m-2.4-2.4v4.8M990.9 960.3h4.8m-2.4-2.4v4.8M1048.8 1002.3h4.8m-2.4-2.4v4.8M1010.5 982.7h4.8m-2.4-2.4v4.8M1053.3 969.9h4.8m-2.4-2.4v4.8M918.4 878.9h4.8m-2.4-2.4v4.8M1011.1 965.9h4.8m-2.4-2.4v4.8M1044.9 965.7h4.8m-2.4-2.4v4.8M1047.7 1013.2h4.8m-2.4-2.4v4.8M1095.4 1008h4.8m-2.4-2.4v4.8M1071.3 1019.1h4.8m-2.4-2.4v4.8M1030.6 998.3h4.8m-2.4-2.4v4.8M1094.6 931.6h4.8m-2.4-2.4v4.8M1076.3 971.3h4.8m-2.4-2.4v4.8M1118.3 958.2h4.8m-2.4-2.4v4.8M1042.7 910.3h4.8m-2.4-2.4v4.8M1048 983.8h4.8m-2.4-2.4v4.8M931.9 938.8h4.8m-2.4-2.4v4.8M1045.1 959.4h4.8m-2.4-2.4v4.8M1047.9 1015.7h4.8m-2.4-2.4v4.8M1028.3 895.1h4.8m-2.4-2.4v4.8" stroke="#fb6a4a" stroke-width="2.3" fill="none"/><path d="M1126.3 849.4h4.8m-2.4-2.4v4.8M1070.4 907.6h4.8m-2.4-2.4v4.8M1070.8 995.9h4.8m-2.4-2.4v4.8M959.5 964.9h4.8m-2.4-2.4v4.8M938.4 960.9h4.8m-2.4-2.4v4.8M1047.8 990.5h4.8m-2.4-2.4v4.8M989.9 874.9h4.8m-2.4-2.4v4.8M1004.5 949.3h4.8m-2.4-2.4v4.8M1023.5 993.2h4.8m-2.4-2.4v4.8M1135.7 946.1h4.8m-2.4-2.4v4.8M1063 1012.4h4.8m-2.4-2.4v4.8M1069.3 809.4h4.8m-2.4-2.4v4.8M942.3 971.4h4.8m-2.4-2.4v4.8M976.3 922.1h4.8m-2.4-2.4v4.8M1110 978.7h4.8m-2.4-2.4v4.8M1019.1 900h4.8m-2.4-2.4v4.8M1036 970.7h4.8m-2.4-2.4v4.8M1043.6 1001h4.8m-2.4-2.4v4.8M1116.5 963.4h4.8m-2.4-2.4v4.8M1024.4 987.7h4.8m-2.4-2.4v4.8M1020.7 984.2h4.8m-2.4-2.4v4.8M955.4 966.1h4.8m-2.4-2.4v4.8M948 964.1h4.8m-2.4-2.4v4.8M1045.2 1010.4h4.8m-2.4-2.4v4.8M1061.5 1009.1h4.8m-2.4-2.4v4.8M1098.2 854.8h4.8m-2.4-2.4v4.8M1064 942.4h4.8m-2.4-2.4v4.8M1044 993.4h4.8m-2.4-2.4v4.8M1012.6 996.8h4.8m-2.4-2.4v4.8M1075.7 985h4.8m-2.4-2.4v4.8M1057 908.7h4.8m-2.4-2.4v4.8M1124 909.6h4.8m-2.4-2.4v4.8M965.1 943.3h4.8m-2.4-2.4v4.8M981.8 972.5h4.8m-2.4-2.4v4.8M1020.3 1002.4h4.8m-2.4-2.4v4.8M992.9 865.2h4.8m-2.4-2.4v4.8M1122.2 896.1h4.8m-2.4-2.4v4.8M1098 951.2h4.8m-2.4-2.4v4.8M978.5 957.7h4.8m-2.4-2.4v4.8M961 955.6h4.8m-2.4-2.4v4.8M1129.5 925.9h4.8m-2.4-2.4v4.8M983.1 952h4.8m-2.4-2.4v4.8M1034.3 908.6h4.8m-2.4-2.4v4.8M1035.4 896.7h4.8m-2.4-2.4v4.8M989.9 994.9h4.8m-2.4-2.4v4.8M1098.1 947.5h4.8m-2.4-2.4v4.8M1034.1 1014.4h4.8m-2.4-2.4v4.8M1008.4 969.1h4.8m-2.4-2.4v4.8M979.9 974.3h4.8m-2.4-2.4v4.8M945.6 967.2h4.8m-2.4-2.4v4.8M1009.1 945.5h4.8m-2.4-2.4v4.8M956.9 912h4.8m-2.4-2.4v4.8M1015.9 857.2h4.8m-2.4-2.4v4.8M1053 1009.1h4.8m-2.4-2.4v4.8M1118.2 931.1h4.8m-2.4-2.4v4.8M1020.3 951.5h4.8m-2.4-2.4v4.8M994.4 893.1h4.8m-2.4-2.4v4.8M1004.5 942.1h4.8m-2.4-2.4v4.8M1105.6 972.8h4.8m-2.4-2.4v4.8M1111.9 992.4h4.8m-2.4-2.4v4.8M1113.9 895.9h4.8m-2.4-2.4v4.8M976.8 988.8h4.8m-2.4-2.4v4.8M1137.4 967.9h4.8m-2.4-2.4v4.8M1064.9 981.5h4.8m-2.4-2.4v4.8M1040.6 975.7h4.8m-2.4-2.4v4.8M1020.1 936.6h4.8m-2.4-2.4v4.8M1109.8 984.2h4.8m-2.4-2.4v4.8M967.4 884.6h4.8m-2.4-2.4v4.8M1092.5 963.3h4.8m-2.4-2.4v4.8M1117.8 951.7h4.8m-2.4-2.4v4.8M957.7 951.9h4.8m-2.4-2.4v4.8M1058 1014.1h4.8m-2.4-2.4v4.8M998.5 993h4.8m-2.4-2.4v4.8M1074.9 815.7h4.8m-2.4-2.4v4.8M1077.9 957.2h4.8m-2.4-2.4v4.8M992.1 955.7h4.8m-2.4-2.4v4.8M1043.5 990.9h4.8m-2.4-2.4v4.8M1043.5 984h4.8m-2.4-2.4v4.8M994.3 995.6h4.8m-2.4-2.4v4.8M998.1 999.2h4.8m-2.4-2.4v4.8M969.8 979.9h4.8m-2.4-2.4v4.8M1042.8 979.3h4.8m-2.4-2.4v4.8M1056 897.2h4.8m-2.4-2.4v4.8M1110.5 889h4.8m-2.4-2.4v4.8M1015.3 990h4.8m-2.4-2.4v4.8M1118.1 988.8h4.8m-2.4-2.4v4.8" stroke="#f5523b" stroke-width="2.3" fill="none"/><path d="M1000.7 887.9h4.8m-2.4-2.4v4.8M991.2 929.6h4.8m-2.4-2.4v4.8M950 941.6h4.8m-2.4-2.4v4.8M982.3 940.1h4.8m-2.4-2.4v4.8M965.5 969.7h4.8m-2.4-2.4v4.8M1082.7 1000.5h4.8m-2.4-2.4v4.8M1134.5 852.8h4.8m-2.4-2.4v4.8M1085.8 941.5h4.8m-2.4-2.4v4.8M1013.4 985.5h4.8m-2.4-2.4v4.8M1034.4 1010.4h4.8m-2.4-2.4v4.8M972.4 986.4h4.8m-2.4-2.4v4.8M989.9 963.7h4.8m-2.4-2.4v4.8M1051.1 857.3h4.8m-2.4-2.4v4.8M1078.3 891h4.8m-2.4-2.4v4.8M1043.2 963.6h4.8m-2.4-2.4v4.8M952.4 901.5h4.8m-2.4-2.4v4.8M1107.5 923.5h4.8m-2.4-2.4v4.8M974.4 911.2h4.8m-2.4-2.4v4.8M1102.4 982.1h4.8m-2.4-2.4v4.8M1007.7 985.3h4.8m-2.4-2.4v4.8M949.4 926.8h4.8m-2.4-2.4v4.8M1075.7 1003.7h4.8m-2.4-2.4v4.8M1098 1006.5h4.8m-2.4-2.4v4.8M1027.1 1006.9h4.8m-2.4-2.4v4.8M1111.4 966.3h4.8m-2.4-2.4v4.8M984.7 980.1h4.8m-2.4-2.4v4.8M948.4 929.7h4.8m-2.4-2.4v4.8M975 929.5h4.8m-2.4-2.4v4.8M1008 952.3h4.8m-2.4-2.4v4.8M988.9 902.7h4.8m-2.4-2.4v4.8M1099.3 926.9h4.8m-2.4-2.4v4.8M1042 898.1h4.8m-2.4-2.4v4.8M1036.6 953.4h4.8m-2.4-2.4v4.8M1101.6 967.1h4.8m-2.4-2.4v4.8M1094.3 870.5h4.8m-2.4-2.4v4.8M959.1 948.7h4.8m-2.4-2.4v4.8M967.9 969.2h4.8m-2.4-2.4v4.8M1091 982h4.8m-2.4-2.4v4.8M1033.4 955.5h4.8m-2.4-2.4v4.8M1100.1 949.7h4.8m-2.4-2.4v4.8M1025.1 896.1h4.8m-2.4-2.4v4.8M949 923.6h4.8m-2.4-2.4v4.8M993.4 989.6h4.8m-2.4-2.4v4.8M998.3 892.7h4.8m-2.4-2.4v4.8M968.9 961.3h4.8m-2.4-2.4v4.8M1036.6 890.6h4.8m-2.4-2.4v4.8M939.9 958.3h4.8m-2.4-2.4v4.8M1087.9 827.1h4.8m-2.4-2.4v4.8M1065.8 962.6h4.8m-2.4-2.4v4.8M1022 883.1h4.8m-2.4-2.4v4.8M1054.1 995.1h4.8m-2.4-2.4v4.8M1118.2 907.2h4.8m-2.4-2.4v4.8M1026.2 871.8h4.8m-2.4-2.4v4.8M917.9 904.9h4.8m-2.4-2.4v4.8M955.8 971.8h4.8m-2.4-2.4v4.8M1061.9 827.2h4.8m-2.4-2.4v4.8M1124.8 864.7h4.8m-2.4-2.4v4.8M1018.3 991.5h4.8m-2.4-2.4v4.8M983 879.2h4.8m-2.4-2.4v4.8M1067.6 1010.3h4.8m-2.4-2.4v4.8M1032.1 987h4.8m-2.4-2.4v4.8M1119.2 966.6h4.8m-2.4-2.4v4.8M1107.8 872.5h4.8m-2.4-2.4v4.8M986.4 878.3h4.8m-2.4-2.4v4.8M947.2 968.8h4.8m-2.4-2.4v4.8M992 971.1h4.8m-2.4-2.4v4.8M1036.4 958.7h4.8m-2.4-2.4v4.8M1059.4 842h4.8m-2.4-2.4v4.8M977.1 883.7h4.8m-2.4-2.4v4.8M1110 842.1h4.8m-2.4-2.4v4.8M1074 1010.5h4.8m-2.4-2.4v4.8M937.3 928.6h4.8m-2.4-2.4v4.8M1014.4 885.2h4.8m-2.4-2.4v4.8M1002.7 960.3h4.8m-2.4-2.4v4.8M1016.4 851h4.8m-2.4-2.4v4.8M1078.4 946.6h4.8m-2.4-2.4v4.8M968.7 966.1h4.8m-2.4-2.4v4.8M1089.7 1008.4h4.8m-2.4-2.4v4.8M973.3 944.2h4.8m-2.4-2.4v4.8M1081.1 959h4.8m-2.4-2.4v4.8M939.4 914.4h4.8m-2.4-2.4v4.8M1102.3 839.3h4.8m-2.4-2.4v4.8M979.9 964.4h4.8m-2.4-2.4v4.8M1063 905.1h4.8m-2.4-2.4v4.8M977.2 970h4.8m-2.4-2.4v4.8M1125.8 958.5h4.8m-2.4-2.4v4.8M1045 897.8h4.8m-2.4-2.4v4.8M1050 912.3h4.8m-2.4-2.4v4.8M996.1 929.7h4.8m-2.4-2.4v4.8M1063.9 1015.5h4.8m-2.4-2.4v4.8M1120.2 870h4.8m-2.4-2.4v4.8M1038.1 1009.6h4.8m-2.4-2.4v4.8M1008.8 948.5h4.8m-2.4-2.4v4.8M1046.6 876.5h4.8m-2.4-2.4v4.8M1049.6 954h4.8m-2.4-2.4v4.8M958.6 919.5h4.8m-2.4-2.4v4.8M1051.2 976.9h4.8m-2.4-2.4v4.8M1076.2 910.5h4.8m-2.4-2.4v4.8M1077.1 872.7h4.8m-2.4-2.4v4.8M926.2 900.4h4.8m-2.4-2.4v4.8M1086.6 901.1h4.8m-2.4-2.4v4.8M1036.7 964.2h4.8m-2.4-2.4v4.8M1146.5 948.4h4.8m-2.4-2.4v4.8M1023.7 1005.6h4.8m-2.4-2.4v4.8M941.7 907.3h4.8m-2.4-2.4v4.8M916.9 921.6h4.8m-2.4-2.4v4.8M925.2 873.6h4.8m-2.4-2.4v4.8M1030.9 1015.8h4.8m-2.4-2.4v4.8M1111 905.5h4.8m-2.4-2.4v4.8M1032.2 942.9h4.8m-2.4-2.4v4.8M960.9 943.6h4.8m-2.4-2.4v4.8M974.8 896.1h4.8m-2.4-2.4v4.8M1141.6 938.9h4.8m-2.4-2.4v4.8M1094.9 843.7h4.8m-2.4-2.4v4.8M1048.2 921.4h4.8m-2.4-2.4v4.8M1043.4 933.6h4.8m-2.4-2.4v4.8M1117.6 837.2h4.8m-2.4-2.4v4.8M1129.6 887.9h4.8m-2.4-2.4v4.8M1069 966.4h4.8m-2.4-2.4v4.8M1083.6 990.9h4.8m-2.4-2.4v4.8M964.7 975.1h4.8m-2.4-2.4v4.8M1114.9 943.3h4.8m-2.4-2.4v4.8M960.6 894.2h4.8m-2.4-2.4v4.8M1024.2 978.4h4.8m-2.4-2.4v4.8M967.6 986.5h4.8m-2.4-2.4v4.8M973 934.6h4.8m-2.4-2.4v4.8M1038.1 899.2h4.8m-2.4-2.4v4.8M1038.4 873.4h4.8m-2.4-2.4v4.8M1115.3 930.3h4.8m-2.4-2.4v4.8M1109 958.8h4.8m-2.4-2.4v4.8" stroke="#ef3b2c" stroke-width="2.3" fill="none"/><path d="M1003.7 875.6h4.8m-2.4-2.4v4.8M916.1 886h4.8m-2.4-2.4v4.8M980.1 976.8h4.8m-2.4-2.4v4.8M973.4 820.5h4.8m-2.4-2.4v4.8M937.1 933.6h4.8m-2.4-2.4v4.8M1103.6 829.1h4.8m-2.4-2.4v4.8M1044.4 903.9h4.8m-2.4-2.4v4.8M1086.1 917h4.8m-2.4-2.4v4.8M1053.9 1004.6h4.8m-2.4-2.4v4.8M967.2 901.5h4.8m-2.4-2.4v4.8M1115 949h4.8m-2.4-2.4v4.8M1088.5 961.3h4.8m-2.4-2.4v4.8M951.9 876h4.8m-2.4-2.4v4.8M1054.6 871.3h4.8m-2.4-2.4v4.8M1118.8 985h4.8m-2.4-2.4v4.8M965.7 981.5h4.8m-2.4-2.4v4.8M1036 840.9h4.8m-2.4-2.4v4.8M1048.4 957.2h4.8m-2.4-2.4v4.8M1079.7 902.2h4.8m-2.4-2.4v4.8M1070.2 951.1h4.8m-2.4-2.4v4.8M1114.9 939.4h4.8m-2.4-2.4v4.8M1084.9 921.1h4.8m-2.4-2.4v4.8M1094.9 830h4.8m-2.4-2.4v4.8M1134.7 920.3h4.8m-2.4-2.4v4.8M981.6 782.7h4.8m-2.4-2.4v4.8M1137.3 849.9h4.8m-2.4-2.4v4.8M1121.5 924.7h4.8m-2.4-2.4v4.8M986.7 899.9h4.8m-2.4-2.4v4.8M1035.1 868.1h4.8m-2.4-2.4v4.8M973.9 917.4h4.8m-2.4-2.4v4.8M1001.2 990.4h4.8m-2.4-2.4v4.8M1066 1004.9h4.8m-2.4-2.4v4.8M1141.2 914.1h4.8m-2.4-2.4v4.8M1062.5 898.8h4.8m-2.4-2.4v4.8M1032.4 889.4h4.8m-2.4-2.4v4.8M1058.6 882.6h4.8m-2.4-2.4v4.8M1096.3 985.4h4.8m-2.4-2.4v4.8M1012.2 958.9h4.8m-2.4-2.4v4.8M939.4 907.7h4.8m-2.4-2.4v4.8M1083.4 955h4.8m-2.4-2.4v4.8M1114 968h4.8m-2.4-2.4v4.8M939.9 926.1h4.8m-2.4-2.4v4.8M935.6 957.4h4.8m-2.4-2.4v4.8M1020.6 999.9h4.8m-2.4-2.4v4.8M996.6 976.2h4.8m-2.4-2.4v4.8M1136.8 962.6h4.8m-2.4-2.4v4.8M986.1 949.3h4.8m-2.4-2.4v4.8M1080.7 895.7h4.8m-2.4-2.4v4.8M1017.9 984.9h4.8m-2.4-2.4v4.8M1100.6 939.2h4.8m-2.4-2.4v4.8M1101 913.9h4.8m-2.4-2.4v4.8M1064.5 921.7h4.8m-2.4-2.4v4.8M971.8 903.8h4.8m-2.4-2.4v4.8M997.8 871.7h4.8m-2.4-2.4v4.8M976.2 954.3h4.8m-2.4-2.4v4.8M1073.4 794.1h4.8m-2.4-2.4v4.8M1013.2 1007.9h4.8m-2.4-2.4v4.8M986.1 852.2h4.8m-2.4-2.4v4.8M941.9 958.8h4.8m-2.4-2.4v4.8M1143 948.3h4.8m-2.4-2.4v4.8M1013.7 851.3h4.8m-2.4-2.4v4.8M1061.4 952.7h4.8m-2.4-2.4v4.8M1136.2 931.4h4.8m-2.4-2.4v4.8M1114.7 981.6h4.8m-2.4-2.4v4.8M1016.8 960.4h4.8m-2.4-2.4v4.8M986.4 927.2h4.8m-2.4-2.4v4.8M1143.9 931.3h4.8m-2.4-2.4v4.8M1065.9 944.5h4.8m-2.4-2.4v4.8M1008.9 859.3h4.8m-2.4-2.4v4.8M1072.4 880.2h4.8m-2.4-2.4v4.8M1080.8 937.7h4.8m-2.4-2.4v4.8M1126.7 885.2h4.8m-2.4-2.4v4.8M1108.2 941.5h4.8m-2.4-2.4v4.8M951.8 970.4h4.8m-2.4-2.4v4.8M999.7 895.1h4.8m-2.4-2.4v4.8M1096.5 841h4.8m-2.4-2.4v4.8M967.9 983.1h4.8m-2.4-2.4v4.8M1044.3 946.2h4.8m-2.4-2.4v4.8M1131.5 936.7h4.8m-2.4-2.4v4.8M1116.8 893.9h4.8m-2.4-2.4v4.8M988 968.6h4.8m-2.4-2.4v4.8M1140.3 883.9h4.8m-2.4-2.4v4.8M948.8 949h4.8m-2.4-2.4v4.8M1115.9 883.3h4.8m-2.4-2.4v4.8M1063.8 874.3h4.8m-2.4-2.4v4.8M1136.8 894h4.8m-2.4-2.4v4.8M1095 867.2h4.8m-2.4-2.4v4.8M971.2 943.1h4.8m-2.4-2.4v4.8M1102.7 934.9h4.8m-2.4-2.4v4.8M1032.2 840h4.8m-2.4-2.4v4.8M932.3 954h4.8m-2.4-2.4v4.8M1123.1 977.3h4.8m-2.4-2.4v4.8M1118.2 874h4.8m-2.4-2.4v4.8M924 945.2h4.8m-2.4-2.4v4.8M1090.8 993.4h4.8m-2.4-2.4v4.8M1076.1 934.5h4.8m-2.4-2.4v4.8M1110.9 995.9h4.8m-2.4-2.4v4.8M997.5 966.8h4.8m-2.4-2.4v4.8M1069.9 922.1h4.8m-2.4-2.4v4.8M972.5 792.9h4.8m-2.4-2.4v4.8M995.8 954.9h4.8m-2.4-2.4v4.8M1074.5 939.8h4.8m-2.4-2.4v4.8M1007.1 977h4.8m-2.4-2.4v4.8M985 961.2h4.8m-2.4-2.4v4.8M941.4 954.1h4.8m-2.4-2.4v4.8M993.4 998.2h4.8m-2.4-2.4v4.8M1101.5 958.9h4.8m-2.4-2.4v4.8M1123.5 974.1h4.8m-2.4-2.4v4.8M1102.3 899.9h4.8m-2.4-2.4v4.8M1053 921.1h4.8m-2.4-2.4v4.8M933.3 849.9h4.8m-2.4-2.4v4.8M1057.1 954.4h4.8m-2.4-2.4v4.8M1012.8 825.1h4.8m-2.4-2.4v4.8M1068.4 946.6h4.8m-2.4-2.4v4.8M1133.5 962.3h4.8m-2.4-2.4v4.8M945 875.8h4.8m-2.4-2.4v4.8M1016 983.5h4.8m-2.4-2.4v4.8M1138.8 940.9h4.8m-2.4-2.4v4.8M1091 916.2h4.8m-2.4-2.4v4.8M1016.1 932.4h4.8m-2.4-2.4v4.8M988.3 799.6h4.8m-2.4-2.4v4.8M933.6 920.6h4.8m-2.4-2.4v4.8M1017.1 980h4.8m-2.4-2.4v4.8M1124.3 984.3h4.8m-2.4-2.4v4.8M950.2 897.5h4.8m-2.4-2.4v4.8M1049.6 852.4h4.8m-2.4-2.4v4.8M924.3 909h4.8m-2.4-2.4v4.8M984.2 816.7h4.8m-2.4-2.4v4.8M1077.1 900h4.8m-2.4-2.4v4.8M1055.4 949.8h4.8m-2.4-2.4v4.8M941.3 963.6h4.8m-2.4-2.4v4.8M1009.7 924.5h4.8m-2.4-2.4v4.8M1114.3 986.2h4.8m-2.4-2.4v4.8M965.8 959.2h4.8m-2.4-2.4v4.8M1056.2 968.4h4.8m-2.4-2.4v4.8M1053.9 806.1h4.8m-2.4-2.4v4.8M1074.5 995.1h4.8m-2.4-2.4v4.8M1122.3 872h4.8m-2.4-2.4v4.8M1120.5 933.2h4.8m-2.4-2.4v4.8M1070.4 1011.8h4.8m-2.4-2.4v4.8M1125.2 905.8h4.8m-2.4-2.4v4.8M986.4 944.1h4.8m-2.4-2.4v4.8M997.7 942h4.8m-2.4-2.4v4.8M1046.6 857.9h4.8m-2.4-2.4v4.8M1123.3 932.6h4.8m-2.4-2.4v4.8M1022 833.5h4.8m-2.4-2.4v4.8M1012.5 968.9h4.8m-2.4-2.4v4.8M1048 891.2h4.8m-2.4-2.4v4.8M957.9 923.7h4.8m-2.4-2.4v4.8M1007.5 786h4.8m-2.4-2.4v4.8M1031.3 915h4.8m-2.4-2.4v4.8M1109.9 930.9h4.8m-2.4-2.4v4.8M1034.6 978.9h4.8m-2.4-2.4v4.8M1025.8 965.4h4.8m-2.4-2.4v4.8M992.9 811h4.8m-2.4-2.4v4.8M950.1 907.2h4.8m-2.4-2.4v4.8M916.6 888.3h4.8m-2.4-2.4v4.8M1113.9 960.5h4.8m-2.4-2.4v4.8M1009.7 943.3h4.8m-2.4-2.4v4.8M1123.2 953.9h4.8m-2.4-2.4v4.8M1133.1 948.7h4.8m-2.4-2.4v4.8M1042.4 1015.2h4.8m-2.4-2.4v4.8M1133.8 966.9h4.8m-2.4-2.4v4.8M1125.3 941.6h4.8m-2.4-2.4v4.8M1015.9 910h4.8m-2.4-2.4v4.8M1126 963.2h4.8m-2.4-2.4v4.8M1047.5 954.9h4.8m-2.4-2.4v4.8M988.4 892.1h4.8m-2.4-2.4v4.8M994.4 900.4h4.8m-2.4-2.4v4.8M1028 976.6h4.8m-2.4-2.4v4.8M954.8 830.2h4.8m-2.4-2.4v4.8M1068 806.7h4.8m-2.4-2.4v4.8M925.4 941.9h4.8m-2.4-2.4v4.8M1089.9 974.2h4.8m-2.4-2.4v4.8M1011.8 860.3h4.8m-2.4-2.4v4.8M1022.3 817h4.8m-2.4-2.4v4.8M1019.1 905.2h4.8m-2.4-2.4v4.8M1140 925.9h4.8m-2.4-2.4v4.8M1101.8 890.3h4.8m-2.4-2.4v4.8M1134.9 889.9h4.8m-2.4-2.4v4.8M1098.4 909.1h4.8m-2.4-2.4v4.8M1122.5 929.2h4.8m-2.4-2.4v4.8M915.7 893.7h4.8m-2.4-2.4v4.8M1026.1 860.1h4.8m-2.4-2.4v4.8M934.1 955.3h4.8m-2.4-2.4v4.8M1089.7 905.7h4.8m-2.4-2.4v4.8M1141.3 961.5h4.8m-2.4-2.4v4.8M975.3 850.1h4.8m-2.4-2.4v4.8M1070.7 1008.9h4.8m-2.4-2.4v4.8M1130.3 827.1h4.8m-2.4-2.4v4.8M1038.2 946.3h4.8m-2.4-2.4v4.8M1060.3 1003h4.8m-2.4-2.4v4.8M1035 919.7h4.8m-2.4-2.4v4.8M1089.1 820.7h4.8m-2.4-2.4v4.8M1116 925.2h4.8m-2.4-2.4v4.8M1063.9 988.9h4.8m-2.4-2.4v4.8M939 856h4.8m-2.4-2.4v4.8M1087 925.1h4.8m-2.4-2.4v4.8M1113.6 925.7h4.8m-2.4-2.4v4.8M1091.3 942.6h4.8m-2.4-2.4v4.8M1123.5 855.6h4.8m-2.4-2.4v4.8M967.4 888.6h4.8m-2.4-2.4v4.8M1070.5 924.9h4.8m-2.4-2.4v4.8M1137.1 975.4h4.8m-2.4-2.4v4.8M1064.1 935.3h4.8m-2.4-2.4v4.8M1106.8 857.1h4.8m-2.4-2.4v4.8M1006.2 1004.7h4.8m-2.4-2.4v4.8" stroke="#dd2a24" stroke-width="2.3" fill="none"/><path d="M935.5 963h4.8m-2.4-2.4v4.8M1009.5 821.5h4.8m-2.4-2.4v4.8M1009.7 937.6h4.8m-2.4-2.4v4.8M1085.7 860.4h4.8m-2.4-2.4v4.8M987.8 988.2h4.8m-2.4-2.4v4.8M993.9 786h4.8m-2.4-2.4v4.8M1076.1 860.8h4.8m-2.4-2.4v4.8M944.6 906.6h4.8m-2.4-2.4v4.8M989.4 939.3h4.8m-2.4-2.4v4.8M929.1 943.4h4.8m-2.4-2.4v4.8M1102.1 854.4h4.8m-2.4-2.4v4.8M1127 914.4h4.8m-2.4-2.4v4.8M1005.9 909.7h4.8m-2.4-2.4v4.8M961.7 807.1h4.8m-2.4-2.4v4.8M944.8 918.4h4.8m-2.4-2.4v4.8M1070.2 931.3h4.8m-2.4-2.4v4.8M1059.6 1015.9h4.8m-2.4-2.4v4.8M925.6 902.7h4.8m-2.4-2.4v4.8M937.5 905.4h4.8m-2.4-2.4v4.8M986.3 804.4h4.8m-2.4-2.4v4.8M973.5 937.5h4.8m-2.4-2.4v4.8M1122.8 944.3h4.8m-2.4-2.4v4.8M989.6 913.5h4.8m-2.4-2.4v4.8M1059.1 942.1h4.8m-2.4-2.4v4.8M923.7 929.8h4.8m-2.4-2.4v4.8M1100.7 887h4.8m-2.4-2.4v4.8M1098.6 915.5h4.8m-2.4-2.4v4.8M988.2 840.2h4.8m-2.4-2.4v4.8M1098.3 826h4.8m-2.4-2.4v4.8M982.1 915.2h4.8m-2.4-2.4v4.8M993.5 873.7h4.8m-2.4-2.4v4.8M940.5 900.2h4.8m-2.4-2.4v4.8M1117.1 853.7h4.8m-2.4-2.4v4.8M934.5 867.3h4.8m-2.4-2.4v4.8M1030.8 909.5h4.8m-2.4-2.4v4.8M1082.9 932.8h4.8m-2.4-2.4v4.8M1097.2 852h4.8m-2.4-2.4v4.8M1098.6 815h4.8m-2.4-2.4v4.8M1022.5 839.7h4.8m-2.4-2.4v4.8M969.1 871.5h4.8m-2.4-2.4v4.8M1044.3 950.4h4.8m-2.4-2.4v4.8M976.9 835.9h4.8m-2.4-2.4v4.8M979.3 914.8h4.8m-2.4-2.4v4.8M1130.5 918.5h4.8m-2.4-2.4v4.8M981.5 810.9h4.8m-2.4-2.4v4.8M1027.1 943.2h4.8m-2.4-2.4v4.8M1119.3 926h4.8m-2.4-2.4v4.8M980.3 837.5h4.8m-2.4-2.4v4.8M1029.1 834.7h4.8m-2.4-2.4v4.8M1058 854.7h4.8m-2.4-2.4v4.8M1079 881.5h4.8m-2.4-2.4v4.8M924.3 923.3h4.8m-2.4-2.4v4.8M939.2 866.5h4.8m-2.4-2.4v4.8M1107.4 960.9h4.8m-2.4-2.4v4.8M971 848.4h4.8m-2.4-2.4v4.8M1003.9 965.1h4.8m-2.4-2.4v4.8M984.4 885.9h4.8m-2.4-2.4v4.8M973.1 963.3h4.8m-2.4-2.4v4.8M971.1 988.8h4.8m-2.4-2.4v4.8M926.3 887h4.8m-2.4-2.4v4.8M1070.5 943.4h4.8m-2.4-2.4v4.8M1118.5 991.7h4.8m-2.4-2.4v4.8M932.7 878h4.8m-2.4-2.4v4.8M1050.1 942.1h4.8m-2.4-2.4v4.8M1134.7 903.4h4.8m-2.4-2.4v4.8M1029.4 939.7h4.8m-2.4-2.4v4.8M1055.6 952.2h4.8m-2.4-2.4v4.8M990.2 908.4h4.8m-2.4-2.4v4.8M951.9 898.9h4.8m-2.4-2.4v4.8M1083.9 863.7h4.8m-2.4-2.4v4.8M1040.9 839.4h4.8m-2.4-2.4v4.8M982.7 895.6h4.8m-2.4-2.4v4.8M1074.2 865.5h4.8m-2.4-2.4v4.8M977.8 863.8h4.8m-2.4-2.4v4.8M980.7 983.6h4.8m-2.4-2.4v4.8M1021.5 851.1h4.8m-2.4-2.4v4.8M999.9 929.2h4.8m-2.4-2.4v4.8M956.1 860h4.8m-2.4-2.4v4.8M1091.4 878.3h4.8m-2.4-2.4v4.8M946.1 899.1h4.8m-2.4-2.4v4.8M1028.2 825.6h4.8m-2.4-2.4v4.8M1066.1 794.7h4.8m-2.4-2.4v4.8M967.3 837.8h4.8m-2.4-2.4v4.8M1093.7 808.8h4.8m-2.4-2.4v4.8M990.7 816.4h4.8m-2.4-2.4v4.8M1074 896h4.8m-2.4-2.4v4.8M954.6 817.2h4.8m-2.4-2.4v4.8M947.8 919.5h4.8m-2.4-2.4v4.8M997.3 789h4.8m-2.4-2.4v4.8M1107 949.1h4.8m-2.4-2.4v4.8M1121.3 951.9h4.8m-2.4-2.4v4.8M1080.3 887.9h4.8m-2.4-2.4v4.8M1048.5 884.5h4.8m-2.4-2.4v4.8M1114.4 859.4h4.8m-2.4-2.4v4.8M1040 984.7h4.8m-2.4-2.4v4.8M1026.4 941h4.8m-2.4-2.4v4.8M962.9 956.9h4.8m-2.4-2.4v4.8M1012.8 810.3h4.8m-2.4-2.4v4.8M1142.6 929.5h4.8m-2.4-2.4v4.8M1096.4 943.6h4.8m-2.4-2.4v4.8M1101 872.7h4.8m-2.4-2.4v4.8M1052 927.6h4.8m-2.4-2.4v4.8M1004.5 864.1h4.8m-2.4-2.4v4.8M997.2 889.8h4.8m-2.4-2.4v4.8M1119.3 826.7h4.8m-2.4-2.4v4.8M968.5 863.6h4.8m-2.4-2.4v4.8M1060.9 818.5h4.8m-2.4-2.4v4.8M1083.6 834.1h4.8m-2.4-2.4v4.8M1097.5 930h4.8m-2.4-2.4v4.8M1133.7 970.3h4.8m-2.4-2.4v4.8M986.8 922.3h4.8m-2.4-2.4v4.8M985.2 972.1h4.8m-2.4-2.4v4.8M1121.6 837.4h4.8m-2.4-2.4v4.8M1050.9 893.3h4.8m-2.4-2.4v4.8M1075.9 798.2h4.8m-2.4-2.4v4.8M988 954.8h4.8m-2.4-2.4v4.8M1089.4 854.9h4.8m-2.4-2.4v4.8M1108.4 812h4.8m-2.4-2.4v4.8M1065.1 991.7h4.8m-2.4-2.4v4.8M1003.3 928.1h4.8m-2.4-2.4v4.8M1004.3 978h4.8m-2.4-2.4v4.8M1067.9 969.3h4.8m-2.4-2.4v4.8M951.7 861.3h4.8m-2.4-2.4v4.8M1073.4 872.4h4.8m-2.4-2.4v4.8M1090.2 918.7h4.8m-2.4-2.4v4.8M927.6 896h4.8m-2.4-2.4v4.8M1106.8 880.4h4.8m-2.4-2.4v4.8M1038.8 870.3h4.8m-2.4-2.4v4.8M1117.5 824.9h4.8m-2.4-2.4v4.8M1084.3 858.2h4.8m-2.4-2.4v4.8M952.6 914.1h4.8m-2.4-2.4v4.8M1023.9 995.6h4.8m-2.4-2.4v4.8M1064 801.1h4.8m-2.4-2.4v4.8M1079.9 857.3h4.8m-2.4-2.4v4.8M1034.4 844.2h4.8m-2.4-2.4v4.8M1050.8 865.5h4.8m-2.4-2.4v4.8M1138.1 854.2h4.8m-2.4-2.4v4.8M1112.4 849.7h4.8m-2.4-2.4v4.8M1045.9 890.4h4.8m-2.4-2.4v4.8M1057.1 837h4.8m-2.4-2.4v4.8M1014.3 936.9h4.8m-2.4-2.4v4.8M919.3 930.5h4.8m-2.4-2.4v4.8M1055.3 816.2h4.8m-2.4-2.4v4.8M996.9 933.7h4.8m-2.4-2.4v4.8M1005.8 884.5h4.8m-2.4-2.4v4.8M999.1 910.9h4.8m-2.4-2.4v4.8M1026.3 887h4.8m-2.4-2.4v4.8M966.3 948.1h4.8m-2.4-2.4v4.8M1074.4 998.8h4.8m-2.4-2.4v4.8M1054 884.8h4.8m-2.4-2.4v4.8M1022.2 788.9h4.8m-2.4-2.4v4.8M1069.4 935.2h4.8m-2.4-2.4v4.8M975.7 806.4h4.8m-2.4-2.4v4.8M971.9 838.9h4.8m-2.4-2.4v4.8M949.7 876h4.8m-2.4-2.4v4.8M956.7 889.3h4.8m-2.4-2.4v4.8M1053.1 809.5h4.8m-2.4-2.4v4.8M987.9 865.4h4.8m-2.4-2.4v4.8M985.1 925h4.8m-2.4-2.4v4.8M951.2 965.9h4.8m-2.4-2.4v4.8M1104.9 836.9h4.8m-2.4-2.4v4.8M1108.3 892.4h4.8m-2.4-2.4v4.8M1082.2 944.1h4.8m-2.4-2.4v4.8M1060.2 916.7h4.8m-2.4-2.4v4.8M1045.3 783.4h4.8m-2.4-2.4v4.8M1017 817.4h4.8m-2.4-2.4v4.8M1127.1 909.7h4.8m-2.4-2.4v4.8M927.4 893.5h4.8m-2.4-2.4v4.8M918.4 923.8h4.8m-2.4-2.4v4.8M1030.4 853.6h4.8m-2.4-2.4v4.8M996.3 820.6h4.8m-2.4-2.4v4.8M1103.4 896.9h4.8m-2.4-2.4v4.8M986.6 860.3h4.8m-2.4-2.4v4.8M1033.6 822.9h4.8m-2.4-2.4v4.8M1001.5 896.5h4.8m-2.4-2.4v4.8M1012 883.6h4.8m-2.4-2.4v4.8M1005.3 954.1h4.8m-2.4-2.4v4.8M941.1 916.2h4.8m-2.4-2.4v4.8M1122.8 817.5h4.8m-2.4-2.4v4.8M927.6 875.9h4.8m-2.4-2.4v4.8M926.3 939.1h4.8m-2.4-2.4v4.8M1009.7 975.5h4.8m-2.4-2.4v4.8M1094.6 890.4h4.8m-2.4-2.4v4.8M962.1 851.3h4.8m-2.4-2.4v4.8M1050.3 830h4.8m-2.4-2.4v4.8M1095.8 859.5h4.8m-2.4-2.4v4.8M984.5 787.3h4.8m-2.4-2.4v4.8M999.5 852.1h4.8m-2.4-2.4v4.8M923 896.2h4.8m-2.4-2.4v4.8M1008 981.7h4.8m-2.4-2.4v4.8M953.6 835h4.8m-2.4-2.4v4.8M1058.1 956.6h4.8m-2.4-2.4v4.8M1011.2 848.5h4.8m-2.4-2.4v4.8M985.9 806.7h4.8m-2.4-2.4v4.8M1100.8 861.7h4.8m-2.4-2.4v4.8M1057.9 819.6h4.8m-2.4-2.4v4.8M1056.2 883.1h4.8m-2.4-2.4v4.8M941.7 862.1h4.8m-2.4-2.4v4.8M1086.3 888.7h4.8m-2.4-2.4v4.8M981.2 851.4h4.8m-2.4-2.4v4.8M1031.9 832.4h4.8m-2.4-2.4v4.8M934.3 852.9h4.8m-2.4-2.4v4.8M1036.7 915.9h4.8m-2.4-2.4v4.8M1005.8 892.1h4.8m-2.4-2.4v4.8M1030 802.6h4.8m-2.4-2.4v4.8M947.3 936.9h4.8m-2.4-2.4v4.8M1142.5 952.3h4.8m-2.4-2.4v4.8M948.3 902.4h4.8m-2.4-2.4v4.8M1086.6 851h4.8m-2.4-2.4v4.8M1138 972.4h4.8m-2.4-2.4v4.8M1048.9 844.1h4.8m-2.4-2.4v4.8M1047.4 927.7h4.8m-2.4-2.4v4.8M996.9 839.9h4.8m-2.4-2.4v4.8M971.5 930.2h4.8m-2.4-2.4v4.8M930 924.8h4.8m-2.4-2.4v4.8M926.5 946.9h4.8m-2.4-2.4v4.8M975.8 986.1h4.8m-2.4-2.4v4.8M1077.5 1000.3h4.8m-2.4-2.4v4.8M947.8 830.9h4.8m-2.4-2.4v4.8M1108 827.5h4.8m-2.4-2.4v4.8M1130.9 911.8h4.8m-2.4-2.4v4.8M1050.4 988.5h4.8m-2.4-2.4v4.8M1121.3 985.5h4.8m-2.4-2.4v4.8M1103.8 888h4.8m-2.4-2.4v4.8M1059.7 860.6h4.8m-2.4-2.4v4.8M1135.3 838.3h4.8m-2.4-2.4v4.8M938.2 860.6h4.8m-2.4-2.4v4.8M1065.9 812h4.8m-2.4-2.4v4.8M1057 886.9h4.8m-2.4-2.4v4.8M1028 960.2h4.8m-2.4-2.4v4.8M966.2 928.1h4.8m-2.4-2.4v4.8M1017.7 863.8h4.8m-2.4-2.4v4.8M1087.6 795.5h4.8m-2.4-2.4v4.8M1090 867h4.8m-2.4-2.4v4.8M1104 875.1h4.8m-2.4-2.4v4.8M955.9 908.8h4.8m-2.4-2.4v4.8M1131.9 831.6h4.8m-2.4-2.4v4.8M1140.6 950.1h4.8m-2.4-2.4v4.8M1074 957.4h4.8m-2.4-2.4v4.8M1120.7 844.4h4.8m-2.4-2.4v4.8M982.8 888.2h4.8m-2.4-2.4v4.8M1028.5 842.5h4.8m-2.4-2.4v4.8M1038.6 785.7h4.8m-2.4-2.4v4.8M1094.4 855.1h4.8m-2.4-2.4v4.8M1048.3 937.2h4.8m-2.4-2.4v4.8M941.5 859.8h4.8m-2.4-2.4v4.8M1086.5 910.3h4.8m-2.4-2.4v4.8M967.6 939.6h4.8m-2.4-2.4v4.8M1008.9 769.3h4.8m-2.4-2.4v4.8M1131 908.4h4.8m-2.4-2.4v4.8M1085.8 811.9h4.8m-2.4-2.4v4.8M970.1 937.9h4.8m-2.4-2.4v4.8M1133.1 845.7h4.8m-2.4-2.4v4.8M1014.3 918.1h4.8m-2.4-2.4v4.8M1047.4 879.4h4.8m-2.4-2.4v4.8M1130 866.2h4.8m-2.4-2.4v4.8M978.4 927.1h4.8m-2.4-2.4v4.8M1110.9 935.8h4.8m-2.4-2.4v4.8M929.3 933.1h4.8m-2.4-2.4v4.8M979.9 919.1h4.8m-2.4-2.4v4.8M1018.2 988.5h4.8m-2.4-2.4v4.8" stroke="#cb181d" stroke-width="2.3" fill="none"/><path d="M1040.3 856.1h4.8m-2.4-2.4v4.8M1067.9 888.7h4.8m-2.4-2.4v4.8M1077 941.2h4.8m-2.4-2.4v4.8M978.8 935.4h4.8m-2.4-2.4v4.8M1001.5 881.7h4.8m-2.4-2.4v4.8M1088.5 879.6h4.8m-2.4-2.4v4.8M928.3 872.8h4.8m-2.4-2.4v4.8M1059.5 805.1h4.8m-2.4-2.4v4.8M1082.3 874.1h4.8m-2.4-2.4v4.8M976.9 829.1h4.8m-2.4-2.4v4.8M959.1 899.2h4.8m-2.4-2.4v4.8M1130.7 959.3h4.8m-2.4-2.4v4.8M1125.6 887.3h4.8m-2.4-2.4v4.8M953.2 879.6h4.8m-2.4-2.4v4.8M981.5 869.1h4.8m-2.4-2.4v4.8M1092.7 899.1h4.8m-2.4-2.4v4.8M1061.6 926.1h4.8m-2.4-2.4v4.8M1082.9 902.3h4.8m-2.4-2.4v4.8M949.2 895h4.8m-2.4-2.4v4.8M940 878.8h4.8m-2.4-2.4v4.8M939.2 873.6h4.8m-2.4-2.4v4.8M1083.1 819.6h4.8m-2.4-2.4v4.8M955.2 894h4.8m-2.4-2.4v4.8M985.1 838.2h4.8m-2.4-2.4v4.8M1076.1 924.3h4.8m-2.4-2.4v4.8M1081.7 839.1h4.8m-2.4-2.4v4.8M943.4 927.7h4.8m-2.4-2.4v4.8M1103.5 832.5h4.8m-2.4-2.4v4.8M1132 875.8h4.8m-2.4-2.4v4.8M1070.8 904.4h4.8m-2.4-2.4v4.8M982.4 802.7h4.8m-2.4-2.4v4.8M1010.5 910.7h4.8m-2.4-2.4v4.8M1034.1 972.8h4.8m-2.4-2.4v4.8M1098.3 802.3h4.8m-2.4-2.4v4.8M1023.7 783.7h4.8m-2.4-2.4v4.8M1087 870.7h4.8m-2.4-2.4v4.8M1013.2 828h4.8m-2.4-2.4v4.8M949.9 884.1h4.8m-2.4-2.4v4.8M999.6 800.4h4.8m-2.4-2.4v4.8M1084.4 873.2h4.8m-2.4-2.4v4.8M997.7 864.6h4.8m-2.4-2.4v4.8M1046.1 940h4.8m-2.4-2.4v4.8M942.9 867.5h4.8m-2.4-2.4v4.8M935.1 902.7h4.8m-2.4-2.4v4.8M1034.6 798.8h4.8m-2.4-2.4v4.8M1025.6 787.3h4.8m-2.4-2.4v4.8M1083.7 977.6h4.8m-2.4-2.4v4.8M1128.7 955.2h4.8m-2.4-2.4v4.8M960.4 921h4.8m-2.4-2.4v4.8M1092.9 906.8h4.8m-2.4-2.4v4.8M1064.5 913h4.8m-2.4-2.4v4.8M1133.5 860.2h4.8m-2.4-2.4v4.8M1049.2 986.3h4.8m-2.4-2.4v4.8M970.4 865.3h4.8m-2.4-2.4v4.8M978.4 893.1h4.8m-2.4-2.4v4.8M1120.5 959.1h4.8m-2.4-2.4v4.8M1089.6 845.8h4.8m-2.4-2.4v4.8M1088.2 907.4h4.8m-2.4-2.4v4.8M1068.6 985.8h4.8m-2.4-2.4v4.8M951.3 939.1h4.8m-2.4-2.4v4.8M1140.8 910.9h4.8m-2.4-2.4v4.8M1120.9 964.7h4.8m-2.4-2.4v4.8M1114.8 837.4h4.8m-2.4-2.4v4.8M1044.9 977.2h4.8m-2.4-2.4v4.8M1002.8 997.8h4.8m-2.4-2.4v4.8M934.3 937h4.8m-2.4-2.4v4.8M966 860.6h4.8m-2.4-2.4v4.8M1124.3 876.4h4.8m-2.4-2.4v4.8M1067.4 851.3h4.8m-2.4-2.4v4.8M1009.9 876h4.8m-2.4-2.4v4.8M1103.6 1003.4h4.8m-2.4-2.4v4.8M1131.9 837.6h4.8m-2.4-2.4v4.8M1056.4 846.2h4.8m-2.4-2.4v4.8M928.9 939.5h4.8m-2.4-2.4v4.8M1084.5 867.8h4.8m-2.4-2.4v4.8M1111.6 939.4h4.8m-2.4-2.4v4.8M1098.2 878.8h4.8m-2.4-2.4v4.8M936.3 918.8h4.8m-2.4-2.4v4.8M1085 799h4.8m-2.4-2.4v4.8M917.2 896.6h4.8m-2.4-2.4v4.8M1130.4 843.6h4.8m-2.4-2.4v4.8M983.3 852.5h4.8m-2.4-2.4v4.8M987.3 965.6h4.8m-2.4-2.4v4.8M1099.5 832.5h4.8m-2.4-2.4v4.8M940.7 835.7h4.8m-2.4-2.4v4.8M955.9 812.4h4.8m-2.4-2.4v4.8M1009 815.8h4.8m-2.4-2.4v4.8M979.1 790.9h4.8m-2.4-2.4v4.8M1044.3 870.4h4.8m-2.4-2.4v4.8M1058.6 934.6h4.8m-2.4-2.4v4.8M984.8 967.6h4.8m-2.4-2.4v4.8M1134.1 834h4.8m-2.4-2.4v4.8M975.9 871.8h4.8m-2.4-2.4v4.8M1029 820.6h4.8m-2.4-2.4v4.8M1120.2 865.1h4.8m-2.4-2.4v4.8M1074.9 948.2h4.8m-2.4-2.4v4.8M1071.7 887.7h4.8m-2.4-2.4v4.8M989.5 927.4h4.8m-2.4-2.4v4.8M1063.5 807.2h4.8m-2.4-2.4v4.8M1058.4 833.5h4.8m-2.4-2.4v4.8M1072.3 847.8h4.8m-2.4-2.4v4.8M1006.7 835.1h4.8m-2.4-2.4v4.8M922.9 902.3h4.8m-2.4-2.4v4.8M942 873.5h4.8m-2.4-2.4v4.8M1047.7 894.3h4.8m-2.4-2.4v4.8M1084.7 844.7h4.8m-2.4-2.4v4.8M1074.8 846h4.8m-2.4-2.4v4.8M1064.7 882.6h4.8m-2.4-2.4v4.8M1063.8 945.5h4.8m-2.4-2.4v4.8M1031.2 772.9h4.8m-2.4-2.4v4.8M940.5 839.5h4.8m-2.4-2.4v4.8M1029.9 898.6h4.8m-2.4-2.4v4.8M956.1 821.9h4.8m-2.4-2.4v4.8M1100.3 856.9h4.8m-2.4-2.4v4.8M958.1 869.2h4.8m-2.4-2.4v4.8M1134 848.5h4.8m-2.4-2.4v4.8M989.5 820h4.8m-2.4-2.4v4.8M1136.2 937.7h4.8m-2.4-2.4v4.8M1127.4 870h4.8m-2.4-2.4v4.8M1077 954.8h4.8m-2.4-2.4v4.8M982.6 919.4h4.8m-2.4-2.4v4.8M1067.3 829.4h4.8m-2.4-2.4v4.8M958.4 864.9h4.8m-2.4-2.4v4.8M1140 917.7h4.8m-2.4-2.4v4.8M1050.9 871h4.8m-2.4-2.4v4.8M982.5 893.2h4.8m-2.4-2.4v4.8M1002.2 808.8h4.8m-2.4-2.4v4.8M1080.7 824.9h4.8m-2.4-2.4v4.8M1125.3 929.3h4.8m-2.4-2.4v4.8M998.4 883h4.8m-2.4-2.4v4.8M1126.8 859h4.8m-2.4-2.4v4.8M1047.1 790.7h4.8m-2.4-2.4v4.8M1050.5 854.5h4.8m-2.4-2.4v4.8M1104.4 849.3h4.8m-2.4-2.4v4.8M1090.6 818.2h4.8m-2.4-2.4v4.8M996.3 781.2h4.8m-2.4-2.4v4.8M1096.6 990.5h4.8m-2.4-2.4v4.8M1084.2 890.9h4.8m-2.4-2.4v4.8M979.6 831.5h4.8m-2.4-2.4v4.8M1107.9 805.2h4.8m-2.4-2.4v4.8M960.1 877.3h4.8m-2.4-2.4v4.8M999.4 846.6h4.8m-2.4-2.4v4.8M1006.6 791h4.8m-2.4-2.4v4.8M1111.4 922.1h4.8m-2.4-2.4v4.8M937.3 913.4h4.8m-2.4-2.4v4.8M1042.6 864.4h4.8m-2.4-2.4v4.8M1047.7 827.3h4.8m-2.4-2.4v4.8M1048.2 808.3h4.8m-2.4-2.4v4.8M1017.7 950.5h4.8m-2.4-2.4v4.8M986.8 822.6h4.8m-2.4-2.4v4.8M993.1 938.8h4.8m-2.4-2.4v4.8M1095.8 907.6h4.8m-2.4-2.4v4.8M1050.9 881.4h4.8m-2.4-2.4v4.8M1124.1 812.3h4.8m-2.4-2.4v4.8M1105.1 990.3h4.8m-2.4-2.4v4.8M1121.9 915h4.8m-2.4-2.4v4.8M1026.2 866.3h4.8m-2.4-2.4v4.8M1030.1 780.8h4.8m-2.4-2.4v4.8M1089.6 852.2h4.8m-2.4-2.4v4.8M1001.8 851.9h4.8m-2.4-2.4v4.8M1103.8 868.7h4.8m-2.4-2.4v4.8M1016.4 840.7h4.8m-2.4-2.4v4.8M995 830.4h4.8m-2.4-2.4v4.8M1135.4 934.2h4.8m-2.4-2.4v4.8M1035.5 922.1h4.8m-2.4-2.4v4.8M1046.5 860.2h4.8m-2.4-2.4v4.8M1090.4 849.6h4.8m-2.4-2.4v4.8M979.4 802.3h4.8m-2.4-2.4v4.8M1030.6 791.9h4.8m-2.4-2.4v4.8M1067.6 826.2h4.8m-2.4-2.4v4.8M1021.3 804.1h4.8m-2.4-2.4v4.8M1138.8 928.3h4.8m-2.4-2.4v4.8M1023.8 864.7h4.8m-2.4-2.4v4.8M1038.7 910.1h4.8m-2.4-2.4v4.8M1112.2 816.2h4.8m-2.4-2.4v4.8M1038.1 926.2h4.8m-2.4-2.4v4.8M1133.5 932.5h4.8m-2.4-2.4v4.8M1032.7 856.2h4.8m-2.4-2.4v4.8M1103.3 821.8h4.8m-2.4-2.4v4.8M1122.8 820.2h4.8m-2.4-2.4v4.8M1054 900.4h4.8m-2.4-2.4v4.8M1017.2 813.3h4.8m-2.4-2.4v4.8M1059.7 995.1h4.8m-2.4-2.4v4.8M928.8 901.4h4.8m-2.4-2.4v4.8M946.4 946.9h4.8m-2.4-2.4v4.8M991.7 841.3h4.8m-2.4-2.4v4.8M1078 866.6h4.8m-2.4-2.4v4.8M946.3 896.4h4.8m-2.4-2.4v4.8M965.3 893h4.8m-2.4-2.4v4.8M1082.1 796.9h4.8m-2.4-2.4v4.8M1065.8 840h4.8m-2.4-2.4v4.8M971.8 910.3h4.8m-2.4-2.4v4.8M982.3 823.5h4.8m-2.4-2.4v4.8M949 888.7h4.8m-2.4-2.4v4.8M1058.6 964.4h4.8m-2.4-2.4v4.8M938.5 869.1h4.8m-2.4-2.4v4.8M975.9 951.8h4.8m-2.4-2.4v4.8M960.4 917.6h4.8m-2.4-2.4v4.8M1056.1 851.6h4.8m-2.4-2.4v4.8M1121.1 910.7h4.8m-2.4-2.4v4.8M1071 817h4.8m-2.4-2.4v4.8M989.3 924.1h4.8m-2.4-2.4v4.8M1132.4 856.4h4.8m-2.4-2.4v4.8M1055.8 864.5h4.8m-2.4-2.4v4.8M1103.8 851.9h4.8m-2.4-2.4v4.8M1116.9 833.8h4.8m-2.4-2.4v4.8M975.1 907h4.8m-2.4-2.4v4.8M1031.2 957.1h4.8m-2.4-2.4v4.8M1036.3 882.5h4.8m-2.4-2.4v4.8M1112.9 868.9h4.8m-2.4-2.4v4.8M1014.3 939.9h4.8m-2.4-2.4v4.8M1045.8 830.2h4.8m-2.4-2.4v4.8M949.9 955.3h4.8m-2.4-2.4v4.8M1089 884.3h4.8m-2.4-2.4v4.8M978.3 980.7h4.8m-2.4-2.4v4.8M1072.7 818.4h4.8m-2.4-2.4v4.8M938.7 932.1h4.8m-2.4-2.4v4.8M1061.3 866.5h4.8m-2.4-2.4v4.8M981.2 793.2h4.8m-2.4-2.4v4.8M1105.8 863.6h4.8m-2.4-2.4v4.8M1099.6 844.2h4.8m-2.4-2.4v4.8" stroke="#b81419" stroke-width="2.3" fill="none"/><path d="M1015.7 845.7h4.8m-2.4-2.4v4.8M1022.4 912.5h4.8m-2.4-2.4v4.8M1016.9 883.6h4.8m-2.4-2.4v4.8M1096.3 886.2h4.8m-2.4-2.4v4.8M1020.8 838.1h4.8m-2.4-2.4v4.8M1086.2 806h4.8m-2.4-2.4v4.8M1034.7 826.1h4.8m-2.4-2.4v4.8M971.6 803.4h4.8m-2.4-2.4v4.8M947.6 910h4.8m-2.4-2.4v4.8M1108.8 799.1h4.8m-2.4-2.4v4.8M950.9 827.1h4.8m-2.4-2.4v4.8M1098.5 812.5h4.8m-2.4-2.4v4.8M1041.2 807.3h4.8m-2.4-2.4v4.8M939.4 882.6h4.8m-2.4-2.4v4.8M983.7 781.8h4.8m-2.4-2.4v4.8M950.8 855.3h4.8m-2.4-2.4v4.8M1042.3 797.2h4.8m-2.4-2.4v4.8M1072.9 830.7h4.8m-2.4-2.4v4.8M989.5 897.1h4.8m-2.4-2.4v4.8M927 927.7h4.8m-2.4-2.4v4.8M1061.8 853.4h4.8m-2.4-2.4v4.8M1123.9 824.4h4.8m-2.4-2.4v4.8M933.3 946.7h4.8m-2.4-2.4v4.8M957 829.8h4.8m-2.4-2.4v4.8M972.8 841.7h4.8m-2.4-2.4v4.8M1044.9 936h4.8m-2.4-2.4v4.8M1081.8 853.5h4.8m-2.4-2.4v4.8M994.5 881.5h4.8m-2.4-2.4v4.8M1115.4 826.5h4.8m-2.4-2.4v4.8M1138.8 891.3h4.8m-2.4-2.4v4.8M979.2 809.6h4.8m-2.4-2.4v4.8M1052 815.5h4.8m-2.4-2.4v4.8M1019.9 817.2h4.8m-2.4-2.4v4.8M980.1 871.1h4.8m-2.4-2.4v4.8M1061.5 795.8h4.8m-2.4-2.4v4.8M945.7 863.1h4.8m-2.4-2.4v4.8M1009.6 787.3h4.8m-2.4-2.4v4.8M1046.1 807.7h4.8m-2.4-2.4v4.8M948.4 858.9h4.8m-2.4-2.4v4.8M944.7 836.4h4.8m-2.4-2.4v4.8M995.3 863.6h4.8m-2.4-2.4v4.8M1098.1 865.3h4.8m-2.4-2.4v4.8M1051.2 799.3h4.8m-2.4-2.4v4.8M964.8 864.2h4.8m-2.4-2.4v4.8M950.5 852h4.8m-2.4-2.4v4.8M981.3 931.1h4.8m-2.4-2.4v4.8M1088.6 803.1h4.8m-2.4-2.4v4.8M1026.4 846.3h4.8m-2.4-2.4v4.8M1039.4 825.1h4.8m-2.4-2.4v4.8M1010.2 887.8h4.8m-2.4-2.4v4.8M982.7 790.5h4.8m-2.4-2.4v4.8M1135 865.9h4.8m-2.4-2.4v4.8M999.4 773.9h4.8m-2.4-2.4v4.8M973.2 849.2h4.8m-2.4-2.4v4.8M1138.5 934.9h4.8m-2.4-2.4v4.8M985.8 780.9h4.8m-2.4-2.4v4.8M1005.9 794.7h4.8m-2.4-2.4v4.8M1040.9 821.5h4.8m-2.4-2.4v4.8M1003.1 826.2h4.8m-2.4-2.4v4.8M1070.6 895.6h4.8m-2.4-2.4v4.8M1059.5 815.3h4.8m-2.4-2.4v4.8M1058.6 927.6h4.8m-2.4-2.4v4.8M1114.6 875.3h4.8m-2.4-2.4v4.8M969.9 840.3h4.8m-2.4-2.4v4.8M954.2 858.3h4.8m-2.4-2.4v4.8M1057.2 866.3h4.8m-2.4-2.4v4.8M1113.1 881.6h4.8m-2.4-2.4v4.8M1038.3 865.2h4.8m-2.4-2.4v4.8M1061.4 801.3h4.8m-2.4-2.4v4.8M1093.7 812.5h4.8m-2.4-2.4v4.8M1007.4 869.7h4.8m-2.4-2.4v4.8M1069.8 794.9h4.8m-2.4-2.4v4.8M1003.1 844.8h4.8m-2.4-2.4v4.8M1017.3 825.2h4.8m-2.4-2.4v4.8M1131.9 873.5h4.8m-2.4-2.4v4.8M1017.6 828.2h4.8m-2.4-2.4v4.8M945.3 855.4h4.8m-2.4-2.4v4.8M1079 852.6h4.8m-2.4-2.4v4.8M1064.2 926.3h4.8m-2.4-2.4v4.8M973.5 810.5h4.8m-2.4-2.4v4.8M1023.5 878.9h4.8m-2.4-2.4v4.8M1070 801.6h4.8m-2.4-2.4v4.8M999.7 922.6h4.8m-2.4-2.4v4.8M923 871.8h4.8m-2.4-2.4v4.8M1065.5 863.5h4.8m-2.4-2.4v4.8M1036 795h4.8m-2.4-2.4v4.8M1136 940.4h4.8m-2.4-2.4v4.8M1017.2 802h4.8m-2.4-2.4v4.8M1045.2 867.2h4.8m-2.4-2.4v4.8M992.1 832.6h4.8m-2.4-2.4v4.8M1012.5 772.5h4.8m-2.4-2.4v4.8M1070.8 797.4h4.8m-2.4-2.4v4.8M1025.9 792.6h4.8m-2.4-2.4v4.8M1120.6 841.9h4.8m-2.4-2.4v4.8M1129.6 835.2h4.8m-2.4-2.4v4.8M1066.9 878.6h4.8m-2.4-2.4v4.8M1103.9 809h4.8m-2.4-2.4v4.8M995.6 993.6h4.8m-2.4-2.4v4.8M1109 815.4h4.8m-2.4-2.4v4.8M929.1 856.6h4.8m-2.4-2.4v4.8M1093.6 800.8h4.8m-2.4-2.4v4.8M960.2 902.1h4.8m-2.4-2.4v4.8M1011.4 769.8h4.8m-2.4-2.4v4.8M1032.8 893.9h4.8m-2.4-2.4v4.8M1014.1 878.3h4.8m-2.4-2.4v4.8M1028 781h4.8m-2.4-2.4v4.8M1087.4 868.2h4.8m-2.4-2.4v4.8M1042.2 828.7h4.8m-2.4-2.4v4.8M1042.1 972.4h4.8m-2.4-2.4v4.8M999.1 820.9h4.8m-2.4-2.4v4.8M1055.7 809.2h4.8m-2.4-2.4v4.8M934.2 891.3h4.8m-2.4-2.4v4.8M1127 833.8h4.8m-2.4-2.4v4.8M1114.1 846.8h4.8m-2.4-2.4v4.8M935.3 931.6h4.8m-2.4-2.4v4.8M1109.6 911.2h4.8m-2.4-2.4v4.8M1059.5 924.7h4.8m-2.4-2.4v4.8M1099 794.5h4.8m-2.4-2.4v4.8M1031.3 882.8h4.8m-2.4-2.4v4.8M943.4 891.3h4.8m-2.4-2.4v4.8M1073.2 927.7h4.8m-2.4-2.4v4.8M1119.8 821h4.8m-2.4-2.4v4.8M1032.1 835.3h4.8m-2.4-2.4v4.8M1127 843.5h4.8m-2.4-2.4v4.8M1070.7 845.4h4.8m-2.4-2.4v4.8M1137.1 910.9h4.8m-2.4-2.4v4.8M1042 816.1h4.8m-2.4-2.4v4.8M958.8 904.3h4.8m-2.4-2.4v4.8M1006.8 838h4.8m-2.4-2.4v4.8M1069.4 848.6h4.8m-2.4-2.4v4.8M1041.3 836.1h4.8m-2.4-2.4v4.8M1139.3 858h4.8m-2.4-2.4v4.8M1038.2 776.6h4.8m-2.4-2.4v4.8M1064.9 815.9h4.8m-2.4-2.4v4.8M962.6 821.3h4.8m-2.4-2.4v4.8M1002.7 921.1h4.8m-2.4-2.4v4.8M1077.7 849.7h4.8m-2.4-2.4v4.8M960.3 855.1h4.8m-2.4-2.4v4.8M1053 852.7h4.8m-2.4-2.4v4.8M1078.2 831.7h4.8m-2.4-2.4v4.8M1016 904.5h4.8m-2.4-2.4v4.8M979.2 877.6h4.8m-2.4-2.4v4.8M1112 914.9h4.8m-2.4-2.4v4.8M1062.7 824.7h4.8m-2.4-2.4v4.8M1007.8 800.9h4.8m-2.4-2.4v4.8M950.9 843.8h4.8m-2.4-2.4v4.8M1073 822.6h4.8m-2.4-2.4v4.8M955.7 922.3h4.8m-2.4-2.4v4.8M1108.7 844.3h4.8m-2.4-2.4v4.8M1071.8 788.1h4.8m-2.4-2.4v4.8M1074.3 799.8h4.8m-2.4-2.4v4.8M1091.7 935.8h4.8m-2.4-2.4v4.8M1018.3 807.6h4.8m-2.4-2.4v4.8M1078.5 913.4h4.8m-2.4-2.4v4.8M1015.7 888.7h4.8m-2.4-2.4v4.8M983.1 798.4h4.8m-2.4-2.4v4.8M996.3 850.3h4.8m-2.4-2.4v4.8M999.9 890.2h4.8m-2.4-2.4v4.8M1069.1 835.5h4.8m-2.4-2.4v4.8M965.6 817.7h4.8m-2.4-2.4v4.8M1067.4 834h4.8m-2.4-2.4v4.8" stroke="#a50f15" stroke-width="2.3" fill="none"/><path d="M1124.7 870h4.8m-2.4-2.4v4.8M977.1 929.8h4.8m-2.4-2.4v4.8M1072.4 792.1h4.8m-2.4-2.4v4.8M1078.2 841.1h4.8m-2.4-2.4v4.8M1018.6 785.1h4.8m-2.4-2.4v4.8M1046.8 841.4h4.8m-2.4-2.4v4.8M1100.9 812.2h4.8m-2.4-2.4v4.8M973.5 881.3h4.8m-2.4-2.4v4.8M1017.6 945.7h4.8m-2.4-2.4v4.8M957.7 873.5h4.8m-2.4-2.4v4.8M1049.8 834.3h4.8m-2.4-2.4v4.8M1014.1 864.8h4.8m-2.4-2.4v4.8M1021.7 800h4.8m-2.4-2.4v4.8M1106.3 818.3h4.8m-2.4-2.4v4.8M1081.7 832.1h4.8m-2.4-2.4v4.8M929 863.4h4.8m-2.4-2.4v4.8M1091.6 924.2h4.8m-2.4-2.4v4.8M1039.6 817.7h4.8m-2.4-2.4v4.8M1110.4 883.7h4.8m-2.4-2.4v4.8M1090.3 792.9h4.8m-2.4-2.4v4.8M955.2 944.8h4.8m-2.4-2.4v4.8M1088.6 859.9h4.8m-2.4-2.4v4.8M998.2 836.7h4.8m-2.4-2.4v4.8M1008.8 778.6h4.8m-2.4-2.4v4.8M978.1 797.8h4.8m-2.4-2.4v4.8M1096.9 862.3h4.8m-2.4-2.4v4.8M945.1 838.7h4.8m-2.4-2.4v4.8M1099.9 823.3h4.8m-2.4-2.4v4.8M1039.8 828.6h4.8m-2.4-2.4v4.8M1017.5 831.3h4.8m-2.4-2.4v4.8M1082.4 788.6h4.8m-2.4-2.4v4.8M1041.6 917h4.8m-2.4-2.4v4.8M1045.3 797.7h4.8m-2.4-2.4v4.8M1101.6 869.6h4.8m-2.4-2.4v4.8M968.2 854.4h4.8m-2.4-2.4v4.8M1093.5 797.6h4.8m-2.4-2.4v4.8M1126.8 921h4.8m-2.4-2.4v4.8M977.8 952.8h4.8m-2.4-2.4v4.8M1069.6 790.8h4.8m-2.4-2.4v4.8M1001.1 835.4h4.8m-2.4-2.4v4.8M1010.1 799.8h4.8m-2.4-2.4v4.8M1062.9 851.2h4.8m-2.4-2.4v4.8M1020 829.5h4.8m-2.4-2.4v4.8M1073.8 804.4h4.8m-2.4-2.4v4.8M1038.5 903.8h4.8m-2.4-2.4v4.8M1093.1 834.3h4.8m-2.4-2.4v4.8M1087.1 817.3h4.8m-2.4-2.4v4.8M1000 862.8h4.8m-2.4-2.4v4.8M959.2 886.5h4.8m-2.4-2.4v4.8M1080.6 803.2h4.8m-2.4-2.4v4.8M997.5 831.6h4.8m-2.4-2.4v4.8M1106.3 907.9h4.8m-2.4-2.4v4.8M1002.2 832.1h4.8m-2.4-2.4v4.8M1077 845h4.8m-2.4-2.4v4.8M1050.1 896.8h4.8m-2.4-2.4v4.8M972.4 914.7h4.8m-2.4-2.4v4.8M1049.8 797.2h4.8m-2.4-2.4v4.8M998.2 809.1h4.8m-2.4-2.4v4.8M1079.1 795.7h4.8m-2.4-2.4v4.8M987.2 794.5h4.8m-2.4-2.4v4.8M1061.8 845.6h4.8m-2.4-2.4v4.8M1063.4 822.5h4.8m-2.4-2.4v4.8M1118.1 842.8h4.8m-2.4-2.4v4.8M986.5 812.2h4.8m-2.4-2.4v4.8M1091.5 809.3h4.8m-2.4-2.4v4.8M968.1 868.4h4.8m-2.4-2.4v4.8M1031.1 795.1h4.8m-2.4-2.4v4.8M1057.2 981.9h4.8m-2.4-2.4v4.8M965.8 852.3h4.8m-2.4-2.4v4.8M1057.1 903.7h4.8m-2.4-2.4v4.8M1038.8 782h4.8m-2.4-2.4v4.8M1014.6 770.1h4.8m-2.4-2.4v4.8M1025.8 808.5h4.8m-2.4-2.4v4.8M997.6 824.8h4.8m-2.4-2.4v4.8M1092 841.6h4.8m-2.4-2.4v4.8M1081 799.3h4.8m-2.4-2.4v4.8" stroke="#860811" stroke-width="2.3" fill="none"/><path d="M965 824.9h4.8m-2.4-2.4v4.8M959.8 808.8h4.8m-2.4-2.4v4.8M1122.7 883.4h4.8m-2.4-2.4v4.8M969.9 852.4h4.8m-2.4-2.4v4.8M1011.8 821h4.8m-2.4-2.4v4.8M1058.1 798.1h4.8m-2.4-2.4v4.8M1019.6 771.4h4.8m-2.4-2.4v4.8M1034.2 773.7h4.8m-2.4-2.4v4.8M1100.2 805.2h4.8m-2.4-2.4v4.8M1006.7 816.6h4.8m-2.4-2.4v4.8M1076.5 833.5h4.8m-2.4-2.4v4.8M979.7 784.4h4.8m-2.4-2.4v4.8M1075.4 830.8h4.8m-2.4-2.4v4.8M1085.3 840.6h4.8m-2.4-2.4v4.8M1041.6 824h4.8m-2.4-2.4v4.8M1018.1 774.2h4.8m-2.4-2.4v4.8M1003.6 790.6h4.8m-2.4-2.4v4.8M1051.3 812.7h4.8m-2.4-2.4v4.8M1017.1 782.6h4.8m-2.4-2.4v4.8M1036.5 820h4.8m-2.4-2.4v4.8M1030.1 850.5h4.8m-2.4-2.4v4.8M1062.3 813.6h4.8m-2.4-2.4v4.8M944.4 847.3h4.8m-2.4-2.4v4.8M996.2 835.7h4.8m-2.4-2.4v4.8M1056.3 790.9h4.8m-2.4-2.4v4.8M945.9 841.3h4.8m-2.4-2.4v4.8M991.7 805.5h4.8m-2.4-2.4v4.8M1083.4 807.1h4.8m-2.4-2.4v4.8M1118.6 811.7h4.8m-2.4-2.4v4.8M1098.8 935.2h4.8m-2.4-2.4v4.8M975.7 791.2h4.8m-2.4-2.4v4.8M1047.4 822.2h4.8m-2.4-2.4v4.8M1040.8 784h4.8m-2.4-2.4v4.8M1050.7 802.9h4.8m-2.4-2.4v4.8M1064 828.4h4.8m-2.4-2.4v4.8M1023.4 824.8h4.8m-2.4-2.4v4.8M1045.9 795.3h4.8m-2.4-2.4v4.8M1004.7 846.3h4.8m-2.4-2.4v4.8M982.6 807.9h4.8m-2.4-2.4v4.8M1013.9 822.7h4.8m-2.4-2.4v4.8M1074.6 837.7h4.8m-2.4-2.4v4.8M971.5 822.2h4.8m-2.4-2.4v4.8M1079.1 847.7h4.8m-2.4-2.4v4.8M1010.4 790.6h4.8m-2.4-2.4v4.8M985.7 831.1h4.8m-2.4-2.4v4.8M1005.4 825.2h4.8m-2.4-2.4v4.8M946.2 886.2h4.8m-2.4-2.4v4.8M1038.5 800.7h4.8m-2.4-2.4v4.8M965 813.2h4.8m-2.4-2.4v4.8M1026 774.3h4.8m-2.4-2.4v4.8M1043.8 792.2h4.8m-2.4-2.4v4.8M939.2 843.3h4.8m-2.4-2.4v4.8" stroke="#67000d" stroke-width="2.3" fill="none"/><text x="1304" y="756.5" text-anchor="middle" font-size="29.5" font-style="italic" fill="#000">IGFBP1</text><path d="M1282.9 773.4h4.8m-2.4-2.4v4.8" stroke="#eaf3fb" stroke-width="2.3" fill="none"/><path d="M1298.9 796.8h4.8m-2.4-2.4v4.8" stroke="#deebf7" stroke-width="2.3" fill="none"/><path d="M1227.4 819.6h4.8m-2.4-2.4v4.8M1233.7 872.7h4.8m-2.4-2.4v4.8M1337.3 832.3h4.8m-2.4-2.4v4.8M1349.5 828.6h4.8m-2.4-2.4v4.8M1260.1 837.2h4.8m-2.4-2.4v4.8" stroke="#d2e3f3" stroke-width="2.3" fill="none"/><path d="M1338 862.1h4.8m-2.4-2.4v4.8M1348.1 792.8h4.8m-2.4-2.4v4.8M1359.6 804.1h4.8m-2.4-2.4v4.8M1246.9 896.6h4.8m-2.4-2.4v4.8M1361.2 830.6h4.8m-2.4-2.4v4.8M1377.1 814.5h4.8m-2.4-2.4v4.8M1326.2 943.1h4.8m-2.4-2.4v4.8M1302.2 826.7h4.8m-2.4-2.4v4.8M1246.1 858.6h4.8m-2.4-2.4v4.8M1216.8 862.6h4.8m-2.4-2.4v4.8M1320.8 828.7h4.8m-2.4-2.4v4.8M1252.4 801.4h4.8m-2.4-2.4v4.8M1240.1 793h4.8m-2.4-2.4v4.8M1338.9 846.4h4.8m-2.4-2.4v4.8M1340.9 797.5h4.8m-2.4-2.4v4.8M1266.4 779.5h4.8m-2.4-2.4v4.8M1218.6 836.4h4.8m-2.4-2.4v4.8M1203.6 861.9h4.8m-2.4-2.4v4.8M1392.4 833.1h4.8m-2.4-2.4v4.8M1327.9 841.4h4.8m-2.4-2.4v4.8" stroke="#c6dbef" stroke-width="2.3" fill="none"/><path d="M1313.7 819.7h4.8m-2.4-2.4v4.8M1334.4 793.9h4.8m-2.4-2.4v4.8M1282 787h4.8m-2.4-2.4v4.8M1249.3 839.6h4.8m-2.4-2.4v4.8M1378 855h4.8m-2.4-2.4v4.8M1397.7 851.2h4.8m-2.4-2.4v4.8M1361.2 824.9h4.8m-2.4-2.4v4.8M1399.1 892.3h4.8m-2.4-2.4v4.8M1284.7 852.5h4.8m-2.4-2.4v4.8M1219.6 818.8h4.8m-2.4-2.4v4.8M1253.7 791.3h4.8m-2.4-2.4v4.8M1324.1 828.7h4.8m-2.4-2.4v4.8M1299.3 821.5h4.8m-2.4-2.4v4.8M1307 871.6h4.8m-2.4-2.4v4.8M1257.4 998.4h4.8m-2.4-2.4v4.8M1256.9 866.4h4.8m-2.4-2.4v4.8M1377.1 810h4.8m-2.4-2.4v4.8M1313.3 866.8h4.8m-2.4-2.4v4.8M1184.3 880h4.8m-2.4-2.4v4.8M1309.2 877.6h4.8m-2.4-2.4v4.8M1285.3 835h4.8m-2.4-2.4v4.8M1384.7 814h4.8m-2.4-2.4v4.8M1271.1 787.9h4.8m-2.4-2.4v4.8M1387.6 835.3h4.8m-2.4-2.4v4.8M1370.6 912.1h4.8m-2.4-2.4v4.8M1219.7 831.7h4.8m-2.4-2.4v4.8M1246.6 825.1h4.8m-2.4-2.4v4.8M1206.8 861h4.8m-2.4-2.4v4.8M1332.5 925.7h4.8m-2.4-2.4v4.8" stroke="#b2d2e8" stroke-width="2.3" fill="none"/><path d="M1182.1 887h4.8m-2.4-2.4v4.8M1321.8 806.9h4.8m-2.4-2.4v4.8M1344 875.3h4.8m-2.4-2.4v4.8M1332 863.8h4.8m-2.4-2.4v4.8M1340.1 842.5h4.8m-2.4-2.4v4.8M1367.4 820h4.8m-2.4-2.4v4.8M1275.3 822.6h4.8m-2.4-2.4v4.8M1364.7 834h4.8m-2.4-2.4v4.8M1332.8 905.3h4.8m-2.4-2.4v4.8M1334.9 832.2h4.8m-2.4-2.4v4.8M1297 973.2h4.8m-2.4-2.4v4.8M1244.6 839h4.8m-2.4-2.4v4.8M1302.4 819.3h4.8m-2.4-2.4v4.8M1204.6 867.8h4.8m-2.4-2.4v4.8M1288.7 789.1h4.8m-2.4-2.4v4.8M1244.1 786.3h4.8m-2.4-2.4v4.8M1288.2 812.3h4.8m-2.4-2.4v4.8M1242.2 865h4.8m-2.4-2.4v4.8M1270.2 958.3h4.8m-2.4-2.4v4.8M1243.6 811.3h4.8m-2.4-2.4v4.8M1259.2 864.8h4.8m-2.4-2.4v4.8M1261.2 790.9h4.8m-2.4-2.4v4.8M1281.4 776.2h4.8m-2.4-2.4v4.8M1289.5 941.7h4.8m-2.4-2.4v4.8M1227.7 957.4h4.8m-2.4-2.4v4.8M1372.5 940h4.8m-2.4-2.4v4.8M1313.8 814.3h4.8m-2.4-2.4v4.8M1232 799.6h4.8m-2.4-2.4v4.8M1237 794.7h4.8m-2.4-2.4v4.8M1272.6 817.4h4.8m-2.4-2.4v4.8M1325.1 852.5h4.8m-2.4-2.4v4.8M1240.3 873h4.8m-2.4-2.4v4.8M1375.5 876.5h4.8m-2.4-2.4v4.8M1374 882.7h4.8m-2.4-2.4v4.8M1301.1 866.4h4.8m-2.4-2.4v4.8M1355.1 814.2h4.8m-2.4-2.4v4.8M1352.5 917.1h4.8m-2.4-2.4v4.8M1326.9 883.7h4.8m-2.4-2.4v4.8M1342.3 804.9h4.8m-2.4-2.4v4.8M1345.1 808.8h4.8m-2.4-2.4v4.8M1379 931.8h4.8m-2.4-2.4v4.8M1338.9 955.3h4.8m-2.4-2.4v4.8M1256.2 834.1h4.8m-2.4-2.4v4.8M1332.8 799.2h4.8m-2.4-2.4v4.8M1206.4 917.1h4.8m-2.4-2.4v4.8M1326.2 829.9h4.8m-2.4-2.4v4.8M1263.2 848h4.8m-2.4-2.4v4.8M1305.3 865.6h4.8m-2.4-2.4v4.8M1271.6 982h4.8m-2.4-2.4v4.8M1320.8 850.8h4.8m-2.4-2.4v4.8M1305 830.2h4.8m-2.4-2.4v4.8M1279.8 842.1h4.8m-2.4-2.4v4.8M1336.8 817.3h4.8m-2.4-2.4v4.8M1341.6 816.5h4.8m-2.4-2.4v4.8M1373.2 817.9h4.8m-2.4-2.4v4.8M1372 906.4h4.8m-2.4-2.4v4.8M1383.5 821.8h4.8m-2.4-2.4v4.8M1280.6 814.9h4.8m-2.4-2.4v4.8M1314.8 861.4h4.8m-2.4-2.4v4.8M1249.9 832.6h4.8m-2.4-2.4v4.8M1343.9 798.7h4.8m-2.4-2.4v4.8M1381.4 845.8h4.8m-2.4-2.4v4.8M1296.3 813.2h4.8m-2.4-2.4v4.8M1318.5 852.9h4.8m-2.4-2.4v4.8M1289.2 776.3h4.8m-2.4-2.4v4.8M1331.2 837h4.8m-2.4-2.4v4.8M1230.3 819.3h4.8m-2.4-2.4v4.8M1329.5 835.4h4.8m-2.4-2.4v4.8" stroke="#9ecae1" stroke-width="2.3" fill="none"/><path d="M1385 882.6h4.8m-2.4-2.4v4.8M1257.9 787.9h4.8m-2.4-2.4v4.8M1237.9 822.1h4.8m-2.4-2.4v4.8M1387.6 915.2h4.8m-2.4-2.4v4.8M1386.2 888.4h4.8m-2.4-2.4v4.8M1218.2 880.8h4.8m-2.4-2.4v4.8M1309.4 842.8h4.8m-2.4-2.4v4.8M1362.1 813.8h4.8m-2.4-2.4v4.8M1254 964.2h4.8m-2.4-2.4v4.8M1313.6 858.6h4.8m-2.4-2.4v4.8M1298.9 842.3h4.8m-2.4-2.4v4.8M1234.5 853.7h4.8m-2.4-2.4v4.8M1305.1 799h4.8m-2.4-2.4v4.8M1306.3 875.7h4.8m-2.4-2.4v4.8M1210.1 862.1h4.8m-2.4-2.4v4.8M1299.9 1012.8h4.8m-2.4-2.4v4.8M1320.9 883.7h4.8m-2.4-2.4v4.8M1192 888h4.8m-2.4-2.4v4.8M1297.6 800.6h4.8m-2.4-2.4v4.8M1198.2 879.2h4.8m-2.4-2.4v4.8M1326.6 922.5h4.8m-2.4-2.4v4.8M1343.5 854.9h4.8m-2.4-2.4v4.8M1395.1 904.3h4.8m-2.4-2.4v4.8M1389.2 955.7h4.8m-2.4-2.4v4.8M1228.3 919h4.8m-2.4-2.4v4.8M1210.3 840.1h4.8m-2.4-2.4v4.8M1396.5 932.1h4.8m-2.4-2.4v4.8M1288.2 897.1h4.8m-2.4-2.4v4.8M1273.1 789.1h4.8m-2.4-2.4v4.8M1347 842h4.8m-2.4-2.4v4.8M1375.7 838.9h4.8m-2.4-2.4v4.8M1213 920.3h4.8m-2.4-2.4v4.8M1245.6 931.8h4.8m-2.4-2.4v4.8M1362.9 870.8h4.8m-2.4-2.4v4.8M1325.9 879.8h4.8m-2.4-2.4v4.8M1339.1 997.1h4.8m-2.4-2.4v4.8M1261.1 890.9h4.8m-2.4-2.4v4.8M1280.4 784.5h4.8m-2.4-2.4v4.8M1345.3 835.5h4.8m-2.4-2.4v4.8M1211.3 867.6h4.8m-2.4-2.4v4.8M1380 881h4.8m-2.4-2.4v4.8M1247.2 880.3h4.8m-2.4-2.4v4.8M1293.1 851.9h4.8m-2.4-2.4v4.8M1382.3 838.9h4.8m-2.4-2.4v4.8M1219.2 859.6h4.8m-2.4-2.4v4.8M1315.5 921.9h4.8m-2.4-2.4v4.8M1198.8 851.3h4.8m-2.4-2.4v4.8M1368.8 873.7h4.8m-2.4-2.4v4.8M1218.3 934.5h4.8m-2.4-2.4v4.8M1371.7 896.8h4.8m-2.4-2.4v4.8M1276.3 826.7h4.8m-2.4-2.4v4.8M1334.3 849.2h4.8m-2.4-2.4v4.8M1277.8 886.2h4.8m-2.4-2.4v4.8M1297.3 845.6h4.8m-2.4-2.4v4.8M1211.1 842.8h4.8m-2.4-2.4v4.8M1326 946.1h4.8m-2.4-2.4v4.8M1255.7 807.2h4.8m-2.4-2.4v4.8M1379.4 813.4h4.8m-2.4-2.4v4.8M1261.4 833.1h4.8m-2.4-2.4v4.8M1289.4 888h4.8m-2.4-2.4v4.8M1226 839h4.8m-2.4-2.4v4.8M1240.1 808.1h4.8m-2.4-2.4v4.8M1332.1 803.3h4.8m-2.4-2.4v4.8M1221.7 890.4h4.8m-2.4-2.4v4.8M1329.4 830.9h4.8m-2.4-2.4v4.8M1342.5 826.5h4.8m-2.4-2.4v4.8M1284.7 776.3h4.8m-2.4-2.4v4.8M1345.9 891.9h4.8m-2.4-2.4v4.8M1229.8 937.4h4.8m-2.4-2.4v4.8M1385.8 906.7h4.8m-2.4-2.4v4.8M1262.1 810.8h4.8m-2.4-2.4v4.8M1286.6 826.4h4.8m-2.4-2.4v4.8M1314.1 879.6h4.8m-2.4-2.4v4.8M1347.9 889.8h4.8m-2.4-2.4v4.8M1245.5 852.8h4.8m-2.4-2.4v4.8M1199.8 854.3h4.8m-2.4-2.4v4.8M1182.9 922.4h4.8m-2.4-2.4v4.8M1258.9 831.9h4.8m-2.4-2.4v4.8M1269.5 893.1h4.8m-2.4-2.4v4.8M1295.1 836.8h4.8m-2.4-2.4v4.8M1250.7 813.9h4.8m-2.4-2.4v4.8M1232.7 869.6h4.8m-2.4-2.4v4.8M1304 837.6h4.8m-2.4-2.4v4.8M1378.4 838.7h4.8m-2.4-2.4v4.8M1365.1 876.2h4.8m-2.4-2.4v4.8M1236.3 911.1h4.8m-2.4-2.4v4.8M1239.7 851.5h4.8m-2.4-2.4v4.8M1269.1 826.7h4.8m-2.4-2.4v4.8M1225.2 918.4h4.8m-2.4-2.4v4.8M1355.8 856.4h4.8m-2.4-2.4v4.8M1251.7 882.9h4.8m-2.4-2.4v4.8M1308.4 831.7h4.8m-2.4-2.4v4.8M1277.7 918.9h4.8m-2.4-2.4v4.8M1281.6 809.3h4.8m-2.4-2.4v4.8" stroke="#84bcdc" stroke-width="2.3" fill="none"/><path d="M1264.5 888.9h4.8m-2.4-2.4v4.8M1273.1 823.1h4.8m-2.4-2.4v4.8M1336.4 937.2h4.8m-2.4-2.4v4.8M1241.5 930.6h4.8m-2.4-2.4v4.8M1347.8 807.7h4.8m-2.4-2.4v4.8M1223.9 900.1h4.8m-2.4-2.4v4.8M1290.8 803.2h4.8m-2.4-2.4v4.8M1234.5 951.8h4.8m-2.4-2.4v4.8M1248 842.4h4.8m-2.4-2.4v4.8M1230.4 981.8h4.8m-2.4-2.4v4.8M1252.3 841.7h4.8m-2.4-2.4v4.8M1304 809h4.8m-2.4-2.4v4.8M1343.4 840.6h4.8m-2.4-2.4v4.8M1274.3 905h4.8m-2.4-2.4v4.8M1215.9 856.6h4.8m-2.4-2.4v4.8M1264.9 970.5h4.8m-2.4-2.4v4.8M1320.3 856h4.8m-2.4-2.4v4.8M1361.4 806.9h4.8m-2.4-2.4v4.8M1253 903.6h4.8m-2.4-2.4v4.8M1237.6 963.7h4.8m-2.4-2.4v4.8M1217.7 874.3h4.8m-2.4-2.4v4.8M1299.5 953.9h4.8m-2.4-2.4v4.8M1262.1 838.2h4.8m-2.4-2.4v4.8M1332.5 944.1h4.8m-2.4-2.4v4.8M1384.4 816.7h4.8m-2.4-2.4v4.8M1225.3 921.8h4.8m-2.4-2.4v4.8M1346.3 945.9h4.8m-2.4-2.4v4.8M1376.3 828h4.8m-2.4-2.4v4.8M1224 949.3h4.8m-2.4-2.4v4.8M1234.2 834.8h4.8m-2.4-2.4v4.8M1283.2 818.8h4.8m-2.4-2.4v4.8M1351.1 847.2h4.8m-2.4-2.4v4.8M1302.6 830.1h4.8m-2.4-2.4v4.8M1272.5 860.6h4.8m-2.4-2.4v4.8M1299.4 891.7h4.8m-2.4-2.4v4.8M1254.8 818.1h4.8m-2.4-2.4v4.8M1401 911.8h4.8m-2.4-2.4v4.8M1199.8 937.7h4.8m-2.4-2.4v4.8M1329.5 852.6h4.8m-2.4-2.4v4.8M1300.2 986.3h4.8m-2.4-2.4v4.8M1392.4 839h4.8m-2.4-2.4v4.8M1346.2 869h4.8m-2.4-2.4v4.8M1326 875.4h4.8m-2.4-2.4v4.8M1354.9 799.4h4.8m-2.4-2.4v4.8M1359.5 879.9h4.8m-2.4-2.4v4.8M1395.4 867.2h4.8m-2.4-2.4v4.8M1263.3 775.8h4.8m-2.4-2.4v4.8M1189.8 945.8h4.8m-2.4-2.4v4.8M1237.7 850.5h4.8m-2.4-2.4v4.8M1367.9 1001.2h4.8m-2.4-2.4v4.8M1251 923.1h4.8m-2.4-2.4v4.8M1307.5 879.1h4.8m-2.4-2.4v4.8M1394.5 835.5h4.8m-2.4-2.4v4.8M1344.2 922.3h4.8m-2.4-2.4v4.8M1320.9 928.3h4.8m-2.4-2.4v4.8M1378 847.2h4.8m-2.4-2.4v4.8M1350.9 856.3h4.8m-2.4-2.4v4.8M1282.1 822.7h4.8m-2.4-2.4v4.8M1264.7 941.9h4.8m-2.4-2.4v4.8M1212.3 969.2h4.8m-2.4-2.4v4.8M1330.5 947.2h4.8m-2.4-2.4v4.8M1251.3 984h4.8m-2.4-2.4v4.8M1270.4 836.5h4.8m-2.4-2.4v4.8M1354.5 835.8h4.8m-2.4-2.4v4.8M1296.8 886.7h4.8m-2.4-2.4v4.8M1263.8 864.1h4.8m-2.4-2.4v4.8M1331.8 796.7h4.8m-2.4-2.4v4.8M1208.7 883.2h4.8m-2.4-2.4v4.8M1373.4 851.1h4.8m-2.4-2.4v4.8M1378.9 820.8h4.8m-2.4-2.4v4.8M1354 897.1h4.8m-2.4-2.4v4.8M1279.3 858.5h4.8m-2.4-2.4v4.8M1215.3 898.5h4.8m-2.4-2.4v4.8M1236.4 840.4h4.8m-2.4-2.4v4.8M1380.8 840.6h4.8m-2.4-2.4v4.8M1241.6 970.4h4.8m-2.4-2.4v4.8M1308 785.2h4.8m-2.4-2.4v4.8M1280.4 819h4.8m-2.4-2.4v4.8M1266 810.5h4.8m-2.4-2.4v4.8M1273.3 925.3h4.8m-2.4-2.4v4.8M1381.3 843.3h4.8m-2.4-2.4v4.8M1365.1 810.7h4.8m-2.4-2.4v4.8M1313.1 855.9h4.8m-2.4-2.4v4.8M1194.7 858h4.8m-2.4-2.4v4.8M1381 871.2h4.8m-2.4-2.4v4.8M1369 806.9h4.8m-2.4-2.4v4.8M1312.4 799h4.8m-2.4-2.4v4.8M1251 824.2h4.8m-2.4-2.4v4.8M1248.7 789.1h4.8m-2.4-2.4v4.8M1191.9 901.4h4.8m-2.4-2.4v4.8M1328.8 934.6h4.8m-2.4-2.4v4.8M1299.5 964.7h4.8m-2.4-2.4v4.8M1256.9 812.6h4.8m-2.4-2.4v4.8M1378.9 844.2h4.8m-2.4-2.4v4.8M1271.6 914.3h4.8m-2.4-2.4v4.8M1348.2 852.3h4.8m-2.4-2.4v4.8M1208.7 892.4h4.8m-2.4-2.4v4.8M1393.9 933.2h4.8m-2.4-2.4v4.8M1313.1 958.7h4.8m-2.4-2.4v4.8M1316.5 901.4h4.8m-2.4-2.4v4.8M1387.3 951h4.8m-2.4-2.4v4.8M1285.5 818.6h4.8m-2.4-2.4v4.8M1327.1 817.5h4.8m-2.4-2.4v4.8M1319.4 888h4.8m-2.4-2.4v4.8M1320.3 990.1h4.8m-2.4-2.4v4.8M1335.9 957.9h4.8m-2.4-2.4v4.8M1324.9 826.3h4.8m-2.4-2.4v4.8M1240.3 952.4h4.8m-2.4-2.4v4.8M1390.8 828.7h4.8m-2.4-2.4v4.8M1310.9 937.8h4.8m-2.4-2.4v4.8M1216 845.2h4.8m-2.4-2.4v4.8M1276.3 965h4.8m-2.4-2.4v4.8M1371.5 890h4.8m-2.4-2.4v4.8M1333.8 790h4.8m-2.4-2.4v4.8M1294.2 957.6h4.8m-2.4-2.4v4.8M1391.5 909.3h4.8m-2.4-2.4v4.8M1347.4 813.5h4.8m-2.4-2.4v4.8M1384.2 856.9h4.8m-2.4-2.4v4.8M1301 900.2h4.8m-2.4-2.4v4.8" stroke="#6baed6" stroke-width="2.3" fill="none"/><path d="M1347.4 861.7h4.8m-2.4-2.4v4.8M1244.4 977.1h4.8m-2.4-2.4v4.8M1333.3 838.2h4.8m-2.4-2.4v4.8M1241.3 830.6h4.8m-2.4-2.4v4.8M1246.6 903.7h4.8m-2.4-2.4v4.8M1276.9 985.7h4.8m-2.4-2.4v4.8M1391.8 924.8h4.8m-2.4-2.4v4.8M1222.6 874.7h4.8m-2.4-2.4v4.8M1199.5 856.6h4.8m-2.4-2.4v4.8M1286.7 993.4h4.8m-2.4-2.4v4.8M1243.7 915.6h4.8m-2.4-2.4v4.8M1353.1 925h4.8m-2.4-2.4v4.8M1265 990.6h4.8m-2.4-2.4v4.8M1346.1 874.4h4.8m-2.4-2.4v4.8M1351.8 794.7h4.8m-2.4-2.4v4.8M1368.5 961.4h4.8m-2.4-2.4v4.8M1204.8 908.6h4.8m-2.4-2.4v4.8M1201.1 957.9h4.8m-2.4-2.4v4.8M1235.6 989.1h4.8m-2.4-2.4v4.8M1371 979.1h4.8m-2.4-2.4v4.8M1345.6 865h4.8m-2.4-2.4v4.8M1303.7 840.9h4.8m-2.4-2.4v4.8M1336.1 866.8h4.8m-2.4-2.4v4.8M1207.2 959.3h4.8m-2.4-2.4v4.8M1263.7 929.9h4.8m-2.4-2.4v4.8M1214.1 924.4h4.8m-2.4-2.4v4.8M1234.8 863.2h4.8m-2.4-2.4v4.8M1378.3 969.7h4.8m-2.4-2.4v4.8M1387.3 886.3h4.8m-2.4-2.4v4.8M1335.1 907.5h4.8m-2.4-2.4v4.8M1304.3 917.8h4.8m-2.4-2.4v4.8M1285.3 884.2h4.8m-2.4-2.4v4.8M1384.9 877.5h4.8m-2.4-2.4v4.8M1377.6 894.9h4.8m-2.4-2.4v4.8M1352 803.7h4.8m-2.4-2.4v4.8M1273.4 877.1h4.8m-2.4-2.4v4.8M1241.7 964.6h4.8m-2.4-2.4v4.8M1348.8 847.3h4.8m-2.4-2.4v4.8M1309.1 998.3h4.8m-2.4-2.4v4.8M1194.5 940.1h4.8m-2.4-2.4v4.8M1397.1 895h4.8m-2.4-2.4v4.8M1225.7 881h4.8m-2.4-2.4v4.8M1183.8 905.8h4.8m-2.4-2.4v4.8M1362.2 873.9h4.8m-2.4-2.4v4.8M1280.3 942.8h4.8m-2.4-2.4v4.8M1269.5 796.5h4.8m-2.4-2.4v4.8M1220.9 814.1h4.8m-2.4-2.4v4.8M1264.9 836.8h4.8m-2.4-2.4v4.8M1313.4 894.3h4.8m-2.4-2.4v4.8M1234.4 841.8h4.8m-2.4-2.4v4.8M1225.8 956.1h4.8m-2.4-2.4v4.8M1209.7 848.7h4.8m-2.4-2.4v4.8M1250.6 879.5h4.8m-2.4-2.4v4.8M1301.4 904.7h4.8m-2.4-2.4v4.8M1298.4 897.7h4.8m-2.4-2.4v4.8M1351.7 919.5h4.8m-2.4-2.4v4.8M1207.3 874.7h4.8m-2.4-2.4v4.8M1399.1 941.6h4.8m-2.4-2.4v4.8M1241.5 884.8h4.8m-2.4-2.4v4.8M1324.2 887.1h4.8m-2.4-2.4v4.8M1340.2 947.2h4.8m-2.4-2.4v4.8M1308.5 891.4h4.8m-2.4-2.4v4.8M1297.3 968.8h4.8m-2.4-2.4v4.8M1272.7 946.1h4.8m-2.4-2.4v4.8M1279.6 933.1h4.8m-2.4-2.4v4.8M1351.2 1008.5h4.8m-2.4-2.4v4.8M1210.5 856.7h4.8m-2.4-2.4v4.8M1221.8 912.9h4.8m-2.4-2.4v4.8M1340.8 854h4.8m-2.4-2.4v4.8M1292.9 899.5h4.8m-2.4-2.4v4.8M1253.7 977.3h4.8m-2.4-2.4v4.8M1256.5 944.7h4.8m-2.4-2.4v4.8M1316.4 885.9h4.8m-2.4-2.4v4.8M1258.3 894.1h4.8m-2.4-2.4v4.8M1188.8 873h4.8m-2.4-2.4v4.8M1366.1 838.4h4.8m-2.4-2.4v4.8M1200.2 882.2h4.8m-2.4-2.4v4.8M1193.1 894.5h4.8m-2.4-2.4v4.8M1309.7 792.5h4.8m-2.4-2.4v4.8M1250.8 861.6h4.8m-2.4-2.4v4.8M1269 954.6h4.8m-2.4-2.4v4.8M1307.6 966.2h4.8m-2.4-2.4v4.8M1236.3 960.6h4.8m-2.4-2.4v4.8M1223.5 920.4h4.8m-2.4-2.4v4.8M1310.3 1013.3h4.8m-2.4-2.4v4.8M1199.2 899.5h4.8m-2.4-2.4v4.8M1310.8 809.9h4.8m-2.4-2.4v4.8M1302.2 933.8h4.8m-2.4-2.4v4.8M1348.2 902h4.8m-2.4-2.4v4.8M1287 983.4h4.8m-2.4-2.4v4.8M1266.7 913.8h4.8m-2.4-2.4v4.8M1320.9 892.3h4.8m-2.4-2.4v4.8M1199.7 892.3h4.8m-2.4-2.4v4.8M1190.9 874.8h4.8m-2.4-2.4v4.8M1293 804.4h4.8m-2.4-2.4v4.8M1293.6 793.8h4.8m-2.4-2.4v4.8M1329.7 827.7h4.8m-2.4-2.4v4.8M1252.6 893.1h4.8m-2.4-2.4v4.8M1295.2 943.5h4.8m-2.4-2.4v4.8M1339.3 1000.4h4.8m-2.4-2.4v4.8M1309.4 932.9h4.8m-2.4-2.4v4.8M1294.1 796.9h4.8m-2.4-2.4v4.8M1249.9 794h4.8m-2.4-2.4v4.8M1390.1 889h4.8m-2.4-2.4v4.8M1315.4 854.1h4.8m-2.4-2.4v4.8M1386.2 925.6h4.8m-2.4-2.4v4.8M1230 894h4.8m-2.4-2.4v4.8M1351.2 906.6h4.8m-2.4-2.4v4.8M1197.4 939.5h4.8m-2.4-2.4v4.8M1301.1 946.9h4.8m-2.4-2.4v4.8M1392.8 857.7h4.8m-2.4-2.4v4.8M1272.6 919.2h4.8m-2.4-2.4v4.8M1296.3 958.4h4.8m-2.4-2.4v4.8M1352.7 943.2h4.8m-2.4-2.4v4.8M1215 955.8h4.8m-2.4-2.4v4.8M1390.5 867.5h4.8m-2.4-2.4v4.8M1326.3 935.9h4.8m-2.4-2.4v4.8M1367.9 858.4h4.8m-2.4-2.4v4.8" stroke="#56a0ce" stroke-width="2.3" fill="none"/><path d="M1246.7 944.1h4.8m-2.4-2.4v4.8M1273.2 938.2h4.8m-2.4-2.4v4.8M1280.2 884.7h4.8m-2.4-2.4v4.8M1193.9 874h4.8m-2.4-2.4v4.8M1332.8 996.1h4.8m-2.4-2.4v4.8M1344.4 1000.6h4.8m-2.4-2.4v4.8M1347.4 942.1h4.8m-2.4-2.4v4.8M1354.2 900.1h4.8m-2.4-2.4v4.8M1377.8 976.6h4.8m-2.4-2.4v4.8M1185.3 893.2h4.8m-2.4-2.4v4.8M1277.6 866.1h4.8m-2.4-2.4v4.8M1208.7 928.4h4.8m-2.4-2.4v4.8M1356.3 831.6h4.8m-2.4-2.4v4.8M1247.9 783.7h4.8m-2.4-2.4v4.8M1243 972.8h4.8m-2.4-2.4v4.8M1316.8 944.2h4.8m-2.4-2.4v4.8M1246.7 804.4h4.8m-2.4-2.4v4.8M1363.6 911.4h4.8m-2.4-2.4v4.8M1194.6 864.6h4.8m-2.4-2.4v4.8M1239 984.5h4.8m-2.4-2.4v4.8M1380.1 926.8h4.8m-2.4-2.4v4.8M1237.3 843.1h4.8m-2.4-2.4v4.8M1205.2 926.8h4.8m-2.4-2.4v4.8M1397.2 963.1h4.8m-2.4-2.4v4.8M1282.5 901h4.8m-2.4-2.4v4.8M1236.4 904.7h4.8m-2.4-2.4v4.8M1261.7 872.8h4.8m-2.4-2.4v4.8M1254.2 909.3h4.8m-2.4-2.4v4.8M1217 899.9h4.8m-2.4-2.4v4.8M1298.9 971.1h4.8m-2.4-2.4v4.8M1240.7 954.8h4.8m-2.4-2.4v4.8M1354.4 907.7h4.8m-2.4-2.4v4.8M1202.5 877h4.8m-2.4-2.4v4.8M1220.3 966.6h4.8m-2.4-2.4v4.8M1250.6 927.9h4.8m-2.4-2.4v4.8M1293.1 880.2h4.8m-2.4-2.4v4.8M1327.9 963h4.8m-2.4-2.4v4.8M1359.4 866.6h4.8m-2.4-2.4v4.8M1313.7 801.1h4.8m-2.4-2.4v4.8M1252.3 960.3h4.8m-2.4-2.4v4.8M1316.5 995.3h4.8m-2.4-2.4v4.8M1356.4 868.4h4.8m-2.4-2.4v4.8M1363.8 935.6h4.8m-2.4-2.4v4.8M1251.4 966.1h4.8m-2.4-2.4v4.8M1206 837.2h4.8m-2.4-2.4v4.8M1266.9 827.8h4.8m-2.4-2.4v4.8M1358.9 930.8h4.8m-2.4-2.4v4.8M1259.8 955.4h4.8m-2.4-2.4v4.8M1385.4 865.9h4.8m-2.4-2.4v4.8M1246.6 993.1h4.8m-2.4-2.4v4.8M1363.5 900.9h4.8m-2.4-2.4v4.8M1333.6 888.8h4.8m-2.4-2.4v4.8M1301.6 971.1h4.8m-2.4-2.4v4.8M1342.9 982.6h4.8m-2.4-2.4v4.8M1247.4 952.5h4.8m-2.4-2.4v4.8M1211.4 961.5h4.8m-2.4-2.4v4.8M1348.5 992.3h4.8m-2.4-2.4v4.8M1254 995.1h4.8m-2.4-2.4v4.8M1304.7 961.6h4.8m-2.4-2.4v4.8M1184.5 918.3h4.8m-2.4-2.4v4.8M1359.4 948h4.8m-2.4-2.4v4.8M1202.8 929.3h4.8m-2.4-2.4v4.8M1349.8 998.6h4.8m-2.4-2.4v4.8M1298.2 894.3h4.8m-2.4-2.4v4.8M1392.4 874.6h4.8m-2.4-2.4v4.8M1277.8 937.6h4.8m-2.4-2.4v4.8M1231 948.7h4.8m-2.4-2.4v4.8M1204.8 915.3h4.8m-2.4-2.4v4.8M1364.1 925.4h4.8m-2.4-2.4v4.8M1387.9 871.2h4.8m-2.4-2.4v4.8M1326.9 977.2h4.8m-2.4-2.4v4.8M1322.4 917.5h4.8m-2.4-2.4v4.8M1307.6 898.7h4.8m-2.4-2.4v4.8M1353.7 953h4.8m-2.4-2.4v4.8M1241.2 989.1h4.8m-2.4-2.4v4.8M1318.5 968.8h4.8m-2.4-2.4v4.8M1265.3 897.5h4.8m-2.4-2.4v4.8M1358 990.7h4.8m-2.4-2.4v4.8M1367.9 918.7h4.8m-2.4-2.4v4.8M1224.9 878.5h4.8m-2.4-2.4v4.8M1354 963.8h4.8m-2.4-2.4v4.8M1372.4 922.9h4.8m-2.4-2.4v4.8M1378.6 952.2h4.8m-2.4-2.4v4.8M1202.7 914.3h4.8m-2.4-2.4v4.8M1250.6 944.7h4.8m-2.4-2.4v4.8M1343.2 941.6h4.8m-2.4-2.4v4.8M1317.3 933.6h4.8m-2.4-2.4v4.8M1262.3 993.2h4.8m-2.4-2.4v4.8M1406.6 949h4.8m-2.4-2.4v4.8M1324 966.4h4.8m-2.4-2.4v4.8M1349 869.4h4.8m-2.4-2.4v4.8M1236.1 823.8h4.8m-2.4-2.4v4.8M1279.3 910.8h4.8m-2.4-2.4v4.8M1399.1 929h4.8m-2.4-2.4v4.8M1386.6 963.7h4.8m-2.4-2.4v4.8M1311.5 845.5h4.8m-2.4-2.4v4.8M1328.2 1000.2h4.8m-2.4-2.4v4.8M1356 932.3h4.8m-2.4-2.4v4.8M1383.6 962.7h4.8m-2.4-2.4v4.8M1225.7 944.2h4.8m-2.4-2.4v4.8M1304.2 921.2h4.8m-2.4-2.4v4.8M1226.4 936.6h4.8m-2.4-2.4v4.8M1353.4 921.7h4.8m-2.4-2.4v4.8M1282.4 906.1h4.8m-2.4-2.4v4.8M1339.8 867.8h4.8m-2.4-2.4v4.8M1340 833.2h4.8m-2.4-2.4v4.8M1220.9 909.7h4.8m-2.4-2.4v4.8M1289.2 861.4h4.8m-2.4-2.4v4.8M1386.1 919.6h4.8m-2.4-2.4v4.8M1214.1 889.8h4.8m-2.4-2.4v4.8M1225.4 895.2h4.8m-2.4-2.4v4.8M1232.3 940.2h4.8m-2.4-2.4v4.8M1390.1 977.3h4.8m-2.4-2.4v4.8M1336.2 801.6h4.8m-2.4-2.4v4.8M1310 880.5h4.8m-2.4-2.4v4.8M1376.2 931h4.8m-2.4-2.4v4.8M1194.9 933.8h4.8m-2.4-2.4v4.8M1244.3 919.9h4.8m-2.4-2.4v4.8" stroke="#4292c6" stroke-width="2.3" fill="none"/><path d="M1363.4 855.7h4.8m-2.4-2.4v4.8M1269.5 910.6h4.8m-2.4-2.4v4.8M1332.2 932h4.8m-2.4-2.4v4.8M1321.9 1015.9h4.8m-2.4-2.4v4.8M1362.7 952.7h4.8m-2.4-2.4v4.8M1191.3 903.6h4.8m-2.4-2.4v4.8M1383.4 884.4h4.8m-2.4-2.4v4.8M1212.7 910.9h4.8m-2.4-2.4v4.8M1192.8 862.2h4.8m-2.4-2.4v4.8M1379.6 985.3h4.8m-2.4-2.4v4.8M1354.3 929.9h4.8m-2.4-2.4v4.8M1311 957.7h4.8m-2.4-2.4v4.8M1216.6 958.9h4.8m-2.4-2.4v4.8M1244 876.4h4.8m-2.4-2.4v4.8M1196.1 893.6h4.8m-2.4-2.4v4.8M1382.2 925.4h4.8m-2.4-2.4v4.8M1294.4 923.2h4.8m-2.4-2.4v4.8M1360.6 927.6h4.8m-2.4-2.4v4.8M1307.5 936.6h4.8m-2.4-2.4v4.8M1302.1 951.8h4.8m-2.4-2.4v4.8M1235 866.6h4.8m-2.4-2.4v4.8M1296.4 956.1h4.8m-2.4-2.4v4.8M1381.2 959.6h4.8m-2.4-2.4v4.8M1279.2 900.8h4.8m-2.4-2.4v4.8M1280.9 832.8h4.8m-2.4-2.4v4.8M1205.2 958.8h4.8m-2.4-2.4v4.8M1376.2 878.6h4.8m-2.4-2.4v4.8M1328.7 894.3h4.8m-2.4-2.4v4.8M1229.6 865.4h4.8m-2.4-2.4v4.8M1307 946.7h4.8m-2.4-2.4v4.8M1304.4 825.6h4.8m-2.4-2.4v4.8M1351 967.7h4.8m-2.4-2.4v4.8M1342.1 889h4.8m-2.4-2.4v4.8M1289.4 873h4.8m-2.4-2.4v4.8M1365.2 983.9h4.8m-2.4-2.4v4.8M1357.8 944.3h4.8m-2.4-2.4v4.8M1337.6 985.3h4.8m-2.4-2.4v4.8M1314.5 928.3h4.8m-2.4-2.4v4.8M1233.1 864.9h4.8m-2.4-2.4v4.8M1221.7 915.4h4.8m-2.4-2.4v4.8M1341.8 811.7h4.8m-2.4-2.4v4.8M1275.9 894.2h4.8m-2.4-2.4v4.8M1249.2 961.6h4.8m-2.4-2.4v4.8M1382.9 897.1h4.8m-2.4-2.4v4.8M1319.5 867.5h4.8m-2.4-2.4v4.8M1276.7 914.1h4.8m-2.4-2.4v4.8M1210.2 877h4.8m-2.4-2.4v4.8M1285.8 941.4h4.8m-2.4-2.4v4.8M1299.3 959.2h4.8m-2.4-2.4v4.8M1297 1014.4h4.8m-2.4-2.4v4.8M1398.4 855.5h4.8m-2.4-2.4v4.8M1185.1 931.2h4.8m-2.4-2.4v4.8M1282.9 969.5h4.8m-2.4-2.4v4.8M1326.4 927h4.8m-2.4-2.4v4.8M1254.9 960.8h4.8m-2.4-2.4v4.8M1311.4 1002.4h4.8m-2.4-2.4v4.8M1223 870.4h4.8m-2.4-2.4v4.8M1246.8 920.2h4.8m-2.4-2.4v4.8M1274 983h4.8m-2.4-2.4v4.8M1312.5 913.2h4.8m-2.4-2.4v4.8M1246.8 894.2h4.8m-2.4-2.4v4.8M1397.7 968.4h4.8m-2.4-2.4v4.8M1327.1 981.8h4.8m-2.4-2.4v4.8M1206.6 964h4.8m-2.4-2.4v4.8M1385.9 930h4.8m-2.4-2.4v4.8M1322.1 896.9h4.8m-2.4-2.4v4.8M1193.3 877.1h4.8m-2.4-2.4v4.8M1325.7 958.3h4.8m-2.4-2.4v4.8M1192 939.8h4.8m-2.4-2.4v4.8M1370.8 984.5h4.8m-2.4-2.4v4.8M1324.5 940.2h4.8m-2.4-2.4v4.8M1217.2 978h4.8m-2.4-2.4v4.8M1376.3 937.1h4.8m-2.4-2.4v4.8M1325 890.4h4.8m-2.4-2.4v4.8M1188.8 897.2h4.8m-2.4-2.4v4.8M1269.2 1000.8h4.8m-2.4-2.4v4.8M1371 931.6h4.8m-2.4-2.4v4.8M1240.2 979.2h4.8m-2.4-2.4v4.8M1304.8 972.8h4.8m-2.4-2.4v4.8M1286.9 1005.7h4.8m-2.4-2.4v4.8M1215.2 908.1h4.8m-2.4-2.4v4.8M1339.7 957.7h4.8m-2.4-2.4v4.8M1255.2 904.3h4.8m-2.4-2.4v4.8M1212.5 937.6h4.8m-2.4-2.4v4.8M1402.7 952.8h4.8m-2.4-2.4v4.8M1378.9 915.3h4.8m-2.4-2.4v4.8M1265.4 1000.5h4.8m-2.4-2.4v4.8M1338.2 971.7h4.8m-2.4-2.4v4.8M1382 985.7h4.8m-2.4-2.4v4.8M1379.1 958.7h4.8m-2.4-2.4v4.8M1322 861.8h4.8m-2.4-2.4v4.8M1199.5 926.2h4.8m-2.4-2.4v4.8M1383.8 904.5h4.8m-2.4-2.4v4.8M1262 999.4h4.8m-2.4-2.4v4.8M1331 966.9h4.8m-2.4-2.4v4.8M1318.3 988.8h4.8m-2.4-2.4v4.8M1345.3 991.1h4.8m-2.4-2.4v4.8M1383.2 929.9h4.8m-2.4-2.4v4.8M1181.7 894.7h4.8m-2.4-2.4v4.8M1288.7 990.1h4.8m-2.4-2.4v4.8M1247 889.3h4.8m-2.4-2.4v4.8M1372.9 915.8h4.8m-2.4-2.4v4.8M1292.1 950.3h4.8m-2.4-2.4v4.8M1271.4 802.7h4.8m-2.4-2.4v4.8M1297.9 920.5h4.8m-2.4-2.4v4.8M1318.4 898.2h4.8m-2.4-2.4v4.8M1381 929.3h4.8m-2.4-2.4v4.8M1353.9 1003.8h4.8m-2.4-2.4v4.8M1326.1 989.2h4.8m-2.4-2.4v4.8M1373.8 870.1h4.8m-2.4-2.4v4.8M1348.6 925.8h4.8m-2.4-2.4v4.8M1374.5 926.5h4.8m-2.4-2.4v4.8M1349.2 948.9h4.8m-2.4-2.4v4.8M1256.4 793.2h4.8m-2.4-2.4v4.8M1350.5 885.4h4.8m-2.4-2.4v4.8M1373.5 952.7h4.8m-2.4-2.4v4.8" stroke="#3282be" stroke-width="2.3" fill="none"/><path d="M1200.9 963.5h4.8m-2.4-2.4v4.8M1342.2 964.6h4.8m-2.4-2.4v4.8M1385.4 871.2h4.8m-2.4-2.4v4.8M1230.2 970.1h4.8m-2.4-2.4v4.8M1231.9 902.4h4.8m-2.4-2.4v4.8M1223.3 942.9h4.8m-2.4-2.4v4.8M1202.9 906.3h4.8m-2.4-2.4v4.8M1297.4 1010.5h4.8m-2.4-2.4v4.8M1345.5 998.6h4.8m-2.4-2.4v4.8M1383.5 944.9h4.8m-2.4-2.4v4.8M1359.9 916.3h4.8m-2.4-2.4v4.8M1265.5 977.3h4.8m-2.4-2.4v4.8M1268.2 949.9h4.8m-2.4-2.4v4.8M1305.9 964.1h4.8m-2.4-2.4v4.8M1245.2 958.3h4.8m-2.4-2.4v4.8M1293.8 910.4h4.8m-2.4-2.4v4.8M1395.1 921.1h4.8m-2.4-2.4v4.8M1363.6 982.4h4.8m-2.4-2.4v4.8M1290.4 909.9h4.8m-2.4-2.4v4.8M1313.4 950.5h4.8m-2.4-2.4v4.8M1391 919.3h4.8m-2.4-2.4v4.8M1325.2 1012.5h4.8m-2.4-2.4v4.8M1290.2 943.8h4.8m-2.4-2.4v4.8M1192.7 928.4h4.8m-2.4-2.4v4.8M1387.4 894.1h4.8m-2.4-2.4v4.8M1190 924.1h4.8m-2.4-2.4v4.8M1345.1 955.6h4.8m-2.4-2.4v4.8M1329 1014.3h4.8m-2.4-2.4v4.8M1269.5 859.3h4.8m-2.4-2.4v4.8M1239.4 930.2h4.8m-2.4-2.4v4.8M1288.6 1004h4.8m-2.4-2.4v4.8M1381.1 944.3h4.8m-2.4-2.4v4.8M1342.5 896.7h4.8m-2.4-2.4v4.8M1362.8 967.5h4.8m-2.4-2.4v4.8M1362.3 914.7h4.8m-2.4-2.4v4.8M1258.4 882.6h4.8m-2.4-2.4v4.8M1298.7 999h4.8m-2.4-2.4v4.8M1306.3 1001.2h4.8m-2.4-2.4v4.8M1287.6 988h4.8m-2.4-2.4v4.8M1311.8 986.6h4.8m-2.4-2.4v4.8M1378.8 901.5h4.8m-2.4-2.4v4.8M1365.3 880.9h4.8m-2.4-2.4v4.8M1266.5 998h4.8m-2.4-2.4v4.8M1252.1 969h4.8m-2.4-2.4v4.8M1389.8 980.6h4.8m-2.4-2.4v4.8M1316.4 1002h4.8m-2.4-2.4v4.8M1273.7 888.8h4.8m-2.4-2.4v4.8M1383.8 977.6h4.8m-2.4-2.4v4.8M1384.7 910.5h4.8m-2.4-2.4v4.8M1247.5 853.9h4.8m-2.4-2.4v4.8M1350.2 1005.3h4.8m-2.4-2.4v4.8M1320.9 935.2h4.8m-2.4-2.4v4.8M1336.4 940.4h4.8m-2.4-2.4v4.8M1327.3 991.9h4.8m-2.4-2.4v4.8M1327.4 907.6h4.8m-2.4-2.4v4.8M1268 978.3h4.8m-2.4-2.4v4.8M1330 969.7h4.8m-2.4-2.4v4.8M1297.2 909.5h4.8m-2.4-2.4v4.8M1264.1 946.4h4.8m-2.4-2.4v4.8M1217.6 914.9h4.8m-2.4-2.4v4.8M1256.1 885.5h4.8m-2.4-2.4v4.8M1210.8 967.7h4.8m-2.4-2.4v4.8M1368.9 952.6h4.8m-2.4-2.4v4.8M1199.1 921.4h4.8m-2.4-2.4v4.8M1315.4 1009.2h4.8m-2.4-2.4v4.8M1356.4 962.1h4.8m-2.4-2.4v4.8M1331.4 935.9h4.8m-2.4-2.4v4.8M1268.2 942.7h4.8m-2.4-2.4v4.8M1216.3 966.3h4.8m-2.4-2.4v4.8M1396.3 941.1h4.8m-2.4-2.4v4.8M1223.3 866.1h4.8m-2.4-2.4v4.8M1367.4 908.8h4.8m-2.4-2.4v4.8M1369.4 893.4h4.8m-2.4-2.4v4.8M1313.4 872.2h4.8m-2.4-2.4v4.8M1266 833.6h4.8m-2.4-2.4v4.8M1225 903h4.8m-2.4-2.4v4.8M1283.4 937.3h4.8m-2.4-2.4v4.8M1301 1009.7h4.8m-2.4-2.4v4.8M1235.6 949.9h4.8m-2.4-2.4v4.8M1261.6 942.7h4.8m-2.4-2.4v4.8M1212.4 975.2h4.8m-2.4-2.4v4.8M1299.6 916.7h4.8m-2.4-2.4v4.8M1321.8 925.4h4.8m-2.4-2.4v4.8M1385 950.2h4.8m-2.4-2.4v4.8M1353 811h4.8m-2.4-2.4v4.8M1401.8 939.5h4.8m-2.4-2.4v4.8M1312.9 988.8h4.8m-2.4-2.4v4.8M1317.2 1016.4h4.8m-2.4-2.4v4.8M1266.5 921.9h4.8m-2.4-2.4v4.8M1281.1 865.1h4.8m-2.4-2.4v4.8M1375.8 943.9h4.8m-2.4-2.4v4.8M1278.8 990.2h4.8m-2.4-2.4v4.8M1291.4 896.1h4.8m-2.4-2.4v4.8M1277.7 940.5h4.8m-2.4-2.4v4.8M1288 1011.2h4.8m-2.4-2.4v4.8M1181.9 909.3h4.8m-2.4-2.4v4.8M1242.6 981h4.8m-2.4-2.4v4.8M1366.9 864.9h4.8m-2.4-2.4v4.8" stroke="#2171b5" stroke-width="2.3" fill="none"/><path d="M1320.6 949.2h4.8m-2.4-2.4v4.8M1323.9 926.8h4.8m-2.4-2.4v4.8M1367.1 978.6h4.8m-2.4-2.4v4.8M1344.6 903.3h4.8m-2.4-2.4v4.8M1215.1 973.4h4.8m-2.4-2.4v4.8M1281 946.3h4.8m-2.4-2.4v4.8M1332.2 951.6h4.8m-2.4-2.4v4.8M1337.6 1003.8h4.8m-2.4-2.4v4.8M1248.9 980.4h4.8m-2.4-2.4v4.8M1328.1 1005h4.8m-2.4-2.4v4.8M1283.9 1000.1h4.8m-2.4-2.4v4.8M1267.6 965.5h4.8m-2.4-2.4v4.8M1345.4 977.9h4.8m-2.4-2.4v4.8M1318 952.8h4.8m-2.4-2.4v4.8M1377.3 963.9h4.8m-2.4-2.4v4.8M1326.7 913.9h4.8m-2.4-2.4v4.8M1276.7 1008h4.8m-2.4-2.4v4.8M1245 983.9h4.8m-2.4-2.4v4.8M1352.5 982.3h4.8m-2.4-2.4v4.8M1375.5 981.9h4.8m-2.4-2.4v4.8M1257.4 989.8h4.8m-2.4-2.4v4.8M1213.2 964.6h4.8m-2.4-2.4v4.8M1345.5 1005.4h4.8m-2.4-2.4v4.8M1197.8 954.5h4.8m-2.4-2.4v4.8M1268.2 865.4h4.8m-2.4-2.4v4.8M1252.4 991.2h4.8m-2.4-2.4v4.8M1249 968h4.8m-2.4-2.4v4.8M1252.2 955.4h4.8m-2.4-2.4v4.8M1359.3 951.8h4.8m-2.4-2.4v4.8M1266.4 960.8h4.8m-2.4-2.4v4.8M1237.8 944.8h4.8m-2.4-2.4v4.8M1317.8 950.4h4.8m-2.4-2.4v4.8M1184.3 924.6h4.8m-2.4-2.4v4.8M1303.4 976.1h4.8m-2.4-2.4v4.8M1295.7 895h4.8m-2.4-2.4v4.8M1222.9 976.1h4.8m-2.4-2.4v4.8M1388.1 971.8h4.8m-2.4-2.4v4.8M1298.4 922.9h4.8m-2.4-2.4v4.8M1293.9 1015.8h4.8m-2.4-2.4v4.8M1233.3 904.2h4.8m-2.4-2.4v4.8M1236 930.9h4.8m-2.4-2.4v4.8M1291.1 977h4.8m-2.4-2.4v4.8M1306.2 984.3h4.8m-2.4-2.4v4.8M1240.3 986.4h4.8m-2.4-2.4v4.8M1191.1 942.5h4.8m-2.4-2.4v4.8M1400.2 926.7h4.8m-2.4-2.4v4.8M1395.2 891h4.8m-2.4-2.4v4.8M1199.6 955.9h4.8m-2.4-2.4v4.8M1260.2 907.7h4.8m-2.4-2.4v4.8M1322.6 1003.2h4.8m-2.4-2.4v4.8M1232.3 986.8h4.8m-2.4-2.4v4.8M1348.1 911.2h4.8m-2.4-2.4v4.8M1269.9 1004.8h4.8m-2.4-2.4v4.8" stroke="#1461a8" stroke-width="2.3" fill="none"/><path d="M1215.1 942.2h4.8m-2.4-2.4v4.8M1253.5 940h4.8m-2.4-2.4v4.8M1214.4 896h4.8m-2.4-2.4v4.8M1362.8 996.4h4.8m-2.4-2.4v4.8M1207.6 971.7h4.8m-2.4-2.4v4.8M1344.7 974.7h4.8m-2.4-2.4v4.8M1232.5 983.4h4.8m-2.4-2.4v4.8M1205.5 912.9h4.8m-2.4-2.4v4.8M1285.3 978h4.8m-2.4-2.4v4.8M1281.6 991.7h4.8m-2.4-2.4v4.8M1283.6 1002.5h4.8m-2.4-2.4v4.8M1206.7 954.7h4.8m-2.4-2.4v4.8M1336 1010.6h4.8m-2.4-2.4v4.8M1240 957.8h4.8m-2.4-2.4v4.8M1263.5 923.4h4.8m-2.4-2.4v4.8M1309.1 1005.4h4.8m-2.4-2.4v4.8M1326.1 1015.5h4.8m-2.4-2.4v4.8M1330.2 997.6h4.8m-2.4-2.4v4.8M1290.8 948h4.8m-2.4-2.4v4.8M1273.3 975.8h4.8m-2.4-2.4v4.8M1320.4 1014.1h4.8m-2.4-2.4v4.8M1294.3 915.9h4.8m-2.4-2.4v4.8M1230.1 935.1h4.8m-2.4-2.4v4.8M1393.5 949.3h4.8m-2.4-2.4v4.8M1394.2 967.3h4.8m-2.4-2.4v4.8M1310.4 1015.7h4.8m-2.4-2.4v4.8M1242.8 927.8h4.8m-2.4-2.4v4.8M1280.1 1009.4h4.8m-2.4-2.4v4.8" stroke="#08519c" stroke-width="2.3" fill="none"/><path d="M1310.4 990.7h4.8m-2.4-2.4v4.8M1379.3 992h4.8m-2.4-2.4v4.8M1307.8 1010.5h4.8m-2.4-2.4v4.8M1312.6 999.7h4.8m-2.4-2.4v4.8M1402.8 930.2h4.8m-2.4-2.4v4.8M1270.7 977.3h4.8m-2.4-2.4v4.8M1290.9 955h4.8m-2.4-2.4v4.8M1393.9 962.8h4.8m-2.4-2.4v4.8M1244.2 974.7h4.8m-2.4-2.4v4.8M1351.6 999.9h4.8m-2.4-2.4v4.8M1336.3 999h4.8m-2.4-2.4v4.8M1250.8 932.8h4.8m-2.4-2.4v4.8M1245.6 955.8h4.8m-2.4-2.4v4.8M1229.4 975.5h4.8m-2.4-2.4v4.8M1220 976.7h4.8m-2.4-2.4v4.8M1307.7 959.8h4.8m-2.4-2.4v4.8" stroke="#084084" stroke-width="2.3" fill="none"/><path d="M1306.2 943.3h4.8m-2.4-2.4v4.8M1292.3 1000.9h4.8m-2.4-2.4v4.8M1216.3 939.8h4.8m-2.4-2.4v4.8M1393.3 975.3h4.8m-2.4-2.4v4.8M1355.7 989.3h4.8m-2.4-2.4v4.8M1336.4 995.3h4.8m-2.4-2.4v4.8M1332.5 1011.9h4.8m-2.4-2.4v4.8M1333.3 1019.1h4.8m-2.4-2.4v4.8M1291.1 960.7h4.8m-2.4-2.4v4.8M1320.9 964.9h4.8m-2.4-2.4v4.8" stroke="#08306b" stroke-width="2.3" fill="none"/><text x="777" y="1071.4" text-anchor="middle" font-size="29.5" font-style="italic" fill="#000">LEFTY2</text><path d="M686.4 1182.2h4.8m-2.4-2.4v4.8M749.8 1131.2h4.8m-2.4-2.4v4.8M687.6 1253.2h4.8m-2.4-2.4v4.8" stroke="#b2d2e8" stroke-width="2.3" fill="none"/><path d="M785.4 1262.6h4.8m-2.4-2.4v4.8M840.1 1272.2h4.8m-2.4-2.4v4.8" stroke="#9ecae1" stroke-width="2.3" fill="none"/><path d="M705.4 1140.3h4.8m-2.4-2.4v4.8M722.9 1256.4h4.8m-2.4-2.4v4.8M755 1180.6h4.8m-2.4-2.4v4.8M839.9 1117.6h4.8m-2.4-2.4v4.8M843.2 1313h4.8m-2.4-2.4v4.8M819.7 1120.8h4.8m-2.4-2.4v4.8M809 1220h4.8m-2.4-2.4v4.8M813 1203.7h4.8m-2.4-2.4v4.8M804.8 1122.5h4.8m-2.4-2.4v4.8M834.6 1149.9h4.8m-2.4-2.4v4.8M743.8 1160.4h4.8m-2.4-2.4v4.8M805.3 1116.4h4.8m-2.4-2.4v4.8M731.5 1276.8h4.8m-2.4-2.4v4.8M801.4 1232.9h4.8m-2.4-2.4v4.8M732.8 1148.2h4.8m-2.4-2.4v4.8M809.4 1314.3h4.8m-2.4-2.4v4.8M856 1302.9h4.8m-2.4-2.4v4.8M669.2 1172.3h4.8m-2.4-2.4v4.8M822.8 1257.3h4.8m-2.4-2.4v4.8M831.1 1167.8h4.8m-2.4-2.4v4.8M745 1198.8h4.8m-2.4-2.4v4.8M867.8 1279.7h4.8m-2.4-2.4v4.8M702 1252.3h4.8m-2.4-2.4v4.8M800.9 1176.3h4.8m-2.4-2.4v4.8M845.6 1190.9h4.8m-2.4-2.4v4.8M862.4 1160h4.8m-2.4-2.4v4.8M695.3 1293h4.8m-2.4-2.4v4.8M833.2 1252.2h4.8m-2.4-2.4v4.8M710.5 1254.3h4.8m-2.4-2.4v4.8M655.9 1224.6h4.8m-2.4-2.4v4.8M852.5 1252.2h4.8m-2.4-2.4v4.8M808.7 1149.5h4.8m-2.4-2.4v4.8" stroke="#84bcdc" stroke-width="2.3" fill="none"/><path d="M824.1 1317.3h4.8m-2.4-2.4v4.8M834.2 1215.1h4.8m-2.4-2.4v4.8M724.4 1156.6h4.8m-2.4-2.4v4.8M840 1127.8h4.8m-2.4-2.4v4.8M782.3 1122.6h4.8m-2.4-2.4v4.8M679.6 1198.5h4.8m-2.4-2.4v4.8M826.4 1237.3h4.8m-2.4-2.4v4.8M683.7 1244h4.8m-2.4-2.4v4.8M751.4 1226.8h4.8m-2.4-2.4v4.8M864.1 1195.3h4.8m-2.4-2.4v4.8M790.2 1281.6h4.8m-2.4-2.4v4.8M697.4 1145.2h4.8m-2.4-2.4v4.8M855.7 1284.5h4.8m-2.4-2.4v4.8M842.2 1255.5h4.8m-2.4-2.4v4.8M720.3 1099.5h4.8m-2.4-2.4v4.8M832.5 1298.7h4.8m-2.4-2.4v4.8M813.7 1196h4.8m-2.4-2.4v4.8M783.9 1283.4h4.8m-2.4-2.4v4.8M807.9 1209.3h4.8m-2.4-2.4v4.8M814.5 1222.7h4.8m-2.4-2.4v4.8M839.7 1181.1h4.8m-2.4-2.4v4.8M838 1156.5h4.8m-2.4-2.4v4.8M792.4 1114.6h4.8m-2.4-2.4v4.8M873.3 1253h4.8m-2.4-2.4v4.8M795.3 1311.9h4.8m-2.4-2.4v4.8M759 1089.3h4.8m-2.4-2.4v4.8M708.9 1179.4h4.8m-2.4-2.4v4.8M850.4 1134.1h4.8m-2.4-2.4v4.8M727.4 1220.7h4.8m-2.4-2.4v4.8M811.2 1238.3h4.8m-2.4-2.4v4.8M741.8 1150.9h4.8m-2.4-2.4v4.8M777.5 1135.4h4.8m-2.4-2.4v4.8M821.3 1266h4.8m-2.4-2.4v4.8M725.4 1284.2h4.8m-2.4-2.4v4.8M823.9 1237.7h4.8m-2.4-2.4v4.8M728.7 1271.3h4.8m-2.4-2.4v4.8M865.3 1290.7h4.8m-2.4-2.4v4.8M861.9 1180.9h4.8m-2.4-2.4v4.8M813.6 1163.4h4.8m-2.4-2.4v4.8M880.7 1257.3h4.8m-2.4-2.4v4.8M767.2 1202.9h4.8m-2.4-2.4v4.8M866.1 1301h4.8m-2.4-2.4v4.8M815.7 1315.6h4.8m-2.4-2.4v4.8M790.7 1168h4.8m-2.4-2.4v4.8M862.4 1157.5h4.8m-2.4-2.4v4.8M808.2 1194.4h4.8m-2.4-2.4v4.8M746 1270.6h4.8m-2.4-2.4v4.8M834 1279.9h4.8m-2.4-2.4v4.8M819.5 1282.9h4.8m-2.4-2.4v4.8M746.3 1317.5h4.8m-2.4-2.4v4.8M851.6 1247.2h4.8m-2.4-2.4v4.8M739.2 1309.7h4.8m-2.4-2.4v4.8M751.5 1215.7h4.8m-2.4-2.4v4.8M771 1117.9h4.8m-2.4-2.4v4.8M831.9 1165.3h4.8m-2.4-2.4v4.8M871 1252.8h4.8m-2.4-2.4v4.8M836.1 1247.8h4.8m-2.4-2.4v4.8M716.3 1302.8h4.8m-2.4-2.4v4.8M783.1 1131.5h4.8m-2.4-2.4v4.8M881.9 1242.2h4.8m-2.4-2.4v4.8M705.1 1291.7h4.8m-2.4-2.4v4.8M797.3 1167.2h4.8m-2.4-2.4v4.8M874.2 1172.1h4.8m-2.4-2.4v4.8M813.1 1103.3h4.8m-2.4-2.4v4.8M828 1226.4h4.8m-2.4-2.4v4.8M815.7 1115.1h4.8m-2.4-2.4v4.8M669.4 1249.4h4.8m-2.4-2.4v4.8" stroke="#6baed6" stroke-width="2.3" fill="none"/><path d="M744.5 1191.4h4.8m-2.4-2.4v4.8M750.5 1253.9h4.8m-2.4-2.4v4.8M656.8 1227.4h4.8m-2.4-2.4v4.8M784.6 1259.1h4.8m-2.4-2.4v4.8M866.5 1185.8h4.8m-2.4-2.4v4.8M811.5 1247.6h4.8m-2.4-2.4v4.8M665.7 1218.7h4.8m-2.4-2.4v4.8M847.6 1294.9h4.8m-2.4-2.4v4.8M775.4 1327.3h4.8m-2.4-2.4v4.8M842.5 1127.5h4.8m-2.4-2.4v4.8M792.3 1173h4.8m-2.4-2.4v4.8M714.1 1197.2h4.8m-2.4-2.4v4.8M770.2 1287.4h4.8m-2.4-2.4v4.8M789.5 1273.7h4.8m-2.4-2.4v4.8M674.2 1171h4.8m-2.4-2.4v4.8M784.3 1280.2h4.8m-2.4-2.4v4.8M751.6 1220.2h4.8m-2.4-2.4v4.8M856.6 1255.7h4.8m-2.4-2.4v4.8M844 1298.8h4.8m-2.4-2.4v4.8M720.2 1191h4.8m-2.4-2.4v4.8M792 1266.4h4.8m-2.4-2.4v4.8M690.2 1200h4.8m-2.4-2.4v4.8M865.7 1139.8h4.8m-2.4-2.4v4.8M820.4 1197.4h4.8m-2.4-2.4v4.8M851.6 1295.4h4.8m-2.4-2.4v4.8M791.3 1258.5h4.8m-2.4-2.4v4.8M826.1 1261.7h4.8m-2.4-2.4v4.8M815.6 1181.3h4.8m-2.4-2.4v4.8M754.5 1167h4.8m-2.4-2.4v4.8M696.4 1175.7h4.8m-2.4-2.4v4.8M790.4 1303h4.8m-2.4-2.4v4.8M832.9 1194.2h4.8m-2.4-2.4v4.8M885.8 1247.6h4.8m-2.4-2.4v4.8M807.4 1109.9h4.8m-2.4-2.4v4.8M787.2 1123h4.8m-2.4-2.4v4.8M691.6 1255.5h4.8m-2.4-2.4v4.8M874.1 1214.9h4.8m-2.4-2.4v4.8M753.7 1125.6h4.8m-2.4-2.4v4.8M884.5 1245.7h4.8m-2.4-2.4v4.8M868.7 1237.2h4.8m-2.4-2.4v4.8M853.2 1255.7h4.8m-2.4-2.4v4.8M793.2 1243.8h4.8m-2.4-2.4v4.8M825.1 1149.6h4.8m-2.4-2.4v4.8M727.9 1282.2h4.8m-2.4-2.4v4.8M713 1108.1h4.8m-2.4-2.4v4.8M727.4 1238.5h4.8m-2.4-2.4v4.8M728.9 1307.7h4.8m-2.4-2.4v4.8M815.9 1256.1h4.8m-2.4-2.4v4.8M875.9 1149.5h4.8m-2.4-2.4v4.8M761.2 1319.2h4.8m-2.4-2.4v4.8M681.6 1270.6h4.8m-2.4-2.4v4.8M734.1 1315h4.8m-2.4-2.4v4.8M817.2 1113.4h4.8m-2.4-2.4v4.8M719 1274.2h4.8m-2.4-2.4v4.8M860.9 1283.1h4.8m-2.4-2.4v4.8M710.3 1155.9h4.8m-2.4-2.4v4.8M759.6 1136.5h4.8m-2.4-2.4v4.8M693.6 1250.1h4.8m-2.4-2.4v4.8M809.7 1263h4.8m-2.4-2.4v4.8M780 1279.6h4.8m-2.4-2.4v4.8M685.2 1191.7h4.8m-2.4-2.4v4.8M662.9 1218.3h4.8m-2.4-2.4v4.8M800.6 1157.6h4.8m-2.4-2.4v4.8M815.4 1327.5h4.8m-2.4-2.4v4.8M825.8 1173.9h4.8m-2.4-2.4v4.8M821.3 1173h4.8m-2.4-2.4v4.8M713.8 1260.6h4.8m-2.4-2.4v4.8M810.7 1251.5h4.8m-2.4-2.4v4.8M804.3 1221.2h4.8m-2.4-2.4v4.8M806.8 1179.2h4.8m-2.4-2.4v4.8M730.1 1135.4h4.8m-2.4-2.4v4.8M850 1208.4h4.8m-2.4-2.4v4.8M786.1 1213.8h4.8m-2.4-2.4v4.8M833.8 1268.9h4.8m-2.4-2.4v4.8M791.1 1228.5h4.8m-2.4-2.4v4.8M736.8 1246h4.8m-2.4-2.4v4.8M753.4 1087.5h4.8m-2.4-2.4v4.8M822.1 1140.3h4.8m-2.4-2.4v4.8M825.7 1206.9h4.8m-2.4-2.4v4.8M805.2 1143.8h4.8m-2.4-2.4v4.8M738.9 1124.4h4.8m-2.4-2.4v4.8M788.8 1330.1h4.8m-2.4-2.4v4.8M820.5 1111h4.8m-2.4-2.4v4.8M745.5 1161.9h4.8m-2.4-2.4v4.8M752 1164.1h4.8m-2.4-2.4v4.8M764.8 1299.8h4.8m-2.4-2.4v4.8M777.7 1280.8h4.8m-2.4-2.4v4.8M845.4 1184.5h4.8m-2.4-2.4v4.8M682 1177.9h4.8m-2.4-2.4v4.8M848.7 1193.3h4.8m-2.4-2.4v4.8M827.8 1204.7h4.8m-2.4-2.4v4.8M731.5 1186.6h4.8m-2.4-2.4v4.8M748.8 1229.6h4.8m-2.4-2.4v4.8M855.6 1277.1h4.8m-2.4-2.4v4.8M884.4 1268.7h4.8m-2.4-2.4v4.8M756.8 1226.1h4.8m-2.4-2.4v4.8M784.5 1307.6h4.8m-2.4-2.4v4.8M764.7 1180.4h4.8m-2.4-2.4v4.8M859.8 1230.6h4.8m-2.4-2.4v4.8M807.4 1316.9h4.8m-2.4-2.4v4.8M853.9 1131.6h4.8m-2.4-2.4v4.8M875.4 1248.8h4.8m-2.4-2.4v4.8M814.5 1244h4.8m-2.4-2.4v4.8M773.1 1150.9h4.8m-2.4-2.4v4.8M831.4 1290.8h4.8m-2.4-2.4v4.8M800.7 1267.5h4.8m-2.4-2.4v4.8M791.5 1305.3h4.8m-2.4-2.4v4.8M796 1333.3h4.8m-2.4-2.4v4.8M807.2 1127.3h4.8m-2.4-2.4v4.8M743.5 1237.3h4.8m-2.4-2.4v4.8M783.8 1226.4h4.8m-2.4-2.4v4.8M794.1 1168.4h4.8m-2.4-2.4v4.8M655.7 1209.7h4.8m-2.4-2.4v4.8M774.4 1126.8h4.8m-2.4-2.4v4.8M710.2 1296.5h4.8m-2.4-2.4v4.8M746.2 1140.6h4.8m-2.4-2.4v4.8M765.1 1295.1h4.8m-2.4-2.4v4.8M748.5 1116.2h4.8m-2.4-2.4v4.8M786 1139.5h4.8m-2.4-2.4v4.8M855.3 1242h4.8m-2.4-2.4v4.8M865.3 1171.3h4.8m-2.4-2.4v4.8M707.7 1271.3h4.8m-2.4-2.4v4.8M784.9 1107.4h4.8m-2.4-2.4v4.8M738.3 1140.3h4.8m-2.4-2.4v4.8M756.5 1204.7h4.8m-2.4-2.4v4.8M879 1292.1h4.8m-2.4-2.4v4.8" stroke="#56a0ce" stroke-width="2.3" fill="none"/><path d="M821.9 1280.7h4.8m-2.4-2.4v4.8M737.6 1098.6h4.8m-2.4-2.4v4.8M713.9 1135.9h4.8m-2.4-2.4v4.8M868.1 1165.1h4.8m-2.4-2.4v4.8M845.2 1144.6h4.8m-2.4-2.4v4.8M719.4 1251.7h4.8m-2.4-2.4v4.8M812.6 1152.3h4.8m-2.4-2.4v4.8M818.4 1332.1h4.8m-2.4-2.4v4.8M775.8 1141.6h4.8m-2.4-2.4v4.8M867.4 1203.2h4.8m-2.4-2.4v4.8M864.5 1199.3h4.8m-2.4-2.4v4.8M689.5 1211h4.8m-2.4-2.4v4.8M824.5 1135h4.8m-2.4-2.4v4.8M695.5 1210h4.8m-2.4-2.4v4.8M834.3 1245.4h4.8m-2.4-2.4v4.8M842.3 1202.9h4.8m-2.4-2.4v4.8M680.7 1216.3h4.8m-2.4-2.4v4.8M764.4 1309.9h4.8m-2.4-2.4v4.8M799.6 1246.7h4.8m-2.4-2.4v4.8M872.4 1234.7h4.8m-2.4-2.4v4.8M828.5 1186.5h4.8m-2.4-2.4v4.8M799.2 1170.4h4.8m-2.4-2.4v4.8M868.6 1209.1h4.8m-2.4-2.4v4.8M680.9 1206.3h4.8m-2.4-2.4v4.8M664.4 1239.5h4.8m-2.4-2.4v4.8M824.9 1275.8h4.8m-2.4-2.4v4.8M680.1 1242.3h4.8m-2.4-2.4v4.8M761.5 1316.7h4.8m-2.4-2.4v4.8M716.9 1238.4h4.8m-2.4-2.4v4.8M708.8 1165.5h4.8m-2.4-2.4v4.8M780.3 1267.7h4.8m-2.4-2.4v4.8M777.7 1269.8h4.8m-2.4-2.4v4.8M672.8 1193.9h4.8m-2.4-2.4v4.8M823.2 1169.2h4.8m-2.4-2.4v4.8M738.5 1187.5h4.8m-2.4-2.4v4.8M730.8 1224.5h4.8m-2.4-2.4v4.8M784.7 1317.9h4.8m-2.4-2.4v4.8M858.2 1280h4.8m-2.4-2.4v4.8M814.8 1109.3h4.8m-2.4-2.4v4.8M708.4 1285.8h4.8m-2.4-2.4v4.8M793.2 1130.9h4.8m-2.4-2.4v4.8M710.9 1181.1h4.8m-2.4-2.4v4.8M760.8 1132.6h4.8m-2.4-2.4v4.8M716.9 1233.8h4.8m-2.4-2.4v4.8M802.7 1111h4.8m-2.4-2.4v4.8M686 1178.8h4.8m-2.4-2.4v4.8M709.4 1277.8h4.8m-2.4-2.4v4.8M736 1179.3h4.8m-2.4-2.4v4.8M823.9 1103.8h4.8m-2.4-2.4v4.8M858.5 1209.9h4.8m-2.4-2.4v4.8M808.7 1166.9h4.8m-2.4-2.4v4.8M831 1283.8h4.8m-2.4-2.4v4.8M728.6 1285.2h4.8m-2.4-2.4v4.8M863 1268.4h4.8m-2.4-2.4v4.8M778.4 1302.7h4.8m-2.4-2.4v4.8M882.3 1199.8h4.8m-2.4-2.4v4.8M830 1118.4h4.8m-2.4-2.4v4.8M844.3 1251.2h4.8m-2.4-2.4v4.8M838 1260h4.8m-2.4-2.4v4.8M696.1 1288.4h4.8m-2.4-2.4v4.8M792.4 1128h4.8m-2.4-2.4v4.8M784.8 1286.8h4.8m-2.4-2.4v4.8M872.2 1159.2h4.8m-2.4-2.4v4.8M852.6 1312.7h4.8m-2.4-2.4v4.8M753.3 1209.2h4.8m-2.4-2.4v4.8M839.1 1246.3h4.8m-2.4-2.4v4.8M719.7 1106h4.8m-2.4-2.4v4.8M799.8 1250.9h4.8m-2.4-2.4v4.8M786 1193.8h4.8m-2.4-2.4v4.8M759.2 1308.3h4.8m-2.4-2.4v4.8M771.1 1166.2h4.8m-2.4-2.4v4.8M716.4 1187.6h4.8m-2.4-2.4v4.8M769.9 1136h4.8m-2.4-2.4v4.8M830.9 1170.6h4.8m-2.4-2.4v4.8M806.4 1308.4h4.8m-2.4-2.4v4.8M782.2 1335h4.8m-2.4-2.4v4.8M779.8 1287.3h4.8m-2.4-2.4v4.8M809.2 1285.9h4.8m-2.4-2.4v4.8M730.3 1170.4h4.8m-2.4-2.4v4.8M799.6 1149h4.8m-2.4-2.4v4.8M814.7 1188.2h4.8m-2.4-2.4v4.8M875.3 1278.8h4.8m-2.4-2.4v4.8M741 1262.2h4.8m-2.4-2.4v4.8M658.6 1233.7h4.8m-2.4-2.4v4.8M777.5 1275.2h4.8m-2.4-2.4v4.8M859.2 1140.4h4.8m-2.4-2.4v4.8M799.7 1142.6h4.8m-2.4-2.4v4.8M787 1206.4h4.8m-2.4-2.4v4.8M859.8 1134.6h4.8m-2.4-2.4v4.8M822 1118.5h4.8m-2.4-2.4v4.8M831.6 1316.6h4.8m-2.4-2.4v4.8M818.4 1271.3h4.8m-2.4-2.4v4.8M758.1 1117.3h4.8m-2.4-2.4v4.8M794.5 1286.5h4.8m-2.4-2.4v4.8M786.4 1098.5h4.8m-2.4-2.4v4.8M818.4 1216h4.8m-2.4-2.4v4.8M879 1273.4h4.8m-2.4-2.4v4.8M871.4 1150.8h4.8m-2.4-2.4v4.8M788.2 1105.8h4.8m-2.4-2.4v4.8M712.8 1230.8h4.8m-2.4-2.4v4.8M768.7 1263.8h4.8m-2.4-2.4v4.8M781.7 1292.4h4.8m-2.4-2.4v4.8M846 1165h4.8m-2.4-2.4v4.8M771.3 1301.4h4.8m-2.4-2.4v4.8M781.9 1099.1h4.8m-2.4-2.4v4.8M791.9 1118.2h4.8m-2.4-2.4v4.8M786 1282.3h4.8m-2.4-2.4v4.8M720.1 1147h4.8m-2.4-2.4v4.8M816.5 1140.1h4.8m-2.4-2.4v4.8M787.7 1192.3h4.8m-2.4-2.4v4.8M753.3 1285.5h4.8m-2.4-2.4v4.8M789.2 1207.2h4.8m-2.4-2.4v4.8M881.4 1214h4.8m-2.4-2.4v4.8M817.6 1226.6h4.8m-2.4-2.4v4.8M693.9 1150.5h4.8m-2.4-2.4v4.8M796.1 1249.2h4.8m-2.4-2.4v4.8M742.5 1167.5h4.8m-2.4-2.4v4.8M799.1 1135h4.8m-2.4-2.4v4.8M828.9 1184h4.8m-2.4-2.4v4.8M705.9 1250.7h4.8m-2.4-2.4v4.8M739.9 1136.3h4.8m-2.4-2.4v4.8M735.6 1145.9h4.8m-2.4-2.4v4.8M877.3 1250.5h4.8m-2.4-2.4v4.8M837.5 1161.5h4.8m-2.4-2.4v4.8M874.9 1265.2h4.8m-2.4-2.4v4.8M777.6 1224.1h4.8m-2.4-2.4v4.8M788.5 1244h4.8m-2.4-2.4v4.8M866 1163.1h4.8m-2.4-2.4v4.8M841.2 1288h4.8m-2.4-2.4v4.8M773.2 1259.3h4.8m-2.4-2.4v4.8M666.6 1263.3h4.8m-2.4-2.4v4.8M864.6 1135.6h4.8m-2.4-2.4v4.8M701.3 1260h4.8m-2.4-2.4v4.8M863 1302.2h4.8m-2.4-2.4v4.8M845.4 1203.9h4.8m-2.4-2.4v4.8M784.5 1249.9h4.8m-2.4-2.4v4.8M772 1110.3h4.8m-2.4-2.4v4.8M763.2 1132.3h4.8m-2.4-2.4v4.8M877.2 1153.9h4.8m-2.4-2.4v4.8M833.4 1237.1h4.8m-2.4-2.4v4.8M800.9 1311.9h4.8m-2.4-2.4v4.8M726.3 1107.4h4.8m-2.4-2.4v4.8M806.2 1131.2h4.8m-2.4-2.4v4.8M772.6 1092.7h4.8m-2.4-2.4v4.8M839.9 1225.2h4.8m-2.4-2.4v4.8M706.2 1168h4.8m-2.4-2.4v4.8M831.5 1182.8h4.8m-2.4-2.4v4.8M749.1 1271.6h4.8m-2.4-2.4v4.8M864.3 1245.5h4.8m-2.4-2.4v4.8M674.2 1271.8h4.8m-2.4-2.4v4.8M867.3 1234.9h4.8m-2.4-2.4v4.8M700.9 1210.2h4.8m-2.4-2.4v4.8M779.3 1262.7h4.8m-2.4-2.4v4.8M753.6 1281.1h4.8m-2.4-2.4v4.8M862 1244.8h4.8m-2.4-2.4v4.8M779.6 1116h4.8m-2.4-2.4v4.8M845.4 1167.6h4.8m-2.4-2.4v4.8M769.3 1211.1h4.8m-2.4-2.4v4.8M749.7 1084.3h4.8m-2.4-2.4v4.8M829.1 1264.8h4.8m-2.4-2.4v4.8M707.9 1204.6h4.8m-2.4-2.4v4.8M875 1161.3h4.8m-2.4-2.4v4.8M767 1089.4h4.8m-2.4-2.4v4.8M819.9 1229.5h4.8m-2.4-2.4v4.8M857 1246.6h4.8m-2.4-2.4v4.8M848.5 1172.8h4.8m-2.4-2.4v4.8M810.4 1151.1h4.8m-2.4-2.4v4.8" stroke="#4292c6" stroke-width="2.3" fill="none"/><path d="M731.9 1245.9h4.8m-2.4-2.4v4.8M720.6 1293.4h4.8m-2.4-2.4v4.8M763.3 1228.6h4.8m-2.4-2.4v4.8M683.1 1171h4.8m-2.4-2.4v4.8M706 1286.3h4.8m-2.4-2.4v4.8M700.2 1124.1h4.8m-2.4-2.4v4.8M760.9 1093.6h4.8m-2.4-2.4v4.8M868.8 1230.5h4.8m-2.4-2.4v4.8M799.5 1265h4.8m-2.4-2.4v4.8M746.7 1225.8h4.8m-2.4-2.4v4.8M829.9 1277.8h4.8m-2.4-2.4v4.8M824.3 1218.4h4.8m-2.4-2.4v4.8M825.2 1315.2h4.8m-2.4-2.4v4.8M864.9 1305.9h4.8m-2.4-2.4v4.8M725.7 1153.7h4.8m-2.4-2.4v4.8M821.1 1218.3h4.8m-2.4-2.4v4.8M858.8 1169.3h4.8m-2.4-2.4v4.8M703 1133.3h4.8m-2.4-2.4v4.8M838.8 1167.6h4.8m-2.4-2.4v4.8M755.4 1272.2h4.8m-2.4-2.4v4.8M848 1133.7h4.8m-2.4-2.4v4.8M794.3 1209.2h4.8m-2.4-2.4v4.8M845.1 1148h4.8m-2.4-2.4v4.8M873.9 1191.6h4.8m-2.4-2.4v4.8M839.6 1323.4h4.8m-2.4-2.4v4.8M784.7 1190.4h4.8m-2.4-2.4v4.8M764.7 1098.8h4.8m-2.4-2.4v4.8M738.4 1180.3h4.8m-2.4-2.4v4.8M673.4 1263.2h4.8m-2.4-2.4v4.8M679.6 1223.8h4.8m-2.4-2.4v4.8M808.2 1331.2h4.8m-2.4-2.4v4.8M841.8 1120.4h4.8m-2.4-2.4v4.8M683.1 1183.3h4.8m-2.4-2.4v4.8M725 1201.9h4.8m-2.4-2.4v4.8M713.6 1279.8h4.8m-2.4-2.4v4.8M847.7 1311.6h4.8m-2.4-2.4v4.8M783.1 1214.1h4.8m-2.4-2.4v4.8M758.8 1301.6h4.8m-2.4-2.4v4.8M766.5 1102.4h4.8m-2.4-2.4v4.8M760 1216.1h4.8m-2.4-2.4v4.8M834.4 1222.9h4.8m-2.4-2.4v4.8M841.5 1138.8h4.8m-2.4-2.4v4.8M726.8 1167.9h4.8m-2.4-2.4v4.8M880.7 1207.3h4.8m-2.4-2.4v4.8M802.6 1269.2h4.8m-2.4-2.4v4.8M829.6 1223.5h4.8m-2.4-2.4v4.8M826.8 1156.1h4.8m-2.4-2.4v4.8M739 1208.7h4.8m-2.4-2.4v4.8M758.4 1146.8h4.8m-2.4-2.4v4.8M688.3 1280.7h4.8m-2.4-2.4v4.8M859.2 1285.9h4.8m-2.4-2.4v4.8M680.1 1274.8h4.8m-2.4-2.4v4.8M829.4 1142.6h4.8m-2.4-2.4v4.8M731.4 1131.8h4.8m-2.4-2.4v4.8M825.2 1322.1h4.8m-2.4-2.4v4.8M866.1 1192.3h4.8m-2.4-2.4v4.8M842.1 1296.5h4.8m-2.4-2.4v4.8M873.8 1153.1h4.8m-2.4-2.4v4.8M805.2 1258.8h4.8m-2.4-2.4v4.8M753.5 1313.6h4.8m-2.4-2.4v4.8M711.7 1259.5h4.8m-2.4-2.4v4.8M744.3 1105.8h4.8m-2.4-2.4v4.8M750.4 1307.4h4.8m-2.4-2.4v4.8M876.9 1181.7h4.8m-2.4-2.4v4.8M745.3 1179.9h4.8m-2.4-2.4v4.8M861 1142.2h4.8m-2.4-2.4v4.8M830.2 1322h4.8m-2.4-2.4v4.8M803.1 1142.6h4.8m-2.4-2.4v4.8M680.9 1151.3h4.8m-2.4-2.4v4.8M696.3 1127.8h4.8m-2.4-2.4v4.8M875.6 1286.9h4.8m-2.4-2.4v4.8M736.5 1271.3h4.8m-2.4-2.4v4.8M725.6 1277.7h4.8m-2.4-2.4v4.8M760.9 1144.9h4.8m-2.4-2.4v4.8M744 1244.4h4.8m-2.4-2.4v4.8M816.3 1264.7h4.8m-2.4-2.4v4.8M802 1328.5h4.8m-2.4-2.4v4.8M779.6 1219.9h4.8m-2.4-2.4v4.8M727.8 1300.4h4.8m-2.4-2.4v4.8M783 1277.6h4.8m-2.4-2.4v4.8M748.2 1185.5h4.8m-2.4-2.4v4.8M774.8 1201.6h4.8m-2.4-2.4v4.8M788.8 1210.3h4.8m-2.4-2.4v4.8M829.7 1315.3h4.8m-2.4-2.4v4.8M811.1 1110.1h4.8m-2.4-2.4v4.8M816.2 1161.6h4.8m-2.4-2.4v4.8M683.7 1198h4.8m-2.4-2.4v4.8M775.4 1159.8h4.8m-2.4-2.4v4.8M732.8 1200.4h4.8m-2.4-2.4v4.8M745.2 1304.7h4.8m-2.4-2.4v4.8M659.3 1246.8h4.8m-2.4-2.4v4.8M737.6 1250h4.8m-2.4-2.4v4.8M760.5 1285.7h4.8m-2.4-2.4v4.8M820.4 1168.3h4.8m-2.4-2.4v4.8M805.5 1242.5h4.8m-2.4-2.4v4.8M764.4 1194.8h4.8m-2.4-2.4v4.8M770.9 1214.6h4.8m-2.4-2.4v4.8M758 1296.7h4.8m-2.4-2.4v4.8M730.3 1293.6h4.8m-2.4-2.4v4.8M859.9 1247.4h4.8m-2.4-2.4v4.8M735 1209h4.8m-2.4-2.4v4.8M875.9 1164.1h4.8m-2.4-2.4v4.8M724.8 1132.1h4.8m-2.4-2.4v4.8M847.9 1224h4.8m-2.4-2.4v4.8M881.9 1233.9h4.8m-2.4-2.4v4.8M853.6 1309.2h4.8m-2.4-2.4v4.8M717.3 1305.6h4.8m-2.4-2.4v4.8M868.6 1174.7h4.8m-2.4-2.4v4.8M736.9 1136h4.8m-2.4-2.4v4.8M801.1 1211.9h4.8m-2.4-2.4v4.8M727.2 1176h4.8m-2.4-2.4v4.8M742.3 1212.6h4.8m-2.4-2.4v4.8M700.6 1218.2h4.8m-2.4-2.4v4.8M752.2 1084.9h4.8m-2.4-2.4v4.8M804.7 1274.3h4.8m-2.4-2.4v4.8M836.1 1206.4h4.8m-2.4-2.4v4.8M740.1 1162.2h4.8m-2.4-2.4v4.8M853.1 1238.4h4.8m-2.4-2.4v4.8M788.9 1142.7h4.8m-2.4-2.4v4.8M841 1300.7h4.8m-2.4-2.4v4.8M762.9 1149h4.8m-2.4-2.4v4.8M687.5 1291.4h4.8m-2.4-2.4v4.8M799.3 1273.1h4.8m-2.4-2.4v4.8M772.3 1231.2h4.8m-2.4-2.4v4.8M803.1 1161.2h4.8m-2.4-2.4v4.8M736 1299h4.8m-2.4-2.4v4.8M816.3 1131h4.8m-2.4-2.4v4.8M859.9 1158.4h4.8m-2.4-2.4v4.8M777.7 1232.1h4.8m-2.4-2.4v4.8M731.8 1219.5h4.8m-2.4-2.4v4.8M851.2 1227.4h4.8m-2.4-2.4v4.8M790.1 1159.7h4.8m-2.4-2.4v4.8M852.7 1221.6h4.8m-2.4-2.4v4.8M844.9 1137.2h4.8m-2.4-2.4v4.8M784.6 1300.7h4.8m-2.4-2.4v4.8M836.4 1159.3h4.8m-2.4-2.4v4.8M782.4 1151.6h4.8m-2.4-2.4v4.8M752.6 1176h4.8m-2.4-2.4v4.8M881.2 1173.7h4.8m-2.4-2.4v4.8M852.8 1142.2h4.8m-2.4-2.4v4.8M737.2 1217h4.8m-2.4-2.4v4.8M864.9 1219.6h4.8m-2.4-2.4v4.8M661.2 1233.1h4.8m-2.4-2.4v4.8M768.9 1276.7h4.8m-2.4-2.4v4.8M871.4 1203.9h4.8m-2.4-2.4v4.8M819.4 1182.3h4.8m-2.4-2.4v4.8M758.6 1179.6h4.8m-2.4-2.4v4.8M810.3 1283h4.8m-2.4-2.4v4.8M797.1 1305.3h4.8m-2.4-2.4v4.8M766.5 1306.6h4.8m-2.4-2.4v4.8M722.9 1138.9h4.8m-2.4-2.4v4.8M803.9 1140.1h4.8m-2.4-2.4v4.8M799.8 1281h4.8m-2.4-2.4v4.8M770 1266.2h4.8m-2.4-2.4v4.8M872.1 1142.6h4.8m-2.4-2.4v4.8M708.1 1303.2h4.8m-2.4-2.4v4.8M770.6 1258.4h4.8m-2.4-2.4v4.8M749.8 1234.6h4.8m-2.4-2.4v4.8M797 1180.3h4.8m-2.4-2.4v4.8M857.7 1241.5h4.8m-2.4-2.4v4.8M772.2 1273.6h4.8m-2.4-2.4v4.8M805.2 1305.7h4.8m-2.4-2.4v4.8M755.1 1256.2h4.8m-2.4-2.4v4.8M786.9 1145.6h4.8m-2.4-2.4v4.8M859.8 1305.6h4.8m-2.4-2.4v4.8M719 1243.3h4.8m-2.4-2.4v4.8M866.2 1281.4h4.8m-2.4-2.4v4.8M779.4 1189.2h4.8m-2.4-2.4v4.8M805.4 1251.6h4.8m-2.4-2.4v4.8M850.7 1275.3h4.8m-2.4-2.4v4.8M747 1321.5h4.8m-2.4-2.4v4.8M721.7 1108.4h4.8m-2.4-2.4v4.8M757.5 1326.2h4.8m-2.4-2.4v4.8" stroke="#3282be" stroke-width="2.3" fill="none"/><path d="M792.3 1133.5h4.8m-2.4-2.4v4.8M765.3 1252.5h4.8m-2.4-2.4v4.8M750.3 1136.9h4.8m-2.4-2.4v4.8M809.2 1204.7h4.8m-2.4-2.4v4.8M804.6 1301.6h4.8m-2.4-2.4v4.8M817.5 1176.5h4.8m-2.4-2.4v4.8M831.7 1301.9h4.8m-2.4-2.4v4.8M872.5 1275.8h4.8m-2.4-2.4v4.8M876.4 1168.5h4.8m-2.4-2.4v4.8M800.9 1332.8h4.8m-2.4-2.4v4.8M843.1 1268.6h4.8m-2.4-2.4v4.8M759.5 1100.2h4.8m-2.4-2.4v4.8M690.3 1289.6h4.8m-2.4-2.4v4.8M692.8 1217.6h4.8m-2.4-2.4v4.8M876.6 1236.5h4.8m-2.4-2.4v4.8M824.3 1241.4h4.8m-2.4-2.4v4.8M763.4 1155.2h4.8m-2.4-2.4v4.8M795.5 1260h4.8m-2.4-2.4v4.8M799.3 1113.3h4.8m-2.4-2.4v4.8M803.1 1169.1h4.8m-2.4-2.4v4.8M883.1 1230.2h4.8m-2.4-2.4v4.8M740.4 1115.6h4.8m-2.4-2.4v4.8M804.7 1291.3h4.8m-2.4-2.4v4.8M675.8 1273.9h4.8m-2.4-2.4v4.8M766.4 1320.7h4.8m-2.4-2.4v4.8M840.9 1243.1h4.8m-2.4-2.4v4.8M860.6 1255.4h4.8m-2.4-2.4v4.8M822.1 1211.7h4.8m-2.4-2.4v4.8M772.6 1282.1h4.8m-2.4-2.4v4.8M811.9 1259.8h4.8m-2.4-2.4v4.8M718.6 1113.1h4.8m-2.4-2.4v4.8M865.6 1130.4h4.8m-2.4-2.4v4.8M712.3 1219.8h4.8m-2.4-2.4v4.8M735.2 1197.3h4.8m-2.4-2.4v4.8M776.8 1315.6h4.8m-2.4-2.4v4.8M782 1155h4.8m-2.4-2.4v4.8M875.4 1175.9h4.8m-2.4-2.4v4.8M719.8 1124.9h4.8m-2.4-2.4v4.8M677.3 1191.7h4.8m-2.4-2.4v4.8M766 1212.1h4.8m-2.4-2.4v4.8M831.1 1161.4h4.8m-2.4-2.4v4.8M688.7 1174.6h4.8m-2.4-2.4v4.8M862.7 1281.3h4.8m-2.4-2.4v4.8M856.5 1153h4.8m-2.4-2.4v4.8M786 1293.8h4.8m-2.4-2.4v4.8M782.6 1233.1h4.8m-2.4-2.4v4.8M708.4 1299.8h4.8m-2.4-2.4v4.8M750.7 1191.8h4.8m-2.4-2.4v4.8M845.2 1320.2h4.8m-2.4-2.4v4.8M871.1 1297h4.8m-2.4-2.4v4.8M843.2 1185.4h4.8m-2.4-2.4v4.8M781.1 1301.4h4.8m-2.4-2.4v4.8M795.1 1318.7h4.8m-2.4-2.4v4.8M730.2 1104.6h4.8m-2.4-2.4v4.8M857.6 1199.2h4.8m-2.4-2.4v4.8M878.7 1210h4.8m-2.4-2.4v4.8M836.5 1183h4.8m-2.4-2.4v4.8M756.3 1092.8h4.8m-2.4-2.4v4.8M723.3 1105.7h4.8m-2.4-2.4v4.8M818.6 1313.8h4.8m-2.4-2.4v4.8M680.3 1228.1h4.8m-2.4-2.4v4.8M864.9 1293.9h4.8m-2.4-2.4v4.8M865.8 1225.7h4.8m-2.4-2.4v4.8M832.3 1310.2h4.8m-2.4-2.4v4.8M723.9 1168.2h4.8m-2.4-2.4v4.8M757.9 1097.7h4.8m-2.4-2.4v4.8M821.4 1125.4h4.8m-2.4-2.4v4.8M841 1148h4.8m-2.4-2.4v4.8M785.4 1186.2h4.8m-2.4-2.4v4.8M808.9 1327.2h4.8m-2.4-2.4v4.8M736.6 1129.8h4.8m-2.4-2.4v4.8M773.1 1303.7h4.8m-2.4-2.4v4.8M839.5 1267.7h4.8m-2.4-2.4v4.8M850.1 1127.4h4.8m-2.4-2.4v4.8M798.4 1182h4.8m-2.4-2.4v4.8M779.4 1181h4.8m-2.4-2.4v4.8M857.8 1222.4h4.8m-2.4-2.4v4.8M852.3 1211.8h4.8m-2.4-2.4v4.8M857.9 1123.7h4.8m-2.4-2.4v4.8M747.5 1150.6h4.8m-2.4-2.4v4.8M831.7 1234.9h4.8m-2.4-2.4v4.8M851.7 1157.7h4.8m-2.4-2.4v4.8M775.1 1331.3h4.8m-2.4-2.4v4.8M848.4 1196.2h4.8m-2.4-2.4v4.8M699.6 1202.4h4.8m-2.4-2.4v4.8M757.2 1166.7h4.8m-2.4-2.4v4.8M854.1 1165.4h4.8m-2.4-2.4v4.8M728.9 1114.9h4.8m-2.4-2.4v4.8M746.5 1200.4h4.8m-2.4-2.4v4.8M756.8 1172.9h4.8m-2.4-2.4v4.8M841.9 1172.6h4.8m-2.4-2.4v4.8M847.2 1289.4h4.8m-2.4-2.4v4.8M786.3 1183h4.8m-2.4-2.4v4.8M855.6 1211.9h4.8m-2.4-2.4v4.8M787.6 1322.1h4.8m-2.4-2.4v4.8M771.4 1169.3h4.8m-2.4-2.4v4.8M791.2 1212.8h4.8m-2.4-2.4v4.8M736.3 1310.4h4.8m-2.4-2.4v4.8M863.6 1175.3h4.8m-2.4-2.4v4.8M835.1 1116.1h4.8m-2.4-2.4v4.8M761 1252.9h4.8m-2.4-2.4v4.8M815.9 1311.9h4.8m-2.4-2.4v4.8M667.7 1191.8h4.8m-2.4-2.4v4.8M851.4 1300.9h4.8m-2.4-2.4v4.8M862.2 1249.5h4.8m-2.4-2.4v4.8M849.5 1120.5h4.8m-2.4-2.4v4.8M764.3 1140.3h4.8m-2.4-2.4v4.8M787.7 1173.6h4.8m-2.4-2.4v4.8M698.1 1268.4h4.8m-2.4-2.4v4.8M692.5 1294.4h4.8m-2.4-2.4v4.8M857.1 1252.8h4.8m-2.4-2.4v4.8M837.4 1175.2h4.8m-2.4-2.4v4.8M804 1205.3h4.8m-2.4-2.4v4.8M836.9 1324.9h4.8m-2.4-2.4v4.8M740.3 1167.8h4.8m-2.4-2.4v4.8M792.1 1197.3h4.8m-2.4-2.4v4.8M748.8 1298.4h4.8m-2.4-2.4v4.8M698.3 1240h4.8m-2.4-2.4v4.8M818.5 1188.5h4.8m-2.4-2.4v4.8M736.1 1172.5h4.8m-2.4-2.4v4.8M733.5 1126.3h4.8m-2.4-2.4v4.8M797.4 1199h4.8m-2.4-2.4v4.8M743.7 1229.1h4.8m-2.4-2.4v4.8M714.2 1113.8h4.8m-2.4-2.4v4.8M674.5 1168.6h4.8m-2.4-2.4v4.8M776.5 1238.3h4.8m-2.4-2.4v4.8M709.2 1219.3h4.8m-2.4-2.4v4.8M783.5 1332.2h4.8m-2.4-2.4v4.8M875.6 1283.4h4.8m-2.4-2.4v4.8M808.9 1141.6h4.8m-2.4-2.4v4.8M761.9 1124.6h4.8m-2.4-2.4v4.8M821.2 1130.2h4.8m-2.4-2.4v4.8M779.8 1226.2h4.8m-2.4-2.4v4.8M879.9 1289h4.8m-2.4-2.4v4.8M788.6 1271.4h4.8m-2.4-2.4v4.8M729.1 1208.1h4.8m-2.4-2.4v4.8M779.1 1242.5h4.8m-2.4-2.4v4.8M769 1293.3h4.8m-2.4-2.4v4.8M751.2 1105.7h4.8m-2.4-2.4v4.8M812.1 1161h4.8m-2.4-2.4v4.8M833 1124.6h4.8m-2.4-2.4v4.8M883.5 1255.2h4.8m-2.4-2.4v4.8M665.4 1258.2h4.8m-2.4-2.4v4.8M721.9 1271.8h4.8m-2.4-2.4v4.8M674.1 1241.6h4.8m-2.4-2.4v4.8M669 1217.4h4.8m-2.4-2.4v4.8M867.4 1241.1h4.8m-2.4-2.4v4.8M807.1 1155.5h4.8m-2.4-2.4v4.8M853.6 1231.1h4.8m-2.4-2.4v4.8M700.7 1233.8h4.8m-2.4-2.4v4.8M786.2 1275.9h4.8m-2.4-2.4v4.8M789 1332.6h4.8m-2.4-2.4v4.8M852.2 1204.9h4.8m-2.4-2.4v4.8M830.6 1136.1h4.8m-2.4-2.4v4.8M858.6 1149.3h4.8m-2.4-2.4v4.8M715.6 1223.1h4.8m-2.4-2.4v4.8M854.6 1184.7h4.8m-2.4-2.4v4.8M871.4 1293.6h4.8m-2.4-2.4v4.8M828.5 1241.3h4.8m-2.4-2.4v4.8M759.2 1122.9h4.8m-2.4-2.4v4.8M779.2 1215.3h4.8m-2.4-2.4v4.8M833.5 1157.1h4.8m-2.4-2.4v4.8M854.3 1268.6h4.8m-2.4-2.4v4.8M814 1133.8h4.8m-2.4-2.4v4.8M723.7 1113.6h4.8m-2.4-2.4v4.8M800.5 1275.6h4.8m-2.4-2.4v4.8" stroke="#2171b5" stroke-width="2.3" fill="none"/><path d="M741.5 1203.8h4.8m-2.4-2.4v4.8M772.7 1306.5h4.8m-2.4-2.4v4.8M677.3 1249.9h4.8m-2.4-2.4v4.8M811.7 1223.7h4.8m-2.4-2.4v4.8M669.2 1259.8h4.8m-2.4-2.4v4.8M717.6 1246.1h4.8m-2.4-2.4v4.8M843.7 1170.1h4.8m-2.4-2.4v4.8M812.2 1312.7h4.8m-2.4-2.4v4.8M768.6 1116.7h4.8m-2.4-2.4v4.8M699.8 1281.5h4.8m-2.4-2.4v4.8M691.2 1142.5h4.8m-2.4-2.4v4.8M864.6 1260.7h4.8m-2.4-2.4v4.8M730.2 1229.6h4.8m-2.4-2.4v4.8M795.8 1187.1h4.8m-2.4-2.4v4.8M800.3 1258.5h4.8m-2.4-2.4v4.8M858.7 1292.9h4.8m-2.4-2.4v4.8M663.8 1246.1h4.8m-2.4-2.4v4.8M742.5 1293.6h4.8m-2.4-2.4v4.8M745.3 1265.7h4.8m-2.4-2.4v4.8M724.3 1097h4.8m-2.4-2.4v4.8M824.3 1249.1h4.8m-2.4-2.4v4.8M812.1 1220.5h4.8m-2.4-2.4v4.8M863.3 1240.9h4.8m-2.4-2.4v4.8M775.1 1289.4h4.8m-2.4-2.4v4.8M669.1 1179.1h4.8m-2.4-2.4v4.8M772.4 1238.6h4.8m-2.4-2.4v4.8M831.8 1108h4.8m-2.4-2.4v4.8M723.7 1243.4h4.8m-2.4-2.4v4.8M675.3 1218.7h4.8m-2.4-2.4v4.8M711.6 1305.6h4.8m-2.4-2.4v4.8M770.4 1256h4.8m-2.4-2.4v4.8M796.8 1268.7h4.8m-2.4-2.4v4.8M721.3 1300.3h4.8m-2.4-2.4v4.8M762.4 1166.8h4.8m-2.4-2.4v4.8M740.6 1245.5h4.8m-2.4-2.4v4.8M774.4 1272h4.8m-2.4-2.4v4.8M856.4 1298.3h4.8m-2.4-2.4v4.8M771 1195h4.8m-2.4-2.4v4.8M686.4 1215.1h4.8m-2.4-2.4v4.8M809.9 1302.5h4.8m-2.4-2.4v4.8M835.2 1124.1h4.8m-2.4-2.4v4.8M807.1 1279.1h4.8m-2.4-2.4v4.8M743.5 1314.7h4.8m-2.4-2.4v4.8M860 1223.3h4.8m-2.4-2.4v4.8M717.8 1280.7h4.8m-2.4-2.4v4.8M826 1183.6h4.8m-2.4-2.4v4.8M713.7 1164.8h4.8m-2.4-2.4v4.8M746.7 1109.9h4.8m-2.4-2.4v4.8M804.2 1166.8h4.8m-2.4-2.4v4.8M722.4 1289.1h4.8m-2.4-2.4v4.8M843.1 1275.4h4.8m-2.4-2.4v4.8M803.6 1128.9h4.8m-2.4-2.4v4.8M684.7 1162.9h4.8m-2.4-2.4v4.8M745.1 1294.6h4.8m-2.4-2.4v4.8M686.5 1277.5h4.8m-2.4-2.4v4.8M730.6 1311.7h4.8m-2.4-2.4v4.8M763.5 1257.2h4.8m-2.4-2.4v4.8M779.8 1186.1h4.8m-2.4-2.4v4.8M880 1169.9h4.8m-2.4-2.4v4.8M755.2 1253.3h4.8m-2.4-2.4v4.8M787.8 1169.8h4.8m-2.4-2.4v4.8M831.1 1325.3h4.8m-2.4-2.4v4.8M824.8 1122.4h4.8m-2.4-2.4v4.8M860.3 1127.1h4.8m-2.4-2.4v4.8M795.2 1200.7h4.8m-2.4-2.4v4.8M761.2 1267.9h4.8m-2.4-2.4v4.8M777 1110.2h4.8m-2.4-2.4v4.8M757.9 1132.7h4.8m-2.4-2.4v4.8M766.8 1107.8h4.8m-2.4-2.4v4.8M706.2 1275.8h4.8m-2.4-2.4v4.8M864.1 1187.9h4.8m-2.4-2.4v4.8M848.4 1234.1h4.8m-2.4-2.4v4.8M700.5 1193.2h4.8m-2.4-2.4v4.8M711.5 1265.8h4.8m-2.4-2.4v4.8M811.8 1328.7h4.8m-2.4-2.4v4.8M749.6 1264.9h4.8m-2.4-2.4v4.8M783.7 1180.1h4.8m-2.4-2.4v4.8M865.1 1248.9h4.8m-2.4-2.4v4.8M759.1 1206.3h4.8m-2.4-2.4v4.8M808 1250.2h4.8m-2.4-2.4v4.8M828.1 1217.1h4.8m-2.4-2.4v4.8M698.4 1292.4h4.8m-2.4-2.4v4.8M799.7 1165.1h4.8m-2.4-2.4v4.8M869.3 1288h4.8m-2.4-2.4v4.8M674.4 1207.3h4.8m-2.4-2.4v4.8M819.3 1273.7h4.8m-2.4-2.4v4.8M840.8 1183.1h4.8m-2.4-2.4v4.8M712 1137.6h4.8m-2.4-2.4v4.8M880.7 1244.5h4.8m-2.4-2.4v4.8M808.4 1245.8h4.8m-2.4-2.4v4.8M727.2 1248.4h4.8m-2.4-2.4v4.8M810.8 1164.3h4.8m-2.4-2.4v4.8M779.2 1091.7h4.8m-2.4-2.4v4.8M798.4 1298.6h4.8m-2.4-2.4v4.8M735 1312.4h4.8m-2.4-2.4v4.8M876.7 1205.9h4.8m-2.4-2.4v4.8M819.1 1165.3h4.8m-2.4-2.4v4.8M883.2 1278h4.8m-2.4-2.4v4.8M783.9 1296h4.8m-2.4-2.4v4.8M696.1 1238.5h4.8m-2.4-2.4v4.8M850.4 1159.9h4.8m-2.4-2.4v4.8M765.8 1328.1h4.8m-2.4-2.4v4.8M847.4 1179.4h4.8m-2.4-2.4v4.8M874.3 1259.2h4.8m-2.4-2.4v4.8" stroke="#1461a8" stroke-width="2.3" fill="none"/><path d="M756.5 1161.3h4.8m-2.4-2.4v4.8M812.2 1255.9h4.8m-2.4-2.4v4.8M827.6 1121.3h4.8m-2.4-2.4v4.8M717.4 1144.6h4.8m-2.4-2.4v4.8M860.5 1301.8h4.8m-2.4-2.4v4.8M734.1 1189.5h4.8m-2.4-2.4v4.8M814.2 1146.1h4.8m-2.4-2.4v4.8M768 1323.7h4.8m-2.4-2.4v4.8M715.1 1300.9h4.8m-2.4-2.4v4.8M861.1 1242.3h4.8m-2.4-2.4v4.8M741.8 1286.7h4.8m-2.4-2.4v4.8M695.6 1261.2h4.8m-2.4-2.4v4.8M731.4 1193.6h4.8m-2.4-2.4v4.8M819.9 1279.7h4.8m-2.4-2.4v4.8M754 1324.8h4.8m-2.4-2.4v4.8M807.2 1260.9h4.8m-2.4-2.4v4.8M689 1265.5h4.8m-2.4-2.4v4.8M785.1 1310.2h4.8m-2.4-2.4v4.8M751 1203.7h4.8m-2.4-2.4v4.8M725.8 1288.7h4.8m-2.4-2.4v4.8M799.8 1243.8h4.8m-2.4-2.4v4.8M730.2 1243.7h4.8m-2.4-2.4v4.8M798.3 1270.9h4.8m-2.4-2.4v4.8M815.1 1119.7h4.8m-2.4-2.4v4.8M775.3 1224.7h4.8m-2.4-2.4v4.8M680.8 1155h4.8m-2.4-2.4v4.8M822.5 1275.6h4.8m-2.4-2.4v4.8M811.4 1116.8h4.8m-2.4-2.4v4.8M850.7 1130.8h4.8m-2.4-2.4v4.8M727.8 1109.7h4.8m-2.4-2.4v4.8M865.9 1127.7h4.8m-2.4-2.4v4.8M863.7 1231.2h4.8m-2.4-2.4v4.8M775.6 1295.6h4.8m-2.4-2.4v4.8M842.4 1177.4h4.8m-2.4-2.4v4.8M803 1282.6h4.8m-2.4-2.4v4.8M867.1 1257.9h4.8m-2.4-2.4v4.8M874.6 1218h4.8m-2.4-2.4v4.8M800.7 1240.9h4.8m-2.4-2.4v4.8M823.5 1311h4.8m-2.4-2.4v4.8M864.6 1278.8h4.8m-2.4-2.4v4.8M795.2 1216.5h4.8m-2.4-2.4v4.8M859.3 1152.7h4.8m-2.4-2.4v4.8M799.2 1306.6h4.8m-2.4-2.4v4.8M823.6 1112.1h4.8m-2.4-2.4v4.8M872.9 1224.5h4.8m-2.4-2.4v4.8M832.8 1259h4.8m-2.4-2.4v4.8M876.5 1215h4.8m-2.4-2.4v4.8M720.5 1235.3h4.8m-2.4-2.4v4.8" stroke="#08519c" stroke-width="2.3" fill="none"/><path d="M846.4 1285.2h4.8m-2.4-2.4v4.8M823.7 1190h4.8m-2.4-2.4v4.8M710.3 1267.7h4.8m-2.4-2.4v4.8M698.8 1258.7h4.8m-2.4-2.4v4.8M754.3 1302.2h4.8m-2.4-2.4v4.8M706.2 1298.2h4.8m-2.4-2.4v4.8M753.2 1213.2h4.8m-2.4-2.4v4.8M752.6 1136.5h4.8m-2.4-2.4v4.8M842.6 1230h4.8m-2.4-2.4v4.8M777 1287.3h4.8m-2.4-2.4v4.8M885 1264.7h4.8m-2.4-2.4v4.8M878.1 1247.7h4.8m-2.4-2.4v4.8M756.6 1215.9h4.8m-2.4-2.4v4.8M740.4 1211.1h4.8m-2.4-2.4v4.8M728.8 1276.3h4.8m-2.4-2.4v4.8M845.6 1300.3h4.8m-2.4-2.4v4.8M773.2 1155.6h4.8m-2.4-2.4v4.8M871.3 1242.2h4.8m-2.4-2.4v4.8M741.6 1257.6h4.8m-2.4-2.4v4.8M797.5 1106.1h4.8m-2.4-2.4v4.8M796.6 1266.2h4.8m-2.4-2.4v4.8M879.3 1284.5h4.8m-2.4-2.4v4.8M792.8 1194.3h4.8m-2.4-2.4v4.8M812.2 1142.3h4.8m-2.4-2.4v4.8M861.5 1136.4h4.8m-2.4-2.4v4.8M793.5 1175.9h4.8m-2.4-2.4v4.8M755.4 1085.1h4.8m-2.4-2.4v4.8" stroke="#084084" stroke-width="2.3" fill="none"/><path d="M837.9 1202.2h4.8m-2.4-2.4v4.8M823.1 1147.6h4.8m-2.4-2.4v4.8M878.7 1279.1h4.8m-2.4-2.4v4.8M734.1 1306.3h4.8m-2.4-2.4v4.8M806 1293.5h4.8m-2.4-2.4v4.8M771.5 1315.1h4.8m-2.4-2.4v4.8M688.1 1146.4h4.8m-2.4-2.4v4.8M671.8 1251.3h4.8m-2.4-2.4v4.8M779.6 1100.8h4.8m-2.4-2.4v4.8M718.8 1297.3h4.8m-2.4-2.4v4.8" stroke="#08306b" stroke-width="2.3" fill="none"/><text x="1034.5" y="1071.4" text-anchor="middle" font-size="29.5" font-style="italic" fill="#000">TIMP3</text><path d="M935 1183.7h4.8m-2.4-2.4v4.8M1019.7 1147.6h4.8m-2.4-2.4v4.8M946.5 1157.6h4.8m-2.4-2.4v4.8M1113.2 1131.6h4.8m-2.4-2.4v4.8M1097.4 1116.9h4.8m-2.4-2.4v4.8M1036.1 1139.2h4.8m-2.4-2.4v4.8M1094.4 1134.4h4.8m-2.4-2.4v4.8M1103.2 1183.7h4.8m-2.4-2.4v4.8M1071.2 1122.8h4.8m-2.4-2.4v4.8M1008.8 1154.2h4.8m-2.4-2.4v4.8" stroke="#84bcdc" stroke-width="2.3" fill="none"/><path d="M966.1 1141.1h4.8m-2.4-2.4v4.8M974.6 1136.7h4.8m-2.4-2.4v4.8M972.8 1119.5h4.8m-2.4-2.4v4.8M1078.6 1123.8h4.8m-2.4-2.4v4.8M1034.9 1205.8h4.8m-2.4-2.4v4.8M1128.2 1131.2h4.8m-2.4-2.4v4.8M1076.8 1110.2h4.8m-2.4-2.4v4.8M987.7 1168.6h4.8m-2.4-2.4v4.8M1030.6 1141.9h4.8m-2.4-2.4v4.8M997 1179.9h4.8m-2.4-2.4v4.8M1120.5 1129h4.8m-2.4-2.4v4.8M1094.2 1118.1h4.8m-2.4-2.4v4.8M1070.6 1167.6h4.8m-2.4-2.4v4.8M1098.8 1183.6h4.8m-2.4-2.4v4.8M1001.2 1089.9h4.8m-2.4-2.4v4.8M1060 1225.3h4.8m-2.4-2.4v4.8M1019.2 1098.6h4.8m-2.4-2.4v4.8M1039.1 1136.2h4.8m-2.4-2.4v4.8M1106.3 1216.5h4.8m-2.4-2.4v4.8M933.7 1166.3h4.8m-2.4-2.4v4.8M1097.5 1128.7h4.8m-2.4-2.4v4.8M1114.2 1158.4h4.8m-2.4-2.4v4.8M1122.4 1135.4h4.8m-2.4-2.4v4.8M946 1171.8h4.8m-2.4-2.4v4.8M989.5 1181.8h4.8m-2.4-2.4v4.8M1019.4 1118.2h4.8m-2.4-2.4v4.8M1028.2 1108.7h4.8m-2.4-2.4v4.8M1032.9 1169.9h4.8m-2.4-2.4v4.8M1013.4 1085.9h4.8m-2.4-2.4v4.8M1127.3 1133.7h4.8m-2.4-2.4v4.8M1053.6 1119.1h4.8m-2.4-2.4v4.8M986 1103.4h4.8m-2.4-2.4v4.8M1060.9 1135.8h4.8m-2.4-2.4v4.8M1034.4 1148.6h4.8m-2.4-2.4v4.8M934.8 1169.3h4.8m-2.4-2.4v4.8M1112.1 1143.7h4.8m-2.4-2.4v4.8M1121.9 1153.5h4.8m-2.4-2.4v4.8M987.2 1108.3h4.8m-2.4-2.4v4.8M1034.1 1093.6h4.8m-2.4-2.4v4.8M1048.6 1146.4h4.8m-2.4-2.4v4.8" stroke="#6baed6" stroke-width="2.3" fill="none"/><path d="M935.9 1279.8h4.8m-2.4-2.4v4.8M1011.5 1137.7h4.8m-2.4-2.4v4.8M998.7 1099.5h4.8m-2.4-2.4v4.8M1024.7 1229.1h4.8m-2.4-2.4v4.8M1107.6 1145.3h4.8m-2.4-2.4v4.8M943.5 1171.7h4.8m-2.4-2.4v4.8M1003.4 1198.2h4.8m-2.4-2.4v4.8M1073.7 1224.1h4.8m-2.4-2.4v4.8M1037.3 1142.4h4.8m-2.4-2.4v4.8M1131.5 1231h4.8m-2.4-2.4v4.8M1130.1 1203.8h4.8m-2.4-2.4v4.8M1020.8 1101.2h4.8m-2.4-2.4v4.8M1049.6 1157.7h4.8m-2.4-2.4v4.8M1113 1115.2h4.8m-2.4-2.4v4.8M1104.8 1128.3h4.8m-2.4-2.4v4.8M1096.6 1245.8h4.8m-2.4-2.4v4.8M1104.7 1203.5h4.8m-2.4-2.4v4.8M989.8 1156.5h4.8m-2.4-2.4v4.8M1024 1116.1h4.8m-2.4-2.4v4.8M994.7 1207.1h4.8m-2.4-2.4v4.8M985.1 1097.9h4.8m-2.4-2.4v4.8M983 1098.7h4.8m-2.4-2.4v4.8M1101.1 1168.3h4.8m-2.4-2.4v4.8M1110.4 1134.5h4.8m-2.4-2.4v4.8M1074.1 1220.9h4.8m-2.4-2.4v4.8M983.8 1118.8h4.8m-2.4-2.4v4.8M1026.1 1099.8h4.8m-2.4-2.4v4.8M1042.3 1133.8h4.8m-2.4-2.4v4.8M1021.8 1087.4h4.8m-2.4-2.4v4.8M1092.3 1176.2h4.8m-2.4-2.4v4.8M1007.8 1174.4h4.8m-2.4-2.4v4.8M1008.6 1132.8h4.8m-2.4-2.4v4.8M1000 1153h4.8m-2.4-2.4v4.8M979.4 1113.9h4.8m-2.4-2.4v4.8M977.5 1271.1h4.8m-2.4-2.4v4.8M1143.6 1207.8h4.8m-2.4-2.4v4.8M970.7 1149.5h4.8m-2.4-2.4v4.8M981.5 1187.5h4.8m-2.4-2.4v4.8M1011.6 1103.4h4.8m-2.4-2.4v4.8M1091.6 1143.3h4.8m-2.4-2.4v4.8M982.8 1247.7h4.8m-2.4-2.4v4.8M1020.3 1090.2h4.8m-2.4-2.4v4.8M1092.3 1119.3h4.8m-2.4-2.4v4.8M1017.6 1093.7h4.8m-2.4-2.4v4.8M987.3 1096.9h4.8m-2.4-2.4v4.8M1065 1143.4h4.8m-2.4-2.4v4.8M1043.5 1137.7h4.8m-2.4-2.4v4.8M1011 1132h4.8m-2.4-2.4v4.8M1138.7 1150.3h4.8m-2.4-2.4v4.8M1126 1153.7h4.8m-2.4-2.4v4.8M1065.5 1129.8h4.8m-2.4-2.4v4.8M997.6 1130.6h4.8m-2.4-2.4v4.8M1093.1 1171.3h4.8m-2.4-2.4v4.8M1005.2 1244.7h4.8m-2.4-2.4v4.8M1124.6 1181.5h4.8m-2.4-2.4v4.8M945.1 1163.6h4.8m-2.4-2.4v4.8M1060.2 1182.7h4.8m-2.4-2.4v4.8M991.2 1171.1h4.8m-2.4-2.4v4.8M1120.5 1124.5h4.8m-2.4-2.4v4.8M1090.8 1133.5h4.8m-2.4-2.4v4.8M960.1 1203h4.8m-2.4-2.4v4.8M1083.4 1173.7h4.8m-2.4-2.4v4.8M1037 1160.5h4.8m-2.4-2.4v4.8M993.8 1200.9h4.8m-2.4-2.4v4.8M1116.6 1166h4.8m-2.4-2.4v4.8M946.2 1284h4.8m-2.4-2.4v4.8M1049.5 1170.4h4.8m-2.4-2.4v4.8M1122.9 1127.9h4.8m-2.4-2.4v4.8M962.2 1153.8h4.8m-2.4-2.4v4.8M1006.4 1258.7h4.8m-2.4-2.4v4.8M959 1185.6h4.8m-2.4-2.4v4.8M1131.9 1186.4h4.8m-2.4-2.4v4.8M1004.1 1148.3h4.8m-2.4-2.4v4.8M1014.6 1088.5h4.8m-2.4-2.4v4.8M1052.9 1213.3h4.8m-2.4-2.4v4.8M1134.2 1151.5h4.8m-2.4-2.4v4.8M998 1136.8h4.8m-2.4-2.4v4.8M1049.9 1106.8h4.8m-2.4-2.4v4.8M1050.3 1138.4h4.8m-2.4-2.4v4.8M1126.2 1175.9h4.8m-2.4-2.4v4.8M941.6 1232.8h4.8m-2.4-2.4v4.8M1043.5 1100.1h4.8m-2.4-2.4v4.8M1112 1121.3h4.8m-2.4-2.4v4.8M1010.9 1265.2h4.8m-2.4-2.4v4.8M988.7 1110.6h4.8m-2.4-2.4v4.8M958.6 1268.6h4.8m-2.4-2.4v4.8M1128.5 1128.5h4.8m-2.4-2.4v4.8M977 1295.7h4.8m-2.4-2.4v4.8M1074.2 1143.1h4.8m-2.4-2.4v4.8M1018.6 1156.9h4.8m-2.4-2.4v4.8M1007.7 1208.5h4.8m-2.4-2.4v4.8M1094.2 1166h4.8m-2.4-2.4v4.8M1103.1 1114.9h4.8m-2.4-2.4v4.8M1116.4 1132.4h4.8m-2.4-2.4v4.8M1058.5 1119.7h4.8m-2.4-2.4v4.8M998.6 1156.2h4.8m-2.4-2.4v4.8M1019.4 1129.5h4.8m-2.4-2.4v4.8M976.1 1212.6h4.8m-2.4-2.4v4.8M1098.8 1160h4.8m-2.4-2.4v4.8M969.2 1184.8h4.8m-2.4-2.4v4.8M1107.8 1204.5h4.8m-2.4-2.4v4.8M1033.5 1111.2h4.8m-2.4-2.4v4.8M1024.6 1133.2h4.8m-2.4-2.4v4.8M1140 1154.6h4.8m-2.4-2.4v4.8M1021.3 1221.8h4.8m-2.4-2.4v4.8M1060 1203.4h4.8m-2.4-2.4v4.8M1081.7 1148h4.8m-2.4-2.4v4.8M1085.7 1113h4.8m-2.4-2.4v4.8M1093.4 1222.2h4.8m-2.4-2.4v4.8M983.7 1139.7h4.8m-2.4-2.4v4.8M961.5 1210.7h4.8m-2.4-2.4v4.8M1009.7 1117h4.8m-2.4-2.4v4.8M1041.2 1101.7h4.8m-2.4-2.4v4.8M951.7 1160.1h4.8m-2.4-2.4v4.8M1117.8 1242.4h4.8m-2.4-2.4v4.8M1095 1259.3h4.8m-2.4-2.4v4.8M1128 1171.9h4.8m-2.4-2.4v4.8M994 1107.5h4.8m-2.4-2.4v4.8M1020.5 1123.8h4.8m-2.4-2.4v4.8M1134.6 1182.6h4.8m-2.4-2.4v4.8M1041 1189.8h4.8m-2.4-2.4v4.8M984.6 1114.5h4.8m-2.4-2.4v4.8M1084.5 1115.5h4.8m-2.4-2.4v4.8" stroke="#56a0ce" stroke-width="2.3" fill="none"/><path d="M1054.1 1134.3h4.8m-2.4-2.4v4.8M995.6 1102.1h4.8m-2.4-2.4v4.8M1074.6 1153.1h4.8m-2.4-2.4v4.8M929.4 1260.1h4.8m-2.4-2.4v4.8M960.7 1125h4.8m-2.4-2.4v4.8M1139.2 1169.1h4.8m-2.4-2.4v4.8M962.7 1123.2h4.8m-2.4-2.4v4.8M954 1196.1h4.8m-2.4-2.4v4.8M968.4 1218h4.8m-2.4-2.4v4.8M1073.3 1178.9h4.8m-2.4-2.4v4.8M1081.7 1157.4h4.8m-2.4-2.4v4.8M1064.8 1242.7h4.8m-2.4-2.4v4.8M938 1221.9h4.8m-2.4-2.4v4.8M1119.3 1265.7h4.8m-2.4-2.4v4.8M1090.1 1107.1h4.8m-2.4-2.4v4.8M1043.9 1123.5h4.8m-2.4-2.4v4.8M1083.2 1218.7h4.8m-2.4-2.4v4.8M1052.7 1150.6h4.8m-2.4-2.4v4.8M1121.4 1170h4.8m-2.4-2.4v4.8M952.4 1275.2h4.8m-2.4-2.4v4.8M1114.8 1267.6h4.8m-2.4-2.4v4.8M1142.1 1166.2h4.8m-2.4-2.4v4.8M1102.5 1131.2h4.8m-2.4-2.4v4.8M1045.1 1113.4h4.8m-2.4-2.4v4.8M1102.2 1118.5h4.8m-2.4-2.4v4.8M981.7 1153.8h4.8m-2.4-2.4v4.8M1146 1230.6h4.8m-2.4-2.4v4.8M945.6 1177.2h4.8m-2.4-2.4v4.8M941.2 1206.8h4.8m-2.4-2.4v4.8M1094 1108.9h4.8m-2.4-2.4v4.8M939.8 1182.9h4.8m-2.4-2.4v4.8M1036.8 1089.7h4.8m-2.4-2.4v4.8M1010 1269h4.8m-2.4-2.4v4.8M958.8 1217.8h4.8m-2.4-2.4v4.8M926.5 1203.4h4.8m-2.4-2.4v4.8M953.5 1189.5h4.8m-2.4-2.4v4.8M1037.2 1115h4.8m-2.4-2.4v4.8M1081.8 1121.7h4.8m-2.4-2.4v4.8M1010.8 1094.6h4.8m-2.4-2.4v4.8M1027.9 1103.3h4.8m-2.4-2.4v4.8M1067.6 1238.3h4.8m-2.4-2.4v4.8M1085.4 1169.9h4.8m-2.4-2.4v4.8M964.6 1234.7h4.8m-2.4-2.4v4.8M1038.5 1287.5h4.8m-2.4-2.4v4.8M1043.6 1155.7h4.8m-2.4-2.4v4.8M1119.7 1142.7h4.8m-2.4-2.4v4.8M979.2 1180.2h4.8m-2.4-2.4v4.8M1078.9 1147h4.8m-2.4-2.4v4.8M979.9 1129.5h4.8m-2.4-2.4v4.8M1015.8 1167.7h4.8m-2.4-2.4v4.8M1054.9 1131.7h4.8m-2.4-2.4v4.8M1095.1 1194.7h4.8m-2.4-2.4v4.8M1064.6 1111.9h4.8m-2.4-2.4v4.8M946.8 1215.6h4.8m-2.4-2.4v4.8M1042.5 1144.8h4.8m-2.4-2.4v4.8M1069.3 1110.8h4.8m-2.4-2.4v4.8M968.4 1154.1h4.8m-2.4-2.4v4.8M1010.9 1175.7h4.8m-2.4-2.4v4.8M949.1 1175.2h4.8m-2.4-2.4v4.8M1069.8 1209.8h4.8m-2.4-2.4v4.8M955.4 1133.4h4.8m-2.4-2.4v4.8M948.5 1236.1h4.8m-2.4-2.4v4.8M1054.1 1115.4h4.8m-2.4-2.4v4.8M1024.3 1199.6h4.8m-2.4-2.4v4.8M967.1 1176.9h4.8m-2.4-2.4v4.8M1128.7 1192.8h4.8m-2.4-2.4v4.8M1044.3 1140.2h4.8m-2.4-2.4v4.8M1093.2 1284h4.8m-2.4-2.4v4.8M1136.6 1153.8h4.8m-2.4-2.4v4.8M1145.1 1200.4h4.8m-2.4-2.4v4.8M1118.7 1175.8h4.8m-2.4-2.4v4.8M1120.2 1199.7h4.8m-2.4-2.4v4.8M1097.3 1113.7h4.8m-2.4-2.4v4.8M1034.7 1156.3h4.8m-2.4-2.4v4.8M936.5 1257.7h4.8m-2.4-2.4v4.8M1123.6 1143h4.8m-2.4-2.4v4.8M969.6 1180h4.8m-2.4-2.4v4.8M1064 1134.6h4.8m-2.4-2.4v4.8M1143.2 1251.6h4.8m-2.4-2.4v4.8M1087.2 1150.3h4.8m-2.4-2.4v4.8M1011.4 1251h4.8m-2.4-2.4v4.8M1005 1142.5h4.8m-2.4-2.4v4.8M973.8 1109h4.8m-2.4-2.4v4.8M1073.9 1212.1h4.8m-2.4-2.4v4.8M980.5 1106.9h4.8m-2.4-2.4v4.8M1079.3 1114.3h4.8m-2.4-2.4v4.8M971 1156.6h4.8m-2.4-2.4v4.8M1020.9 1137.3h4.8m-2.4-2.4v4.8M980 1161.9h4.8m-2.4-2.4v4.8M1111.9 1189h4.8m-2.4-2.4v4.8M1040.9 1181.6h4.8m-2.4-2.4v4.8M952.5 1177.7h4.8m-2.4-2.4v4.8M1064.5 1117.4h4.8m-2.4-2.4v4.8M1066.7 1123.4h4.8m-2.4-2.4v4.8M1075.7 1164.1h4.8m-2.4-2.4v4.8M1008.7 1151.3h4.8m-2.4-2.4v4.8M923 1218.8h4.8m-2.4-2.4v4.8M1050.5 1210.8h4.8m-2.4-2.4v4.8M1094.7 1232.8h4.8m-2.4-2.4v4.8M1088.3 1161h4.8m-2.4-2.4v4.8M1073.1 1111h4.8m-2.4-2.4v4.8M1004.6 1277.1h4.8m-2.4-2.4v4.8M1078.2 1162.3h4.8m-2.4-2.4v4.8M953.4 1230.7h4.8m-2.4-2.4v4.8M1067.2 1117.2h4.8m-2.4-2.4v4.8M1037.8 1209.7h4.8m-2.4-2.4v4.8M1019.5 1141.4h4.8m-2.4-2.4v4.8M1067.9 1199.1h4.8m-2.4-2.4v4.8M1018.3 1249.1h4.8m-2.4-2.4v4.8M941.1 1155.8h4.8m-2.4-2.4v4.8M1058.3 1132.4h4.8m-2.4-2.4v4.8M967.4 1264.8h4.8m-2.4-2.4v4.8M974.8 1126.7h4.8m-2.4-2.4v4.8M957 1138.2h4.8m-2.4-2.4v4.8M1019.2 1182.4h4.8m-2.4-2.4v4.8M1024.5 1105h4.8m-2.4-2.4v4.8M1073.4 1117.7h4.8m-2.4-2.4v4.8M1106.3 1155.6h4.8m-2.4-2.4v4.8M981.2 1281.2h4.8m-2.4-2.4v4.8M1124.4 1155.4h4.8m-2.4-2.4v4.8M1068.7 1179.9h4.8m-2.4-2.4v4.8M977.7 1138.7h4.8m-2.4-2.4v4.8M1048 1183.6h4.8m-2.4-2.4v4.8M1053.8 1187.4h4.8m-2.4-2.4v4.8M1004.1 1125h4.8m-2.4-2.4v4.8M1080.5 1161.3h4.8m-2.4-2.4v4.8M1084.2 1141.1h4.8m-2.4-2.4v4.8M1000.2 1199.5h4.8m-2.4-2.4v4.8M1071.4 1314.4h4.8m-2.4-2.4v4.8M1062.9 1212.4h4.8m-2.4-2.4v4.8M1107.4 1213.4h4.8m-2.4-2.4v4.8M988.2 1176.6h4.8m-2.4-2.4v4.8M929.4 1173h4.8m-2.4-2.4v4.8M1022.4 1253.3h4.8m-2.4-2.4v4.8M998.1 1097.2h4.8m-2.4-2.4v4.8M927.9 1192.3h4.8m-2.4-2.4v4.8M1066.6 1274.6h4.8m-2.4-2.4v4.8M1047.7 1282.5h4.8m-2.4-2.4v4.8M1067.1 1144.6h4.8m-2.4-2.4v4.8M1049.4 1192.9h4.8m-2.4-2.4v4.8M1051 1124.4h4.8m-2.4-2.4v4.8M1053.2 1146.3h4.8m-2.4-2.4v4.8M1082.6 1111.8h4.8m-2.4-2.4v4.8M1001.4 1168.5h4.8m-2.4-2.4v4.8M1004.5 1093.6h4.8m-2.4-2.4v4.8M923.1 1212.7h4.8m-2.4-2.4v4.8M1081.6 1283.1h4.8m-2.4-2.4v4.8M1054.5 1194.9h4.8m-2.4-2.4v4.8M954.4 1151.2h4.8m-2.4-2.4v4.8M1013.3 1164.8h4.8m-2.4-2.4v4.8M1032.6 1096.8h4.8m-2.4-2.4v4.8M1104.8 1178h4.8m-2.4-2.4v4.8M1004.8 1229.5h4.8m-2.4-2.4v4.8M1061.6 1165.8h4.8m-2.4-2.4v4.8M1066.6 1138.7h4.8m-2.4-2.4v4.8M1122.5 1159.1h4.8m-2.4-2.4v4.8M916.6 1204.8h4.8m-2.4-2.4v4.8M1009.9 1230h4.8m-2.4-2.4v4.8M996.7 1146.7h4.8m-2.4-2.4v4.8M1038.1 1238.7h4.8m-2.4-2.4v4.8M1016 1138.9h4.8m-2.4-2.4v4.8M1137.7 1265.5h4.8m-2.4-2.4v4.8M1033.1 1108h4.8m-2.4-2.4v4.8M1039.2 1224.6h4.8m-2.4-2.4v4.8M1133.7 1253.2h4.8m-2.4-2.4v4.8M944 1207.8h4.8m-2.4-2.4v4.8M1115.2 1222h4.8m-2.4-2.4v4.8M988.1 1248.7h4.8m-2.4-2.4v4.8M1012.5 1106.6h4.8m-2.4-2.4v4.8M1107.3 1138h4.8m-2.4-2.4v4.8M1127.3 1136.4h4.8m-2.4-2.4v4.8M1074.1 1161.7h4.8m-2.4-2.4v4.8M1044.1 1237h4.8m-2.4-2.4v4.8M948.5 1147.1h4.8m-2.4-2.4v4.8M959.8 1220.9h4.8m-2.4-2.4v4.8M1051.1 1238h4.8m-2.4-2.4v4.8M1044 1152.4h4.8m-2.4-2.4v4.8M1070.7 1187.2h4.8m-2.4-2.4v4.8M1144.1 1174.3h4.8m-2.4-2.4v4.8M1115.3 1143h4.8m-2.4-2.4v4.8M921.3 1233.5h4.8m-2.4-2.4v4.8M1019.9 1180.2h4.8m-2.4-2.4v4.8M947 1212.9h4.8m-2.4-2.4v4.8M1091.3 1111.6h4.8m-2.4-2.4v4.8M1093.7 1183.4h4.8m-2.4-2.4v4.8M932.2 1255.5h4.8m-2.4-2.4v4.8M946.9 1202.7h4.8m-2.4-2.4v4.8M1114.7 1205.5h4.8m-2.4-2.4v4.8M1041.5 1098h4.8m-2.4-2.4v4.8M1121.2 1150.1h4.8m-2.4-2.4v4.8M976.4 1223.6h4.8m-2.4-2.4v4.8M1030.7 1211.6h4.8m-2.4-2.4v4.8M967.6 1145.6h4.8m-2.4-2.4v4.8M972.7 1132.4h4.8m-2.4-2.4v4.8M1089.4 1128h4.8m-2.4-2.4v4.8M966.1 1129.4h4.8m-2.4-2.4v4.8M1077.7 1115.9h4.8m-2.4-2.4v4.8M971.2 1254.6h4.8m-2.4-2.4v4.8M1137.8 1162h4.8m-2.4-2.4v4.8M1076 1134.6h4.8m-2.4-2.4v4.8M998 1166.7h4.8m-2.4-2.4v4.8M1064.5 1182.9h4.8m-2.4-2.4v4.8M981.3 1235.7h4.8m-2.4-2.4v4.8" stroke="#4292c6" stroke-width="2.3" fill="none"/><path d="M1017.8 1162h4.8m-2.4-2.4v4.8M1126.4 1184.8h4.8m-2.4-2.4v4.8M1043 1172.4h4.8m-2.4-2.4v4.8M1130.9 1165.7h4.8m-2.4-2.4v4.8M991 1256h4.8m-2.4-2.4v4.8M978.4 1246.5h4.8m-2.4-2.4v4.8M1089.8 1122.1h4.8m-2.4-2.4v4.8M1085.9 1190.5h4.8m-2.4-2.4v4.8M983.8 1219.3h4.8m-2.4-2.4v4.8M1135.2 1276h4.8m-2.4-2.4v4.8M1062.7 1332.9h4.8m-2.4-2.4v4.8M1075.8 1108.1h4.8m-2.4-2.4v4.8M1105.5 1268.9h4.8m-2.4-2.4v4.8M1096.5 1215.6h4.8m-2.4-2.4v4.8M973.7 1303.2h4.8m-2.4-2.4v4.8M991.5 1280.5h4.8m-2.4-2.4v4.8M991.2 1230.1h4.8m-2.4-2.4v4.8M985.3 1157.3h4.8m-2.4-2.4v4.8M940.6 1195.3h4.8m-2.4-2.4v4.8M974.8 1197.7h4.8m-2.4-2.4v4.8M927.4 1177.3h4.8m-2.4-2.4v4.8M991.5 1191.3h4.8m-2.4-2.4v4.8M986.6 1154.5h4.8m-2.4-2.4v4.8M1102.6 1232.1h4.8m-2.4-2.4v4.8M983.6 1231.7h4.8m-2.4-2.4v4.8M1006.4 1266h4.8m-2.4-2.4v4.8M941 1216.7h4.8m-2.4-2.4v4.8M1025.8 1310h4.8m-2.4-2.4v4.8M1079.6 1240.9h4.8m-2.4-2.4v4.8M1111.6 1240.1h4.8m-2.4-2.4v4.8M944.1 1244.3h4.8m-2.4-2.4v4.8M1061.4 1247.1h4.8m-2.4-2.4v4.8M979.9 1289.2h4.8m-2.4-2.4v4.8M981 1191.6h4.8m-2.4-2.4v4.8M1056 1209.7h4.8m-2.4-2.4v4.8M1101.9 1323.4h4.8m-2.4-2.4v4.8M978.2 1152.1h4.8m-2.4-2.4v4.8M1125.9 1241.3h4.8m-2.4-2.4v4.8M1076.3 1146.9h4.8m-2.4-2.4v4.8M991.6 1179.9h4.8m-2.4-2.4v4.8M982.9 1127.1h4.8m-2.4-2.4v4.8M1037.7 1184.5h4.8m-2.4-2.4v4.8M1090.7 1187.1h4.8m-2.4-2.4v4.8M1015.3 1144.2h4.8m-2.4-2.4v4.8M1031.5 1151h4.8m-2.4-2.4v4.8M1131.4 1209.6h4.8m-2.4-2.4v4.8M1072.5 1125.5h4.8m-2.4-2.4v4.8M1128.4 1140.6h4.8m-2.4-2.4v4.8M1061.7 1199h4.8m-2.4-2.4v4.8M1114.5 1200.2h4.8m-2.4-2.4v4.8M924.5 1239.9h4.8m-2.4-2.4v4.8M942.9 1288.2h4.8m-2.4-2.4v4.8M957.9 1146h4.8m-2.4-2.4v4.8M1104.1 1121.3h4.8m-2.4-2.4v4.8M1047.6 1252.6h4.8m-2.4-2.4v4.8M969.5 1166.2h4.8m-2.4-2.4v4.8M943.5 1183.9h4.8m-2.4-2.4v4.8M1084.3 1212.2h4.8m-2.4-2.4v4.8M1034.1 1282.3h4.8m-2.4-2.4v4.8M1105.6 1283.9h4.8m-2.4-2.4v4.8M1104.5 1255.9h4.8m-2.4-2.4v4.8M1122.9 1308.6h4.8m-2.4-2.4v4.8M933 1194.5h4.8m-2.4-2.4v4.8M973.1 1220.3h4.8m-2.4-2.4v4.8M999.6 1188.1h4.8m-2.4-2.4v4.8M991.8 1225h4.8m-2.4-2.4v4.8M1027.3 1126.8h4.8m-2.4-2.4v4.8M1103.8 1139.6h4.8m-2.4-2.4v4.8M1077.6 1181.9h4.8m-2.4-2.4v4.8M1026.8 1304.6h4.8m-2.4-2.4v4.8M1023.7 1167.5h4.8m-2.4-2.4v4.8M980.6 1125.7h4.8m-2.4-2.4v4.8M942.5 1275.5h4.8m-2.4-2.4v4.8M969.1 1286h4.8m-2.4-2.4v4.8M1052.1 1303.1h4.8m-2.4-2.4v4.8M984.5 1180.6h4.8m-2.4-2.4v4.8M949.7 1240.2h4.8m-2.4-2.4v4.8M988 1243.8h4.8m-2.4-2.4v4.8M1124.9 1275.8h4.8m-2.4-2.4v4.8M972.6 1160.1h4.8m-2.4-2.4v4.8M1089 1156.9h4.8m-2.4-2.4v4.8M1048.9 1123.9h4.8m-2.4-2.4v4.8M1097.5 1124.9h4.8m-2.4-2.4v4.8M940.4 1275.1h4.8m-2.4-2.4v4.8M992.4 1132.6h4.8m-2.4-2.4v4.8M1084.3 1254.4h4.8m-2.4-2.4v4.8M1125.3 1281.5h4.8m-2.4-2.4v4.8M1131.3 1201.7h4.8m-2.4-2.4v4.8M1119.6 1193.9h4.8m-2.4-2.4v4.8M1001.5 1211.6h4.8m-2.4-2.4v4.8M1119.1 1153.7h4.8m-2.4-2.4v4.8M1102.1 1171.1h4.8m-2.4-2.4v4.8M965.9 1180.5h4.8m-2.4-2.4v4.8M999.1 1105.1h4.8m-2.4-2.4v4.8M1121.1 1210.4h4.8m-2.4-2.4v4.8M989.7 1276.5h4.8m-2.4-2.4v4.8M1011.9 1192.4h4.8m-2.4-2.4v4.8M1048 1113.9h4.8m-2.4-2.4v4.8M949.5 1265.7h4.8m-2.4-2.4v4.8M1090.9 1162.3h4.8m-2.4-2.4v4.8M969.3 1170.7h4.8m-2.4-2.4v4.8M1028.7 1162.6h4.8m-2.4-2.4v4.8M1014.9 1126.4h4.8m-2.4-2.4v4.8M917.9 1221.4h4.8m-2.4-2.4v4.8M1054.2 1128.9h4.8m-2.4-2.4v4.8M1088.6 1115.1h4.8m-2.4-2.4v4.8M1054.9 1244.2h4.8m-2.4-2.4v4.8M1102.5 1272.5h4.8m-2.4-2.4v4.8M1046.4 1287h4.8m-2.4-2.4v4.8M1135 1159.9h4.8m-2.4-2.4v4.8M974.5 1165.5h4.8m-2.4-2.4v4.8M1112.9 1134.9h4.8m-2.4-2.4v4.8M1083.5 1126.2h4.8m-2.4-2.4v4.8M946.8 1182.8h4.8m-2.4-2.4v4.8M1103.4 1148.7h4.8m-2.4-2.4v4.8M1014.5 1209.7h4.8m-2.4-2.4v4.8M1002.9 1151.6h4.8m-2.4-2.4v4.8M1012.1 1115.9h4.8m-2.4-2.4v4.8M983.2 1173.6h4.8m-2.4-2.4v4.8M997.6 1271.6h4.8m-2.4-2.4v4.8M1024.4 1294.5h4.8m-2.4-2.4v4.8M1061.6 1251.2h4.8m-2.4-2.4v4.8M1047.6 1194.4h4.8m-2.4-2.4v4.8M1062.6 1131.5h4.8m-2.4-2.4v4.8M980.6 1134.3h4.8m-2.4-2.4v4.8M984.4 1195.6h4.8m-2.4-2.4v4.8M1032.5 1166.8h4.8m-2.4-2.4v4.8M1077.9 1256.5h4.8m-2.4-2.4v4.8M977.2 1188.2h4.8m-2.4-2.4v4.8M1126.6 1212.6h4.8m-2.4-2.4v4.8M1022.2 1145.7h4.8m-2.4-2.4v4.8M1112.5 1128.2h4.8m-2.4-2.4v4.8M979.8 1274.4h4.8m-2.4-2.4v4.8M998 1152h4.8m-2.4-2.4v4.8M1068.4 1223.3h4.8m-2.4-2.4v4.8M1075 1204.2h4.8m-2.4-2.4v4.8M1117.3 1198h4.8m-2.4-2.4v4.8M1120.4 1222.8h4.8m-2.4-2.4v4.8M946.9 1277.8h4.8m-2.4-2.4v4.8M1077.2 1120.5h4.8m-2.4-2.4v4.8M1061.4 1149.7h4.8m-2.4-2.4v4.8M945.6 1192.2h4.8m-2.4-2.4v4.8M1018.2 1300.4h4.8m-2.4-2.4v4.8M1009.4 1186.1h4.8m-2.4-2.4v4.8M1118.3 1216.7h4.8m-2.4-2.4v4.8M942.6 1189.9h4.8m-2.4-2.4v4.8M1096.9 1150.6h4.8m-2.4-2.4v4.8M1062.5 1158.3h4.8m-2.4-2.4v4.8M927.9 1212.5h4.8m-2.4-2.4v4.8M1068.1 1233.8h4.8m-2.4-2.4v4.8M1001.8 1179.2h4.8m-2.4-2.4v4.8M1041.4 1186.7h4.8m-2.4-2.4v4.8M1016.5 1201.6h4.8m-2.4-2.4v4.8M944 1198.5h4.8m-2.4-2.4v4.8M1053.7 1181.9h4.8m-2.4-2.4v4.8M1136.6 1189.9h4.8m-2.4-2.4v4.8M1142.8 1170.5h4.8m-2.4-2.4v4.8M968.9 1182.3h4.8m-2.4-2.4v4.8M1060.1 1153.3h4.8m-2.4-2.4v4.8M1019.8 1144.5h4.8m-2.4-2.4v4.8M1066.9 1262.2h4.8m-2.4-2.4v4.8M969.8 1282.9h4.8m-2.4-2.4v4.8M949.2 1229.2h4.8m-2.4-2.4v4.8M989.8 1115.7h4.8m-2.4-2.4v4.8M999.2 1147.8h4.8m-2.4-2.4v4.8M1028.6 1203.4h4.8m-2.4-2.4v4.8M1067.4 1242.9h4.8m-2.4-2.4v4.8M1057 1201.3h4.8m-2.4-2.4v4.8M939.9 1231h4.8m-2.4-2.4v4.8M1104.2 1173.2h4.8m-2.4-2.4v4.8M1052.5 1168.7h4.8m-2.4-2.4v4.8M973.1 1155.2h4.8m-2.4-2.4v4.8M977 1107.3h4.8m-2.4-2.4v4.8M986.6 1241.6h4.8m-2.4-2.4v4.8M1138.7 1164.8h4.8m-2.4-2.4v4.8M985.7 1132.9h4.8m-2.4-2.4v4.8M959.4 1181.3h4.8m-2.4-2.4v4.8M979.7 1177.5h4.8m-2.4-2.4v4.8M1019.2 1133.5h4.8m-2.4-2.4v4.8M917.7 1215.3h4.8m-2.4-2.4v4.8M978.1 1305.7h4.8m-2.4-2.4v4.8M918.4 1195.3h4.8m-2.4-2.4v4.8M1142.2 1284.7h4.8m-2.4-2.4v4.8M1011.7 1241.1h4.8m-2.4-2.4v4.8M1125 1158.2h4.8m-2.4-2.4v4.8M1131.3 1175.4h4.8m-2.4-2.4v4.8M997.3 1310.5h4.8m-2.4-2.4v4.8M973.6 1231.3h4.8m-2.4-2.4v4.8M1059.2 1285.2h4.8m-2.4-2.4v4.8M1056.9 1122.2h4.8m-2.4-2.4v4.8M961.1 1218.6h4.8m-2.4-2.4v4.8M1124.6 1186.4h4.8m-2.4-2.4v4.8M1013.2 1282.7h4.8m-2.4-2.4v4.8M1077.9 1312h4.8m-2.4-2.4v4.8M1011.7 1292.3h4.8m-2.4-2.4v4.8M1098.4 1206.9h4.8m-2.4-2.4v4.8M1124.9 1249.9h4.8m-2.4-2.4v4.8M968.6 1201h4.8m-2.4-2.4v4.8M1008.5 1107.1h4.8m-2.4-2.4v4.8M987.9 1260.8h4.8m-2.4-2.4v4.8M999.5 1258.7h4.8m-2.4-2.4v4.8M1054.1 1293.7h4.8m-2.4-2.4v4.8M1024.3 1149.7h4.8m-2.4-2.4v4.8M1050.9 1207.7h4.8m-2.4-2.4v4.8M1030.4 1097.1h4.8m-2.4-2.4v4.8M1079.6 1227.1h4.8m-2.4-2.4v4.8M1009.5 1102.1h4.8m-2.4-2.4v4.8M1080.6 1189.1h4.8m-2.4-2.4v4.8M926.5 1216.9h4.8m-2.4-2.4v4.8M1126.3 1231.6h4.8m-2.4-2.4v4.8M1114.1 1247.6h4.8m-2.4-2.4v4.8M1039.2 1281h4.8m-2.4-2.4v4.8M997 1299.2h4.8m-2.4-2.4v4.8M1003.6 1168.2h4.8m-2.4-2.4v4.8M942.3 1178.5h4.8m-2.4-2.4v4.8M975 1114.7h4.8m-2.4-2.4v4.8M1090 1205.2h4.8m-2.4-2.4v4.8M1000.9 1137.1h4.8m-2.4-2.4v4.8M992.5 1187.2h4.8m-2.4-2.4v4.8M1061.7 1207.8h4.8m-2.4-2.4v4.8M942.2 1223.8h4.8m-2.4-2.4v4.8M1033 1315.2h4.8m-2.4-2.4v4.8M1118.3 1163.1h4.8m-2.4-2.4v4.8M1039.3 1232.5h4.8m-2.4-2.4v4.8M992.7 1219.9h4.8m-2.4-2.4v4.8M1032.5 1118.8h4.8m-2.4-2.4v4.8M1006.1 1199.4h4.8m-2.4-2.4v4.8M1099.8 1162.2h4.8m-2.4-2.4v4.8M948 1253.6h4.8m-2.4-2.4v4.8M1078 1153.9h4.8m-2.4-2.4v4.8M980.8 1118.4h4.8m-2.4-2.4v4.8M1023.5 1120.2h4.8m-2.4-2.4v4.8M1082.5 1164h4.8m-2.4-2.4v4.8M990 1208.6h4.8m-2.4-2.4v4.8M1128.9 1266.4h4.8m-2.4-2.4v4.8M1138.2 1249.1h4.8m-2.4-2.4v4.8M1005 1250.9h4.8m-2.4-2.4v4.8M1128.7 1163.8h4.8m-2.4-2.4v4.8M1035.3 1172.6h4.8m-2.4-2.4v4.8M1124.1 1137.2h4.8m-2.4-2.4v4.8M988 1128.4h4.8m-2.4-2.4v4.8M977.1 1303h4.8m-2.4-2.4v4.8M961.9 1260.3h4.8m-2.4-2.4v4.8M1057 1216.9h4.8m-2.4-2.4v4.8M925.6 1258.5h4.8m-2.4-2.4v4.8M1013.8 1176.7h4.8m-2.4-2.4v4.8M938.7 1177h4.8m-2.4-2.4v4.8M987.2 1147.3h4.8m-2.4-2.4v4.8M996 1312.5h4.8m-2.4-2.4v4.8M934.4 1242h4.8m-2.4-2.4v4.8M998.2 1217.5h4.8m-2.4-2.4v4.8M1004.6 1237.7h4.8m-2.4-2.4v4.8M993.4 1157.6h4.8m-2.4-2.4v4.8M965.8 1291.9h4.8m-2.4-2.4v4.8M956.8 1225.3h4.8m-2.4-2.4v4.8M1028.4 1176.4h4.8m-2.4-2.4v4.8M1125 1160.7h4.8m-2.4-2.4v4.8M1116.2 1231.5h4.8m-2.4-2.4v4.8M961.3 1234.2h4.8m-2.4-2.4v4.8M1134.9 1143.4h4.8m-2.4-2.4v4.8M1051.2 1253.8h4.8m-2.4-2.4v4.8M942.1 1176.1h4.8m-2.4-2.4v4.8M1075.1 1104.2h4.8m-2.4-2.4v4.8M1092.8 1136.9h4.8m-2.4-2.4v4.8M1011 1235h4.8m-2.4-2.4v4.8M1047.6 1140.3h4.8m-2.4-2.4v4.8M1120.3 1241.9h4.8m-2.4-2.4v4.8M1016.7 1086.1h4.8m-2.4-2.4v4.8M968.8 1256.3h4.8m-2.4-2.4v4.8M939.6 1172.3h4.8m-2.4-2.4v4.8M1090.7 1241.7h4.8m-2.4-2.4v4.8M994 1233.8h4.8m-2.4-2.4v4.8M946 1150.2h4.8m-2.4-2.4v4.8M1028.4 1090.4h4.8m-2.4-2.4v4.8M1046.5 1108.3h4.8m-2.4-2.4v4.8M1082 1230h4.8m-2.4-2.4v4.8M915.9 1225h4.8m-2.4-2.4v4.8M1050.3 1195.8h4.8m-2.4-2.4v4.8M1017.8 1205.2h4.8m-2.4-2.4v4.8M1141.8 1292.2h4.8m-2.4-2.4v4.8M979.8 1243.7h4.8m-2.4-2.4v4.8M1095.8 1157.8h4.8m-2.4-2.4v4.8M1139.3 1215.5h4.8m-2.4-2.4v4.8M939.7 1159.6h4.8m-2.4-2.4v4.8M1113.2 1275.6h4.8m-2.4-2.4v4.8M1001.8 1206.7h4.8m-2.4-2.4v4.8M1072.4 1151.8h4.8m-2.4-2.4v4.8M1109.8 1180h4.8m-2.4-2.4v4.8M1103.5 1160.5h4.8m-2.4-2.4v4.8" stroke="#3282be" stroke-width="2.3" fill="none"/><path d="M1002.6 1204.3h4.8m-2.4-2.4v4.8M916.9 1227.8h4.8m-2.4-2.4v4.8M1108.8 1285.4h4.8m-2.4-2.4v4.8M1128.8 1198h4.8m-2.4-2.4v4.8M1046.2 1259.4h4.8m-2.4-2.4v4.8M1074.2 1256.2h4.8m-2.4-2.4v4.8M1079.5 1177.2h4.8m-2.4-2.4v4.8M1023.1 1154.4h4.8m-2.4-2.4v4.8M1062.5 1121.3h4.8m-2.4-2.4v4.8M1106.1 1170.8h4.8m-2.4-2.4v4.8M1074.2 1312.8h4.8m-2.4-2.4v4.8M1096.5 1276.3h4.8m-2.4-2.4v4.8M1073.5 1247.9h4.8m-2.4-2.4v4.8M1127.1 1199.8h4.8m-2.4-2.4v4.8M1102.8 1304.2h4.8m-2.4-2.4v4.8M1092.5 1232.8h4.8m-2.4-2.4v4.8M1086.4 1218.9h4.8m-2.4-2.4v4.8M948.3 1226.5h4.8m-2.4-2.4v4.8M950 1211.5h4.8m-2.4-2.4v4.8M987.8 1120.6h4.8m-2.4-2.4v4.8M952.7 1192.4h4.8m-2.4-2.4v4.8M951.7 1143.3h4.8m-2.4-2.4v4.8M1127.6 1306h4.8m-2.4-2.4v4.8M1078 1305.8h4.8m-2.4-2.4v4.8M1057.6 1187.7h4.8m-2.4-2.4v4.8M1121.3 1293.1h4.8m-2.4-2.4v4.8M1102.4 1128.6h4.8m-2.4-2.4v4.8M1086.7 1135.8h4.8m-2.4-2.4v4.8M956 1210.5h4.8m-2.4-2.4v4.8M923.9 1246.5h4.8m-2.4-2.4v4.8M1038.6 1157.1h4.8m-2.4-2.4v4.8M958.7 1189.9h4.8m-2.4-2.4v4.8M1014.4 1213.7h4.8m-2.4-2.4v4.8M971.1 1168.7h4.8m-2.4-2.4v4.8M995.1 1190.1h4.8m-2.4-2.4v4.8M1085.2 1155.4h4.8m-2.4-2.4v4.8M1073.5 1267.8h4.8m-2.4-2.4v4.8M1016.2 1181.2h4.8m-2.4-2.4v4.8M1012.8 1220.6h4.8m-2.4-2.4v4.8M939.9 1199.1h4.8m-2.4-2.4v4.8M1033.2 1226h4.8m-2.4-2.4v4.8M1098.8 1146.3h4.8m-2.4-2.4v4.8M1009.6 1302.2h4.8m-2.4-2.4v4.8M1086.4 1249.5h4.8m-2.4-2.4v4.8M1020.1 1238.2h4.8m-2.4-2.4v4.8M1029.7 1225.6h4.8m-2.4-2.4v4.8M970.2 1187.9h4.8m-2.4-2.4v4.8M1107.5 1148.7h4.8m-2.4-2.4v4.8M1026 1243.9h4.8m-2.4-2.4v4.8M980.7 1231.4h4.8m-2.4-2.4v4.8M1106.4 1227.1h4.8m-2.4-2.4v4.8M1062.8 1303.5h4.8m-2.4-2.4v4.8M1095.4 1240.9h4.8m-2.4-2.4v4.8M1029.5 1259.9h4.8m-2.4-2.4v4.8M1123.7 1242.7h4.8m-2.4-2.4v4.8M1115.6 1283.1h4.8m-2.4-2.4v4.8M950.6 1200.5h4.8m-2.4-2.4v4.8M986.2 1296.9h4.8m-2.4-2.4v4.8M927.3 1244.3h4.8m-2.4-2.4v4.8M1061 1171h4.8m-2.4-2.4v4.8M1065.7 1215.3h4.8m-2.4-2.4v4.8M1001.4 1116.5h4.8m-2.4-2.4v4.8M1088 1189.6h4.8m-2.4-2.4v4.8M999.4 1181h4.8m-2.4-2.4v4.8M1082.5 1197.9h4.8m-2.4-2.4v4.8M1111.5 1277.7h4.8m-2.4-2.4v4.8M1066.6 1291.4h4.8m-2.4-2.4v4.8M974 1157.9h4.8m-2.4-2.4v4.8M990.5 1219.2h4.8m-2.4-2.4v4.8M1114.1 1295.6h4.8m-2.4-2.4v4.8M1039.2 1270.1h4.8m-2.4-2.4v4.8M1105 1230.4h4.8m-2.4-2.4v4.8M1082 1280h4.8m-2.4-2.4v4.8M1031.9 1256.3h4.8m-2.4-2.4v4.8M981.1 1100.5h4.8m-2.4-2.4v4.8M1046.4 1317.9h4.8m-2.4-2.4v4.8M1087.5 1180.1h4.8m-2.4-2.4v4.8M1100.8 1178.7h4.8m-2.4-2.4v4.8M1067.7 1229.6h4.8m-2.4-2.4v4.8M1098.2 1186.9h4.8m-2.4-2.4v4.8M945.8 1154.9h4.8m-2.4-2.4v4.8M960.1 1265.4h4.8m-2.4-2.4v4.8M1138.1 1176.6h4.8m-2.4-2.4v4.8M984.1 1212.1h4.8m-2.4-2.4v4.8M1147.9 1265h4.8m-2.4-2.4v4.8M937.6 1192.2h4.8m-2.4-2.4v4.8M971.6 1181.7h4.8m-2.4-2.4v4.8M1019 1277.2h4.8m-2.4-2.4v4.8M1022.2 1133.4h4.8m-2.4-2.4v4.8M956.2 1282.9h4.8m-2.4-2.4v4.8M979.7 1209.6h4.8m-2.4-2.4v4.8M1017.9 1216.4h4.8m-2.4-2.4v4.8M971.4 1178.3h4.8m-2.4-2.4v4.8M1075.8 1196.6h4.8m-2.4-2.4v4.8M952 1255.8h4.8m-2.4-2.4v4.8M1077.4 1212.5h4.8m-2.4-2.4v4.8M1048 1327.4h4.8m-2.4-2.4v4.8M1047.6 1294h4.8m-2.4-2.4v4.8M1086.6 1291.1h4.8m-2.4-2.4v4.8M1102 1181.7h4.8m-2.4-2.4v4.8M1086 1104.7h4.8m-2.4-2.4v4.8M1100.4 1157.3h4.8m-2.4-2.4v4.8M1044.3 1233.6h4.8m-2.4-2.4v4.8M1047.1 1262.9h4.8m-2.4-2.4v4.8M1136.1 1253.4h4.8m-2.4-2.4v4.8M1111 1265.8h4.8m-2.4-2.4v4.8M1125.7 1268.7h4.8m-2.4-2.4v4.8M1039.9 1302.8h4.8m-2.4-2.4v4.8M1122.6 1223.7h4.8m-2.4-2.4v4.8M978.6 1280.9h4.8m-2.4-2.4v4.8M1067.2 1259.1h4.8m-2.4-2.4v4.8M1105.6 1186h4.8m-2.4-2.4v4.8M1028.6 1188.2h4.8m-2.4-2.4v4.8M991.2 1105.5h4.8m-2.4-2.4v4.8M963.9 1273.7h4.8m-2.4-2.4v4.8M969.9 1262.8h4.8m-2.4-2.4v4.8M1088.1 1184.2h4.8m-2.4-2.4v4.8M1102.1 1195.2h4.8m-2.4-2.4v4.8M1005.5 1106.7h4.8m-2.4-2.4v4.8M1106.7 1251.6h4.8m-2.4-2.4v4.8M1100.3 1260.3h4.8m-2.4-2.4v4.8M956.6 1288.6h4.8m-2.4-2.4v4.8M936.7 1235.4h4.8m-2.4-2.4v4.8M1079.1 1301.9h4.8m-2.4-2.4v4.8M984.2 1106.6h4.8m-2.4-2.4v4.8M932.7 1270.7h4.8m-2.4-2.4v4.8M1139.7 1182.3h4.8m-2.4-2.4v4.8M1127.5 1294.1h4.8m-2.4-2.4v4.8M1128.5 1226.2h4.8m-2.4-2.4v4.8M924.2 1261.9h4.8m-2.4-2.4v4.8M957.7 1231.1h4.8m-2.4-2.4v4.8M984.7 1168.8h4.8m-2.4-2.4v4.8M1079.6 1251.2h4.8m-2.4-2.4v4.8M1115.1 1312.8h4.8m-2.4-2.4v4.8M988.3 1221.2h4.8m-2.4-2.4v4.8M1007.8 1110.8h4.8m-2.4-2.4v4.8M941.2 1152h4.8m-2.4-2.4v4.8M979.2 1269.5h4.8m-2.4-2.4v4.8M1066 1167.5h4.8m-2.4-2.4v4.8M1047.1 1186.8h4.8m-2.4-2.4v4.8M988.4 1238.9h4.8m-2.4-2.4v4.8M1129.3 1181.1h4.8m-2.4-2.4v4.8M1083.4 1266.3h4.8m-2.4-2.4v4.8M986.3 1284.4h4.8m-2.4-2.4v4.8M1071 1220.5h4.8m-2.4-2.4v4.8M986.5 1277.9h4.8m-2.4-2.4v4.8M1086 1238.1h4.8m-2.4-2.4v4.8M942 1270.9h4.8m-2.4-2.4v4.8M1053.8 1209.8h4.8m-2.4-2.4v4.8M995.1 1315.1h4.8m-2.4-2.4v4.8M1121.5 1162.1h4.8m-2.4-2.4v4.8M994.6 1181.5h4.8m-2.4-2.4v4.8M1118.8 1191.7h4.8m-2.4-2.4v4.8M1123.5 1283.3h4.8m-2.4-2.4v4.8M1128 1290.9h4.8m-2.4-2.4v4.8M955 1174.7h4.8m-2.4-2.4v4.8M1056 1237.7h4.8m-2.4-2.4v4.8M991.1 1244.1h4.8m-2.4-2.4v4.8M1002.7 1257.9h4.8m-2.4-2.4v4.8M1036.8 1225.1h4.8m-2.4-2.4v4.8M1015.3 1229.8h4.8m-2.4-2.4v4.8M954.1 1250.5h4.8m-2.4-2.4v4.8M1014.9 1141.3h4.8m-2.4-2.4v4.8M1038 1213.2h4.8m-2.4-2.4v4.8M1024.9 1257.5h4.8m-2.4-2.4v4.8M918.7 1234.1h4.8m-2.4-2.4v4.8M1102 1264.2h4.8m-2.4-2.4v4.8M1036.3 1202.1h4.8m-2.4-2.4v4.8M1143.6 1257.6h4.8m-2.4-2.4v4.8M1036.6 1331.4h4.8m-2.4-2.4v4.8M1010.4 1285.9h4.8m-2.4-2.4v4.8M1110.9 1196.8h4.8m-2.4-2.4v4.8M1065.1 1202.4h4.8m-2.4-2.4v4.8M1087.9 1174.6h4.8m-2.4-2.4v4.8M1020 1284.6h4.8m-2.4-2.4v4.8M1036.9 1285.2h4.8m-2.4-2.4v4.8M1084.1 1119.4h4.8m-2.4-2.4v4.8M1096.3 1212.6h4.8m-2.4-2.4v4.8M919.4 1247.1h4.8m-2.4-2.4v4.8M957.8 1228.6h4.8m-2.4-2.4v4.8M1002.1 1282.2h4.8m-2.4-2.4v4.8M1055.9 1326.1h4.8m-2.4-2.4v4.8M994.1 1260.8h4.8m-2.4-2.4v4.8M1072.7 1251.8h4.8m-2.4-2.4v4.8M992.5 1277.1h4.8m-2.4-2.4v4.8M924.5 1225.6h4.8m-2.4-2.4v4.8M950.4 1192.4h4.8m-2.4-2.4v4.8M957.6 1205.8h4.8m-2.4-2.4v4.8M1056 1125.7h4.8m-2.4-2.4v4.8M1109.7 1289.6h4.8m-2.4-2.4v4.8M1038.5 1111.1h4.8m-2.4-2.4v4.8M978.6 1286.7h4.8m-2.4-2.4v4.8M952 1282.7h4.8m-2.4-2.4v4.8M1140.9 1254.3h4.8m-2.4-2.4v4.8M1080.5 1271.5h4.8m-2.4-2.4v4.8M984 1236h4.8m-2.4-2.4v4.8M1067.9 1293.7h4.8m-2.4-2.4v4.8M1063.3 1233.3h4.8m-2.4-2.4v4.8M1056.2 1286.7h4.8m-2.4-2.4v4.8M1118.1 1212.4h4.8m-2.4-2.4v4.8M1047.7 1214.3h4.8m-2.4-2.4v4.8M1096 1269.2h4.8m-2.4-2.4v4.8M993.8 1148.9h4.8m-2.4-2.4v4.8M997.9 1246.3h4.8m-2.4-2.4v4.8M1049.3 1322.2h4.8m-2.4-2.4v4.8M1067.1 1332.5h4.8m-2.4-2.4v4.8M1141.8 1273.7h4.8m-2.4-2.4v4.8M1068.1 1298.3h4.8m-2.4-2.4v4.8M941.9 1280.3h4.8m-2.4-2.4v4.8M1129.8 1245.9h4.8m-2.4-2.4v4.8M1070.2 1195h4.8m-2.4-2.4v4.8M1043.3 1292.5h4.8m-2.4-2.4v4.8M1108.5 1165.6h4.8m-2.4-2.4v4.8M1014 1200h4.8m-2.4-2.4v4.8M1040.7 1326.6h4.8m-2.4-2.4v4.8M982.1 1284.9h4.8m-2.4-2.4v4.8M1110.9 1234.5h4.8m-2.4-2.4v4.8M972.3 1266.1h4.8m-2.4-2.4v4.8M972.9 1276.9h4.8m-2.4-2.4v4.8M1129.7 1222.3h4.8m-2.4-2.4v4.8M937.7 1230h4.8m-2.4-2.4v4.8M953 1294.5h4.8m-2.4-2.4v4.8M988.4 1138.8h4.8m-2.4-2.4v4.8M1020.4 1206.8h4.8m-2.4-2.4v4.8M1006.5 1299.1h4.8m-2.4-2.4v4.8M1053.8 1197.9h4.8m-2.4-2.4v4.8M1006.6 1162.6h4.8m-2.4-2.4v4.8M958.8 1240.3h4.8m-2.4-2.4v4.8M1085 1257.6h4.8m-2.4-2.4v4.8M1064.9 1161.9h4.8m-2.4-2.4v4.8M1070 1250.5h4.8m-2.4-2.4v4.8M1109.1 1307.1h4.8m-2.4-2.4v4.8M1028.5 1182.7h4.8m-2.4-2.4v4.8M1028.2 1282.2h4.8m-2.4-2.4v4.8M994.5 1127.1h4.8m-2.4-2.4v4.8M1107.8 1185.1h4.8m-2.4-2.4v4.8M984 1124.1h4.8m-2.4-2.4v4.8M1044.8 1289.2h4.8m-2.4-2.4v4.8M1025.7 1146.7h4.8m-2.4-2.4v4.8M934.6 1207.8h4.8m-2.4-2.4v4.8M1081.4 1273.9h4.8m-2.4-2.4v4.8M935.7 1248.3h4.8m-2.4-2.4v4.8M1049.3 1176.5h4.8m-2.4-2.4v4.8M1113.7 1227.8h4.8m-2.4-2.4v4.8M1127.7 1270.6h4.8m-2.4-2.4v4.8M1138.4 1283.7h4.8m-2.4-2.4v4.8M972.8 1138.4h4.8m-2.4-2.4v4.8M1046.2 1307.7h4.8m-2.4-2.4v4.8M1143.6 1244.9h4.8m-2.4-2.4v4.8M1130.5 1280h4.8m-2.4-2.4v4.8M1122.4 1231h4.8m-2.4-2.4v4.8M1102.9 1110.6h4.8m-2.4-2.4v4.8M1051.8 1160.4h4.8m-2.4-2.4v4.8M1003.4 1317.3h4.8m-2.4-2.4v4.8M1079.5 1197.3h4.8m-2.4-2.4v4.8M1085.7 1311.1h4.8m-2.4-2.4v4.8M1040.7 1242.8h4.8m-2.4-2.4v4.8M1050.2 1244.3h4.8m-2.4-2.4v4.8M1127.3 1279h4.8m-2.4-2.4v4.8M1034.7 1259.6h4.8m-2.4-2.4v4.8M1030.4 1293.4h4.8m-2.4-2.4v4.8M955.6 1146.4h4.8m-2.4-2.4v4.8M1044.7 1132.3h4.8m-2.4-2.4v4.8M1049.6 1248.9h4.8m-2.4-2.4v4.8M1055.2 1176.5h4.8m-2.4-2.4v4.8M1053.3 1305.4h4.8m-2.4-2.4v4.8M1046.1 1250.3h4.8m-2.4-2.4v4.8M1062.8 1176.9h4.8m-2.4-2.4v4.8M1068.1 1132.1h4.8m-2.4-2.4v4.8M1069.1 1128.2h4.8m-2.4-2.4v4.8M929.2 1217.9h4.8m-2.4-2.4v4.8M967.3 1244.8h4.8m-2.4-2.4v4.8M1139.5 1206.4h4.8m-2.4-2.4v4.8M1102.3 1225.7h4.8m-2.4-2.4v4.8M1081.5 1183h4.8m-2.4-2.4v4.8M1072.2 1283.2h4.8m-2.4-2.4v4.8M966.9 1168.6h4.8m-2.4-2.4v4.8M1055.9 1169.1h4.8m-2.4-2.4v4.8M1108 1191.5h4.8m-2.4-2.4v4.8M1018.2 1221.1h4.8m-2.4-2.4v4.8M966.4 1209.5h4.8m-2.4-2.4v4.8M998 1223.4h4.8m-2.4-2.4v4.8M1069 1156.3h4.8m-2.4-2.4v4.8M1077.4 1274.1h4.8m-2.4-2.4v4.8M984.2 1204.7h4.8m-2.4-2.4v4.8M1035.9 1127.7h4.8m-2.4-2.4v4.8M949.8 1205.2h4.8m-2.4-2.4v4.8M1065.8 1140.9h4.8m-2.4-2.4v4.8M955.9 1293.1h4.8m-2.4-2.4v4.8M1031 1158.8h4.8m-2.4-2.4v4.8M1098.2 1171.4h4.8m-2.4-2.4v4.8M1074.3 1133.2h4.8m-2.4-2.4v4.8M1137 1172.8h4.8m-2.4-2.4v4.8M1124.6 1245.2h4.8m-2.4-2.4v4.8M1096.2 1320.6h4.8m-2.4-2.4v4.8M1041.2 1116.8h4.8m-2.4-2.4v4.8M1060.1 1220.2h4.8m-2.4-2.4v4.8M1090.1 1226.8h4.8m-2.4-2.4v4.8M1058.8 1180.9h4.8m-2.4-2.4v4.8M1107.8 1168.3h4.8m-2.4-2.4v4.8M1067.1 1305.8h4.8m-2.4-2.4v4.8M1038.9 1198.9h4.8m-2.4-2.4v4.8M1010.9 1085.3h4.8m-2.4-2.4v4.8M1117.1 1185.3h4.8m-2.4-2.4v4.8M1016.4 1256.5h4.8m-2.4-2.4v4.8M1073.8 1241.5h4.8m-2.4-2.4v4.8M1040.8 1215.8h4.8m-2.4-2.4v4.8M1122.4 1305.7h4.8m-2.4-2.4v4.8M1067.3 1251.9h4.8m-2.4-2.4v4.8M929.6 1249.8h4.8m-2.4-2.4v4.8M1070.7 1150.2h4.8m-2.4-2.4v4.8M1018.8 1326.3h4.8m-2.4-2.4v4.8M1062.4 1275.8h4.8m-2.4-2.4v4.8" stroke="#2171b5" stroke-width="2.3" fill="none"/><path d="M1077.8 1253.2h4.8m-2.4-2.4v4.8M950.8 1258.3h4.8m-2.4-2.4v4.8M1071.2 1205.2h4.8m-2.4-2.4v4.8M1034.2 1306.6h4.8m-2.4-2.4v4.8M1104.8 1271.8h4.8m-2.4-2.4v4.8M1066.5 1301.7h4.8m-2.4-2.4v4.8M1047.2 1220.4h4.8m-2.4-2.4v4.8M1019 1200.1h4.8m-2.4-2.4v4.8M1100.2 1202.7h4.8m-2.4-2.4v4.8M1093.9 1302h4.8m-2.4-2.4v4.8M966.6 1286.5h4.8m-2.4-2.4v4.8M1089.8 1233.6h4.8m-2.4-2.4v4.8M960 1215.7h4.8m-2.4-2.4v4.8M1086.3 1317.4h4.8m-2.4-2.4v4.8M1056.8 1321.5h4.8m-2.4-2.4v4.8M971 1268h4.8m-2.4-2.4v4.8M1007.8 1226.3h4.8m-2.4-2.4v4.8M938.9 1277.7h4.8m-2.4-2.4v4.8M1037 1327.3h4.8m-2.4-2.4v4.8M1092.2 1278h4.8m-2.4-2.4v4.8M1123.1 1301.9h4.8m-2.4-2.4v4.8M1081.8 1207.5h4.8m-2.4-2.4v4.8M1002.4 1229.5h4.8m-2.4-2.4v4.8M919.5 1208.6h4.8m-2.4-2.4v4.8M975.6 1227.8h4.8m-2.4-2.4v4.8M1140.4 1262.9h4.8m-2.4-2.4v4.8M1088.5 1237.7h4.8m-2.4-2.4v4.8M1139.4 1236.9h4.8m-2.4-2.4v4.8M951.6 1171.7h4.8m-2.4-2.4v4.8M950.1 1243.4h4.8m-2.4-2.4v4.8M1136.7 1192.2h4.8m-2.4-2.4v4.8M1085.2 1148.4h4.8m-2.4-2.4v4.8M1108.3 1258h4.8m-2.4-2.4v4.8M1047 1267.1h4.8m-2.4-2.4v4.8M1036.6 1289.6h4.8m-2.4-2.4v4.8M1135.1 1235.1h4.8m-2.4-2.4v4.8M1046.4 1191h4.8m-2.4-2.4v4.8M929.3 1179.8h4.8m-2.4-2.4v4.8M991.1 1213.6h4.8m-2.4-2.4v4.8M1029.9 1167.2h4.8m-2.4-2.4v4.8M1066.1 1329.4h4.8m-2.4-2.4v4.8M1126.7 1195.9h4.8m-2.4-2.4v4.8M1051.9 1281.8h4.8m-2.4-2.4v4.8M1033.1 1294.8h4.8m-2.4-2.4v4.8M1003 1307.3h4.8m-2.4-2.4v4.8M1069.2 1321.8h4.8m-2.4-2.4v4.8M1002.9 1286.9h4.8m-2.4-2.4v4.8M1105.6 1313.1h4.8m-2.4-2.4v4.8M949.1 1246.4h4.8m-2.4-2.4v4.8M1039.7 1329.7h4.8m-2.4-2.4v4.8M933.7 1263.5h4.8m-2.4-2.4v4.8M1014.3 1275.7h4.8m-2.4-2.4v4.8M939.9 1224.3h4.8m-2.4-2.4v4.8M1118.2 1284.7h4.8m-2.4-2.4v4.8M1070.1 1331.2h4.8m-2.4-2.4v4.8M940.4 1242.7h4.8m-2.4-2.4v4.8M1005.8 1281.8h4.8m-2.4-2.4v4.8M1103.3 1243.5h4.8m-2.4-2.4v4.8M985.9 1202.4h4.8m-2.4-2.4v4.8M1123.2 1255.8h4.8m-2.4-2.4v4.8M1110.1 1311.7h4.8m-2.4-2.4v4.8M1044.7 1214.6h4.8m-2.4-2.4v4.8M1073.8 1260.1h4.8m-2.4-2.4v4.8M1139.4 1219.9h4.8m-2.4-2.4v4.8M961.4 1237.6h4.8m-2.4-2.4v4.8M952.7 1215.4h4.8m-2.4-2.4v4.8M1120.8 1280.2h4.8m-2.4-2.4v4.8M1015.3 1324.9h4.8m-2.4-2.4v4.8M1022.9 1301.1h4.8m-2.4-2.4v4.8M1008.5 1274.5h4.8m-2.4-2.4v4.8M956.9 1176.3h4.8m-2.4-2.4v4.8M1094.7 1298.8h4.8m-2.4-2.4v4.8M1122.3 1217.1h4.8m-2.4-2.4v4.8M1035.9 1272.3h4.8m-2.4-2.4v4.8M1118.9 1298.5h4.8m-2.4-2.4v4.8M977.7 1234.2h4.8m-2.4-2.4v4.8M1032.5 1195.5h4.8m-2.4-2.4v4.8M1093.3 1162.1h4.8m-2.4-2.4v4.8M995.1 1306.5h4.8m-2.4-2.4v4.8M1121.8 1286.1h4.8m-2.4-2.4v4.8M1021.5 1294.6h4.8m-2.4-2.4v4.8M1045.5 1283.6h4.8m-2.4-2.4v4.8M1145.6 1227.5h4.8m-2.4-2.4v4.8M1046 1270.5h4.8m-2.4-2.4v4.8M952.6 1287.2h4.8m-2.4-2.4v4.8M934.7 1253.7h4.8m-2.4-2.4v4.8M1104.5 1296.7h4.8m-2.4-2.4v4.8M1046.8 1310.3h4.8m-2.4-2.4v4.8M1083.8 1204.4h4.8m-2.4-2.4v4.8M1051.4 1200.9h4.8m-2.4-2.4v4.8M1042.7 1301.6h4.8m-2.4-2.4v4.8M1053 1316.4h4.8m-2.4-2.4v4.8M1056.9 1318.8h4.8m-2.4-2.4v4.8M1012.2 1204.2h4.8m-2.4-2.4v4.8M1067 1190.7h4.8m-2.4-2.4v4.8M1141.5 1210.5h4.8m-2.4-2.4v4.8M1108.1 1300.4h4.8m-2.4-2.4v4.8M972.4 1259.8h4.8m-2.4-2.4v4.8M1115.8 1256h4.8m-2.4-2.4v4.8M1104.9 1189.1h4.8m-2.4-2.4v4.8M940.7 1228.6h4.8m-2.4-2.4v4.8M1006.4 1180.5h4.8m-2.4-2.4v4.8M999 1206.3h4.8m-2.4-2.4v4.8M1094.6 1310.3h4.8m-2.4-2.4v4.8M1101.4 1246.7h4.8m-2.4-2.4v4.8M1137.5 1291.7h4.8m-2.4-2.4v4.8M1110.9 1318h4.8m-2.4-2.4v4.8M1123.6 1196.4h4.8m-2.4-2.4v4.8M989.8 1307.8h4.8m-2.4-2.4v4.8M986.7 1288.9h4.8m-2.4-2.4v4.8M989.6 1271.6h4.8m-2.4-2.4v4.8M1068.3 1308.5h4.8m-2.4-2.4v4.8M1043.8 1335h4.8m-2.4-2.4v4.8M1063.9 1328.5h4.8m-2.4-2.4v4.8M1041.4 1287.5h4.8m-2.4-2.4v4.8M1134 1242.5h4.8m-2.4-2.4v4.8M984.6 1268.7h4.8m-2.4-2.4v4.8M1060.1 1271.1h4.8m-2.4-2.4v4.8M1041.2 1220.3h4.8m-2.4-2.4v4.8M947.9 1285.6h4.8m-2.4-2.4v4.8M1114.8 1212.3h4.8m-2.4-2.4v4.8M993.6 1287.9h4.8m-2.4-2.4v4.8M1138.1 1279.1h4.8m-2.4-2.4v4.8M991.5 1311.8h4.8m-2.4-2.4v4.8M1044.6 1277.8h4.8m-2.4-2.4v4.8M937.8 1245.2h4.8m-2.4-2.4v4.8M1005 1161.1h4.8m-2.4-2.4v4.8M1026.2 1312.5h4.8m-2.4-2.4v4.8M976.9 1274h4.8m-2.4-2.4v4.8M1006.3 1304.8h4.8m-2.4-2.4v4.8M1011.1 1262.2h4.8m-2.4-2.4v4.8M1093.8 1316.7h4.8m-2.4-2.4v4.8M1087 1123.3h4.8m-2.4-2.4v4.8M998.6 1250.4h4.8m-2.4-2.4v4.8M1021.9 1285.9h4.8m-2.4-2.4v4.8M1102.7 1251.9h4.8m-2.4-2.4v4.8M1007.7 1201h4.8m-2.4-2.4v4.8M1000.9 1227.5h4.8m-2.4-2.4v4.8M1018.1 1173.5h4.8m-2.4-2.4v4.8M1025.8 1195.4h4.8m-2.4-2.4v4.8M959.3 1283.7h4.8m-2.4-2.4v4.8M1062.6 1155.9h4.8m-2.4-2.4v4.8M1128.8 1301.2h4.8m-2.4-2.4v4.8M1077.8 1315.7h4.8m-2.4-2.4v4.8M1022.5 1268.2h4.8m-2.4-2.4v4.8M1106.9 1241.3h4.8m-2.4-2.4v4.8M1130.3 1275.2h4.8m-2.4-2.4v4.8M1109 1153.2h4.8m-2.4-2.4v4.8M1012.5 1299.6h4.8m-2.4-2.4v4.8M935.2 1197.5h4.8m-2.4-2.4v4.8M1112.5 1208.9h4.8m-2.4-2.4v4.8M1131.7 1226.3h4.8m-2.4-2.4v4.8M927.7 1210h4.8m-2.4-2.4v4.8M1030.1 1264.1h4.8m-2.4-2.4v4.8M1053.4 1170.9h4.8m-2.4-2.4v4.8M1032.8 1301.5h4.8m-2.4-2.4v4.8M1035.3 1210.4h4.8m-2.4-2.4v4.8M1016.3 1194.7h4.8m-2.4-2.4v4.8M1126.7 1188.5h4.8m-2.4-2.4v4.8M1113.9 1301.1h4.8m-2.4-2.4v4.8M1001.2 1162.9h4.8m-2.4-2.4v4.8M1096.3 1280.1h4.8m-2.4-2.4v4.8M1122.1 1268.4h4.8m-2.4-2.4v4.8M1000 1125.2h4.8m-2.4-2.4v4.8M1065.4 1256.2h4.8m-2.4-2.4v4.8M1050.5 1330.2h4.8m-2.4-2.4v4.8M934.1 1215.1h4.8m-2.4-2.4v4.8M1103.4 1300.9h4.8m-2.4-2.4v4.8M1127.8 1249.2h4.8m-2.4-2.4v4.8M1042 1249.7h4.8m-2.4-2.4v4.8M947.9 1291.6h4.8m-2.4-2.4v4.8M1061.1 1273.3h4.8m-2.4-2.4v4.8M1033.8 1231.6h4.8m-2.4-2.4v4.8M1037.2 1295.8h4.8m-2.4-2.4v4.8M1090.3 1217.6h4.8m-2.4-2.4v4.8M1026.2 1300h4.8m-2.4-2.4v4.8M1057.9 1249.6h4.8m-2.4-2.4v4.8M966.5 1251h4.8m-2.4-2.4v4.8M1078.3 1131.8h4.8m-2.4-2.4v4.8M950.9 1223.8h4.8m-2.4-2.4v4.8M1140.1 1250.9h4.8m-2.4-2.4v4.8M1011.7 1260h4.8m-2.4-2.4v4.8M993.8 1272.4h4.8m-2.4-2.4v4.8M1137.4 1218.5h4.8m-2.4-2.4v4.8M1090.2 1167.3h4.8m-2.4-2.4v4.8M1142.7 1289.2h4.8m-2.4-2.4v4.8M1050.3 1271.7h4.8m-2.4-2.4v4.8M1033.8 1199.3h4.8m-2.4-2.4v4.8M1110.6 1243.6h4.8m-2.4-2.4v4.8M1103.6 1288.2h4.8m-2.4-2.4v4.8M930.3 1241.4h4.8m-2.4-2.4v4.8M926.8 1263.6h4.8m-2.4-2.4v4.8M1053.5 1275h4.8m-2.4-2.4v4.8M1080.9 1317.2h4.8m-2.4-2.4v4.8M1079.8 1288.1h4.8m-2.4-2.4v4.8M1095.3 1125.4h4.8m-2.4-2.4v4.8M1146.4 1255.6h4.8m-2.4-2.4v4.8M1093.6 1291h4.8m-2.4-2.4v4.8M1135.5 1228.4h4.8m-2.4-2.4v4.8M1072.7 1165h4.8m-2.4-2.4v4.8M1057.8 1333.3h4.8m-2.4-2.4v4.8M1131.3 1267.2h4.8m-2.4-2.4v4.8M1095.7 1237.5h4.8m-2.4-2.4v4.8M1062.8 1312h4.8m-2.4-2.4v4.8M982.7 1272h4.8m-2.4-2.4v4.8M1105.8 1206.8h4.8m-2.4-2.4v4.8M1061 1306.8h4.8m-2.4-2.4v4.8M1134.2 1204.4h4.8m-2.4-2.4v4.8M999.9 1316.2h4.8m-2.4-2.4v4.8M1058.9 1305.5h4.8m-2.4-2.4v4.8M932 1251.6h4.8m-2.4-2.4v4.8M1126.9 1245.8h4.8m-2.4-2.4v4.8M1130.1 1241.5h4.8m-2.4-2.4v4.8M915.7 1210.2h4.8m-2.4-2.4v4.8M1130 1235.3h4.8m-2.4-2.4v4.8M1050.8 1300.7h4.8m-2.4-2.4v4.8M1061.7 1281.2h4.8m-2.4-2.4v4.8M939.1 1185.5h4.8m-2.4-2.4v4.8M976.6 1166.5h4.8m-2.4-2.4v4.8M1125.5 1227.3h4.8m-2.4-2.4v4.8M1037.6 1236.3h4.8m-2.4-2.4v4.8M990.9 1240.8h4.8m-2.4-2.4v4.8M1076.4 1138.8h4.8m-2.4-2.4v4.8M1050.7 1332.6h4.8m-2.4-2.4v4.8M1017.5 1306.9h4.8m-2.4-2.4v4.8M956.6 1238.9h4.8m-2.4-2.4v4.8M1112.8 1160.6h4.8m-2.4-2.4v4.8M989.1 1198.3h4.8m-2.4-2.4v4.8M1032.1 1258.7h4.8m-2.4-2.4v4.8M1028.2 1124.7h4.8m-2.4-2.4v4.8M1027.2 1328.1h4.8m-2.4-2.4v4.8M968.6 1205.1h4.8m-2.4-2.4v4.8M1096.1 1141.1h4.8m-2.4-2.4v4.8M1128.9 1281.6h4.8m-2.4-2.4v4.8M1115 1252.5h4.8m-2.4-2.4v4.8M1116.8 1268.9h4.8m-2.4-2.4v4.8M979.6 1297.5h4.8m-2.4-2.4v4.8M966.7 1133.8h4.8m-2.4-2.4v4.8" stroke="#1461a8" stroke-width="2.3" fill="none"/><path d="M1011.7 1254.2h4.8m-2.4-2.4v4.8M916.2 1202.4h4.8m-2.4-2.4v4.8M980.2 1252.1h4.8m-2.4-2.4v4.8M1129.2 1186.4h4.8m-2.4-2.4v4.8M1085.1 1325.6h4.8m-2.4-2.4v4.8M945.4 1234.9h4.8m-2.4-2.4v4.8M959.3 1259h4.8m-2.4-2.4v4.8M1089.4 1258.1h4.8m-2.4-2.4v4.8M925.8 1219.2h4.8m-2.4-2.4v4.8M1110.1 1295.1h4.8m-2.4-2.4v4.8M1050.7 1307.4h4.8m-2.4-2.4v4.8M1087.4 1315.3h4.8m-2.4-2.4v4.8M950.7 1289.8h4.8m-2.4-2.4v4.8M1051.2 1274h4.8m-2.4-2.4v4.8M1016.7 1272.5h4.8m-2.4-2.4v4.8M1079.1 1320.6h4.8m-2.4-2.4v4.8M1057.3 1260.3h4.8m-2.4-2.4v4.8M1029.5 1323.8h4.8m-2.4-2.4v4.8M975.8 1301.1h4.8m-2.4-2.4v4.8M1087.1 1276h4.8m-2.4-2.4v4.8M936.1 1274.1h4.8m-2.4-2.4v4.8M1048.9 1256.7h4.8m-2.4-2.4v4.8M1072.2 1292.5h4.8m-2.4-2.4v4.8M1022.8 1316.8h4.8m-2.4-2.4v4.8M977.7 1238.7h4.8m-2.4-2.4v4.8M998.4 1293h4.8m-2.4-2.4v4.8M1124.7 1260.4h4.8m-2.4-2.4v4.8M974.3 1280.1h4.8m-2.4-2.4v4.8M1141.6 1279.4h4.8m-2.4-2.4v4.8M972.3 1305.7h4.8m-2.4-2.4v4.8M987.6 1266.1h4.8m-2.4-2.4v4.8M1087.3 1294.4h4.8m-2.4-2.4v4.8M1058.6 1268.9h4.8m-2.4-2.4v4.8M1096.7 1223.4h4.8m-2.4-2.4v4.8M1064.5 1269.5h4.8m-2.4-2.4v4.8M1140.9 1248h4.8m-2.4-2.4v4.8M1027.4 1212.6h4.8m-2.4-2.4v4.8M951 1137.5h4.8m-2.4-2.4v4.8M1069.1 1261.2h4.8m-2.4-2.4v4.8M970.1 1278h4.8m-2.4-2.4v4.8M1087.4 1322.2h4.8m-2.4-2.4v4.8M1069 1279.3h4.8m-2.4-2.4v4.8M969 1299.9h4.8m-2.4-2.4v4.8M1057 1312h4.8m-2.4-2.4v4.8M989.5 1285.4h4.8m-2.4-2.4v4.8M1133.9 1297.1h4.8m-2.4-2.4v4.8M1049.3 1315.1h4.8m-2.4-2.4v4.8M1147.5 1246.1h4.8m-2.4-2.4v4.8M917.2 1213.1h4.8m-2.4-2.4v4.8M999.3 1283.6h4.8m-2.4-2.4v4.8M1020.5 1308.4h4.8m-2.4-2.4v4.8M1009.1 1293.8h4.8m-2.4-2.4v4.8M1061.6 1244.2h4.8m-2.4-2.4v4.8M1031.4 1136.8h4.8m-2.4-2.4v4.8M1101.9 1267.9h4.8m-2.4-2.4v4.8M983.8 1309.7h4.8m-2.4-2.4v4.8M1078.3 1264.9h4.8m-2.4-2.4v4.8M1071.1 1286.1h4.8m-2.4-2.4v4.8M988.7 1300.5h4.8m-2.4-2.4v4.8M1041.6 1279.8h4.8m-2.4-2.4v4.8M1093.9 1235.3h4.8m-2.4-2.4v4.8M1077.4 1327.5h4.8m-2.4-2.4v4.8M1018.5 1167.3h4.8m-2.4-2.4v4.8M1081.9 1263.3h4.8m-2.4-2.4v4.8M1112 1268.7h4.8m-2.4-2.4v4.8M1084.6 1275.8h4.8m-2.4-2.4v4.8M991.2 1293.8h4.8m-2.4-2.4v4.8M1122.5 1247.7h4.8m-2.4-2.4v4.8M1098.9 1278.4h4.8m-2.4-2.4v4.8M951 1214h4.8m-2.4-2.4v4.8M1023.6 1208.2h4.8m-2.4-2.4v4.8M923.2 1188.2h4.8m-2.4-2.4v4.8M1110.4 1224.4h4.8m-2.4-2.4v4.8M1144.8 1234.3h4.8m-2.4-2.4v4.8M1080.5 1216.5h4.8m-2.4-2.4v4.8M984 1209.7h4.8m-2.4-2.4v4.8M1058.4 1266.5h4.8m-2.4-2.4v4.8M918.5 1240.5h4.8m-2.4-2.4v4.8M1002.1 1275.6h4.8m-2.4-2.4v4.8M1100.5 1307.3h4.8m-2.4-2.4v4.8M1087.8 1207.4h4.8m-2.4-2.4v4.8M966.1 1253.4h4.8m-2.4-2.4v4.8M1073.8 1328.7h4.8m-2.4-2.4v4.8M1115.6 1238.8h4.8m-2.4-2.4v4.8M1052.4 1270.8h4.8m-2.4-2.4v4.8M1014.6 1285.7h4.8m-2.4-2.4v4.8M1099.7 1224.2h4.8m-2.4-2.4v4.8M1010 1298.6h4.8m-2.4-2.4v4.8M1061.1 1331h4.8m-2.4-2.4v4.8M1093.3 1168.5h4.8m-2.4-2.4v4.8M1012.8 1216.2h4.8m-2.4-2.4v4.8M1064.9 1282.8h4.8m-2.4-2.4v4.8M1111.2 1193.9h4.8m-2.4-2.4v4.8M959 1292.5h4.8m-2.4-2.4v4.8M1026 1322.6h4.8m-2.4-2.4v4.8M1118.1 1277.3h4.8m-2.4-2.4v4.8M1131.5 1150.1h4.8m-2.4-2.4v4.8M917 1238.2h4.8m-2.4-2.4v4.8M925.4 1190h4.8m-2.4-2.4v4.8M1147.3 1269h4.8m-2.4-2.4v4.8M1045.1 1332.2h4.8m-2.4-2.4v4.8M1129.8 1258.2h4.8m-2.4-2.4v4.8M1026.1 1181.1h4.8m-2.4-2.4v4.8M1062.5 1241.3h4.8m-2.4-2.4v4.8M1069.3 1317h4.8m-2.4-2.4v4.8M1034.6 1151.6h4.8m-2.4-2.4v4.8M1014.7 1310.6h4.8m-2.4-2.4v4.8M1046.3 1300.8h4.8m-2.4-2.4v4.8M1115.5 1293h4.8m-2.4-2.4v4.8M962.6 1252.6h4.8m-2.4-2.4v4.8M1125.7 1302.3h4.8m-2.4-2.4v4.8M1122.6 1274.9h4.8m-2.4-2.4v4.8M1144.8 1242.5h4.8m-2.4-2.4v4.8M1060.2 1298.8h4.8m-2.4-2.4v4.8M1030.4 1277h4.8m-2.4-2.4v4.8M1145.4 1266.9h4.8m-2.4-2.4v4.8M1027.9 1306.7h4.8m-2.4-2.4v4.8M1146.1 1278.3h4.8m-2.4-2.4v4.8M1031.5 1266.4h4.8m-2.4-2.4v4.8M977.2 1268.5h4.8m-2.4-2.4v4.8M1074.1 1325.9h4.8m-2.4-2.4v4.8M1026.5 1295.3h4.8m-2.4-2.4v4.8M1063.4 1319.9h4.8m-2.4-2.4v4.8M1045.6 1296.2h4.8m-2.4-2.4v4.8M1046.2 1211.6h4.8m-2.4-2.4v4.8M1033.7 1273.8h4.8m-2.4-2.4v4.8M1035.8 1274.7h4.8m-2.4-2.4v4.8M968.3 1271.5h4.8m-2.4-2.4v4.8M1020.4 1305.4h4.8m-2.4-2.4v4.8" stroke="#08519c" stroke-width="2.3" fill="none"/><path d="M1089.4 1176.8h4.8m-2.4-2.4v4.8M989.3 1305.1h4.8m-2.4-2.4v4.8M981.5 1293.6h4.8m-2.4-2.4v4.8M983.8 1256.8h4.8m-2.4-2.4v4.8M1061.3 1265.3h4.8m-2.4-2.4v4.8M982.9 1185.5h4.8m-2.4-2.4v4.8M1031.7 1317.7h4.8m-2.4-2.4v4.8M1062.1 1258.8h4.8m-2.4-2.4v4.8M966.8 1298.4h4.8m-2.4-2.4v4.8M1045.9 1280.4h4.8m-2.4-2.4v4.8M982.3 1274.5h4.8m-2.4-2.4v4.8M1106.4 1298.9h4.8m-2.4-2.4v4.8M1100.1 1302.2h4.8m-2.4-2.4v4.8M1087 1271.8h4.8m-2.4-2.4v4.8M1053 1258.8h4.8m-2.4-2.4v4.8M1133.2 1271.9h4.8m-2.4-2.4v4.8M1038.3 1315.7h4.8m-2.4-2.4v4.8M1080 1236.8h4.8m-2.4-2.4v4.8M1071.9 1302.6h4.8m-2.4-2.4v4.8M1066.9 1195.1h4.8m-2.4-2.4v4.8M1080.7 1313.8h4.8m-2.4-2.4v4.8M1092.4 1322.1h4.8m-2.4-2.4v4.8M988.8 1282.4h4.8m-2.4-2.4v4.8M966.2 1260h4.8m-2.4-2.4v4.8M1050.7 1288.9h4.8m-2.4-2.4v4.8M983.3 1289.3h4.8m-2.4-2.4v4.8M962 1272.3h4.8m-2.4-2.4v4.8M1030.2 1271.2h4.8m-2.4-2.4v4.8M1039 1275.5h4.8m-2.4-2.4v4.8M1098.2 1305.9h4.8m-2.4-2.4v4.8M1091.9 1315.4h4.8m-2.4-2.4v4.8M981.3 1291.1h4.8m-2.4-2.4v4.8M1116.1 1309.3h4.8m-2.4-2.4v4.8M1052.9 1228.9h4.8m-2.4-2.4v4.8M1118.6 1303h4.8m-2.4-2.4v4.8M1007.2 1270.9h4.8m-2.4-2.4v4.8M980.9 1147.8h4.8m-2.4-2.4v4.8M1099.2 1324.9h4.8m-2.4-2.4v4.8M1007.5 1317.6h4.8m-2.4-2.4v4.8M1151.5 1265.1h4.8m-2.4-2.4v4.8M1070.4 1246.2h4.8m-2.4-2.4v4.8M972.7 1246.8h4.8m-2.4-2.4v4.8M1028.7 1267.5h4.8m-2.4-2.4v4.8M1062.6 1267.8h4.8m-2.4-2.4v4.8M1087.2 1307.8h4.8m-2.4-2.4v4.8M1010.3 1271.8h4.8m-2.4-2.4v4.8M973 1226.8h4.8m-2.4-2.4v4.8M970.9 1296.7h4.8m-2.4-2.4v4.8M1040.8 1263h4.8m-2.4-2.4v4.8M974.2 1251.3h4.8m-2.4-2.4v4.8M1091.3 1265.1h4.8m-2.4-2.4v4.8M1008.2 1321.6h4.8m-2.4-2.4v4.8M1137.1 1259.5h4.8m-2.4-2.4v4.8" stroke="#084084" stroke-width="2.3" fill="none"/><path d="M1080.5 1332.1h4.8m-2.4-2.4v4.8M1019.8 1262.4h4.8m-2.4-2.4v4.8M1148.8 1248h4.8m-2.4-2.4v4.8M948.7 1280.9h4.8m-2.4-2.4v4.8M929.2 1256.2h4.8m-2.4-2.4v4.8M1022.5 1319.3h4.8m-2.4-2.4v4.8M1034.6 1303.9h4.8m-2.4-2.4v4.8M1084.7 1299.1h4.8m-2.4-2.4v4.8M1071.7 1263.3h4.8m-2.4-2.4v4.8M1140.7 1257.1h4.8m-2.4-2.4v4.8M934.5 1272.1h4.8m-2.4-2.4v4.8M968.8 1303.4h4.8m-2.4-2.4v4.8" stroke="#08306b" stroke-width="2.3" fill="none"/><text x="1303" y="1071.4" text-anchor="middle" font-size="29.5" font-style="italic" fill="#000">DKK1</text><path d="M1354.8 1136.6h4.8m-2.4-2.4v4.8M1351.5 1266.6h4.8m-2.4-2.4v4.8M1302.1 1304h4.8m-2.4-2.4v4.8M1250.9 1236.4h4.8m-2.4-2.4v4.8M1217.4 1224.2h4.8m-2.4-2.4v4.8M1379 1244h4.8m-2.4-2.4v4.8" stroke="#9ecae1" stroke-width="2.3" fill="none"/><path d="M1358 1123h4.8m-2.4-2.4v4.8M1287.1 1262.7h4.8m-2.4-2.4v4.8M1225.2 1190.5h4.8m-2.4-2.4v4.8M1281.7 1214.2h4.8m-2.4-2.4v4.8M1251.5 1244.2h4.8m-2.4-2.4v4.8M1404.9 1253.7h4.8m-2.4-2.4v4.8M1245.4 1281.1h4.8m-2.4-2.4v4.8M1246 1269.8h4.8m-2.4-2.4v4.8M1392.1 1283.6h4.8m-2.4-2.4v4.8M1374.7 1216.9h4.8m-2.4-2.4v4.8M1300.4 1170.6h4.8m-2.4-2.4v4.8M1346.6 1141.6h4.8m-2.4-2.4v4.8M1261.8 1255.8h4.8m-2.4-2.4v4.8M1296 1183.3h4.8m-2.4-2.4v4.8M1334.5 1139.5h4.8m-2.4-2.4v4.8M1263.7 1147.4h4.8m-2.4-2.4v4.8M1277.5 1272.1h4.8m-2.4-2.4v4.8M1295.4 1306.9h4.8m-2.4-2.4v4.8M1332.3 1183.5h4.8m-2.4-2.4v4.8" stroke="#84bcdc" stroke-width="2.3" fill="none"/><path d="M1182.9 1228.2h4.8m-2.4-2.4v4.8M1357.6 1177.4h4.8m-2.4-2.4v4.8M1194.8 1189.8h4.8m-2.4-2.4v4.8M1195.6 1260.4h4.8m-2.4-2.4v4.8M1218.1 1172.3h4.8m-2.4-2.4v4.8M1374.8 1227.5h4.8m-2.4-2.4v4.8M1255.1 1216.9h4.8m-2.4-2.4v4.8M1281.5 1275.9h4.8m-2.4-2.4v4.8M1353.5 1170.5h4.8m-2.4-2.4v4.8M1247.4 1126.6h4.8m-2.4-2.4v4.8M1268.8 1246.2h4.8m-2.4-2.4v4.8M1370.3 1182.3h4.8m-2.4-2.4v4.8M1217.7 1169h4.8m-2.4-2.4v4.8M1184 1221.9h4.8m-2.4-2.4v4.8M1322.7 1244.6h4.8m-2.4-2.4v4.8M1370.8 1272.7h4.8m-2.4-2.4v4.8M1383.6 1312.9h4.8m-2.4-2.4v4.8M1289.6 1146.5h4.8m-2.4-2.4v4.8M1311.5 1335.1h4.8m-2.4-2.4v4.8M1323.7 1238.1h4.8m-2.4-2.4v4.8M1285.5 1300.5h4.8m-2.4-2.4v4.8M1365.8 1129.5h4.8m-2.4-2.4v4.8M1278.4 1262.5h4.8m-2.4-2.4v4.8M1283.7 1253.9h4.8m-2.4-2.4v4.8M1397.5 1301.3h4.8m-2.4-2.4v4.8M1324.7 1201.8h4.8m-2.4-2.4v4.8M1291.9 1105.9h4.8m-2.4-2.4v4.8M1273.5 1259.1h4.8m-2.4-2.4v4.8M1353.9 1261.1h4.8m-2.4-2.4v4.8M1342.1 1114.4h4.8m-2.4-2.4v4.8M1195.6 1173.6h4.8m-2.4-2.4v4.8M1366.7 1207.4h4.8m-2.4-2.4v4.8M1219.5 1294.7h4.8m-2.4-2.4v4.8M1353.1 1257.9h4.8m-2.4-2.4v4.8M1395 1232h4.8m-2.4-2.4v4.8M1300.1 1097.8h4.8m-2.4-2.4v4.8M1267.3 1310h4.8m-2.4-2.4v4.8M1386.9 1163.8h4.8m-2.4-2.4v4.8M1338.8 1143.2h4.8m-2.4-2.4v4.8M1319.5 1161.1h4.8m-2.4-2.4v4.8M1383.7 1222.5h4.8m-2.4-2.4v4.8M1330.6 1312.1h4.8m-2.4-2.4v4.8M1200.6 1242.4h4.8m-2.4-2.4v4.8M1260.3 1158.3h4.8m-2.4-2.4v4.8M1187.3 1233.9h4.8m-2.4-2.4v4.8M1232.4 1292.1h4.8m-2.4-2.4v4.8M1388.8 1242.2h4.8m-2.4-2.4v4.8M1287.8 1124.6h4.8m-2.4-2.4v4.8M1360.9 1201.3h4.8m-2.4-2.4v4.8" stroke="#6baed6" stroke-width="2.3" fill="none"/><path d="M1345.9 1253.5h4.8m-2.4-2.4v4.8M1397.5 1198.5h4.8m-2.4-2.4v4.8M1265.7 1100.5h4.8m-2.4-2.4v4.8M1203.8 1250.6h4.8m-2.4-2.4v4.8M1314.8 1220.9h4.8m-2.4-2.4v4.8M1397.9 1187h4.8m-2.4-2.4v4.8M1359.2 1146.7h4.8m-2.4-2.4v4.8M1330.4 1122.1h4.8m-2.4-2.4v4.8M1233.3 1286.7h4.8m-2.4-2.4v4.8M1304.8 1143.1h4.8m-2.4-2.4v4.8M1400.2 1231.4h4.8m-2.4-2.4v4.8M1220.5 1196.6h4.8m-2.4-2.4v4.8M1343.8 1109.1h4.8m-2.4-2.4v4.8M1341.3 1179.6h4.8m-2.4-2.4v4.8M1258.5 1191.9h4.8m-2.4-2.4v4.8M1256.7 1157.2h4.8m-2.4-2.4v4.8M1283.5 1181.8h4.8m-2.4-2.4v4.8M1356.7 1238.1h4.8m-2.4-2.4v4.8M1374.8 1299.1h4.8m-2.4-2.4v4.8M1354.6 1242.1h4.8m-2.4-2.4v4.8M1353.4 1149.1h4.8m-2.4-2.4v4.8M1314.7 1267.4h4.8m-2.4-2.4v4.8M1195.5 1180.4h4.8m-2.4-2.4v4.8M1300.6 1295h4.8m-2.4-2.4v4.8M1193.5 1244.7h4.8m-2.4-2.4v4.8M1302.4 1206.4h4.8m-2.4-2.4v4.8M1362.3 1109.9h4.8m-2.4-2.4v4.8M1190.6 1240.3h4.8m-2.4-2.4v4.8M1209.3 1288.4h4.8m-2.4-2.4v4.8M1316.6 1257h4.8m-2.4-2.4v4.8M1254.5 1266.3h4.8m-2.4-2.4v4.8M1374 1284.1h4.8m-2.4-2.4v4.8M1295.3 1104.3h4.8m-2.4-2.4v4.8M1288.7 1217h4.8m-2.4-2.4v4.8M1239.8 1220.8h4.8m-2.4-2.4v4.8M1388.3 1143.5h4.8m-2.4-2.4v4.8M1275.7 1274.8h4.8m-2.4-2.4v4.8M1208.9 1275.8h4.8m-2.4-2.4v4.8M1283 1168.3h4.8m-2.4-2.4v4.8M1235.8 1286.2h4.8m-2.4-2.4v4.8M1294.8 1213.1h4.8m-2.4-2.4v4.8M1206.7 1275.3h4.8m-2.4-2.4v4.8M1315.6 1327.4h4.8m-2.4-2.4v4.8M1414.5 1227.9h4.8m-2.4-2.4v4.8M1235.7 1300.1h4.8m-2.4-2.4v4.8M1312 1141h4.8m-2.4-2.4v4.8M1317 1315.2h4.8m-2.4-2.4v4.8M1320.7 1316.5h4.8m-2.4-2.4v4.8M1230.5 1273.9h4.8m-2.4-2.4v4.8M1239.1 1260.1h4.8m-2.4-2.4v4.8M1203 1235.8h4.8m-2.4-2.4v4.8M1408.5 1182.9h4.8m-2.4-2.4v4.8M1202.8 1258h4.8m-2.4-2.4v4.8M1360.6 1322.1h4.8m-2.4-2.4v4.8M1272.1 1143.2h4.8m-2.4-2.4v4.8M1314.8 1187.4h4.8m-2.4-2.4v4.8M1338.9 1221h4.8m-2.4-2.4v4.8M1208.3 1271.1h4.8m-2.4-2.4v4.8M1262.1 1315.2h4.8m-2.4-2.4v4.8M1390.1 1162.8h4.8m-2.4-2.4v4.8M1246.8 1162.6h4.8m-2.4-2.4v4.8M1251.5 1269h4.8m-2.4-2.4v4.8M1213.3 1278h4.8m-2.4-2.4v4.8M1389.1 1125.3h4.8m-2.4-2.4v4.8M1359 1134.3h4.8m-2.4-2.4v4.8M1277.6 1286.1h4.8m-2.4-2.4v4.8M1379.4 1197.4h4.8m-2.4-2.4v4.8M1351.5 1174.3h4.8m-2.4-2.4v4.8M1321.4 1182.5h4.8m-2.4-2.4v4.8M1405.3 1190.5h4.8m-2.4-2.4v4.8M1212.9 1158.3h4.8m-2.4-2.4v4.8M1380.4 1269h4.8m-2.4-2.4v4.8M1362.1 1316.8h4.8m-2.4-2.4v4.8M1293.2 1195.9h4.8m-2.4-2.4v4.8M1206.2 1231.4h4.8m-2.4-2.4v4.8M1290.9 1208.7h4.8m-2.4-2.4v4.8M1218.4 1282.9h4.8m-2.4-2.4v4.8M1409.7 1254.7h4.8m-2.4-2.4v4.8M1409.5 1257.4h4.8m-2.4-2.4v4.8M1377.4 1153.9h4.8m-2.4-2.4v4.8M1386.7 1212.9h4.8m-2.4-2.4v4.8M1348.6 1217h4.8m-2.4-2.4v4.8M1240.3 1231.7h4.8m-2.4-2.4v4.8M1233.6 1276.2h4.8m-2.4-2.4v4.8M1334.5 1274.8h4.8m-2.4-2.4v4.8M1335.1 1145.4h4.8m-2.4-2.4v4.8M1380.5 1122.2h4.8m-2.4-2.4v4.8M1318.2 1330.2h4.8m-2.4-2.4v4.8M1225.2 1268.9h4.8m-2.4-2.4v4.8M1255.3 1139.6h4.8m-2.4-2.4v4.8M1189.3 1213.2h4.8m-2.4-2.4v4.8M1349.7 1283.4h4.8m-2.4-2.4v4.8M1295.6 1282.4h4.8m-2.4-2.4v4.8M1243.8 1295.9h4.8m-2.4-2.4v4.8M1376.2 1185.7h4.8m-2.4-2.4v4.8M1241.7 1115.6h4.8m-2.4-2.4v4.8M1358.2 1205.7h4.8m-2.4-2.4v4.8M1283.3 1139.7h4.8m-2.4-2.4v4.8M1398.4 1258.6h4.8m-2.4-2.4v4.8M1371.5 1115.8h4.8m-2.4-2.4v4.8M1326.2 1120.6h4.8m-2.4-2.4v4.8M1255 1249.1h4.8m-2.4-2.4v4.8M1339.2 1123.7h4.8m-2.4-2.4v4.8M1228.4 1260.6h4.8m-2.4-2.4v4.8M1363.5 1126.3h4.8m-2.4-2.4v4.8M1415.3 1255.9h4.8m-2.4-2.4v4.8M1321 1305.5h4.8m-2.4-2.4v4.8M1325.5 1333.3h4.8m-2.4-2.4v4.8M1297.8 1277.2h4.8m-2.4-2.4v4.8M1287.2 1180.8h4.8m-2.4-2.4v4.8M1233.5 1169.3h4.8m-2.4-2.4v4.8M1359.5 1112.5h4.8m-2.4-2.4v4.8M1233 1210h4.8m-2.4-2.4v4.8M1384.7 1231.9h4.8m-2.4-2.4v4.8M1243.4 1167.1h4.8m-2.4-2.4v4.8M1344.4 1139.6h4.8m-2.4-2.4v4.8M1213.3 1203.2h4.8m-2.4-2.4v4.8M1236.4 1292.2h4.8m-2.4-2.4v4.8M1389.8 1150.8h4.8m-2.4-2.4v4.8M1243.2 1224h4.8m-2.4-2.4v4.8M1335 1305.9h4.8m-2.4-2.4v4.8M1205.9 1173h4.8m-2.4-2.4v4.8M1239.4 1133.2h4.8m-2.4-2.4v4.8M1357.6 1128.9h4.8m-2.4-2.4v4.8M1261 1234.2h4.8m-2.4-2.4v4.8M1295.8 1091.3h4.8m-2.4-2.4v4.8M1308.3 1216.2h4.8m-2.4-2.4v4.8M1408.1 1216h4.8m-2.4-2.4v4.8M1265.1 1167.3h4.8m-2.4-2.4v4.8M1233.4 1134.7h4.8m-2.4-2.4v4.8" stroke="#56a0ce" stroke-width="2.3" fill="none"/><path d="M1395 1185.5h4.8m-2.4-2.4v4.8M1272.8 1192.6h4.8m-2.4-2.4v4.8M1248.3 1293.8h4.8m-2.4-2.4v4.8M1241.4 1137.5h4.8m-2.4-2.4v4.8M1342.2 1256.5h4.8m-2.4-2.4v4.8M1290.5 1155.1h4.8m-2.4-2.4v4.8M1227.3 1125.8h4.8m-2.4-2.4v4.8M1237.8 1268.3h4.8m-2.4-2.4v4.8M1227 1281.9h4.8m-2.4-2.4v4.8M1341.5 1248.3h4.8m-2.4-2.4v4.8M1288.2 1102.1h4.8m-2.4-2.4v4.8M1378.5 1295.2h4.8m-2.4-2.4v4.8M1387.9 1266h4.8m-2.4-2.4v4.8M1321.8 1174.3h4.8m-2.4-2.4v4.8M1395.9 1261.3h4.8m-2.4-2.4v4.8M1404.7 1241.1h4.8m-2.4-2.4v4.8M1318.9 1274.2h4.8m-2.4-2.4v4.8M1262.1 1190.7h4.8m-2.4-2.4v4.8M1242.4 1228.2h4.8m-2.4-2.4v4.8M1210.4 1244.7h4.8m-2.4-2.4v4.8M1249.9 1099.7h4.8m-2.4-2.4v4.8M1347.2 1320.7h4.8m-2.4-2.4v4.8M1296.9 1323.9h4.8m-2.4-2.4v4.8M1242.6 1301.2h4.8m-2.4-2.4v4.8M1289.2 1088.4h4.8m-2.4-2.4v4.8M1360.5 1176.9h4.8m-2.4-2.4v4.8M1368.4 1302.4h4.8m-2.4-2.4v4.8M1355.2 1276.3h4.8m-2.4-2.4v4.8M1334.5 1291.6h4.8m-2.4-2.4v4.8M1277.2 1269.3h4.8m-2.4-2.4v4.8M1236.2 1166.9h4.8m-2.4-2.4v4.8M1393.3 1260.7h4.8m-2.4-2.4v4.8M1241.1 1280.3h4.8m-2.4-2.4v4.8M1410.4 1279.6h4.8m-2.4-2.4v4.8M1348 1150.5h4.8m-2.4-2.4v4.8M1239 1305.8h4.8m-2.4-2.4v4.8M1382.6 1295.7h4.8m-2.4-2.4v4.8M1378.6 1311.8h4.8m-2.4-2.4v4.8M1312.4 1215.1h4.8m-2.4-2.4v4.8M1287.4 1301.9h4.8m-2.4-2.4v4.8M1306.8 1270.4h4.8m-2.4-2.4v4.8M1372.9 1256.2h4.8m-2.4-2.4v4.8M1278 1095.6h4.8m-2.4-2.4v4.8M1259.4 1194.8h4.8m-2.4-2.4v4.8M1299.3 1256.7h4.8m-2.4-2.4v4.8M1402 1272.2h4.8m-2.4-2.4v4.8M1266.6 1188.7h4.8m-2.4-2.4v4.8M1219.2 1215.9h4.8m-2.4-2.4v4.8M1344.9 1111.1h4.8m-2.4-2.4v4.8M1335.6 1230h4.8m-2.4-2.4v4.8M1412.5 1208.3h4.8m-2.4-2.4v4.8M1348.1 1237.2h4.8m-2.4-2.4v4.8M1416.8 1265.3h4.8m-2.4-2.4v4.8M1203.9 1192.8h4.8m-2.4-2.4v4.8M1248.4 1188.1h4.8m-2.4-2.4v4.8M1393.5 1276.1h4.8m-2.4-2.4v4.8M1212.8 1180.1h4.8m-2.4-2.4v4.8M1238.1 1178.9h4.8m-2.4-2.4v4.8M1215.1 1281.1h4.8m-2.4-2.4v4.8M1278.1 1176.3h4.8m-2.4-2.4v4.8M1359.8 1144.1h4.8m-2.4-2.4v4.8M1259.3 1133.4h4.8m-2.4-2.4v4.8M1313.1 1283.9h4.8m-2.4-2.4v4.8M1345.4 1213h4.8m-2.4-2.4v4.8M1211.7 1153.4h4.8m-2.4-2.4v4.8M1201 1254h4.8m-2.4-2.4v4.8M1321.9 1116.3h4.8m-2.4-2.4v4.8M1291.7 1200.1h4.8m-2.4-2.4v4.8M1195.4 1256.5h4.8m-2.4-2.4v4.8M1324.7 1318.9h4.8m-2.4-2.4v4.8M1236.6 1263.1h4.8m-2.4-2.4v4.8M1334.8 1195.7h4.8m-2.4-2.4v4.8M1370.4 1195.8h4.8m-2.4-2.4v4.8M1327.8 1225.7h4.8m-2.4-2.4v4.8M1362.8 1310.4h4.8m-2.4-2.4v4.8M1255.2 1221.7h4.8m-2.4-2.4v4.8M1213.2 1183.4h4.8m-2.4-2.4v4.8M1281.8 1210.2h4.8m-2.4-2.4v4.8M1240.5 1109.9h4.8m-2.4-2.4v4.8M1333.9 1168.2h4.8m-2.4-2.4v4.8M1300 1167.5h4.8m-2.4-2.4v4.8M1345.9 1256.8h4.8m-2.4-2.4v4.8M1347.3 1115.2h4.8m-2.4-2.4v4.8M1395.3 1213.1h4.8m-2.4-2.4v4.8M1333.4 1130.6h4.8m-2.4-2.4v4.8M1381 1129h4.8m-2.4-2.4v4.8M1258.1 1244.4h4.8m-2.4-2.4v4.8M1402.8 1242.9h4.8m-2.4-2.4v4.8M1327.9 1271.4h4.8m-2.4-2.4v4.8M1254.9 1195.3h4.8m-2.4-2.4v4.8M1358.7 1309h4.8m-2.4-2.4v4.8M1312.3 1278.1h4.8m-2.4-2.4v4.8M1370.3 1264.5h4.8m-2.4-2.4v4.8M1412.4 1257.9h4.8m-2.4-2.4v4.8M1382.7 1159.1h4.8m-2.4-2.4v4.8M1363 1233.2h4.8m-2.4-2.4v4.8M1333 1203h4.8m-2.4-2.4v4.8M1341.1 1111.9h4.8m-2.4-2.4v4.8M1271.7 1277.3h4.8m-2.4-2.4v4.8M1260.8 1201.5h4.8m-2.4-2.4v4.8M1273.5 1304.9h4.8m-2.4-2.4v4.8M1316.3 1207.4h4.8m-2.4-2.4v4.8M1327.9 1154h4.8m-2.4-2.4v4.8M1391 1136.2h4.8m-2.4-2.4v4.8M1287.1 1145.2h4.8m-2.4-2.4v4.8M1334.8 1262.5h4.8m-2.4-2.4v4.8M1364.6 1213.1h4.8m-2.4-2.4v4.8M1285.6 1249.4h4.8m-2.4-2.4v4.8M1317.2 1171.1h4.8m-2.4-2.4v4.8M1274.9 1201.5h4.8m-2.4-2.4v4.8M1285.4 1174.2h4.8m-2.4-2.4v4.8M1241.5 1127.5h4.8m-2.4-2.4v4.8M1299.8 1215.6h4.8m-2.4-2.4v4.8M1223.5 1138.9h4.8m-2.4-2.4v4.8M1345.8 1315.8h4.8m-2.4-2.4v4.8M1340.7 1252.2h4.8m-2.4-2.4v4.8M1320.2 1169.4h4.8m-2.4-2.4v4.8M1334.1 1222.1h4.8m-2.4-2.4v4.8M1225.6 1186.2h4.8m-2.4-2.4v4.8M1380.9 1209.4h4.8m-2.4-2.4v4.8M1335.8 1293.9h4.8m-2.4-2.4v4.8M1413.6 1234.7h4.8m-2.4-2.4v4.8M1315.4 1214.8h4.8m-2.4-2.4v4.8M1364.3 1269.5h4.8m-2.4-2.4v4.8M1183.8 1215.8h4.8m-2.4-2.4v4.8M1271.2 1125.8h4.8m-2.4-2.4v4.8M1335 1332.5h4.8m-2.4-2.4v4.8M1244.9 1305.8h4.8m-2.4-2.4v4.8M1184.5 1240.8h4.8m-2.4-2.4v4.8M1411 1284.9h4.8m-2.4-2.4v4.8M1336.1 1298.5h4.8m-2.4-2.4v4.8M1402.9 1152.2h4.8m-2.4-2.4v4.8M1317.6 1107.7h4.8m-2.4-2.4v4.8M1330.8 1212.9h4.8m-2.4-2.4v4.8M1264.3 1310.6h4.8m-2.4-2.4v4.8M1255.1 1177.3h4.8m-2.4-2.4v4.8M1376.9 1166.3h4.8m-2.4-2.4v4.8M1227.7 1219.1h4.8m-2.4-2.4v4.8M1368.8 1307.5h4.8m-2.4-2.4v4.8M1379.3 1234.9h4.8m-2.4-2.4v4.8M1235.2 1201.6h4.8m-2.4-2.4v4.8M1278.1 1265.5h4.8m-2.4-2.4v4.8M1384.1 1239.1h4.8m-2.4-2.4v4.8M1390.7 1268.7h4.8m-2.4-2.4v4.8M1371.7 1301h4.8m-2.4-2.4v4.8M1287.7 1207.3h4.8m-2.4-2.4v4.8M1309.6 1250.1h4.8m-2.4-2.4v4.8M1321.5 1198.4h4.8m-2.4-2.4v4.8M1277.1 1298.7h4.8m-2.4-2.4v4.8M1192.6 1217.4h4.8m-2.4-2.4v4.8M1304.7 1295.9h4.8m-2.4-2.4v4.8M1342.7 1336.1h4.8m-2.4-2.4v4.8M1358.5 1218.1h4.8m-2.4-2.4v4.8M1373.1 1178.7h4.8m-2.4-2.4v4.8M1280 1216.6h4.8m-2.4-2.4v4.8M1250.9 1124.9h4.8m-2.4-2.4v4.8M1249.4 1168.4h4.8m-2.4-2.4v4.8M1277.1 1230.5h4.8m-2.4-2.4v4.8M1312.8 1332.2h4.8m-2.4-2.4v4.8M1407.2 1283.9h4.8m-2.4-2.4v4.8M1191 1228.6h4.8m-2.4-2.4v4.8M1215.4 1219.4h4.8m-2.4-2.4v4.8M1300.5 1108.9h4.8m-2.4-2.4v4.8M1290.9 1121.1h4.8m-2.4-2.4v4.8M1293.5 1181.7h4.8m-2.4-2.4v4.8M1338.3 1246.5h4.8m-2.4-2.4v4.8M1337.2 1317.1h4.8m-2.4-2.4v4.8M1301.3 1199.8h4.8m-2.4-2.4v4.8M1317.9 1244.7h4.8m-2.4-2.4v4.8M1397.4 1164.5h4.8m-2.4-2.4v4.8M1302.8 1173.2h4.8m-2.4-2.4v4.8M1392.8 1138h4.8m-2.4-2.4v4.8M1321.2 1275.2h4.8m-2.4-2.4v4.8M1349 1317.3h4.8m-2.4-2.4v4.8M1347.8 1288.3h4.8m-2.4-2.4v4.8M1317.3 1249.2h4.8m-2.4-2.4v4.8M1340.7 1165.6h4.8m-2.4-2.4v4.8M1328.1 1298.9h4.8m-2.4-2.4v4.8M1265.3 1218h4.8m-2.4-2.4v4.8M1408.4 1206.9h4.8m-2.4-2.4v4.8M1267 1316.2h4.8m-2.4-2.4v4.8M1340.2 1283.4h4.8m-2.4-2.4v4.8M1362 1184h4.8m-2.4-2.4v4.8M1355.4 1307.9h4.8m-2.4-2.4v4.8M1181.7 1210.7h4.8m-2.4-2.4v4.8M1251.1 1205.2h4.8m-2.4-2.4v4.8M1329.5 1281.4h4.8m-2.4-2.4v4.8M1243.9 1268.8h4.8m-2.4-2.4v4.8M1276.9 1117.9h4.8m-2.4-2.4v4.8M1308.4 1263.3h4.8m-2.4-2.4v4.8M1305.1 1236.7h4.8m-2.4-2.4v4.8M1284.8 1307h4.8m-2.4-2.4v4.8M1309 1099h4.8m-2.4-2.4v4.8M1298.2 1212.1h4.8m-2.4-2.4v4.8M1385.6 1185.9h4.8m-2.4-2.4v4.8M1386.3 1242.7h4.8m-2.4-2.4v4.8M1363.7 1252.8h4.8m-2.4-2.4v4.8M1240.9 1251.6h4.8m-2.4-2.4v4.8M1294.6 1328.1h4.8m-2.4-2.4v4.8M1235 1271.8h4.8m-2.4-2.4v4.8M1350.1 1230.4h4.8m-2.4-2.4v4.8M1391 1305.8h4.8m-2.4-2.4v4.8M1318 1196.4h4.8m-2.4-2.4v4.8M1403.4 1183.2h4.8m-2.4-2.4v4.8M1335.2 1252.3h4.8m-2.4-2.4v4.8M1275.4 1321.7h4.8m-2.4-2.4v4.8" stroke="#4292c6" stroke-width="2.3" fill="none"/><path d="M1232.7 1141.9h4.8m-2.4-2.4v4.8M1202.2 1280h4.8m-2.4-2.4v4.8M1259.8 1246.6h4.8m-2.4-2.4v4.8M1341.7 1224.6h4.8m-2.4-2.4v4.8M1211.6 1223.6h4.8m-2.4-2.4v4.8M1245.2 1246.8h4.8m-2.4-2.4v4.8M1358 1234h4.8m-2.4-2.4v4.8M1342.1 1312.9h4.8m-2.4-2.4v4.8M1275 1226.7h4.8m-2.4-2.4v4.8M1408 1169.8h4.8m-2.4-2.4v4.8M1330.6 1332.9h4.8m-2.4-2.4v4.8M1282.8 1302.5h4.8m-2.4-2.4v4.8M1318.4 1307.5h4.8m-2.4-2.4v4.8M1214.7 1227h4.8m-2.4-2.4v4.8M1381.4 1116.1h4.8m-2.4-2.4v4.8M1373.2 1129.2h4.8m-2.4-2.4v4.8M1240.4 1303.4h4.8m-2.4-2.4v4.8M1258.5 1280.7h4.8m-2.4-2.4v4.8M1258.2 1230.5h4.8m-2.4-2.4v4.8M1206.9 1195.8h4.8m-2.4-2.4v4.8M1206 1190.6h4.8m-2.4-2.4v4.8M1370.7 1129.5h4.8m-2.4-2.4v4.8M1299.1 1287.8h4.8m-2.4-2.4v4.8M1373.1 1204h4.8m-2.4-2.4v4.8M1233.5 1298.5h4.8m-2.4-2.4v4.8M1306.1 1157.9h4.8m-2.4-2.4v4.8M1207.4 1217.2h4.8m-2.4-2.4v4.8M1219.7 1218.5h4.8m-2.4-2.4v4.8M1341.5 1268.1h4.8m-2.4-2.4v4.8M1375.9 1303.3h4.8m-2.4-2.4v4.8M1280 1221.1h4.8m-2.4-2.4v4.8M1387.7 1256.4h4.8m-2.4-2.4v4.8M1284 1272.7h4.8m-2.4-2.4v4.8M1312.7 1114.2h4.8m-2.4-2.4v4.8M1405.4 1192.8h4.8m-2.4-2.4v4.8M1258.1 1214.1h4.8m-2.4-2.4v4.8M1334 1329.4h4.8m-2.4-2.4v4.8M1392.3 1243h4.8m-2.4-2.4v4.8M1329 1115.1h4.8m-2.4-2.4v4.8M1282.6 1145h4.8m-2.4-2.4v4.8M1253.1 1297.1h4.8m-2.4-2.4v4.8M1328.8 1171.7h4.8m-2.4-2.4v4.8M1340.5 1126.4h4.8m-2.4-2.4v4.8M1211.9 1177.8h4.8m-2.4-2.4v4.8M1268.5 1117.4h4.8m-2.4-2.4v4.8M1207.5 1207.3h4.8m-2.4-2.4v4.8M1355.2 1272h4.8m-2.4-2.4v4.8M1304.3 1090.7h4.8m-2.4-2.4v4.8M1274.9 1175.1h4.8m-2.4-2.4v4.8M1202.3 1274.4h4.8m-2.4-2.4v4.8M1315.3 1253h4.8m-2.4-2.4v4.8M1209.9 1184.5h4.8m-2.4-2.4v4.8M1252.7 1202.9h4.8m-2.4-2.4v4.8M1201.8 1219.7h4.8m-2.4-2.4v4.8M1301.6 1282.5h4.8m-2.4-2.4v4.8M1314 1318h4.8m-2.4-2.4v4.8M1389.3 1280.4h4.8m-2.4-2.4v4.8M1365 1223.8h4.8m-2.4-2.4v4.8M1345.6 1182.5h4.8m-2.4-2.4v4.8M1237.4 1150.3h4.8m-2.4-2.4v4.8M1246.7 1130.4h4.8m-2.4-2.4v4.8M1303.4 1272.5h4.8m-2.4-2.4v4.8M1363.4 1195.3h4.8m-2.4-2.4v4.8M1286.3 1277.4h4.8m-2.4-2.4v4.8M1222.7 1283.1h4.8m-2.4-2.4v4.8M1254.9 1244.2h4.8m-2.4-2.4v4.8M1217.5 1138.3h4.8m-2.4-2.4v4.8M1300 1196.1h4.8m-2.4-2.4v4.8M1360.1 1224.4h4.8m-2.4-2.4v4.8M1310.1 1145.6h4.8m-2.4-2.4v4.8M1236.8 1278.3h4.8m-2.4-2.4v4.8M1235.1 1154.8h4.8m-2.4-2.4v4.8M1288.8 1294.8h4.8m-2.4-2.4v4.8M1215.5 1175.9h4.8m-2.4-2.4v4.8M1387.7 1154.4h4.8m-2.4-2.4v4.8M1336.9 1279.6h4.8m-2.4-2.4v4.8M1214.9 1236.5h4.8m-2.4-2.4v4.8M1232.5 1181.2h4.8m-2.4-2.4v4.8M1256.6 1276.8h4.8m-2.4-2.4v4.8M1324.8 1312.1h4.8m-2.4-2.4v4.8M1215.9 1266h4.8m-2.4-2.4v4.8M1387.2 1176.4h4.8m-2.4-2.4v4.8M1310.3 1301.7h4.8m-2.4-2.4v4.8M1356.3 1184.8h4.8m-2.4-2.4v4.8M1279.4 1204.8h4.8m-2.4-2.4v4.8M1416.4 1246.5h4.8m-2.4-2.4v4.8M1365.5 1114.6h4.8m-2.4-2.4v4.8M1384.3 1256.4h4.8m-2.4-2.4v4.8M1228.4 1196.9h4.8m-2.4-2.4v4.8M1368.6 1260.6h4.8m-2.4-2.4v4.8M1278.8 1307.7h4.8m-2.4-2.4v4.8M1207 1229h4.8m-2.4-2.4v4.8M1396.2 1294.3h4.8m-2.4-2.4v4.8M1391.1 1191h4.8m-2.4-2.4v4.8M1273.6 1181.1h4.8m-2.4-2.4v4.8M1397.1 1226.6h4.8m-2.4-2.4v4.8M1235.1 1114.8h4.8m-2.4-2.4v4.8M1314.1 1287.2h4.8m-2.4-2.4v4.8M1332.9 1144.2h4.8m-2.4-2.4v4.8M1279.3 1116.8h4.8m-2.4-2.4v4.8M1250.1 1174.3h4.8m-2.4-2.4v4.8M1291.7 1294.7h4.8m-2.4-2.4v4.8M1247.3 1107.9h4.8m-2.4-2.4v4.8M1329.5 1251.6h4.8m-2.4-2.4v4.8M1315.3 1195h4.8m-2.4-2.4v4.8M1250.1 1289.5h4.8m-2.4-2.4v4.8M1253.2 1284.6h4.8m-2.4-2.4v4.8M1373.8 1275.9h4.8m-2.4-2.4v4.8M1261.6 1182.2h4.8m-2.4-2.4v4.8M1264.7 1131.4h4.8m-2.4-2.4v4.8M1336.3 1223.7h4.8m-2.4-2.4v4.8M1199.9 1166.9h4.8m-2.4-2.4v4.8M1380.3 1189.5h4.8m-2.4-2.4v4.8M1273.4 1295h4.8m-2.4-2.4v4.8M1388.9 1223.3h4.8m-2.4-2.4v4.8M1304.3 1225.6h4.8m-2.4-2.4v4.8M1282.6 1230.2h4.8m-2.4-2.4v4.8M1339.6 1263.6h4.8m-2.4-2.4v4.8M1343.7 1164.8h4.8m-2.4-2.4v4.8M1204.1 1245.6h4.8m-2.4-2.4v4.8M1309 1187.3h4.8m-2.4-2.4v4.8M1356.1 1175.2h4.8m-2.4-2.4v4.8M1272.1 1161.8h4.8m-2.4-2.4v4.8M1287.3 1284.8h4.8m-2.4-2.4v4.8M1210.4 1199.1h4.8m-2.4-2.4v4.8M1335.8 1199.6h4.8m-2.4-2.4v4.8M1235.6 1182.9h4.8m-2.4-2.4v4.8M1243.7 1274.3h4.8m-2.4-2.4v4.8M1304.4 1285.4h4.8m-2.4-2.4v4.8M1265.7 1250.7h4.8m-2.4-2.4v4.8M1268 1227.9h4.8m-2.4-2.4v4.8M1296.1 1204h4.8m-2.4-2.4v4.8M1350.6 1169.6h4.8m-2.4-2.4v4.8M1335.3 1243.3h4.8m-2.4-2.4v4.8M1225.8 1283.9h4.8m-2.4-2.4v4.8M1391.1 1248.1h4.8m-2.4-2.4v4.8M1341.3 1118.6h4.8m-2.4-2.4v4.8M1189.3 1188.8h4.8m-2.4-2.4v4.8M1336.6 1180.5h4.8m-2.4-2.4v4.8M1258 1137h4.8m-2.4-2.4v4.8M1348.5 1271.8h4.8m-2.4-2.4v4.8M1286.7 1119h4.8m-2.4-2.4v4.8M1260.8 1149.6h4.8m-2.4-2.4v4.8M1264.9 1246.7h4.8m-2.4-2.4v4.8M1352.4 1141.9h4.8m-2.4-2.4v4.8M1398.5 1246.3h4.8m-2.4-2.4v4.8M1375.8 1213.9h4.8m-2.4-2.4v4.8M1321.2 1171.5h4.8m-2.4-2.4v4.8M1365.7 1117.8h4.8m-2.4-2.4v4.8M1300.3 1301.7h4.8m-2.4-2.4v4.8M1270.5 1213.5h4.8m-2.4-2.4v4.8M1280.4 1282.9h4.8m-2.4-2.4v4.8M1346 1312.1h4.8m-2.4-2.4v4.8M1249 1285.1h4.8m-2.4-2.4v4.8M1315.3 1282.7h4.8m-2.4-2.4v4.8M1247.8 1148.5h4.8m-2.4-2.4v4.8M1204 1230.4h4.8m-2.4-2.4v4.8M1312.9 1181.4h4.8m-2.4-2.4v4.8M1267.1 1126.1h4.8m-2.4-2.4v4.8M1333.3 1256.5h4.8m-2.4-2.4v4.8M1229.7 1168.3h4.8m-2.4-2.4v4.8M1293.1 1141.8h4.8m-2.4-2.4v4.8M1388.2 1253.5h4.8m-2.4-2.4v4.8M1367.5 1325h4.8m-2.4-2.4v4.8M1397.2 1129.3h4.8m-2.4-2.4v4.8M1413.1 1214.9h4.8m-2.4-2.4v4.8M1276.6 1103h4.8m-2.4-2.4v4.8M1264.2 1173.8h4.8m-2.4-2.4v4.8M1264 1299.3h4.8m-2.4-2.4v4.8M1312.4 1289.4h4.8m-2.4-2.4v4.8M1400.8 1288.4h4.8m-2.4-2.4v4.8M1268 1137.9h4.8m-2.4-2.4v4.8M1386.7 1277.5h4.8m-2.4-2.4v4.8M1396.3 1270.9h4.8m-2.4-2.4v4.8M1371.6 1184.3h4.8m-2.4-2.4v4.8M1290.6 1126.3h4.8m-2.4-2.4v4.8M1412.4 1245.3h4.8m-2.4-2.4v4.8M1350.6 1164.7h4.8m-2.4-2.4v4.8M1308.3 1243.2h4.8m-2.4-2.4v4.8M1196.5 1241.8h4.8m-2.4-2.4v4.8M1400.2 1160.5h4.8m-2.4-2.4v4.8M1192.9 1263.9h4.8m-2.4-2.4v4.8M1281.9 1310.8h4.8m-2.4-2.4v4.8M1242.8 1213.1h4.8m-2.4-2.4v4.8M1311.8 1237.4h4.8m-2.4-2.4v4.8M1367.1 1160.7h4.8m-2.4-2.4v4.8M1276 1155h4.8m-2.4-2.4v4.8M1301 1112.1h4.8m-2.4-2.4v4.8M1408.9 1155.3h4.8m-2.4-2.4v4.8M1230.2 1138.3h4.8m-2.4-2.4v4.8M1402.9 1204.9h4.8m-2.4-2.4v4.8M1318.5 1300.8h4.8m-2.4-2.4v4.8M1415 1278.5h4.8m-2.4-2.4v4.8M1237.6 1296.9h4.8m-2.4-2.4v4.8M1327 1168.6h4.8m-2.4-2.4v4.8M1308.8 1102.7h4.8m-2.4-2.4v4.8M1331.2 1320h4.8m-2.4-2.4v4.8M1318.4 1332.7h4.8m-2.4-2.4v4.8M1282.1 1281.5h4.8m-2.4-2.4v4.8M1383.2 1206h4.8m-2.4-2.4v4.8M1299.6 1259.1h4.8m-2.4-2.4v4.8M1328 1220.7h4.8m-2.4-2.4v4.8M1301.2 1274.1h4.8m-2.4-2.4v4.8M1235.5 1256.6h4.8m-2.4-2.4v4.8M1363.3 1259.6h4.8m-2.4-2.4v4.8M1261 1108.4h4.8m-2.4-2.4v4.8M1283.7 1235.1h4.8m-2.4-2.4v4.8M1251.4 1115.4h4.8m-2.4-2.4v4.8M1268.8 1207.2h4.8m-2.4-2.4v4.8M1248.2 1236.1h4.8m-2.4-2.4v4.8" stroke="#3282be" stroke-width="2.3" fill="none"/><path d="M1182.2 1203h4.8m-2.4-2.4v4.8M1217.2 1258.6h4.8m-2.4-2.4v4.8M1339.1 1205.7h4.8m-2.4-2.4v4.8M1348.5 1258.2h4.8m-2.4-2.4v4.8M1399.6 1166.4h4.8m-2.4-2.4v4.8M1292.1 1229.5h4.8m-2.4-2.4v4.8M1368.5 1203.2h4.8m-2.4-2.4v4.8M1354 1191.1h4.8m-2.4-2.4v4.8M1250.6 1219.8h4.8m-2.4-2.4v4.8M1357.6 1258.5h4.8m-2.4-2.4v4.8M1354.6 1219.3h4.8m-2.4-2.4v4.8M1219.1 1193h4.8m-2.4-2.4v4.8M1396.2 1306.1h4.8m-2.4-2.4v4.8M1330 1259.1h4.8m-2.4-2.4v4.8M1193.5 1178h4.8m-2.4-2.4v4.8M1291.3 1117h4.8m-2.4-2.4v4.8M1206.2 1199.6h4.8m-2.4-2.4v4.8M1367.1 1147h4.8m-2.4-2.4v4.8M1378.9 1135.3h4.8m-2.4-2.4v4.8M1297.1 1226h4.8m-2.4-2.4v4.8M1323.8 1210.2h4.8m-2.4-2.4v4.8M1293.4 1244.2h4.8m-2.4-2.4v4.8M1403.9 1235.5h4.8m-2.4-2.4v4.8M1358.9 1187.7h4.8m-2.4-2.4v4.8M1395.4 1196.5h4.8m-2.4-2.4v4.8M1374 1313.2h4.8m-2.4-2.4v4.8M1206.3 1224.7h4.8m-2.4-2.4v4.8M1240.8 1158.7h4.8m-2.4-2.4v4.8M1206.7 1243.1h4.8m-2.4-2.4v4.8M1290.2 1316.9h4.8m-2.4-2.4v4.8M1244.4 1239.1h4.8m-2.4-2.4v4.8M1192.7 1204h4.8m-2.4-2.4v4.8M1341.8 1260.4h4.8m-2.4-2.4v4.8M1228 1238h4.8m-2.4-2.4v4.8M1258.7 1225.4h4.8m-2.4-2.4v4.8M1294.7 1127.7h4.8m-2.4-2.4v4.8M1311.2 1156.4h4.8m-2.4-2.4v4.8M1212.2 1155.7h4.8m-2.4-2.4v4.8M1249 1300.6h4.8m-2.4-2.4v4.8M1332.4 1269.7h4.8m-2.4-2.4v4.8M1409.7 1248.4h4.8m-2.4-2.4v4.8M1216.2 1240.6h4.8m-2.4-2.4v4.8M1285.2 1216.9h4.8m-2.4-2.4v4.8M1339.8 1302.8h4.8m-2.4-2.4v4.8M1390.4 1286.3h4.8m-2.4-2.4v4.8M1343.8 1197.2h4.8m-2.4-2.4v4.8M1393.9 1281.7h4.8m-2.4-2.4v4.8M1256.5 1285.6h4.8m-2.4-2.4v4.8M1394.3 1268.9h4.8m-2.4-2.4v4.8M1236 1171.4h4.8m-2.4-2.4v4.8M1258.1 1106.4h4.8m-2.4-2.4v4.8M1388.8 1200.3h4.8m-2.4-2.4v4.8M1282.2 1127.3h4.8m-2.4-2.4v4.8M1373.3 1189.7h4.8m-2.4-2.4v4.8M1371.8 1149.5h4.8m-2.4-2.4v4.8M1369.8 1247h4.8m-2.4-2.4v4.8M1379.3 1318.1h4.8m-2.4-2.4v4.8M1255.3 1239.3h4.8m-2.4-2.4v4.8M1256.8 1308h4.8m-2.4-2.4v4.8M1329.5 1244.6h4.8m-2.4-2.4v4.8M1244 1188.8h4.8m-2.4-2.4v4.8M1361.3 1171.9h4.8m-2.4-2.4v4.8M1228.6 1272.6h4.8m-2.4-2.4v4.8M1339.1 1286.3h4.8m-2.4-2.4v4.8M1297.6 1271.4h4.8m-2.4-2.4v4.8M1344.8 1189.4h4.8m-2.4-2.4v4.8M1305.6 1213.7h4.8m-2.4-2.4v4.8M1269.2 1262.8h4.8m-2.4-2.4v4.8M1306.6 1275.7h4.8m-2.4-2.4v4.8M1336 1234.2h4.8m-2.4-2.4v4.8M1268.9 1179.8h4.8m-2.4-2.4v4.8M1390.4 1141.9h4.8m-2.4-2.4v4.8M1283.8 1202.2h4.8m-2.4-2.4v4.8M1285.8 1168h4.8m-2.4-2.4v4.8M1248.1 1291.3h4.8m-2.4-2.4v4.8M1329.4 1144.2h4.8m-2.4-2.4v4.8M1212.6 1284.2h4.8m-2.4-2.4v4.8M1185.4 1247.5h4.8m-2.4-2.4v4.8M1207.4 1156.5h4.8m-2.4-2.4v4.8M1355.1 1124.1h4.8m-2.4-2.4v4.8M1224.3 1229h4.8m-2.4-2.4v4.8M1330.4 1156.6h4.8m-2.4-2.4v4.8M1268.6 1239.6h4.8m-2.4-2.4v4.8M1320.1 1248.5h4.8m-2.4-2.4v4.8M1225.9 1181.9h4.8m-2.4-2.4v4.8M1315.6 1184.2h4.8m-2.4-2.4v4.8M1320.6 1229.3h4.8m-2.4-2.4v4.8M1295.7 1109.6h4.8m-2.4-2.4v4.8M1338.1 1195.6h4.8m-2.4-2.4v4.8M1327 1285.4h4.8m-2.4-2.4v4.8M1394.9 1176.6h4.8m-2.4-2.4v4.8M1291.1 1091.3h4.8m-2.4-2.4v4.8M1393.2 1187h4.8m-2.4-2.4v4.8M1278.9 1292.5h4.8m-2.4-2.4v4.8M1382.4 1301.2h4.8m-2.4-2.4v4.8M1356 1207.9h4.8m-2.4-2.4v4.8M1393.5 1250.2h4.8m-2.4-2.4v4.8M1227.7 1194.3h4.8m-2.4-2.4v4.8M1341.7 1328.8h4.8m-2.4-2.4v4.8M1364.6 1280.3h4.8m-2.4-2.4v4.8M1275.7 1108h4.8m-2.4-2.4v4.8M1396.4 1249.6h4.8m-2.4-2.4v4.8M1291.7 1150.5h4.8m-2.4-2.4v4.8M1318.6 1208.2h4.8m-2.4-2.4v4.8M1252.9 1104.3h4.8m-2.4-2.4v4.8M1271.6 1094.5h4.8m-2.4-2.4v4.8M1328.9 1273.6h4.8m-2.4-2.4v4.8M1280.5 1165.5h4.8m-2.4-2.4v4.8M1348.6 1189.7h4.8m-2.4-2.4v4.8M1377.6 1307.3h4.8m-2.4-2.4v4.8M1293.5 1300.1h4.8m-2.4-2.4v4.8M1420.4 1265.4h4.8m-2.4-2.4v4.8M1332.8 1283h4.8m-2.4-2.4v4.8M1301.9 1149.4h4.8m-2.4-2.4v4.8M1312.6 1145.7h4.8m-2.4-2.4v4.8M1391.1 1159.8h4.8m-2.4-2.4v4.8M1329.5 1208.3h4.8m-2.4-2.4v4.8M1182.7 1205.3h4.8m-2.4-2.4v4.8M1408.9 1251.2h4.8m-2.4-2.4v4.8M1305.6 1239.1h4.8m-2.4-2.4v4.8M1274.9 1209.1h4.8m-2.4-2.4v4.8M1382.2 1228.2h4.8m-2.4-2.4v4.8M1236.6 1220.2h4.8m-2.4-2.4v4.8M1399.2 1280.2h4.8m-2.4-2.4v4.8M1263.1 1217.4h4.8m-2.4-2.4v4.8M1265.7 1156.9h4.8m-2.4-2.4v4.8M1239.4 1247.2h4.8m-2.4-2.4v4.8M1243.9 1303.1h4.8m-2.4-2.4v4.8M1296.1 1267.8h4.8m-2.4-2.4v4.8M1286.7 1130.3h4.8m-2.4-2.4v4.8M1318.8 1238.4h4.8m-2.4-2.4v4.8M1394.3 1302.5h4.8m-2.4-2.4v4.8M1390.5 1154.2h4.8m-2.4-2.4v4.8M1288.7 1222.2h4.8m-2.4-2.4v4.8M1263 1312.6h4.8m-2.4-2.4v4.8M1383.8 1143.8h4.8m-2.4-2.4v4.8M1396.2 1220.6h4.8m-2.4-2.4v4.8M1349.8 1148.7h4.8m-2.4-2.4v4.8M1395.6 1246.2h4.8m-2.4-2.4v4.8M1223.3 1225.8h4.8m-2.4-2.4v4.8M1247.4 1194.6h4.8m-2.4-2.4v4.8M1303.4 1128.5h4.8m-2.4-2.4v4.8M1216.2 1205.7h4.8m-2.4-2.4v4.8M1274.5 1142.2h4.8m-2.4-2.4v4.8M1403.6 1144.1h4.8m-2.4-2.4v4.8M1257.8 1241.1h4.8m-2.4-2.4v4.8M1313.2 1296.3h4.8m-2.4-2.4v4.8M1361 1137.7h4.8m-2.4-2.4v4.8M1278.1 1086.3h4.8m-2.4-2.4v4.8M1404.4 1225.4h4.8m-2.4-2.4v4.8M1283.6 1256.9h4.8m-2.4-2.4v4.8M1345.7 1116.8h4.8m-2.4-2.4v4.8M1364.3 1141.9h4.8m-2.4-2.4v4.8M1308.6 1190.4h4.8m-2.4-2.4v4.8M1205.5 1249.1h4.8m-2.4-2.4v4.8M1195.8 1250.1h4.8m-2.4-2.4v4.8M1340.4 1152.5h4.8m-2.4-2.4v4.8" stroke="#2171b5" stroke-width="2.3" fill="none"/><path d="M1301.7 1306.7h4.8m-2.4-2.4v4.8M1352.1 1281.2h4.8m-2.4-2.4v4.8M1376 1146.1h4.8m-2.4-2.4v4.8M1247 1252.4h4.8m-2.4-2.4v4.8M1348.6 1332.1h4.8m-2.4-2.4v4.8M1374.5 1171.4h4.8m-2.4-2.4v4.8M1245 1146.1h4.8m-2.4-2.4v4.8M1364.7 1276.5h4.8m-2.4-2.4v4.8M1373.8 1269.2h4.8m-2.4-2.4v4.8M1252.1 1158h4.8m-2.4-2.4v4.8M1241.6 1198.3h4.8m-2.4-2.4v4.8M1325.4 1188.3h4.8m-2.4-2.4v4.8M1383.3 1267.9h4.8m-2.4-2.4v4.8M1329.3 1247.4h4.8m-2.4-2.4v4.8M1369.5 1169h4.8m-2.4-2.4v4.8M1370.3 1323.5h4.8m-2.4-2.4v4.8M1245 1152.9h4.8m-2.4-2.4v4.8M1247.5 1231.8h4.8m-2.4-2.4v4.8M1394.6 1241.7h4.8m-2.4-2.4v4.8M1337.2 1321.9h4.8m-2.4-2.4v4.8M1309.8 1134.7h4.8m-2.4-2.4v4.8M1329.5 1199.6h4.8m-2.4-2.4v4.8M1383 1200.7h4.8m-2.4-2.4v4.8M1224.5 1146.8h4.8m-2.4-2.4v4.8M1372.5 1122.2h4.8m-2.4-2.4v4.8M1275.8 1133.6h4.8m-2.4-2.4v4.8M1373.4 1230.9h4.8m-2.4-2.4v4.8M1350.1 1280.2h4.8m-2.4-2.4v4.8M1305.9 1315.8h4.8m-2.4-2.4v4.8M1244.3 1271.3h4.8m-2.4-2.4v4.8M1226.7 1265.7h4.8m-2.4-2.4v4.8M1372.3 1146.1h4.8m-2.4-2.4v4.8M1238.3 1182.3h4.8m-2.4-2.4v4.8M1278.8 1104.3h4.8m-2.4-2.4v4.8M1357.2 1157.6h4.8m-2.4-2.4v4.8M1316.6 1124.7h4.8m-2.4-2.4v4.8M1365.8 1125.8h4.8m-2.4-2.4v4.8M1218.5 1256.1h4.8m-2.4-2.4v4.8M1222 1134.2h4.8m-2.4-2.4v4.8M1389.1 1129.8h4.8m-2.4-2.4v4.8M1314.7 1263.2h4.8m-2.4-2.4v4.8M1279.1 1193h4.8m-2.4-2.4v4.8M1249.6 1248.1h4.8m-2.4-2.4v4.8M1405.3 1154.6h4.8m-2.4-2.4v4.8M1400.1 1238h4.8m-2.4-2.4v4.8M1376.5 1300.6h4.8m-2.4-2.4v4.8M1356.8 1116h4.8m-2.4-2.4v4.8M1286.5 1099.6h4.8m-2.4-2.4v4.8M1355.4 1151.1h4.8m-2.4-2.4v4.8M1275 1111.7h4.8m-2.4-2.4v4.8M1232.9 1260.3h4.8m-2.4-2.4v4.8M1223.3 1129.4h4.8m-2.4-2.4v4.8M1250.7 1309.9h4.8m-2.4-2.4v4.8M1385.9 1198.6h4.8m-2.4-2.4v4.8M1269.8 1258.2h4.8m-2.4-2.4v4.8M1406.9 1279.3h4.8m-2.4-2.4v4.8M1258.5 1311.9h4.8m-2.4-2.4v4.8M1309.1 1280h4.8m-2.4-2.4v4.8M1303.9 1202.7h4.8m-2.4-2.4v4.8M1366.4 1306h4.8m-2.4-2.4v4.8M1236.5 1283.1h4.8m-2.4-2.4v4.8M1212.4 1172.4h4.8m-2.4-2.4v4.8M1261.1 1261.1h4.8m-2.4-2.4v4.8M1372.6 1173.9h4.8m-2.4-2.4v4.8M1378.8 1224.9h4.8m-2.4-2.4v4.8M1279.8 1299.7h4.8m-2.4-2.4v4.8M1246.5 1178.2h4.8m-2.4-2.4v4.8M1410.7 1273.9h4.8m-2.4-2.4v4.8M1267.3 1200h4.8m-2.4-2.4v4.8M1381.7 1132.4h4.8m-2.4-2.4v4.8M1280.7 1086.8h4.8m-2.4-2.4v4.8M1362.6 1135.2h4.8m-2.4-2.4v4.8M1239.7 1277.2h4.8m-2.4-2.4v4.8M1320.2 1271h4.8m-2.4-2.4v4.8M1266.6 1259h4.8m-2.4-2.4v4.8M1214.3 1291.8h4.8m-2.4-2.4v4.8M1347.7 1227.5h4.8m-2.4-2.4v4.8M1301.2 1232h4.8m-2.4-2.4v4.8M1306.8 1281.2h4.8m-2.4-2.4v4.8M1325.7 1249.9h4.8m-2.4-2.4v4.8M1379.6 1194.4h4.8m-2.4-2.4v4.8M1359.3 1185.2h4.8m-2.4-2.4v4.8M1293.4 1322.6h4.8m-2.4-2.4v4.8M1326.6 1126.2h4.8m-2.4-2.4v4.8M1191.5 1190.6h4.8m-2.4-2.4v4.8M1406.5 1265.7h4.8m-2.4-2.4v4.8M1313.8 1307.9h4.8m-2.4-2.4v4.8M1358.4 1168h4.8m-2.4-2.4v4.8M1330.4 1241.7h4.8m-2.4-2.4v4.8M1366.7 1248.6h4.8m-2.4-2.4v4.8M1279.7 1107.6h4.8m-2.4-2.4v4.8M1191.7 1258.9h4.8m-2.4-2.4v4.8M1226.3 1221.3h4.8m-2.4-2.4v4.8M1323 1177.2h4.8m-2.4-2.4v4.8M1205.1 1177.6h4.8m-2.4-2.4v4.8M1413.7 1242.9h4.8m-2.4-2.4v4.8M1301.6 1094.6h4.8m-2.4-2.4v4.8M1328.9 1306.9h4.8m-2.4-2.4v4.8M1349.2 1166.7h4.8m-2.4-2.4v4.8M1398.6 1235.7h4.8m-2.4-2.4v4.8M1345.4 1274.4h4.8m-2.4-2.4v4.8M1366.5 1172.1h4.8m-2.4-2.4v4.8M1342.3 1134h4.8m-2.4-2.4v4.8M1343.1 1105.1h4.8m-2.4-2.4v4.8M1315.3 1141.1h4.8m-2.4-2.4v4.8M1359.5 1265.4h4.8m-2.4-2.4v4.8M1396.6 1172.6h4.8m-2.4-2.4v4.8M1266.5 1141.8h4.8m-2.4-2.4v4.8M1246.6 1244.1h4.8m-2.4-2.4v4.8" stroke="#1461a8" stroke-width="2.3" fill="none"/><path d="M1270.5 1198.7h4.8m-2.4-2.4v4.8M1395.8 1200.4h4.8m-2.4-2.4v4.8M1304.5 1327.4h4.8m-2.4-2.4v4.8M1241.5 1254.5h4.8m-2.4-2.4v4.8M1237.8 1169.4h4.8m-2.4-2.4v4.8M1353.4 1156.1h4.8m-2.4-2.4v4.8M1300.7 1226.5h4.8m-2.4-2.4v4.8M1332.8 1170.4h4.8m-2.4-2.4v4.8M1307.2 1329.8h4.8m-2.4-2.4v4.8M1408.2 1220.4h4.8m-2.4-2.4v4.8M1246.6 1210.1h4.8m-2.4-2.4v4.8M1271.8 1314.8h4.8m-2.4-2.4v4.8M1272.6 1107.6h4.8m-2.4-2.4v4.8M1183.2 1213.6h4.8m-2.4-2.4v4.8M1306.6 1137h4.8m-2.4-2.4v4.8M1253.6 1289.1h4.8m-2.4-2.4v4.8M1393.2 1182.1h4.8m-2.4-2.4v4.8M1184.7 1234.5h4.8m-2.4-2.4v4.8M1241.3 1261.2h4.8m-2.4-2.4v4.8M1266.3 1148.6h4.8m-2.4-2.4v4.8M1371 1252.2h4.8m-2.4-2.4v4.8M1393.6 1158.9h4.8m-2.4-2.4v4.8M1376.3 1126h4.8m-2.4-2.4v4.8M1395.9 1134.5h4.8m-2.4-2.4v4.8M1254.9 1261.1h4.8m-2.4-2.4v4.8M1281.8 1285.9h4.8m-2.4-2.4v4.8M1361.5 1169.2h4.8m-2.4-2.4v4.8M1270.7 1168.9h4.8m-2.4-2.4v4.8M1239.5 1139.2h4.8m-2.4-2.4v4.8M1285.4 1227h4.8m-2.4-2.4v4.8M1347.6 1197.8h4.8m-2.4-2.4v4.8M1198.2 1252h4.8m-2.4-2.4v4.8M1295.9 1177.1h4.8m-2.4-2.4v4.8M1393.7 1161.4h4.8m-2.4-2.4v4.8M1228.1 1211.2h4.8m-2.4-2.4v4.8M1306.5 1199.5h4.8m-2.4-2.4v4.8M1383.6 1252.8h4.8m-2.4-2.4v4.8" stroke="#08519c" stroke-width="2.3" fill="none"/><path d="M1391.7 1302h4.8m-2.4-2.4v4.8M1270.7 1294h4.8m-2.4-2.4v4.8M1201.2 1184.3h4.8m-2.4-2.4v4.8M1305.2 1185.1h4.8m-2.4-2.4v4.8M1350.6 1198.5h4.8m-2.4-2.4v4.8M1352.4 1212.7h4.8m-2.4-2.4v4.8M1309.5 1268.3h4.8m-2.4-2.4v4.8M1337.1 1261.5h4.8m-2.4-2.4v4.8M1219 1287.4h4.8m-2.4-2.4v4.8M1319.1 1201.5h4.8m-2.4-2.4v4.8M1345.5 1327.5h4.8m-2.4-2.4v4.8M1234 1265.1h4.8m-2.4-2.4v4.8M1281.9 1089.5h4.8m-2.4-2.4v4.8M1342.2 1143.9h4.8m-2.4-2.4v4.8M1338.6 1187.8h4.8m-2.4-2.4v4.8M1198.5 1255.8h4.8m-2.4-2.4v4.8M1338.6 1151h4.8m-2.4-2.4v4.8" stroke="#084084" stroke-width="2.3" fill="none"/><path d="M1379.5 1266.1h4.8m-2.4-2.4v4.8M1410.3 1211h4.8m-2.4-2.4v4.8M1311.1 1101h4.8m-2.4-2.4v4.8M1381.3 1161.3h4.8m-2.4-2.4v4.8" stroke="#08306b" stroke-width="2.3" fill="none"/><text x="782.5" y="1393.7" text-anchor="middle" font-size="29.5" font-style="italic" fill="#000">IGFBP2</text><path d="M871 1451h4.8m-2.4-2.4v4.8" stroke="#84bcdc" stroke-width="2.3" fill="none"/><path d="M832.3 1442h4.8m-2.4-2.4v4.8M724.5 1505.1h4.8m-2.4-2.4v4.8M829.1 1455.6h4.8m-2.4-2.4v4.8M756.3 1533.2h4.8m-2.4-2.4v4.8M773.5 1470.7h4.8m-2.4-2.4v4.8M862.4 1462.5h4.8m-2.4-2.4v4.8M713.1 1501.3h4.8m-2.4-2.4v4.8M752.7 1495.3h4.8m-2.4-2.4v4.8M840 1444.8h4.8m-2.4-2.4v4.8M839.4 1470.3h4.8m-2.4-2.4v4.8M846.8 1492.9h4.8m-2.4-2.4v4.8M718.5 1442.4h4.8m-2.4-2.4v4.8M710 1520.6h4.8m-2.4-2.4v4.8M750.3 1427h4.8m-2.4-2.4v4.8M792.7 1463.3h4.8m-2.4-2.4v4.8M730.4 1430.5h4.8m-2.4-2.4v4.8M729.6 1448.2h4.8m-2.4-2.4v4.8M782.9 1412.6h4.8m-2.4-2.4v4.8M838.6 1460.9h4.8m-2.4-2.4v4.8" stroke="#6baed6" stroke-width="2.3" fill="none"/><path d="M716.1 1456.5h4.8m-2.4-2.4v4.8M766.6 1548.5h4.8m-2.4-2.4v4.8M714.3 1439.4h4.8m-2.4-2.4v4.8M762.7 1421.1h4.8m-2.4-2.4v4.8M775.2 1545.5h4.8m-2.4-2.4v4.8M726.7 1417.8h4.8m-2.4-2.4v4.8M775.9 1558.4h4.8m-2.4-2.4v4.8M763.7 1407.4h4.8m-2.4-2.4v4.8M889 1550.1h4.8m-2.4-2.4v4.8M720.9 1433.8h4.8m-2.4-2.4v4.8M698.3 1496h4.8m-2.4-2.4v4.8M769.3 1532.1h4.8m-2.4-2.4v4.8M714.1 1479.8h4.8m-2.4-2.4v4.8M831.4 1476.6h4.8m-2.4-2.4v4.8M709.8 1473.8h4.8m-2.4-2.4v4.8M762.2 1410.2h4.8m-2.4-2.4v4.8M756.7 1446.3h4.8m-2.4-2.4v4.8M759.4 1413.7h4.8m-2.4-2.4v4.8M728.9 1416.9h4.8m-2.4-2.4v4.8M722.1 1454.1h4.8m-2.4-2.4v4.8M774.5 1486.5h4.8m-2.4-2.4v4.8M803.8 1563.6h4.8m-2.4-2.4v4.8M807.7 1449.6h4.8m-2.4-2.4v4.8M674.9 1485.9h4.8m-2.4-2.4v4.8M854.5 1508.5h4.8m-2.4-2.4v4.8M809 1443.2h4.8m-2.4-2.4v4.8M760.1 1619.5h4.8m-2.4-2.4v4.8M840 1448.5h4.8m-2.4-2.4v4.8M809.5 1437.1h4.8m-2.4-2.4v4.8M735 1441.5h4.8m-2.4-2.4v4.8M700.6 1602.9h4.8m-2.4-2.4v4.8M804.8 1475.6h4.8m-2.4-2.4v4.8M815.7 1437.6h4.8m-2.4-2.4v4.8M721.3 1497.2h4.8m-2.4-2.4v4.8M822.9 1536h4.8m-2.4-2.4v4.8M770.2 1428.6h4.8m-2.4-2.4v4.8M795.6 1490.5h4.8m-2.4-2.4v4.8M670.5 1492.6h4.8m-2.4-2.4v4.8M722.5 1467.5h4.8m-2.4-2.4v4.8M787.4 1500.4h4.8m-2.4-2.4v4.8M791.5 1493.9h4.8m-2.4-2.4v4.8M761.8 1586.5h4.8m-2.4-2.4v4.8M862.4 1572.5h4.8m-2.4-2.4v4.8M766.2 1469.5h4.8m-2.4-2.4v4.8M738.8 1492.8h4.8m-2.4-2.4v4.8M716.5 1434.6h4.8m-2.4-2.4v4.8M808.8 1458.5h4.8m-2.4-2.4v4.8M820.7 1451.7h4.8m-2.4-2.4v4.8M747.9 1518.9h4.8m-2.4-2.4v4.8M823.9 1502.6h4.8m-2.4-2.4v4.8M879.4 1467.6h4.8m-2.4-2.4v4.8M867.8 1480.4h4.8m-2.4-2.4v4.8M725.8 1524.2h4.8m-2.4-2.4v4.8M801.4 1487.6h4.8m-2.4-2.4v4.8M782.9 1582.3h4.8m-2.4-2.4v4.8M868.2 1546.7h4.8m-2.4-2.4v4.8M840.7 1491.1h4.8m-2.4-2.4v4.8M789.8 1460.1h4.8m-2.4-2.4v4.8M801 1500.5h4.8m-2.4-2.4v4.8M859.8 1504.9h4.8m-2.4-2.4v4.8M770.3 1410.3h4.8m-2.4-2.4v4.8" stroke="#56a0ce" stroke-width="2.3" fill="none"/><path d="M753.3 1457.5h4.8m-2.4-2.4v4.8M826.4 1600.2h4.8m-2.4-2.4v4.8M851.4 1604.6h4.8m-2.4-2.4v4.8M678.7 1569.6h4.8m-2.4-2.4v4.8M833.4 1465.7h4.8m-2.4-2.4v4.8M804.8 1441.1h4.8m-2.4-2.4v4.8M764.2 1414.5h4.8m-2.4-2.4v4.8M815.6 1498.6h4.8m-2.4-2.4v4.8M807 1562.1h4.8m-2.4-2.4v4.8M680.1 1596.9h4.8m-2.4-2.4v4.8M869.9 1519.4h4.8m-2.4-2.4v4.8M716.3 1573.5h4.8m-2.4-2.4v4.8M796.2 1493.3h4.8m-2.4-2.4v4.8M726.9 1477h4.8m-2.4-2.4v4.8M786 1443.3h4.8m-2.4-2.4v4.8M758.1 1500.8h4.8m-2.4-2.4v4.8M724.6 1418.7h4.8m-2.4-2.4v4.8M828.9 1568.8h4.8m-2.4-2.4v4.8M755.7 1457h4.8m-2.4-2.4v4.8M850.9 1577.3h4.8m-2.4-2.4v4.8M671.9 1528.6h4.8m-2.4-2.4v4.8M768 1563.2h4.8m-2.4-2.4v4.8M722.3 1550.8h4.8m-2.4-2.4v4.8M818.6 1466.7h4.8m-2.4-2.4v4.8M670.4 1499.4h4.8m-2.4-2.4v4.8M779.7 1504.1h4.8m-2.4-2.4v4.8M871.2 1460.4h4.8m-2.4-2.4v4.8M857.2 1519.7h4.8m-2.4-2.4v4.8M665.6 1559.3h4.8m-2.4-2.4v4.8M785.7 1475.4h4.8m-2.4-2.4v4.8M723.7 1619.6h4.8m-2.4-2.4v4.8M846.6 1585.7h4.8m-2.4-2.4v4.8M753.4 1423.3h4.8m-2.4-2.4v4.8M784.5 1464.6h4.8m-2.4-2.4v4.8M711.5 1597.3h4.8m-2.4-2.4v4.8M811.6 1430.7h4.8m-2.4-2.4v4.8M818.1 1516.2h4.8m-2.4-2.4v4.8M734 1452.4h4.8m-2.4-2.4v4.8M686.6 1472.4h4.8m-2.4-2.4v4.8M854.9 1577.5h4.8m-2.4-2.4v4.8M818.8 1542.6h4.8m-2.4-2.4v4.8M731.3 1595.8h4.8m-2.4-2.4v4.8M753.7 1512h4.8m-2.4-2.4v4.8M865.3 1543.2h4.8m-2.4-2.4v4.8M833.4 1481.9h4.8m-2.4-2.4v4.8M710.8 1490.4h4.8m-2.4-2.4v4.8M754 1523.8h4.8m-2.4-2.4v4.8M809.2 1514.7h4.8m-2.4-2.4v4.8M847.5 1508.7h4.8m-2.4-2.4v4.8M658.2 1532.6h4.8m-2.4-2.4v4.8M871.3 1545.6h4.8m-2.4-2.4v4.8M740.7 1525.8h4.8m-2.4-2.4v4.8M845.1 1591.7h4.8m-2.4-2.4v4.8M716 1485.2h4.8m-2.4-2.4v4.8M749.6 1430.7h4.8m-2.4-2.4v4.8M741 1602.8h4.8m-2.4-2.4v4.8M844 1566h4.8m-2.4-2.4v4.8M752.8 1451.8h4.8m-2.4-2.4v4.8M815.2 1426.8h4.8m-2.4-2.4v4.8M872.1 1500.7h4.8m-2.4-2.4v4.8M804.8 1451.3h4.8m-2.4-2.4v4.8M726 1515.2h4.8m-2.4-2.4v4.8M813.3 1540h4.8m-2.4-2.4v4.8M868.7 1473.4h4.8m-2.4-2.4v4.8M736.2 1501.2h4.8m-2.4-2.4v4.8M731.2 1590.8h4.8m-2.4-2.4v4.8M764.1 1465.5h4.8m-2.4-2.4v4.8M696.4 1494.3h4.8m-2.4-2.4v4.8M802.4 1502.3h4.8m-2.4-2.4v4.8M721.5 1481.6h4.8m-2.4-2.4v4.8M810.7 1542.7h4.8m-2.4-2.4v4.8M732.9 1490.8h4.8m-2.4-2.4v4.8M803.6 1469.5h4.8m-2.4-2.4v4.8M833 1628h4.8m-2.4-2.4v4.8M780 1532.7h4.8m-2.4-2.4v4.8M730.4 1619.7h4.8m-2.4-2.4v4.8M659.7 1553.5h4.8m-2.4-2.4v4.8M751.2 1505.7h4.8m-2.4-2.4v4.8M804.7 1478h4.8m-2.4-2.4v4.8M792.7 1530.3h4.8m-2.4-2.4v4.8M743.5 1498.8h4.8m-2.4-2.4v4.8M760.4 1487h4.8m-2.4-2.4v4.8M779 1480.2h4.8m-2.4-2.4v4.8M803.8 1463.2h4.8m-2.4-2.4v4.8M879.4 1509.5h4.8m-2.4-2.4v4.8M885.7 1490.2h4.8m-2.4-2.4v4.8M687.8 1477.3h4.8m-2.4-2.4v4.8M865.2 1455.2h4.8m-2.4-2.4v4.8M761.6 1464.2h4.8m-2.4-2.4v4.8M826.5 1439.2h4.8m-2.4-2.4v4.8M711.3 1602.1h4.8m-2.4-2.4v4.8M690.5 1548.7h4.8m-2.4-2.4v4.8M829.4 1443.1h4.8m-2.4-2.4v4.8M865.7 1447.7h4.8m-2.4-2.4v4.8M731.5 1435.6h4.8m-2.4-2.4v4.8M699.1 1548h4.8m-2.4-2.4v4.8M770.6 1523h4.8m-2.4-2.4v4.8M681.1 1550.4h4.8m-2.4-2.4v4.8M718.5 1427.2h4.8m-2.4-2.4v4.8M732.7 1456h4.8m-2.4-2.4v4.8M790.1 1503.2h4.8m-2.4-2.4v4.8M745.8 1468.1h4.8m-2.4-2.4v4.8M658.8 1534.8h4.8m-2.4-2.4v4.8M739.6 1565.7h4.8m-2.4-2.4v4.8M756.5 1408.5h4.8m-2.4-2.4v4.8M850 1532.9h4.8m-2.4-2.4v4.8M855.8 1451.4h4.8m-2.4-2.4v4.8M839.9 1436.8h4.8m-2.4-2.4v4.8M778.2 1458.9h4.8m-2.4-2.4v4.8M755.3 1405.8h4.8m-2.4-2.4v4.8M682.9 1552.2h4.8m-2.4-2.4v4.8M870 1453.5h4.8m-2.4-2.4v4.8M841 1526.4h4.8m-2.4-2.4v4.8M867.6 1569.2h4.8m-2.4-2.4v4.8M707.6 1572.8h4.8m-2.4-2.4v4.8M816.1 1647.8h4.8m-2.4-2.4v4.8M820.9 1460.6h4.8m-2.4-2.4v4.8M704.5 1487.3h4.8m-2.4-2.4v4.8M793.2 1444.3h4.8m-2.4-2.4v4.8M795.3 1466h4.8m-2.4-2.4v4.8M756.4 1604.9h4.8m-2.4-2.4v4.8M727.6 1423.3h4.8m-2.4-2.4v4.8M746.3 1413.5h4.8m-2.4-2.4v4.8M772.3 1417h4.8m-2.4-2.4v4.8M822.9 1508.7h4.8m-2.4-2.4v4.8M725.6 1443.9h4.8m-2.4-2.4v4.8M853.8 1513.4h4.8m-2.4-2.4v4.8M803.8 1485.4h4.8m-2.4-2.4v4.8M833.6 1504.2h4.8m-2.4-2.4v4.8M865.2 1478.8h4.8m-2.4-2.4v4.8M675.9 1488.9h4.8m-2.4-2.4v4.8M689.3 1572.9h4.8m-2.4-2.4v4.8M665.9 1547.6h4.8m-2.4-2.4v4.8M775 1427.9h4.8m-2.4-2.4v4.8M765.2 1445.3h4.8m-2.4-2.4v4.8M871.6 1585.6h4.8m-2.4-2.4v4.8M793.9 1480.1h4.8m-2.4-2.4v4.8M775.8 1518.8h4.8m-2.4-2.4v4.8M841 1567.6h4.8m-2.4-2.4v4.8M740.3 1475.9h4.8m-2.4-2.4v4.8M772.4 1612.6h4.8m-2.4-2.4v4.8M777.3 1492.2h4.8m-2.4-2.4v4.8M667.9 1582.9h4.8m-2.4-2.4v4.8M816.4 1481.4h4.8m-2.4-2.4v4.8M813.5 1442.7h4.8m-2.4-2.4v4.8M837.8 1445.3h4.8m-2.4-2.4v4.8M689.8 1466.9h4.8m-2.4-2.4v4.8M854.7 1463.5h4.8m-2.4-2.4v4.8M750.6 1474h4.8m-2.4-2.4v4.8M775.5 1431.1h4.8m-2.4-2.4v4.8M728.8 1467.1h4.8m-2.4-2.4v4.8M705 1457.3h4.8m-2.4-2.4v4.8M802.2 1522.9h4.8m-2.4-2.4v4.8M776.1 1413.6h4.8m-2.4-2.4v4.8M823.5 1485.7h4.8m-2.4-2.4v4.8M787.5 1546.3h4.8m-2.4-2.4v4.8M814.6 1602.4h4.8m-2.4-2.4v4.8M833.8 1431.5h4.8m-2.4-2.4v4.8M858.8 1550.9h4.8m-2.4-2.4v4.8M808.1 1460.7h4.8m-2.4-2.4v4.8M702.9 1530.2h4.8m-2.4-2.4v4.8M751.5 1436.9h4.8m-2.4-2.4v4.8M783.3 1421.7h4.8m-2.4-2.4v4.8M879.9 1492.4h4.8m-2.4-2.4v4.8M855.5 1480.3h4.8m-2.4-2.4v4.8M817.5 1424.1h4.8m-2.4-2.4v4.8M863.9 1469.8h4.8m-2.4-2.4v4.8M714.2 1452.2h4.8m-2.4-2.4v4.8M758.2 1575.9h4.8m-2.4-2.4v4.8M790.7 1466.2h4.8m-2.4-2.4v4.8M783.1 1509.4h4.8m-2.4-2.4v4.8M809.6 1571.3h4.8m-2.4-2.4v4.8M680.9 1479.3h4.8m-2.4-2.4v4.8M818.4 1454.4h4.8m-2.4-2.4v4.8M743.5 1526.2h4.8m-2.4-2.4v4.8M724.1 1429.2h4.8m-2.4-2.4v4.8M826.9 1435.3h4.8m-2.4-2.4v4.8" stroke="#4292c6" stroke-width="2.3" fill="none"/><path d="M707.5 1460.9h4.8m-2.4-2.4v4.8M753.5 1573.6h4.8m-2.4-2.4v4.8M657.2 1522h4.8m-2.4-2.4v4.8M657.9 1547.2h4.8m-2.4-2.4v4.8M692.1 1577.6h4.8m-2.4-2.4v4.8M737.3 1422h4.8m-2.4-2.4v4.8M873.7 1485.4h4.8m-2.4-2.4v4.8M684.7 1491.3h4.8m-2.4-2.4v4.8M821.9 1496.8h4.8m-2.4-2.4v4.8M686.5 1542.6h4.8m-2.4-2.4v4.8M760.9 1519.6h4.8m-2.4-2.4v4.8M669.7 1508.8h4.8m-2.4-2.4v4.8M765 1474.1h4.8m-2.4-2.4v4.8M720 1565.8h4.8m-2.4-2.4v4.8M822.9 1651.1h4.8m-2.4-2.4v4.8M828.3 1510.1h4.8m-2.4-2.4v4.8M719.8 1465.1h4.8m-2.4-2.4v4.8M702.1 1444.8h4.8m-2.4-2.4v4.8M749.6 1545.7h4.8m-2.4-2.4v4.8M695.3 1515.6h4.8m-2.4-2.4v4.8M686.7 1554.4h4.8m-2.4-2.4v4.8M818.1 1428.1h4.8m-2.4-2.4v4.8M831.8 1577.5h4.8m-2.4-2.4v4.8M791.7 1477.4h4.8m-2.4-2.4v4.8M689.6 1546h4.8m-2.4-2.4v4.8M729.4 1440.4h4.8m-2.4-2.4v4.8M693 1463.1h4.8m-2.4-2.4v4.8M680.9 1509.6h4.8m-2.4-2.4v4.8M820.3 1624.9h4.8m-2.4-2.4v4.8M799.8 1507.3h4.8m-2.4-2.4v4.8M865.9 1621h4.8m-2.4-2.4v4.8M692 1609h4.8m-2.4-2.4v4.8M780.6 1476.9h4.8m-2.4-2.4v4.8M844.8 1462h4.8m-2.4-2.4v4.8M745.4 1613h4.8m-2.4-2.4v4.8M675.6 1491.3h4.8m-2.4-2.4v4.8M794.8 1470.3h4.8m-2.4-2.4v4.8M822 1560.3h4.8m-2.4-2.4v4.8M827.7 1475.1h4.8m-2.4-2.4v4.8M765.9 1436h4.8m-2.4-2.4v4.8M681.1 1518.6h4.8m-2.4-2.4v4.8M849 1618.1h4.8m-2.4-2.4v4.8M692.9 1491.3h4.8m-2.4-2.4v4.8M691.4 1562.8h4.8m-2.4-2.4v4.8M845.1 1451h4.8m-2.4-2.4v4.8M722.6 1511.2h4.8m-2.4-2.4v4.8M711.7 1507.5h4.8m-2.4-2.4v4.8M798.2 1529.2h4.8m-2.4-2.4v4.8M850.1 1468.5h4.8m-2.4-2.4v4.8M816.4 1540.4h4.8m-2.4-2.4v4.8M844.5 1642.5h4.8m-2.4-2.4v4.8M719.7 1471.9h4.8m-2.4-2.4v4.8M844.8 1438.3h4.8m-2.4-2.4v4.8M878 1554.5h4.8m-2.4-2.4v4.8M849 1546.5h4.8m-2.4-2.4v4.8M768 1419.7h4.8m-2.4-2.4v4.8M833.2 1506.7h4.8m-2.4-2.4v4.8M771.9 1486.8h4.8m-2.4-2.4v4.8M775.1 1614h4.8m-2.4-2.4v4.8M771.4 1579.2h4.8m-2.4-2.4v4.8M668.4 1563.7h4.8m-2.4-2.4v4.8M807.2 1489.4h4.8m-2.4-2.4v4.8M776.9 1525.4h4.8m-2.4-2.4v4.8M686.8 1496.8h4.8m-2.4-2.4v4.8M743.2 1436.4h4.8m-2.4-2.4v4.8M682.4 1526.3h4.8m-2.4-2.4v4.8M741.1 1500.6h4.8m-2.4-2.4v4.8M836.5 1428.9h4.8m-2.4-2.4v4.8M834.8 1495.9h4.8m-2.4-2.4v4.8M715.5 1477.7h4.8m-2.4-2.4v4.8M749.6 1494.1h4.8m-2.4-2.4v4.8M677.2 1593.4h4.8m-2.4-2.4v4.8M791 1576h4.8m-2.4-2.4v4.8M726.2 1563.2h4.8m-2.4-2.4v4.8M747.5 1601.1h4.8m-2.4-2.4v4.8M789.7 1572h4.8m-2.4-2.4v4.8M676.7 1538.7h4.8m-2.4-2.4v4.8M715.8 1599.3h4.8m-2.4-2.4v4.8M729.2 1585.3h4.8m-2.4-2.4v4.8M667.6 1523h4.8m-2.4-2.4v4.8M786.8 1534.1h4.8m-2.4-2.4v4.8M779.2 1434.8h4.8m-2.4-2.4v4.8M784 1587.3h4.8m-2.4-2.4v4.8M702.8 1557h4.8m-2.4-2.4v4.8M706 1554.1h4.8m-2.4-2.4v4.8M780.6 1606.7h4.8m-2.4-2.4v4.8M788.5 1637h4.8m-2.4-2.4v4.8M819.2 1430.1h4.8m-2.4-2.4v4.8M829.9 1499.7h4.8m-2.4-2.4v4.8M843.4 1498.3h4.8m-2.4-2.4v4.8M839.2 1542.8h4.8m-2.4-2.4v4.8M840.7 1506.5h4.8m-2.4-2.4v4.8M687 1474.7h4.8m-2.4-2.4v4.8M846.4 1459.3h4.8m-2.4-2.4v4.8M768.7 1623.7h4.8m-2.4-2.4v4.8M729.3 1488.2h4.8m-2.4-2.4v4.8M712.2 1469.3h4.8m-2.4-2.4v4.8M722.2 1445.6h4.8m-2.4-2.4v4.8M757.6 1487.3h4.8m-2.4-2.4v4.8M797.1 1451.5h4.8m-2.4-2.4v4.8M806.8 1588.7h4.8m-2.4-2.4v4.8M719.3 1553.6h4.8m-2.4-2.4v4.8M774.5 1515.1h4.8m-2.4-2.4v4.8M721.3 1529.1h4.8m-2.4-2.4v4.8M806.8 1431.8h4.8m-2.4-2.4v4.8M688.1 1535.1h4.8m-2.4-2.4v4.8M687.7 1499.1h4.8m-2.4-2.4v4.8M690 1600.1h4.8m-2.4-2.4v4.8M864.5 1605.3h4.8m-2.4-2.4v4.8M781.2 1526.6h4.8m-2.4-2.4v4.8M834 1463.1h4.8m-2.4-2.4v4.8M829.8 1641.3h4.8m-2.4-2.4v4.8M874.1 1521.2h4.8m-2.4-2.4v4.8M743.2 1531.1h4.8m-2.4-2.4v4.8M861.8 1473.4h4.8m-2.4-2.4v4.8M844.6 1501.3h4.8m-2.4-2.4v4.8M828.4 1424.6h4.8m-2.4-2.4v4.8M740.8 1425h4.8m-2.4-2.4v4.8M766.2 1519.1h4.8m-2.4-2.4v4.8M789.2 1582.2h4.8m-2.4-2.4v4.8M836.7 1438h4.8m-2.4-2.4v4.8M812.9 1487.3h4.8m-2.4-2.4v4.8M879.4 1473.6h4.8m-2.4-2.4v4.8M809.4 1578.4h4.8m-2.4-2.4v4.8M670.3 1575.5h4.8m-2.4-2.4v4.8M861.4 1495.4h4.8m-2.4-2.4v4.8M830.6 1503.8h4.8m-2.4-2.4v4.8M784.1 1461.1h4.8m-2.4-2.4v4.8M839.8 1433.6h4.8m-2.4-2.4v4.8M874.2 1557h4.8m-2.4-2.4v4.8M841.4 1503.2h4.8m-2.4-2.4v4.8M850.7 1619.6h4.8m-2.4-2.4v4.8M703.2 1515.9h4.8m-2.4-2.4v4.8M844.6 1514.8h4.8m-2.4-2.4v4.8M849.3 1570.9h4.8m-2.4-2.4v4.8M698 1607.8h4.8m-2.4-2.4v4.8M796.4 1448.7h4.8m-2.4-2.4v4.8M725.7 1426.5h4.8m-2.4-2.4v4.8M865.3 1510h4.8m-2.4-2.4v4.8M709.9 1433.8h4.8m-2.4-2.4v4.8M699 1550.5h4.8m-2.4-2.4v4.8M806.2 1454.5h4.8m-2.4-2.4v4.8M761.1 1418.6h4.8m-2.4-2.4v4.8M729.9 1540.7h4.8m-2.4-2.4v4.8M807.3 1463.2h4.8m-2.4-2.4v4.8M688.1 1502.4h4.8m-2.4-2.4v4.8M707.7 1579.3h4.8m-2.4-2.4v4.8M756.3 1529.2h4.8m-2.4-2.4v4.8M746.8 1462.2h4.8m-2.4-2.4v4.8M715.3 1428.9h4.8m-2.4-2.4v4.8M744.7 1471.4h4.8m-2.4-2.4v4.8M724.8 1493.3h4.8m-2.4-2.4v4.8M866.4 1515.9h4.8m-2.4-2.4v4.8M781.1 1456h4.8m-2.4-2.4v4.8M789.2 1506.4h4.8m-2.4-2.4v4.8M730 1558.3h4.8m-2.4-2.4v4.8M825.8 1585.6h4.8m-2.4-2.4v4.8M820.3 1575.8h4.8m-2.4-2.4v4.8M728.1 1597.2h4.8m-2.4-2.4v4.8M828.5 1557.5h4.8m-2.4-2.4v4.8M718.7 1507.8h4.8m-2.4-2.4v4.8M861.5 1511.3h4.8m-2.4-2.4v4.8M855.2 1448h4.8m-2.4-2.4v4.8M785.9 1654.1h4.8m-2.4-2.4v4.8M725.4 1628.9h4.8m-2.4-2.4v4.8M686.3 1483.3h4.8m-2.4-2.4v4.8M762.8 1457.1h4.8m-2.4-2.4v4.8M748 1614h4.8m-2.4-2.4v4.8M813.4 1605.3h4.8m-2.4-2.4v4.8M688.2 1597h4.8m-2.4-2.4v4.8M772.1 1590.4h4.8m-2.4-2.4v4.8M857.5 1531.8h4.8m-2.4-2.4v4.8M756.7 1461.1h4.8m-2.4-2.4v4.8M819.1 1508.4h4.8m-2.4-2.4v4.8M801.5 1426.9h4.8m-2.4-2.4v4.8M783.6 1599h4.8m-2.4-2.4v4.8M743.8 1581.8h4.8m-2.4-2.4v4.8M818 1483.8h4.8m-2.4-2.4v4.8M750.5 1471.1h4.8m-2.4-2.4v4.8M844.5 1583.5h4.8m-2.4-2.4v4.8M810.4 1553.2h4.8m-2.4-2.4v4.8M833.2 1453.3h4.8m-2.4-2.4v4.8M830.8 1480.7h4.8m-2.4-2.4v4.8M864.6 1460.9h4.8m-2.4-2.4v4.8M830.4 1494.2h4.8m-2.4-2.4v4.8M815.4 1430.9h4.8m-2.4-2.4v4.8M746.7 1480.8h4.8m-2.4-2.4v4.8M820.6 1482h4.8m-2.4-2.4v4.8M694.7 1550.1h4.8m-2.4-2.4v4.8M795.9 1501.5h4.8m-2.4-2.4v4.8M790.8 1526.4h4.8m-2.4-2.4v4.8M778.9 1604.4h4.8m-2.4-2.4v4.8M775.7 1408.9h4.8m-2.4-2.4v4.8M760.2 1568.4h4.8m-2.4-2.4v4.8M758.3 1572.9h4.8m-2.4-2.4v4.8M791.7 1490.1h4.8m-2.4-2.4v4.8M660.4 1566.5h4.8m-2.4-2.4v4.8M687.2 1491.4h4.8m-2.4-2.4v4.8M740.9 1467.6h4.8m-2.4-2.4v4.8M675.2 1556.6h4.8m-2.4-2.4v4.8M708.8 1584.1h4.8m-2.4-2.4v4.8M692.3 1533.5h4.8m-2.4-2.4v4.8M703.6 1473.5h4.8m-2.4-2.4v4.8M794.6 1488.4h4.8m-2.4-2.4v4.8M734.1 1596.3h4.8m-2.4-2.4v4.8M848.9 1475.3h4.8m-2.4-2.4v4.8M665.6 1545h4.8m-2.4-2.4v4.8M794.5 1567.5h4.8m-2.4-2.4v4.8M691.7 1512h4.8m-2.4-2.4v4.8M699 1525.3h4.8m-2.4-2.4v4.8M867.2 1475.2h4.8m-2.4-2.4v4.8M808.4 1541.1h4.8m-2.4-2.4v4.8M798.2 1445.5h4.8m-2.4-2.4v4.8M852.3 1608.8h4.8m-2.4-2.4v4.8M700.4 1505.2h4.8m-2.4-2.4v4.8M728.2 1561h4.8m-2.4-2.4v4.8M727.3 1452.7h4.8m-2.4-2.4v4.8M812.8 1465.4h4.8m-2.4-2.4v4.8M700.7 1500.9h4.8m-2.4-2.4v4.8M676.3 1517.1h4.8m-2.4-2.4v4.8M719.2 1458.5h4.8m-2.4-2.4v4.8M855.1 1528.4h4.8m-2.4-2.4v4.8M810.2 1612.9h4.8m-2.4-2.4v4.8M828.2 1580.1h4.8m-2.4-2.4v4.8M887.7 1553.7h4.8m-2.4-2.4v4.8M874.5 1545.7h4.8m-2.4-2.4v4.8M745.8 1444.8h4.8m-2.4-2.4v4.8M800.6 1585.8h4.8m-2.4-2.4v4.8M774.9 1489.6h4.8m-2.4-2.4v4.8M813.7 1633.5h4.8m-2.4-2.4v4.8M877 1471.2h4.8m-2.4-2.4v4.8M850.5 1445h4.8m-2.4-2.4v4.8M792 1426.7h4.8m-2.4-2.4v4.8M805.1 1531.9h4.8m-2.4-2.4v4.8M869 1495.6h4.8m-2.4-2.4v4.8M851.1 1485.3h4.8m-2.4-2.4v4.8M745.1 1532.5h4.8m-2.4-2.4v4.8M765.6 1410.3h4.8m-2.4-2.4v4.8M777.3 1529.9h4.8m-2.4-2.4v4.8M723.7 1604.1h4.8m-2.4-2.4v4.8M808.9 1593.8h4.8m-2.4-2.4v4.8M854.7 1441.2h4.8m-2.4-2.4v4.8M702.5 1513.3h4.8m-2.4-2.4v4.8M794.8 1433.2h4.8m-2.4-2.4v4.8M752.7 1584.5h4.8m-2.4-2.4v4.8M872.5 1541.8h4.8m-2.4-2.4v4.8M741.7 1445.1h4.8m-2.4-2.4v4.8M700 1587.9h4.8m-2.4-2.4v4.8M730 1458.6h4.8m-2.4-2.4v4.8M743.1 1488.1h4.8m-2.4-2.4v4.8M751.7 1617.7h4.8m-2.4-2.4v4.8M748.4 1482.3h4.8m-2.4-2.4v4.8M822 1546.5h4.8m-2.4-2.4v4.8M695.8 1471h4.8m-2.4-2.4v4.8M667.6 1536.4h4.8m-2.4-2.4v4.8M856.8 1566.9h4.8m-2.4-2.4v4.8M774.6 1416.8h4.8m-2.4-2.4v4.8M800.1 1568.9h4.8m-2.4-2.4v4.8M850.4 1504.7h4.8m-2.4-2.4v4.8M754.6 1535.6h4.8m-2.4-2.4v4.8M807.1 1602h4.8m-2.4-2.4v4.8M683.5 1498.1h4.8m-2.4-2.4v4.8M724.1 1487.4h4.8m-2.4-2.4v4.8M816.6 1462.9h4.8m-2.4-2.4v4.8M751.7 1549.5h4.8m-2.4-2.4v4.8M683.5 1543.3h4.8m-2.4-2.4v4.8M675.8 1527.3h4.8m-2.4-2.4v4.8M874.3 1469.8h4.8m-2.4-2.4v4.8M738.4 1466.4h4.8m-2.4-2.4v4.8M781.3 1551.9h4.8m-2.4-2.4v4.8M757.9 1458.7h4.8m-2.4-2.4v4.8M842.4 1481.9h4.8m-2.4-2.4v4.8M836.7 1485.6h4.8m-2.4-2.4v4.8M711.3 1539.2h4.8m-2.4-2.4v4.8M760 1546h4.8m-2.4-2.4v4.8M690.3 1538.4h4.8m-2.4-2.4v4.8M768.1 1500.7h4.8m-2.4-2.4v4.8M825.8 1450.9h4.8m-2.4-2.4v4.8M804.8 1560.7h4.8m-2.4-2.4v4.8M781.2 1544h4.8m-2.4-2.4v4.8M845.5 1430.5h4.8m-2.4-2.4v4.8M811.6 1636.1h4.8m-2.4-2.4v4.8M745.2 1636.4h4.8m-2.4-2.4v4.8M859.1 1452.2h4.8m-2.4-2.4v4.8M821.9 1516.8h4.8m-2.4-2.4v4.8M828.1 1630.2h4.8m-2.4-2.4v4.8M782.8 1562.2h4.8m-2.4-2.4v4.8M800.7 1439.6h4.8m-2.4-2.4v4.8M818.9 1563.7h4.8m-2.4-2.4v4.8M871.5 1483.5h4.8m-2.4-2.4v4.8M729.7 1568.1h4.8m-2.4-2.4v4.8M754.3 1426.6h4.8m-2.4-2.4v4.8M884.8 1546.9h4.8m-2.4-2.4v4.8M703.3 1579.6h4.8m-2.4-2.4v4.8M795.6 1594.2h4.8m-2.4-2.4v4.8M786.8 1452.1h4.8m-2.4-2.4v4.8M795.4 1624.5h4.8m-2.4-2.4v4.8M800 1652.3h4.8m-2.4-2.4v4.8M868.4 1621.5h4.8m-2.4-2.4v4.8M882.9 1474.3h4.8m-2.4-2.4v4.8M887 1494h4.8m-2.4-2.4v4.8M870.3 1539.6h4.8m-2.4-2.4v4.8M670.3 1537.4h4.8m-2.4-2.4v4.8M746.3 1557.1h4.8m-2.4-2.4v4.8M735 1477.3h4.8m-2.4-2.4v4.8M772.3 1596.2h4.8m-2.4-2.4v4.8M844.9 1545.1h4.8m-2.4-2.4v4.8M688.3 1532.4h4.8m-2.4-2.4v4.8M798.1 1488.7h4.8m-2.4-2.4v4.8M850.6 1511.1h4.8m-2.4-2.4v4.8M656.7 1529.7h4.8m-2.4-2.4v4.8M828.1 1432.9h4.8m-2.4-2.4v4.8M739.7 1542.8h4.8m-2.4-2.4v4.8M835.9 1541.7h4.8m-2.4-2.4v4.8M777.9 1447.5h4.8m-2.4-2.4v4.8M749.1 1461.2h4.8m-2.4-2.4v4.8M772.9 1478.5h4.8m-2.4-2.4v4.8M702.7 1553.6h4.8m-2.4-2.4v4.8M816.6 1453h4.8m-2.4-2.4v4.8M793.3 1573.2h4.8m-2.4-2.4v4.8M818.7 1458.6h4.8m-2.4-2.4v4.8M756.7 1600.5h4.8m-2.4-2.4v4.8M867.4 1564.6h4.8m-2.4-2.4v4.8M835.3 1456.7h4.8m-2.4-2.4v4.8M752.8 1554.4h4.8m-2.4-2.4v4.8M783.5 1418h4.8m-2.4-2.4v4.8M863 1561.2h4.8m-2.4-2.4v4.8M758.6 1406.1h4.8m-2.4-2.4v4.8M680.8 1492h4.8m-2.4-2.4v4.8M707.5 1449.2h4.8m-2.4-2.4v4.8M820.1 1435.8h4.8m-2.4-2.4v4.8M837.5 1578.6h4.8m-2.4-2.4v4.8M880.7 1481.7h4.8m-2.4-2.4v4.8M709.8 1590.8h4.8m-2.4-2.4v4.8M762.4 1443.6h4.8m-2.4-2.4v4.8M759.7 1524.7h4.8m-2.4-2.4v4.8M877.5 1502.2h4.8m-2.4-2.4v4.8M871.7 1600.9h4.8m-2.4-2.4v4.8M838.3 1477.6h4.8m-2.4-2.4v4.8M721.2 1616.7h4.8m-2.4-2.4v4.8M726.2 1434.4h4.8m-2.4-2.4v4.8M670.8 1569.1h4.8m-2.4-2.4v4.8M855.8 1594.8h4.8m-2.4-2.4v4.8M814.7 1471.5h4.8m-2.4-2.4v4.8M852.5 1499.6h4.8m-2.4-2.4v4.8M813 1470h4.8m-2.4-2.4v4.8M879.9 1578.8h4.8m-2.4-2.4v4.8" stroke="#3282be" stroke-width="2.3" fill="none"/><path d="M796.2 1454.1h4.8m-2.4-2.4v4.8M725.4 1579.5h4.8m-2.4-2.4v4.8M677.1 1599h4.8m-2.4-2.4v4.8M744.3 1523.9h4.8m-2.4-2.4v4.8M734.5 1565.6h4.8m-2.4-2.4v4.8M820.2 1572.5h4.8m-2.4-2.4v4.8M747.4 1511.6h4.8m-2.4-2.4v4.8M831.8 1496.4h4.8m-2.4-2.4v4.8M813.5 1524.7h4.8m-2.4-2.4v4.8M776.2 1625.7h4.8m-2.4-2.4v4.8M847.4 1591h4.8m-2.4-2.4v4.8M871.6 1517.5h4.8m-2.4-2.4v4.8M740.4 1419.5h4.8m-2.4-2.4v4.8M725.3 1576.1h4.8m-2.4-2.4v4.8M745.1 1517.7h4.8m-2.4-2.4v4.8M816.6 1575.5h4.8m-2.4-2.4v4.8M816 1543.6h4.8m-2.4-2.4v4.8M834.7 1515.6h4.8m-2.4-2.4v4.8M842.7 1522.2h4.8m-2.4-2.4v4.8M848.7 1490.4h4.8m-2.4-2.4v4.8M832.3 1553h4.8m-2.4-2.4v4.8M701.4 1535.2h4.8m-2.4-2.4v4.8M779.3 1462.1h4.8m-2.4-2.4v4.8M725.4 1538.8h4.8m-2.4-2.4v4.8M882 1488.8h4.8m-2.4-2.4v4.8M839 1595.5h4.8m-2.4-2.4v4.8M709.8 1537.5h4.8m-2.4-2.4v4.8M700.7 1578.3h4.8m-2.4-2.4v4.8M848 1588.2h4.8m-2.4-2.4v4.8M666.9 1538.7h4.8m-2.4-2.4v4.8M824.1 1477.1h4.8m-2.4-2.4v4.8M779 1646.4h4.8m-2.4-2.4v4.8M835 1552.2h4.8m-2.4-2.4v4.8M828.9 1538.3h4.8m-2.4-2.4v4.8M792.8 1626.5h4.8m-2.4-2.4v4.8M855.6 1435.1h4.8m-2.4-2.4v4.8M715.1 1622.4h4.8m-2.4-2.4v4.8M716.3 1517.3h4.8m-2.4-2.4v4.8M878.8 1560.1h4.8m-2.4-2.4v4.8M804.4 1578.1h4.8m-2.4-2.4v4.8M864 1612.3h4.8m-2.4-2.4v4.8M668.5 1497h4.8m-2.4-2.4v4.8M824.2 1527h4.8m-2.4-2.4v4.8M839.1 1565.2h4.8m-2.4-2.4v4.8M733.2 1510.9h4.8m-2.4-2.4v4.8M761.7 1581.7h4.8m-2.4-2.4v4.8M744.1 1549h4.8m-2.4-2.4v4.8M847.3 1523h4.8m-2.4-2.4v4.8M728.2 1474.2h4.8m-2.4-2.4v4.8M712.5 1488.4h4.8m-2.4-2.4v4.8M725.1 1551.2h4.8m-2.4-2.4v4.8M748.2 1585.3h4.8m-2.4-2.4v4.8M660.5 1528.1h4.8m-2.4-2.4v4.8M682.3 1536.2h4.8m-2.4-2.4v4.8M864.2 1489.7h4.8m-2.4-2.4v4.8M693.7 1594.4h4.8m-2.4-2.4v4.8M815.8 1587.1h4.8m-2.4-2.4v4.8M854.3 1559.5h4.8m-2.4-2.4v4.8M717.2 1547.2h4.8m-2.4-2.4v4.8M831 1557.1h4.8m-2.4-2.4v4.8M803.6 1566.4h4.8m-2.4-2.4v4.8M841.3 1466h4.8m-2.4-2.4v4.8M751.4 1621.3h4.8m-2.4-2.4v4.8M843.7 1488h4.8m-2.4-2.4v4.8M758.6 1591.7h4.8m-2.4-2.4v4.8M853 1454.3h4.8m-2.4-2.4v4.8M766.7 1475.7h4.8m-2.4-2.4v4.8M799.5 1579.6h4.8m-2.4-2.4v4.8M879.5 1511.8h4.8m-2.4-2.4v4.8M789.1 1586.4h4.8m-2.4-2.4v4.8M754.4 1546.7h4.8m-2.4-2.4v4.8M778.7 1608.8h4.8m-2.4-2.4v4.8M771.4 1642.9h4.8m-2.4-2.4v4.8M795.9 1586h4.8m-2.4-2.4v4.8M729.8 1535.9h4.8m-2.4-2.4v4.8M805 1622.6h4.8m-2.4-2.4v4.8M717.3 1620.2h4.8m-2.4-2.4v4.8M733.2 1499.5h4.8m-2.4-2.4v4.8M732.8 1533.1h4.8m-2.4-2.4v4.8M837.9 1560.2h4.8m-2.4-2.4v4.8M808.4 1648.4h4.8m-2.4-2.4v4.8M869.5 1515.5h4.8m-2.4-2.4v4.8M794.1 1601h4.8m-2.4-2.4v4.8M866.4 1562h4.8m-2.4-2.4v4.8M858.3 1602.3h4.8m-2.4-2.4v4.8M691.9 1520.1h4.8m-2.4-2.4v4.8M723.2 1473.5h4.8m-2.4-2.4v4.8M784.3 1453.7h4.8m-2.4-2.4v4.8M744.7 1606.1h4.8m-2.4-2.4v4.8M803.2 1490.7h4.8m-2.4-2.4v4.8M874.2 1529.1h4.8m-2.4-2.4v4.8M690.4 1565.7h4.8m-2.4-2.4v4.8M803.9 1518.6h4.8m-2.4-2.4v4.8M697.5 1580.8h4.8m-2.4-2.4v4.8M681 1502.5h4.8m-2.4-2.4v4.8M842.7 1621.4h4.8m-2.4-2.4v4.8M854.1 1596.9h4.8m-2.4-2.4v4.8M756.1 1594.9h4.8m-2.4-2.4v4.8M699.3 1465.8h4.8m-2.4-2.4v4.8M751.8 1588.3h4.8m-2.4-2.4v4.8M713.6 1484.4h4.8m-2.4-2.4v4.8M719.2 1558.1h4.8m-2.4-2.4v4.8M740.1 1612.2h4.8m-2.4-2.4v4.8M732.1 1538.7h4.8m-2.4-2.4v4.8M684.7 1503.5h4.8m-2.4-2.4v4.8M700.2 1537.3h4.8m-2.4-2.4v4.8M865.9 1575.1h4.8m-2.4-2.4v4.8M822.3 1469.5h4.8m-2.4-2.4v4.8M762 1620.9h4.8m-2.4-2.4v4.8M847.1 1575.2h4.8m-2.4-2.4v4.8M752.6 1414.6h4.8m-2.4-2.4v4.8M734 1513.8h4.8m-2.4-2.4v4.8M674.2 1514h4.8m-2.4-2.4v4.8M795.2 1578.1h4.8m-2.4-2.4v4.8M882.3 1539.4h4.8m-2.4-2.4v4.8M773.8 1575.7h4.8m-2.4-2.4v4.8M722.7 1420.4h4.8m-2.4-2.4v4.8M737.9 1517.5h4.8m-2.4-2.4v4.8M741.3 1507.7h4.8m-2.4-2.4v4.8M733.4 1544.4h4.8m-2.4-2.4v4.8M694 1534.9h4.8m-2.4-2.4v4.8M719.1 1590.3h4.8m-2.4-2.4v4.8M769.3 1446.7h4.8m-2.4-2.4v4.8M846.5 1465.1h4.8m-2.4-2.4v4.8M764.8 1620.2h4.8m-2.4-2.4v4.8M886.5 1527.3h4.8m-2.4-2.4v4.8M765.7 1487.1h4.8m-2.4-2.4v4.8M822.4 1556.2h4.8m-2.4-2.4v4.8M721.4 1449.4h4.8m-2.4-2.4v4.8M743.4 1565.2h4.8m-2.4-2.4v4.8M837.2 1618h4.8m-2.4-2.4v4.8M760.9 1596.4h4.8m-2.4-2.4v4.8M726 1500.3h4.8m-2.4-2.4v4.8M764.1 1453.2h4.8m-2.4-2.4v4.8M697.6 1602.1h4.8m-2.4-2.4v4.8M723.1 1507.1h4.8m-2.4-2.4v4.8M759.8 1535.9h4.8m-2.4-2.4v4.8M835.8 1481.8h4.8m-2.4-2.4v4.8M891.7 1567.3h4.8m-2.4-2.4v4.8M811.4 1580.5h4.8m-2.4-2.4v4.8M772.6 1461.6h4.8m-2.4-2.4v4.8M741.7 1528.7h4.8m-2.4-2.4v4.8M814.2 1621.8h4.8m-2.4-2.4v4.8M761.6 1467.3h4.8m-2.4-2.4v4.8M850.8 1515.8h4.8m-2.4-2.4v4.8M791 1443.7h4.8m-2.4-2.4v4.8M712.9 1436.7h4.8m-2.4-2.4v4.8M693.4 1575.1h4.8m-2.4-2.4v4.8M826.7 1573.7h4.8m-2.4-2.4v4.8M690.4 1494.9h4.8m-2.4-2.4v4.8M788.1 1589.8h4.8m-2.4-2.4v4.8M738.7 1499.6h4.8m-2.4-2.4v4.8M862.3 1513.4h4.8m-2.4-2.4v4.8M812.1 1529.3h4.8m-2.4-2.4v4.8M696.8 1453.2h4.8m-2.4-2.4v4.8M829 1610.3h4.8m-2.4-2.4v4.8M811.3 1598.6h4.8m-2.4-2.4v4.8M844.7 1490.8h4.8m-2.4-2.4v4.8M689.8 1555.5h4.8m-2.4-2.4v4.8M710.5 1619.1h4.8m-2.4-2.4v4.8M796.3 1435.3h4.8m-2.4-2.4v4.8M708.5 1496.6h4.8m-2.4-2.4v4.8M871.5 1512.4h4.8m-2.4-2.4v4.8M692.5 1488h4.8m-2.4-2.4v4.8M786.4 1460h4.8m-2.4-2.4v4.8M878.9 1572.7h4.8m-2.4-2.4v4.8M835.7 1603.3h4.8m-2.4-2.4v4.8M799.2 1631.1h4.8m-2.4-2.4v4.8M853.7 1585.1h4.8m-2.4-2.4v4.8M847 1615.8h4.8m-2.4-2.4v4.8M731.1 1604.6h4.8m-2.4-2.4v4.8M888.1 1519.9h4.8m-2.4-2.4v4.8M879.7 1534.8h4.8m-2.4-2.4v4.8M801.7 1482.2h4.8m-2.4-2.4v4.8M690.8 1585h4.8m-2.4-2.4v4.8M791.4 1634.2h4.8m-2.4-2.4v4.8M770.6 1507.8h4.8m-2.4-2.4v4.8M795.1 1635.5h4.8m-2.4-2.4v4.8M862.9 1519.3h4.8m-2.4-2.4v4.8M705.3 1592.9h4.8m-2.4-2.4v4.8M711.3 1582.1h4.8m-2.4-2.4v4.8M890.4 1565.5h4.8m-2.4-2.4v4.8M809.2 1510.3h4.8m-2.4-2.4v4.8M713.9 1579.1h4.8m-2.4-2.4v4.8M747.2 1426.6h4.8m-2.4-2.4v4.8M753.4 1626.7h4.8m-2.4-2.4v4.8M831.1 1435h4.8m-2.4-2.4v4.8M673.8 1590h4.8m-2.4-2.4v4.8M882.6 1501.9h4.8m-2.4-2.4v4.8M823.1 1632.9h4.8m-2.4-2.4v4.8M797.1 1563.6h4.8m-2.4-2.4v4.8M743 1409.9h4.8m-2.4-2.4v4.8M677.7 1577h4.8m-2.4-2.4v4.8M866.4 1462.7h4.8m-2.4-2.4v4.8M711.1 1499.6h4.8m-2.4-2.4v4.8M665.3 1581.2h4.8m-2.4-2.4v4.8M760.9 1578.1h4.8m-2.4-2.4v4.8M821.9 1570.5h4.8m-2.4-2.4v4.8M825.9 1446.1h4.8m-2.4-2.4v4.8M886.1 1570.9h4.8m-2.4-2.4v4.8M829.7 1470.1h4.8m-2.4-2.4v4.8M730.4 1601.6h4.8m-2.4-2.4v4.8M753.3 1570.3h4.8m-2.4-2.4v4.8M846 1468.5h4.8m-2.4-2.4v4.8M785.6 1457.5h4.8m-2.4-2.4v4.8M698.2 1448.4h4.8m-2.4-2.4v4.8M720.7 1588.8h4.8m-2.4-2.4v4.8M880.4 1610.9h4.8m-2.4-2.4v4.8M881.3 1606.3h4.8m-2.4-2.4v4.8M753.9 1435.8h4.8m-2.4-2.4v4.8M808.3 1487.2h4.8m-2.4-2.4v4.8M789.7 1514h4.8m-2.4-2.4v4.8M813.2 1646.3h4.8m-2.4-2.4v4.8M731.4 1627h4.8m-2.4-2.4v4.8M750.9 1613h4.8m-2.4-2.4v4.8M881.6 1470h4.8m-2.4-2.4v4.8M683.2 1590.1h4.8m-2.4-2.4v4.8M736.8 1634.2h4.8m-2.4-2.4v4.8M864.2 1481.8h4.8m-2.4-2.4v4.8M739.3 1450.4h4.8m-2.4-2.4v4.8M835.6 1490.9h4.8m-2.4-2.4v4.8M798.1 1557.1h4.8m-2.4-2.4v4.8M860 1517.6h4.8m-2.4-2.4v4.8M827.1 1618.3h4.8m-2.4-2.4v4.8M783 1501.2h4.8m-2.4-2.4v4.8M802.3 1590.4h4.8m-2.4-2.4v4.8M819.5 1440.4h4.8m-2.4-2.4v4.8M806.8 1437.3h4.8m-2.4-2.4v4.8M689.1 1604.8h4.8m-2.4-2.4v4.8M757.1 1549.2h4.8m-2.4-2.4v4.8M733.2 1630.9h4.8m-2.4-2.4v4.8M686.9 1511.8h4.8m-2.4-2.4v4.8M836.4 1554.7h4.8m-2.4-2.4v4.8M683.8 1509.5h4.8m-2.4-2.4v4.8M778.4 1521.7h4.8m-2.4-2.4v4.8M720 1519.7h4.8m-2.4-2.4v4.8M856.9 1478.1h4.8m-2.4-2.4v4.8M778.6 1650.4h4.8m-2.4-2.4v4.8M837.2 1552.2h4.8m-2.4-2.4v4.8M834.4 1634.5h4.8m-2.4-2.4v4.8M758.3 1521.2h4.8m-2.4-2.4v4.8M701.5 1522.5h4.8m-2.4-2.4v4.8M685.3 1518.1h4.8m-2.4-2.4v4.8M761.4 1461.2h4.8m-2.4-2.4v4.8M810.2 1518.6h4.8m-2.4-2.4v4.8M825.8 1493.3h4.8m-2.4-2.4v4.8M735.4 1520.5h4.8m-2.4-2.4v4.8M859.3 1485.7h4.8m-2.4-2.4v4.8M718.4 1593.3h4.8m-2.4-2.4v4.8M838.8 1532.1h4.8m-2.4-2.4v4.8M854.6 1588h4.8m-2.4-2.4v4.8M836.3 1635.8h4.8m-2.4-2.4v4.8M716 1580.2h4.8m-2.4-2.4v4.8M682.3 1475.5h4.8m-2.4-2.4v4.8M800.4 1452.2h4.8m-2.4-2.4v4.8M845.2 1571.2h4.8m-2.4-2.4v4.8M742.6 1546.9h4.8m-2.4-2.4v4.8M827 1595h4.8m-2.4-2.4v4.8M809.6 1562.3h4.8m-2.4-2.4v4.8M774.3 1534.6h4.8m-2.4-2.4v4.8M871.6 1620.3h4.8m-2.4-2.4v4.8M698.3 1457.9h4.8m-2.4-2.4v4.8M735.8 1580.1h4.8m-2.4-2.4v4.8M764.4 1587.5h4.8m-2.4-2.4v4.8M766.4 1424.9h4.8m-2.4-2.4v4.8M815 1571.2h4.8m-2.4-2.4v4.8M743.2 1558.6h4.8m-2.4-2.4v4.8M737.7 1529.1h4.8m-2.4-2.4v4.8M849.5 1560.7h4.8m-2.4-2.4v4.8M664.3 1507.8h4.8m-2.4-2.4v4.8M811 1499.5h4.8m-2.4-2.4v4.8M822.9 1590.8h4.8m-2.4-2.4v4.8M725.6 1555.4h4.8m-2.4-2.4v4.8M883.5 1576.4h4.8m-2.4-2.4v4.8M873.1 1594.5h4.8m-2.4-2.4v4.8M853 1543.9h4.8m-2.4-2.4v4.8M851.6 1472.9h4.8m-2.4-2.4v4.8M761.3 1438h4.8m-2.4-2.4v4.8M754.3 1618.7h4.8m-2.4-2.4v4.8M795.9 1507h4.8m-2.4-2.4v4.8M805.5 1552.7h4.8m-2.4-2.4v4.8M798.4 1605.9h4.8m-2.4-2.4v4.8M858.8 1628.4h4.8m-2.4-2.4v4.8M790.2 1419.4h4.8m-2.4-2.4v4.8M795 1548.3h4.8m-2.4-2.4v4.8M735.4 1468.6h4.8m-2.4-2.4v4.8M719.6 1624.8h4.8m-2.4-2.4v4.8M816.5 1433.4h4.8m-2.4-2.4v4.8M822.9 1481h4.8m-2.4-2.4v4.8M826.7 1460.9h4.8m-2.4-2.4v4.8M874.1 1495h4.8m-2.4-2.4v4.8M812.5 1514.6h4.8m-2.4-2.4v4.8M792.4 1458.2h4.8m-2.4-2.4v4.8M774.8 1620.7h4.8m-2.4-2.4v4.8M702.5 1538.1h4.8m-2.4-2.4v4.8M867.3 1506h4.8m-2.4-2.4v4.8M836.9 1454.2h4.8m-2.4-2.4v4.8M782.8 1645.6h4.8m-2.4-2.4v4.8M785.6 1420h4.8m-2.4-2.4v4.8M758.1 1514.3h4.8m-2.4-2.4v4.8M667.7 1575.1h4.8m-2.4-2.4v4.8M869.5 1508h4.8m-2.4-2.4v4.8M753.5 1611.5h4.8m-2.4-2.4v4.8M856.6 1620.2h4.8m-2.4-2.4v4.8M853.5 1553.9h4.8m-2.4-2.4v4.8M809.4 1464.4h4.8m-2.4-2.4v4.8M742.9 1482.6h4.8m-2.4-2.4v4.8M858.3 1558.1h4.8m-2.4-2.4v4.8M864.8 1587.7h4.8m-2.4-2.4v4.8M700.9 1555.5h4.8m-2.4-2.4v4.8M807.6 1575.5h4.8m-2.4-2.4v4.8M825 1431.7h4.8m-2.4-2.4v4.8M694.3 1613.7h4.8m-2.4-2.4v4.8M842.2 1495.5h4.8m-2.4-2.4v4.8M870.6 1568.6h4.8m-2.4-2.4v4.8M762.3 1526.3h4.8m-2.4-2.4v4.8M748.2 1618.2h4.8m-2.4-2.4v4.8M841.7 1644h4.8m-2.4-2.4v4.8M664.2 1532.2h4.8m-2.4-2.4v4.8M796.7 1514.5h4.8m-2.4-2.4v4.8M871.3 1448.3h4.8m-2.4-2.4v4.8M803.3 1592.6h4.8m-2.4-2.4v4.8M755.1 1484.5h4.8m-2.4-2.4v4.8M812.3 1569.9h4.8m-2.4-2.4v4.8M851.7 1626.3h4.8m-2.4-2.4v4.8M869.1 1551h4.8m-2.4-2.4v4.8M770.5 1502.3h4.8m-2.4-2.4v4.8M770.2 1601.4h4.8m-2.4-2.4v4.8M736.2 1447h4.8m-2.4-2.4v4.8M738.7 1618.3h4.8m-2.4-2.4v4.8M835.8 1488.2h4.8m-2.4-2.4v4.8M745.3 1487.9h4.8m-2.4-2.4v4.8M847.4 1497.7h4.8m-2.4-2.4v4.8M803.2 1455.6h4.8m-2.4-2.4v4.8M894.4 1584.4h4.8m-2.4-2.4v4.8M746.6 1548.9h4.8m-2.4-2.4v4.8M787 1464.7h4.8m-2.4-2.4v4.8M708 1570.4h4.8m-2.4-2.4v4.8M767.6 1466.4h4.8m-2.4-2.4v4.8M734.1 1506.8h4.8m-2.4-2.4v4.8M803.9 1527.3h4.8m-2.4-2.4v4.8M657.7 1524.3h4.8m-2.4-2.4v4.8M658 1557.6h4.8m-2.4-2.4v4.8M861 1482.8h4.8m-2.4-2.4v4.8M666.5 1509.6h4.8m-2.4-2.4v4.8M676.9 1567.6h4.8m-2.4-2.4v4.8M734.4 1539.4h4.8m-2.4-2.4v4.8M856.4 1547.2h4.8m-2.4-2.4v4.8M820.4 1473.7h4.8m-2.4-2.4v4.8M870.4 1589.9h4.8m-2.4-2.4v4.8M722.3 1438.3h4.8m-2.4-2.4v4.8M872.5 1577.6h4.8m-2.4-2.4v4.8M845.8 1503.3h4.8m-2.4-2.4v4.8M714.2 1458.2h4.8m-2.4-2.4v4.8M813.1 1462.2h4.8m-2.4-2.4v4.8M765.5 1440.1h4.8m-2.4-2.4v4.8M886.5 1564.3h4.8m-2.4-2.4v4.8M832.7 1487h4.8m-2.4-2.4v4.8M873.3 1599.2h4.8m-2.4-2.4v4.8M783.4 1546.1h4.8m-2.4-2.4v4.8M731.6 1528.1h4.8m-2.4-2.4v4.8M845.7 1434.8h4.8m-2.4-2.4v4.8M857.9 1541.5h4.8m-2.4-2.4v4.8M714.1 1566.2h4.8m-2.4-2.4v4.8M866.9 1457h4.8m-2.4-2.4v4.8M776.6 1471.3h4.8m-2.4-2.4v4.8M870 1456.2h4.8m-2.4-2.4v4.8M770.6 1586.8h4.8m-2.4-2.4v4.8M822.1 1607.3h4.8m-2.4-2.4v4.8M786.2 1556.4h4.8m-2.4-2.4v4.8M878.3 1547.8h4.8m-2.4-2.4v4.8M815.1 1484.6h4.8m-2.4-2.4v4.8M786.1 1472.1h4.8m-2.4-2.4v4.8M813 1506.8h4.8m-2.4-2.4v4.8M865.3 1594.2h4.8m-2.4-2.4v4.8M766.5 1453h4.8m-2.4-2.4v4.8M680 1496.6h4.8m-2.4-2.4v4.8M728.8 1428.2h4.8m-2.4-2.4v4.8M810.4 1451.9h4.8m-2.4-2.4v4.8M848.4 1526.3h4.8m-2.4-2.4v4.8M811.4 1448h4.8m-2.4-2.4v4.8M737.7 1631.6h4.8m-2.4-2.4v4.8M858 1462.8h4.8m-2.4-2.4v4.8M739.9 1537h4.8m-2.4-2.4v4.8M803.2 1625.9h4.8m-2.4-2.4v4.8M877 1523.9h4.8m-2.4-2.4v4.8M741.6 1635.2h4.8m-2.4-2.4v4.8M702.6 1491.1h4.8m-2.4-2.4v4.8M836.2 1503h4.8m-2.4-2.4v4.8M824.1 1467.7h4.8m-2.4-2.4v4.8M707.2 1611.1h4.8m-2.4-2.4v4.8M752.1 1591.1h4.8m-2.4-2.4v4.8M888.3 1586.1h4.8m-2.4-2.4v4.8M707.8 1529h4.8m-2.4-2.4v4.8M793 1619.8h4.8m-2.4-2.4v4.8M714.5 1546.3h4.8m-2.4-2.4v4.8M725.3 1459.5h4.8m-2.4-2.4v4.8M889.1 1597.5h4.8m-2.4-2.4v4.8M691.1 1524.7h4.8m-2.4-2.4v4.8M712.4 1615.9h4.8m-2.4-2.4v4.8M803.9 1600.4h4.8m-2.4-2.4v4.8M773.4 1585.7h4.8m-2.4-2.4v4.8M718.7 1587.8h4.8m-2.4-2.4v4.8M816.4 1644.9h4.8m-2.4-2.4v4.8M768.5 1614.4h4.8m-2.4-2.4v4.8M877.7 1463.1h4.8m-2.4-2.4v4.8M779.6 1555.7h4.8m-2.4-2.4v4.8M732.5 1560.1h4.8m-2.4-2.4v4.8M801.2 1533.2h4.8m-2.4-2.4v4.8M697.9 1558.3h4.8m-2.4-2.4v4.8M838.7 1639.6h4.8m-2.4-2.4v4.8M850.4 1487.9h4.8m-2.4-2.4v4.8M788.3 1531.1h4.8m-2.4-2.4v4.8M772.7 1531.1h4.8m-2.4-2.4v4.8M775.7 1593.1h4.8m-2.4-2.4v4.8M781 1518.5h4.8m-2.4-2.4v4.8M752.7 1405.3h4.8m-2.4-2.4v4.8M878.5 1544.4h4.8m-2.4-2.4v4.8M770.1 1444.5h4.8m-2.4-2.4v4.8M833.1 1561.1h4.8m-2.4-2.4v4.8M860.5 1561.7h4.8m-2.4-2.4v4.8M833.8 1584.4h4.8m-2.4-2.4v4.8M735.7 1553.2h4.8m-2.4-2.4v4.8M870.7 1491.6h4.8m-2.4-2.4v4.8M710 1524.6h4.8m-2.4-2.4v4.8M816.1 1560.9h4.8m-2.4-2.4v4.8M758.3 1554.1h4.8m-2.4-2.4v4.8M788.6 1428.2h4.8m-2.4-2.4v4.8M865.1 1624.8h4.8m-2.4-2.4v4.8M835.1 1520.3h4.8m-2.4-2.4v4.8M792.4 1515.4h4.8m-2.4-2.4v4.8M741.1 1460.8h4.8m-2.4-2.4v4.8M721.3 1563.1h4.8m-2.4-2.4v4.8M882.2 1535h4.8m-2.4-2.4v4.8M859.5 1588.2h4.8m-2.4-2.4v4.8M862.3 1566.3h4.8m-2.4-2.4v4.8M739.7 1486.3h4.8m-2.4-2.4v4.8M806.7 1502.5h4.8m-2.4-2.4v4.8M708.1 1453.7h4.8m-2.4-2.4v4.8" stroke="#2171b5" stroke-width="2.3" fill="none"/><path d="M759.7 1481.7h4.8m-2.4-2.4v4.8M822.8 1577.2h4.8m-2.4-2.4v4.8M788.3 1578.7h4.8m-2.4-2.4v4.8M723 1612.8h4.8m-2.4-2.4v4.8M850.2 1465.1h4.8m-2.4-2.4v4.8M721.7 1571.4h4.8m-2.4-2.4v4.8M872 1506h4.8m-2.4-2.4v4.8M827.5 1644.6h4.8m-2.4-2.4v4.8M670.5 1579.4h4.8m-2.4-2.4v4.8M708.1 1605.7h4.8m-2.4-2.4v4.8M816.5 1631.9h4.8m-2.4-2.4v4.8M828.7 1636.5h4.8m-2.4-2.4v4.8M772 1437.5h4.8m-2.4-2.4v4.8M803.6 1584.6h4.8m-2.4-2.4v4.8M712.5 1587.3h4.8m-2.4-2.4v4.8M872.9 1523.3h4.8m-2.4-2.4v4.8M704.1 1443.1h4.8m-2.4-2.4v4.8M701.8 1600.9h4.8m-2.4-2.4v4.8M804.9 1651.9h4.8m-2.4-2.4v4.8M852.7 1614.2h4.8m-2.4-2.4v4.8M862 1585h4.8m-2.4-2.4v4.8M847.4 1448.2h4.8m-2.4-2.4v4.8M733.2 1599.7h4.8m-2.4-2.4v4.8M870 1580.3h4.8m-2.4-2.4v4.8M732.8 1549.5h4.8m-2.4-2.4v4.8M681.8 1514.8h4.8m-2.4-2.4v4.8M870.4 1625.1h4.8m-2.4-2.4v4.8M845 1448.5h4.8m-2.4-2.4v4.8M773.6 1606.8h4.8m-2.4-2.4v4.8M708.3 1617.5h4.8m-2.4-2.4v4.8M731.4 1476.2h4.8m-2.4-2.4v4.8M694.6 1537.5h4.8m-2.4-2.4v4.8M723.8 1593.8h4.8m-2.4-2.4v4.8M767.7 1629.2h4.8m-2.4-2.4v4.8M705.1 1453.9h4.8m-2.4-2.4v4.8M676.1 1503.3h4.8m-2.4-2.4v4.8M754.6 1540.1h4.8m-2.4-2.4v4.8M861.8 1575.4h4.8m-2.4-2.4v4.8M736.3 1526.6h4.8m-2.4-2.4v4.8M882.3 1556.3h4.8m-2.4-2.4v4.8M721.5 1608.4h4.8m-2.4-2.4v4.8M762 1557.6h4.8m-2.4-2.4v4.8M885 1485.9h4.8m-2.4-2.4v4.8M827.7 1468.1h4.8m-2.4-2.4v4.8M868.7 1560.7h4.8m-2.4-2.4v4.8M724.5 1446.9h4.8m-2.4-2.4v4.8M716.6 1553.4h4.8m-2.4-2.4v4.8M757.2 1464h4.8m-2.4-2.4v4.8M727.8 1616.1h4.8m-2.4-2.4v4.8M801.3 1645.1h4.8m-2.4-2.4v4.8M848.2 1632.2h4.8m-2.4-2.4v4.8M814.9 1445.4h4.8m-2.4-2.4v4.8M681.2 1543.7h4.8m-2.4-2.4v4.8M829.4 1591h4.8m-2.4-2.4v4.8M860.9 1604h4.8m-2.4-2.4v4.8M812.4 1650.2h4.8m-2.4-2.4v4.8M808.8 1610.6h4.8m-2.4-2.4v4.8M681.6 1562.1h4.8m-2.4-2.4v4.8M717.8 1565.5h4.8m-2.4-2.4v4.8M814.5 1611.6h4.8m-2.4-2.4v4.8M769.7 1639.9h4.8m-2.4-2.4v4.8M764.7 1635.9h4.8m-2.4-2.4v4.8M867.5 1579.7h4.8m-2.4-2.4v4.8M884.5 1598.6h4.8m-2.4-2.4v4.8M713.8 1624.8h4.8m-2.4-2.4v4.8M856.8 1614.7h4.8m-2.4-2.4v4.8M852.7 1630.8h4.8m-2.4-2.4v4.8M826.7 1531.7h4.8m-2.4-2.4v4.8M776.1 1601.5h4.8m-2.4-2.4v4.8M781.3 1589.4h4.8m-2.4-2.4v4.8M848.2 1603.1h4.8m-2.4-2.4v4.8M847.6 1549.9h4.8m-2.4-2.4v4.8M809.9 1557.7h4.8m-2.4-2.4v4.8M829.7 1613.6h4.8m-2.4-2.4v4.8M827.8 1489.5h4.8m-2.4-2.4v4.8M714.5 1539.8h4.8m-2.4-2.4v4.8M863.5 1599.4h4.8m-2.4-2.4v4.8M820 1501.5h4.8m-2.4-2.4v4.8M750.3 1593.8h4.8m-2.4-2.4v4.8M890.8 1584.3h4.8m-2.4-2.4v4.8M794.2 1622.3h4.8m-2.4-2.4v4.8M865 1536.6h4.8m-2.4-2.4v4.8M883.8 1567.4h4.8m-2.4-2.4v4.8M837.6 1514.3h4.8m-2.4-2.4v4.8M692.3 1457.3h4.8m-2.4-2.4v4.8M867.6 1595.1h4.8m-2.4-2.4v4.8M834.3 1543.4h4.8m-2.4-2.4v4.8M819.8 1532h4.8m-2.4-2.4v4.8M790.1 1646.4h4.8m-2.4-2.4v4.8M888.5 1546.9h4.8m-2.4-2.4v4.8M868.1 1600.7h4.8m-2.4-2.4v4.8M806.9 1645.1h4.8m-2.4-2.4v4.8M789.7 1613.2h4.8m-2.4-2.4v4.8M746.4 1633.8h4.8m-2.4-2.4v4.8M863.2 1448.8h4.8m-2.4-2.4v4.8M790.2 1433.7h4.8m-2.4-2.4v4.8M868.4 1587.9h4.8m-2.4-2.4v4.8M876.7 1616.3h4.8m-2.4-2.4v4.8M834.7 1439.1h4.8m-2.4-2.4v4.8M720.2 1600.1h4.8m-2.4-2.4v4.8M788.9 1629.4h4.8m-2.4-2.4v4.8M826.2 1523.9h4.8m-2.4-2.4v4.8M793.5 1520.5h4.8m-2.4-2.4v4.8M770.7 1482.3h4.8m-2.4-2.4v4.8M799.1 1637.9h4.8m-2.4-2.4v4.8M732.8 1425.4h4.8m-2.4-2.4v4.8M770.7 1577h4.8m-2.4-2.4v4.8M858.4 1575.4h4.8m-2.4-2.4v4.8M677.9 1554.8h4.8m-2.4-2.4v4.8M821.5 1621h4.8m-2.4-2.4v4.8M870.3 1613.3h4.8m-2.4-2.4v4.8M877.8 1479.6h4.8m-2.4-2.4v4.8M726.3 1488.5h4.8m-2.4-2.4v4.8M855.6 1454.7h4.8m-2.4-2.4v4.8M834.9 1641.1h4.8m-2.4-2.4v4.8M682.5 1471.7h4.8m-2.4-2.4v4.8M853.5 1637.1h4.8m-2.4-2.4v4.8M816.3 1531.6h4.8m-2.4-2.4v4.8M766.3 1613.7h4.8m-2.4-2.4v4.8M803.8 1570.6h4.8m-2.4-2.4v4.8M764.4 1638.4h4.8m-2.4-2.4v4.8M869.4 1532.1h4.8m-2.4-2.4v4.8M776.6 1623h4.8m-2.4-2.4v4.8M844.4 1587.2h4.8m-2.4-2.4v4.8M721.4 1593.7h4.8m-2.4-2.4v4.8M866.2 1602.6h4.8m-2.4-2.4v4.8M712.5 1476.3h4.8m-2.4-2.4v4.8M870.8 1610.1h4.8m-2.4-2.4v4.8M739.7 1471.7h4.8m-2.4-2.4v4.8M806.1 1647.6h4.8m-2.4-2.4v4.8M848.9 1535.9h4.8m-2.4-2.4v4.8M876.9 1561.9h4.8m-2.4-2.4v4.8M693.8 1497.3h4.8m-2.4-2.4v4.8M778.8 1544.6h4.8m-2.4-2.4v4.8M729.6 1514.3h4.8m-2.4-2.4v4.8M783.2 1539.8h4.8m-2.4-2.4v4.8M814 1582.6h4.8m-2.4-2.4v4.8M881 1598.3h4.8m-2.4-2.4v4.8M863.2 1444.3h4.8m-2.4-2.4v4.8M786.7 1597.1h4.8m-2.4-2.4v4.8M766.8 1576.8h4.8m-2.4-2.4v4.8M781.1 1594.7h4.8m-2.4-2.4v4.8M664.1 1538.3h4.8m-2.4-2.4v4.8M886.5 1576.9h4.8m-2.4-2.4v4.8M669 1532h4.8m-2.4-2.4v4.8M819.8 1646.5h4.8m-2.4-2.4v4.8M783.5 1506.3h4.8m-2.4-2.4v4.8M807.3 1522h4.8m-2.4-2.4v4.8M722.8 1610.3h4.8m-2.4-2.4v4.8M748.1 1623.9h4.8m-2.4-2.4v4.8M809.2 1581.5h4.8m-2.4-2.4v4.8M687.5 1603.2h4.8m-2.4-2.4v4.8M740.3 1569.7h4.8m-2.4-2.4v4.8M767.7 1514.9h4.8m-2.4-2.4v4.8M761.2 1616h4.8m-2.4-2.4v4.8M865.3 1567.1h4.8m-2.4-2.4v4.8M722.8 1600.4h4.8m-2.4-2.4v4.8M793.8 1638.3h4.8m-2.4-2.4v4.8M731.1 1501.4h4.8m-2.4-2.4v4.8M693.3 1601.9h4.8m-2.4-2.4v4.8M860.8 1531.9h4.8m-2.4-2.4v4.8M789.8 1533.8h4.8m-2.4-2.4v4.8M761.1 1453.4h4.8m-2.4-2.4v4.8M838.5 1588.5h4.8m-2.4-2.4v4.8M725.6 1529.2h4.8m-2.4-2.4v4.8M668.8 1529.5h4.8m-2.4-2.4v4.8M884.7 1592.9h4.8m-2.4-2.4v4.8M659.5 1514.9h4.8m-2.4-2.4v4.8M885.1 1603.9h4.8m-2.4-2.4v4.8M810.4 1617.5h4.8m-2.4-2.4v4.8M683.1 1599.6h4.8m-2.4-2.4v4.8M753.5 1560.5h4.8m-2.4-2.4v4.8M872.6 1565.3h4.8m-2.4-2.4v4.8M867.7 1477.9h4.8m-2.4-2.4v4.8M739.7 1456.6h4.8m-2.4-2.4v4.8M772.1 1583.4h4.8m-2.4-2.4v4.8M801.4 1604.4h4.8m-2.4-2.4v4.8M755.9 1519.6h4.8m-2.4-2.4v4.8M749 1590.1h4.8m-2.4-2.4v4.8M764.3 1572.6h4.8m-2.4-2.4v4.8M739.8 1417.2h4.8m-2.4-2.4v4.8M843.1 1626.5h4.8m-2.4-2.4v4.8M820.3 1631.1h4.8m-2.4-2.4v4.8M789.8 1601.7h4.8m-2.4-2.4v4.8M830.3 1526.9h4.8m-2.4-2.4v4.8M713.7 1585.4h4.8m-2.4-2.4v4.8M791.5 1512.5h4.8m-2.4-2.4v4.8M838.8 1599.3h4.8m-2.4-2.4v4.8M714.4 1596.2h4.8m-2.4-2.4v4.8M792.7 1649.2h4.8m-2.4-2.4v4.8M741.2 1578h4.8m-2.4-2.4v4.8M767.6 1460.8h4.8m-2.4-2.4v4.8M796.2 1612.9h4.8m-2.4-2.4v4.8M808.2 1525.4h4.8m-2.4-2.4v4.8M842.2 1543.6h4.8m-2.4-2.4v4.8M793 1527.2h4.8m-2.4-2.4v4.8M796 1517.4h4.8m-2.4-2.4v4.8M824 1602.4h4.8m-2.4-2.4v4.8M689.2 1610.8h4.8m-2.4-2.4v4.8M700.2 1559.7h4.8m-2.4-2.4v4.8M827.4 1576.9h4.8m-2.4-2.4v4.8M751.3 1422h4.8m-2.4-2.4v4.8M775.8 1551h4.8m-2.4-2.4v4.8M817 1655.1h4.8m-2.4-2.4v4.8M832.7 1537.1h4.8m-2.4-2.4v4.8M781.3 1600.2h4.8m-2.4-2.4v4.8M729.1 1442.7h4.8m-2.4-2.4v4.8M718.6 1614.9h4.8m-2.4-2.4v4.8M801.4 1519.1h4.8m-2.4-2.4v4.8M832.4 1524.7h4.8m-2.4-2.4v4.8M700.3 1611.7h4.8m-2.4-2.4v4.8M776.4 1468.4h4.8m-2.4-2.4v4.8M786.9 1608.4h4.8m-2.4-2.4v4.8M760.5 1476.7h4.8m-2.4-2.4v4.8M742.7 1456.9h4.8m-2.4-2.4v4.8M767.9 1641.6h4.8m-2.4-2.4v4.8M801 1445.2h4.8m-2.4-2.4v4.8M860.8 1596.5h4.8m-2.4-2.4v4.8M775 1634.3h4.8m-2.4-2.4v4.8M823.8 1593.2h4.8m-2.4-2.4v4.8M883 1570.2h4.8m-2.4-2.4v4.8M775.4 1651.8h4.8m-2.4-2.4v4.8M791.4 1496.2h4.8m-2.4-2.4v4.8M753.5 1579.3h4.8m-2.4-2.4v4.8M735.4 1591.7h4.8m-2.4-2.4v4.8M880.6 1584.7h4.8m-2.4-2.4v4.8M787.2 1651.2h4.8m-2.4-2.4v4.8M881.3 1602.9h4.8m-2.4-2.4v4.8M880.3 1537.9h4.8m-2.4-2.4v4.8M788.3 1626.9h4.8m-2.4-2.4v4.8M824.9 1483.7h4.8m-2.4-2.4v4.8M865.1 1550.4h4.8m-2.4-2.4v4.8M876.5 1572.5h4.8m-2.4-2.4v4.8M685.3 1527.3h4.8m-2.4-2.4v4.8M881 1568.5h4.8m-2.4-2.4v4.8M853.2 1563h4.8m-2.4-2.4v4.8M870.1 1598.2h4.8m-2.4-2.4v4.8M846.2 1607.4h4.8m-2.4-2.4v4.8M776.7 1578.9h4.8m-2.4-2.4v4.8M849.9 1457.8h4.8m-2.4-2.4v4.8M788.4 1620h4.8m-2.4-2.4v4.8M799.2 1536.4h4.8m-2.4-2.4v4.8M761.3 1449.3h4.8m-2.4-2.4v4.8M823.3 1636.3h4.8m-2.4-2.4v4.8M717.6 1532.1h4.8m-2.4-2.4v4.8M889.4 1574.9h4.8m-2.4-2.4v4.8M666.7 1577.9h4.8m-2.4-2.4v4.8M791.7 1568.2h4.8m-2.4-2.4v4.8M836.1 1610.2h4.8m-2.4-2.4v4.8M858.2 1612.1h4.8m-2.4-2.4v4.8M704 1571.9h4.8m-2.4-2.4v4.8M804.8 1587h4.8m-2.4-2.4v4.8M710.7 1504.4h4.8m-2.4-2.4v4.8M850.4 1524h4.8m-2.4-2.4v4.8M788.2 1569.6h4.8m-2.4-2.4v4.8M864.6 1473.2h4.8m-2.4-2.4v4.8M874.1 1586.5h4.8m-2.4-2.4v4.8M838.2 1556.9h4.8m-2.4-2.4v4.8M763.2 1541.2h4.8m-2.4-2.4v4.8M805 1631.1h4.8m-2.4-2.4v4.8M724.3 1591.3h4.8m-2.4-2.4v4.8M675.6 1561.4h4.8m-2.4-2.4v4.8M688.4 1582.9h4.8m-2.4-2.4v4.8M662.3 1552.9h4.8m-2.4-2.4v4.8M708.3 1488.3h4.8m-2.4-2.4v4.8M829.6 1626.9h4.8m-2.4-2.4v4.8M869.7 1565.2h4.8m-2.4-2.4v4.8M872.9 1560.9h4.8m-2.4-2.4v4.8M698.2 1544.8h4.8m-2.4-2.4v4.8M760 1540.5h4.8m-2.4-2.4v4.8M722.1 1513.6h4.8m-2.4-2.4v4.8M675.6 1591.3h4.8m-2.4-2.4v4.8M872.7 1554.7h4.8m-2.4-2.4v4.8M811.3 1476h4.8m-2.4-2.4v4.8M819.7 1593.4h4.8m-2.4-2.4v4.8M680.3 1505.1h4.8m-2.4-2.4v4.8M673.4 1574.8h4.8m-2.4-2.4v4.8M697.2 1612.3h4.8m-2.4-2.4v4.8M789.9 1595.4h4.8m-2.4-2.4v4.8M759.3 1626h4.8m-2.4-2.4v4.8M710.2 1622.5h4.8m-2.4-2.4v4.8M730.8 1517.8h4.8m-2.4-2.4v4.8M774.1 1578.1h4.8m-2.4-2.4v4.8M832.6 1546.3h4.8m-2.4-2.4v4.8M710.2 1575.6h4.8m-2.4-2.4v4.8M877 1613h4.8m-2.4-2.4v4.8M777.8 1593.9h4.8m-2.4-2.4v4.8M837.9 1571.8h4.8m-2.4-2.4v4.8M715.7 1570.6h4.8m-2.4-2.4v4.8M769.1 1647.1h4.8m-2.4-2.4v4.8M687.3 1469.9h4.8m-2.4-2.4v4.8M691.9 1591.3h4.8m-2.4-2.4v4.8M656.9 1544.5h4.8m-2.4-2.4v4.8M680.4 1568.1h4.8m-2.4-2.4v4.8M750 1640.7h4.8m-2.4-2.4v4.8M722.9 1555.1h4.8m-2.4-2.4v4.8M762.3 1624.5h4.8m-2.4-2.4v4.8M804.6 1595h4.8m-2.4-2.4v4.8M846.1 1480.2h4.8m-2.4-2.4v4.8" stroke="#1461a8" stroke-width="2.3" fill="none"/><path d="M768.6 1572.2h4.8m-2.4-2.4v4.8M785.1 1492.1h4.8m-2.4-2.4v4.8M730.9 1624.2h4.8m-2.4-2.4v4.8M808.8 1620.9h4.8m-2.4-2.4v4.8M732.6 1575.3h4.8m-2.4-2.4v4.8M799 1640.6h4.8m-2.4-2.4v4.8M815.9 1567.3h4.8m-2.4-2.4v4.8M679.2 1541.4h4.8m-2.4-2.4v4.8M691.3 1531h4.8m-2.4-2.4v4.8M829.8 1634.4h4.8m-2.4-2.4v4.8M845.1 1551.5h4.8m-2.4-2.4v4.8M825.7 1538.2h4.8m-2.4-2.4v4.8M883.3 1582.1h4.8m-2.4-2.4v4.8M685.3 1563.7h4.8m-2.4-2.4v4.8M787.1 1433.2h4.8m-2.4-2.4v4.8M821.5 1639.7h4.8m-2.4-2.4v4.8M725.4 1438.7h4.8m-2.4-2.4v4.8M788.5 1510.5h4.8m-2.4-2.4v4.8M803.4 1434.1h4.8m-2.4-2.4v4.8M830.4 1509.2h4.8m-2.4-2.4v4.8M684.2 1607.4h4.8m-2.4-2.4v4.8M845.8 1562.9h4.8m-2.4-2.4v4.8M727.4 1521.9h4.8m-2.4-2.4v4.8M750.4 1452.6h4.8m-2.4-2.4v4.8M816.2 1579.4h4.8m-2.4-2.4v4.8M824.4 1599.2h4.8m-2.4-2.4v4.8M800.8 1588.2h4.8m-2.4-2.4v4.8M830.7 1581.3h4.8m-2.4-2.4v4.8M757.1 1643.9h4.8m-2.4-2.4v4.8M710.5 1605.2h4.8m-2.4-2.4v4.8M678.8 1511.8h4.8m-2.4-2.4v4.8M736.8 1625.6h4.8m-2.4-2.4v4.8M763.4 1613.8h4.8m-2.4-2.4v4.8M787.6 1602.9h4.8m-2.4-2.4v4.8M693.9 1606.4h4.8m-2.4-2.4v4.8M724.3 1567.1h4.8m-2.4-2.4v4.8M782 1622h4.8m-2.4-2.4v4.8M784.8 1620.7h4.8m-2.4-2.4v4.8M756.6 1632.8h4.8m-2.4-2.4v4.8M884.4 1530h4.8m-2.4-2.4v4.8M776.7 1476h4.8m-2.4-2.4v4.8M842.8 1579.6h4.8m-2.4-2.4v4.8M681.9 1548h4.8m-2.4-2.4v4.8M802.2 1544.7h4.8m-2.4-2.4v4.8M788.5 1606.2h4.8m-2.4-2.4v4.8M837.1 1629.4h4.8m-2.4-2.4v4.8M792.8 1608.1h4.8m-2.4-2.4v4.8M762.4 1627.5h4.8m-2.4-2.4v4.8M724.8 1608.5h4.8m-2.4-2.4v4.8M728.3 1608.1h4.8m-2.4-2.4v4.8M727.9 1603.6h4.8m-2.4-2.4v4.8M848 1594.9h4.8m-2.4-2.4v4.8M703.4 1591.6h4.8m-2.4-2.4v4.8M746.9 1564.1h4.8m-2.4-2.4v4.8M820.7 1584.2h4.8m-2.4-2.4v4.8M817.3 1523.7h4.8m-2.4-2.4v4.8M783.5 1606.7h4.8m-2.4-2.4v4.8M732.7 1563.4h4.8m-2.4-2.4v4.8M744.4 1577.2h4.8m-2.4-2.4v4.8M863.1 1542.3h4.8m-2.4-2.4v4.8M726.2 1588h4.8m-2.4-2.4v4.8M695.4 1569.8h4.8m-2.4-2.4v4.8M840.7 1625h4.8m-2.4-2.4v4.8M679 1564.6h4.8m-2.4-2.4v4.8M752.2 1605.1h4.8m-2.4-2.4v4.8M746.3 1596.3h4.8m-2.4-2.4v4.8M761.9 1603.8h4.8m-2.4-2.4v4.8M753 1581.5h4.8m-2.4-2.4v4.8M835.9 1644.4h4.8m-2.4-2.4v4.8M763.7 1605.1h4.8m-2.4-2.4v4.8M743.8 1601.4h4.8m-2.4-2.4v4.8M824.9 1488.6h4.8m-2.4-2.4v4.8M759.9 1493.2h4.8m-2.4-2.4v4.8M732.9 1612.9h4.8m-2.4-2.4v4.8M841.4 1597.6h4.8m-2.4-2.4v4.8M820.1 1634.8h4.8m-2.4-2.4v4.8M761.1 1502h4.8m-2.4-2.4v4.8M748.2 1578.1h4.8m-2.4-2.4v4.8M881.6 1484.5h4.8m-2.4-2.4v4.8M720.1 1606h4.8m-2.4-2.4v4.8M791.4 1641.2h4.8m-2.4-2.4v4.8M659.5 1559.8h4.8m-2.4-2.4v4.8M861.3 1622.2h4.8m-2.4-2.4v4.8M729.8 1496.3h4.8m-2.4-2.4v4.8M755 1601.9h4.8m-2.4-2.4v4.8M678.9 1549.4h4.8m-2.4-2.4v4.8M729.5 1580.1h4.8m-2.4-2.4v4.8M675.3 1534.6h4.8m-2.4-2.4v4.8M736.5 1574.8h4.8m-2.4-2.4v4.8M887.2 1533.9h4.8m-2.4-2.4v4.8M803.3 1650.1h4.8m-2.4-2.4v4.8M768.1 1619.1h4.8m-2.4-2.4v4.8M874.9 1607.4h4.8m-2.4-2.4v4.8M692.2 1543.2h4.8m-2.4-2.4v4.8M890.3 1588.3h4.8m-2.4-2.4v4.8M885.6 1608.4h4.8m-2.4-2.4v4.8M746.7 1570.2h4.8m-2.4-2.4v4.8M874.3 1479.5h4.8m-2.4-2.4v4.8M756.5 1629.8h4.8m-2.4-2.4v4.8M718.6 1622.1h4.8m-2.4-2.4v4.8M841.3 1479.7h4.8m-2.4-2.4v4.8M701.1 1540.3h4.8m-2.4-2.4v4.8M793.2 1557.4h4.8m-2.4-2.4v4.8M802.4 1617.9h4.8m-2.4-2.4v4.8M761.8 1499.8h4.8m-2.4-2.4v4.8M805.6 1639h4.8m-2.4-2.4v4.8M792.8 1651.7h4.8m-2.4-2.4v4.8M787.6 1615.3h4.8m-2.4-2.4v4.8M857.4 1525h4.8m-2.4-2.4v4.8M717.9 1543h4.8m-2.4-2.4v4.8M884.7 1611.4h4.8m-2.4-2.4v4.8M853.5 1493.1h4.8m-2.4-2.4v4.8" stroke="#08519c" stroke-width="2.3" fill="none"/><path d="M845.4 1623.3h4.8m-2.4-2.4v4.8M829.5 1595.3h4.8m-2.4-2.4v4.8M763.3 1536h4.8m-2.4-2.4v4.8M683.8 1594.8h4.8m-2.4-2.4v4.8M777.9 1591.5h4.8m-2.4-2.4v4.8M815.5 1558.1h4.8m-2.4-2.4v4.8M739.3 1590.9h4.8m-2.4-2.4v4.8M853.5 1516.4h4.8m-2.4-2.4v4.8M785.4 1611.7h4.8m-2.4-2.4v4.8M784.1 1569.1h4.8m-2.4-2.4v4.8M749.3 1636.7h4.8m-2.4-2.4v4.8M780.1 1558.1h4.8m-2.4-2.4v4.8M792.3 1563.7h4.8m-2.4-2.4v4.8M673.1 1571h4.8m-2.4-2.4v4.8M711.2 1611.2h4.8m-2.4-2.4v4.8M824.4 1549.4h4.8m-2.4-2.4v4.8M782.8 1535.2h4.8m-2.4-2.4v4.8" stroke="#084084" stroke-width="2.3" fill="none"/><path d="M744.8 1626.4h4.8m-2.4-2.4v4.8M865.6 1627.7h4.8m-2.4-2.4v4.8M681.6 1594.3h4.8m-2.4-2.4v4.8M850.2 1639.4h4.8m-2.4-2.4v4.8M883.8 1573.7h4.8m-2.4-2.4v4.8M802.3 1539.7h4.8m-2.4-2.4v4.8" stroke="#08306b" stroke-width="2.3" fill="none"/><path d="M886.6 786L895.3 798.8M912.1 824.3L920.8 837.4" stroke="#000" stroke-width="3.4" fill="none"/><circle cx="903.6" cy="811.4" r="2.4" fill="#000"/><path d="M870.8 761.4L886 770.7L872.6 779.6Z" fill="#000"/><path d="M1040.5 1569V1510M1038.9 1569H1097" stroke="#000" stroke-width="3.3" fill="none"/><path d="M1040.5 1497.3L1048.7 1513.5H1032.3Z" fill="#000"/><path d="M1110.5 1569.1L1095 1561.3V1576.9Z" fill="#000"/><text transform="translate(1019 1520.2) rotate(-90)" text-anchor="middle" font-size="29.4" fill="#000">UMAP2</text><text x="1038.5" y="1609.5" font-size="28.6" fill="#000">UMAP1</text><text x="1197.5" y="1440.5" font-size="29.5" fill="#000">log (TPM+1)</text><defs><linearGradient id="gb" x1="0" y1="0" x2="0" y2="1"><stop offset="0" stop-color="#08306b"/><stop offset="0.25" stop-color="#1f6db1"/><stop offset="0.5" stop-color="#4a98c9"/><stop offset="0.75" stop-color="#a6cde4"/><stop offset="1" stop-color="#ffffff"/></linearGradient><linearGradient id="gr" x1="0" y1="0" x2="0" y2="1"><stop offset="0" stop-color="#67000d"/><stop offset="0.25" stop-color="#cf1a1f"/><stop offset="0.5" stop-color="#fb6647"/><stop offset="0.75" stop-color="#fcb89e"/><stop offset="1" stop-color="#ffffff"/></linearGradient></defs><rect x="1215.7" y="1458.3" width="29.4" height="153.4" fill="url(#gb)"/><rect x="1269.6" y="1458.3" width="29.4" height="153.4" fill="url(#gr)"/><path d="M1215.7 1488.4h4M1245.1000000000001 1488.4h-7M1269.6 1488.4h4M1299.0 1488.4h-7M1215.7 1534.4h4M1245.1000000000001 1534.4h-7M1269.6 1534.4h4M1299.0 1534.4h-7M1215.7 1580.6h4M1245.1000000000001 1580.6h-7M1269.6 1580.6h4M1299.0 1580.6h-7" stroke="#fff" stroke-width="1.6"/><text x="1313.5" y="1496.8" font-size="23.5" fill="#222">7.5</text><text x="1313.5" y="1542.8" font-size="23.5" fill="#222">5.0</text><text x="1313.5" y="1589" font-size="23.5" fill="#222">2.5</text></svg></body></html>
